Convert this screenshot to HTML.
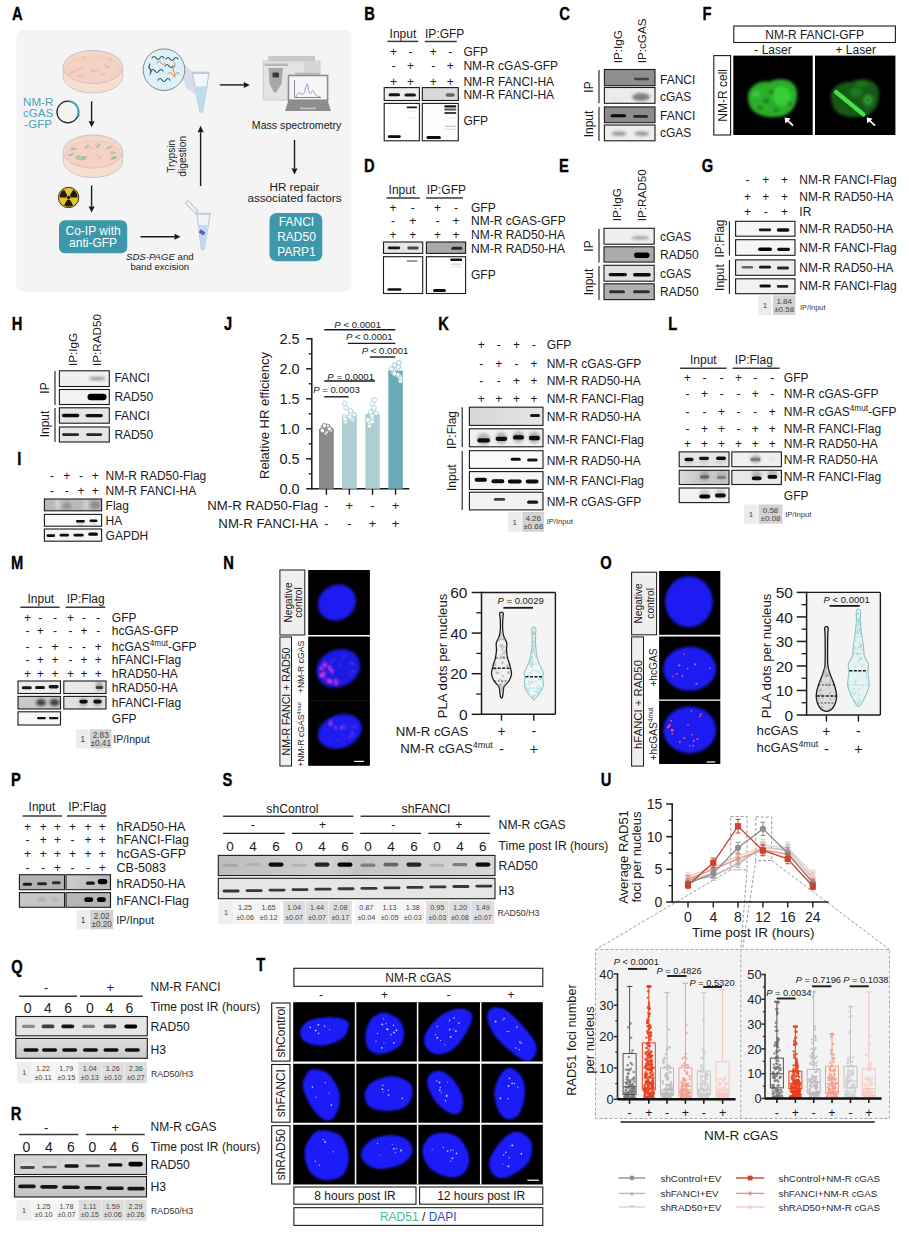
<!DOCTYPE html>
<html><head><meta charset="utf-8"><title>Figure</title>
<style>html,body{margin:0;padding:0;background:#fff;} svg{display:block;font-family:'Liberation Sans', Arial, sans-serif;}</style>
</head><body>
<svg width="909" height="1235" viewBox="0 0 909 1235">
<defs>
<filter id="b1" x="-50%" y="-100%" width="200%" height="300%"><feGaussianBlur stdDeviation="0.6"/></filter>
<filter id="b2" x="-50%" y="-100%" width="200%" height="300%"><feGaussianBlur stdDeviation="1.6"/></filter>
<filter id="b3" x="-50%" y="-50%" width="200%" height="200%"><feGaussianBlur stdDeviation="2.5"/></filter>
<filter id="b15" x="-50%" y="-50%" width="200%" height="200%"><feGaussianBlur stdDeviation="1.1"/></filter>
<filter id="bs" x="-50%" y="-50%" width="200%" height="200%"><feGaussianBlur stdDeviation="0.4"/></filter>
<linearGradient id="gD" x1="0" x2="1" y1="0" y2="0"><stop offset="0" stop-color="#8e8e8e"/><stop offset="1" stop-color="#c4c4c4"/></linearGradient>
<linearGradient id="gS" x1="0" x2="1" y1="0" y2="0"><stop offset="0" stop-color="#bdbdbd"/><stop offset="0.25" stop-color="#c8c8c8"/><stop offset="0.4" stop-color="#d2d2d2"/><stop offset="0.5" stop-color="#c4c4c4"/><stop offset="0.75" stop-color="#cfcfcf"/><stop offset="1" stop-color="#d8d8d8"/></linearGradient>
<linearGradient id="gK" x1="0" x2="1" y1="0" y2="0"><stop offset="0" stop-color="#d6d6d6"/><stop offset="1" stop-color="#e6e6e6"/></linearGradient>
<linearGradient id="gL" x1="0" x2="1" y1="0" y2="0"><stop offset="0" stop-color="#dcdcdc"/><stop offset="0.35" stop-color="#cacaca"/><stop offset="1" stop-color="#c6c6c6"/></linearGradient>
<linearGradient id="gP" x1="0" x2="1" y1="0" y2="0"><stop offset="0" stop-color="#cdcdcd"/><stop offset="1" stop-color="#b6b6b6"/></linearGradient>
<linearGradient id="gH3" x1="0" x2="0" y1="0" y2="1"><stop offset="0" stop-color="#dedede"/><stop offset="1" stop-color="#cacaca"/></linearGradient>
<linearGradient id="gH3b" x1="0" x2="0" y1="0" y2="1"><stop offset="0" stop-color="#d4d4d4"/><stop offset="1" stop-color="#c4c4c4"/></linearGradient>
</defs>
<rect width="909" height="1235" fill="#fff"/>
<text x="0" y="0" transform="translate(12.10,19.60) scale(0.8,1)" fill="#000" stroke="#000" stroke-width="0.35" style="font-size:18.4px;font-weight:bold">A</text>
<rect x="16.20" y="30.00" width="335.30" height="261.50" fill="#f4f4f4" rx="7" />
<path d="M63.2,67.0 L63.2,76.5 A29.7,16.5 0 0 0 122.6,76.5 L122.6,67.0 Z" fill="#f7dfcf" stroke="#c9c3cc" stroke-width="0.9"/>
<ellipse cx="92.9" cy="67.0" rx="29.7" ry="16.5" fill="#f4d7c6" stroke="#c6c3d2" stroke-width="1"/>
<ellipse cx="92.9" cy="69.5" rx="27.2" ry="13.5" fill="#f5d3c2" stroke="#e4c4b8" stroke-width="0.6"/>
<ellipse cx="81.4" cy="67.8" rx="3.2" ry="1.1" transform="rotate(-10.403586676153658 81.4 67.8)" fill="#eab3ad" opacity="0.5"/>
<ellipse cx="97.5" cy="69.3" rx="3.2" ry="1.1" transform="rotate(-34.75769126081495 97.5 69.3)" fill="#eab3ad" opacity="0.5"/>
<ellipse cx="71.5" cy="73.1" rx="3.2" ry="1.1" transform="rotate(-19.251678853759387 71.5 73.1)" fill="#eab3ad" opacity="0.5"/>
<ellipse cx="81.2" cy="75.9" rx="3.2" ry="1.1" transform="rotate(-2.378919398204161 81.2 75.9)" fill="#eab3ad" opacity="0.5"/>
<ellipse cx="107.7" cy="66.6" rx="3.2" ry="1.1" transform="rotate(11.125451243532957 107.7 66.6)" fill="#eab3ad" opacity="0.5"/>
<ellipse cx="77.5" cy="69.4" rx="3.2" ry="1.1" transform="rotate(29.443624571463744 77.5 69.4)" fill="#eab3ad" opacity="0.5"/>
<ellipse cx="93.9" cy="71.3" rx="3.2" ry="1.1" transform="rotate(13.712918029567405 93.9 71.3)" fill="#eab3ad" opacity="0.5"/>
<ellipse cx="73.7" cy="71.6" rx="3.2" ry="1.1" transform="rotate(7.287966634505409 73.7 71.6)" fill="#eab3ad" opacity="0.5"/>
<ellipse cx="84.2" cy="58.6" rx="3.2" ry="1.1" transform="rotate(29.242178958315648 84.2 58.6)" fill="#eab3ad" opacity="0.5"/>
<ellipse cx="91.7" cy="70.9" rx="3.2" ry="1.1" transform="rotate(30.305024020438537 91.7 70.9)" fill="#eab3ad" opacity="0.5"/>
<ellipse cx="102.3" cy="74.6" rx="3.2" ry="1.1" transform="rotate(-8.402927679940486 102.3 74.6)" fill="#eab3ad" opacity="0.5"/>
<ellipse cx="106.1" cy="66.0" rx="3.2" ry="1.1" transform="rotate(34.84693773636168 106.1 66.0)" fill="#eab3ad" opacity="0.5"/>
<ellipse cx="109.6" cy="59.8" rx="3.2" ry="1.1" transform="rotate(-29.122491183946487 109.6 59.8)" fill="#eab3ad" opacity="0.5"/>
<ellipse cx="80.4" cy="75.4" rx="3.2" ry="1.1" transform="rotate(-5.107050669805659 80.4 75.4)" fill="#eab3ad" opacity="0.5"/>
<text x="38.20" y="106.18" text-anchor="middle" fill="#4aa3b6" style="font-size:11.6px">NM-R</text>
<text x="38.20" y="117.08" text-anchor="middle" fill="#4aa3b6" style="font-size:11.6px">cGAS</text>
<text x="38.20" y="127.98" text-anchor="middle" fill="#4aa3b6" style="font-size:11.6px">-GFP</text>
<circle cx="67.8" cy="112" r="10.8" fill="none" stroke="#2a2a2a" stroke-width="1.3"/>
<path d="M70,101.3 A10.8,10.8 0 0 1 78.3,114.5" fill="none" stroke="#4aa3b6" stroke-width="1.8"/>
<polygon points="76.5,114.6 80.5,114.4 78.4,117.4" fill="#4aa3b6"/>
<line x1="91.60" y1="101.40" x2="91.60" y2="121.30" stroke="#1a1a1a" stroke-width="1.4" stroke-linecap="butt"/>
<polygon points="91.60,127.30 88.60,121.30 94.60,121.30" fill="#1a1a1a"/>
<path d="M63.2,151.5 L63.2,161.0 A29.7,16.5 0 0 0 122.6,161.0 L122.6,151.5 Z" fill="#f7dfcf" stroke="#c9c3cc" stroke-width="0.9"/>
<ellipse cx="92.9" cy="151.5" rx="29.7" ry="16.5" fill="#f4d7c6" stroke="#c6c3d2" stroke-width="1"/>
<ellipse cx="92.9" cy="154.0" rx="27.2" ry="13.5" fill="#f5d3c2" stroke="#e4c4b8" stroke-width="0.6"/>
<ellipse cx="98.3" cy="155.9" rx="3.2" ry="1.1" transform="rotate(23.615485245255734 98.3 155.9)" fill="#eab3ad" opacity="0.5"/>
<ellipse cx="112.4" cy="155.8" rx="3.2" ry="1.1" transform="rotate(33.78599973323335 112.4 155.8)" fill="#eab3ad" opacity="0.5"/>
<ellipse cx="72.2" cy="151.4" rx="3.2" ry="1.1" transform="rotate(35.468537359865095 72.2 151.4)" fill="#eab3ad" opacity="0.5"/>
<ellipse cx="99.5" cy="158.4" rx="3.2" ry="1.1" transform="rotate(-30.943522827748453 99.5 158.4)" fill="#eab3ad" opacity="0.5"/>
<ellipse cx="91.5" cy="147.9" rx="3.2" ry="1.1" transform="rotate(3.5008687388744306 91.5 147.9)" fill="#eab3ad" opacity="0.5"/>
<ellipse cx="96.2" cy="144.2" rx="3.2" ry="1.1" transform="rotate(-22.66161596289215 96.2 144.2)" fill="#eab3ad" opacity="0.5"/>
<ellipse cx="83.2" cy="158.7" rx="3.2" ry="1.1" transform="rotate(21.25803613033134 83.2 158.7)" fill="#5fb593" opacity="0.5"/>
<ellipse cx="77.9" cy="156.8" rx="3.2" ry="1.1" transform="rotate(-28.898606528087747 77.9 156.8)" fill="#5fb593" opacity="0.5"/>
<ellipse cx="98.1" cy="146.0" rx="3.2" ry="1.1" transform="rotate(-39.85801102379723 98.1 146.0)" fill="#5fb593" opacity="0.5"/>
<ellipse cx="109.2" cy="147.4" rx="3.2" ry="1.1" transform="rotate(-22.76150646202142 109.2 147.4)" fill="#5fb593" opacity="0.5"/>
<ellipse cx="114.1" cy="158.0" rx="3.2" ry="1.1" transform="rotate(-16.85558658024588 114.1 158.0)" fill="#5fb593" opacity="0.5"/>
<ellipse cx="113.2" cy="152.6" rx="3.2" ry="1.1" transform="rotate(14.226438180047381 113.2 152.6)" fill="#5fb593" opacity="0.5"/>
<ellipse cx="79.9" cy="159.1" rx="3.2" ry="1.1" transform="rotate(15.25135528855266 79.9 159.1)" fill="#5fb593" opacity="0.5"/>
<ellipse cx="113.4" cy="158.3" rx="3.2" ry="1.1" transform="rotate(-16.09688817169058 113.4 158.3)" fill="#5fb593" opacity="0.5"/>
<ellipse cx="86.8" cy="146.7" rx="3.2" ry="1.1" transform="rotate(-28.343847236745397 86.8 146.7)" fill="#5fb593" opacity="0.5"/>
<ellipse cx="73.8" cy="148.8" rx="3.2" ry="1.1" transform="rotate(8.248799792612346 73.8 148.8)" fill="#5fb593" opacity="0.5"/>
<ellipse cx="71.0" cy="154.8" rx="3.2" ry="1.1" transform="rotate(-12.968251069770787 71.0 154.8)" fill="#5fb593" opacity="0.5"/>
<ellipse cx="84.5" cy="157.1" rx="3.2" ry="1.1" transform="rotate(-1.54038506959688 84.5 157.1)" fill="#5fb593" opacity="0.5"/>
<circle cx="68.6" cy="197.5" r="10.2" fill="#e6c22c" stroke="#3a3020" stroke-width="1"/>
<path d="M69.90,195.25 L73.10,189.71 A9.0,9.0 0 0 0 64.10,189.71 L67.30,195.25 Z" fill="#1e1a14" transform="rotate(180 68.6 197.5)"/>
<path d="M66.00,197.50 L59.60,197.50 A9.0,9.0 0 0 0 64.10,205.29 L67.30,199.75 Z" fill="#1e1a14" transform="rotate(180 68.6 197.5)"/>
<path d="M69.90,199.75 L73.10,205.29 A9.0,9.0 0 0 0 77.60,197.50 L71.20,197.50 Z" fill="#1e1a14" transform="rotate(180 68.6 197.5)"/>
<circle cx="68.6" cy="197.5" r="1.8" fill="#1e1a14"/>
<line x1="91.60" y1="185.50" x2="91.60" y2="206.50" stroke="#1a1a1a" stroke-width="1.4" stroke-linecap="butt"/>
<polygon points="91.60,212.50 88.60,206.50 94.60,206.50" fill="#1a1a1a"/>
<rect x="59.00" y="220.20" width="68.20" height="33.00" fill="#3c98aa" rx="6" />
<text x="93.10" y="234.82" text-anchor="middle" fill="#ffffff" style="font-size:12px">Co-IP with</text>
<text x="93.10" y="246.62" text-anchor="middle" fill="#ffffff" style="font-size:12px">anti-GFP</text>
<line x1="140.50" y1="236.70" x2="174.50" y2="236.70" stroke="#1a1a1a" stroke-width="1.4" stroke-linecap="butt"/>
<polygon points="180.50,236.70 174.50,239.70 174.50,233.70" fill="#1a1a1a"/>
<text x="159.8" y="260.4" text-anchor="middle" fill="#1a1a1a" style="font-size:9.6px"><tspan font-style="italic">SDS-PAGE</tspan> and</text>
<text x="159.80" y="270.46" text-anchor="middle" fill="#1a1a1a" style="font-size:9.6px">band excision</text>
<path d="M196.8,213.8 L210.2,213.8 L209.4,219 L204,249.8 L201.4,249.8 L197.6,219 Z" fill="#eef4fb" stroke="#a8b6c6" stroke-width="0.8"/>
<path d="M198.6,225 L208.6,225 L204,249.4 L201.6,249.4 Z" fill="#c6d8f0"/>
<rect x="199.2" y="230.6" width="5.6" height="3.6" fill="#5565b0" transform="rotate(35 202 232.4)"/>
<rect x="195.6" y="212.6" width="15.2" height="2.2" fill="#c8cdd4"/>
<path d="M185.4,203.2 L188.2,200.6 L197.8,211.2 L195.2,213.4 Z" fill="#f2f2f6" stroke="#9aa2ae" stroke-width="0.8"/>
<line x1="200.60" y1="186.00" x2="200.60" y2="132.30" stroke="#1a1a1a" stroke-width="1.4" stroke-linecap="butt"/>
<polygon points="200.60,125.80 203.60,132.30 197.60,132.30" fill="#1a1a1a"/>
<text x="0" y="0" transform="translate(175.47,156.30) rotate(-90)" text-anchor="middle" fill="#1a1a1a" style="font-size:10.2px">Trypsin</text>
<text x="0" y="0" transform="translate(185.67,156.30) rotate(-90)" text-anchor="middle" fill="#1a1a1a" style="font-size:10.2px">digestion</text>
<path d="M176,57 L194,73 L201,98 L186,88 Z" fill="#d9d8ec" opacity="0.9"/>
<circle cx="164" cy="69.7" r="20.8" fill="#dcf0f5" stroke="#7f8a94" stroke-width="1"/>
<path d="M152,58 q2,-3 4,0 t4,0 t4,0" fill="none" stroke="#2b5566" stroke-width="1.2" stroke-linecap="round"/>
<path d="M166,59 q2,-3 4,0 t4,0 t4,0" fill="none" stroke="#2b5566" stroke-width="1.2" stroke-linecap="round"/>
<path d="M151,71 q2,-3 4,0 t4,0 t4,0" fill="none" stroke="#2b5566" stroke-width="1.2" stroke-linecap="round"/>
<path d="M158,80 q2,-3 4,0 t4,0 t4,0" fill="none" stroke="#2b5566" stroke-width="1.2" stroke-linecap="round"/>
<path d="M165,66 q2,-3 4,0 t4,0" fill="none" stroke="#2b5566" stroke-width="1.2" stroke-linecap="round"/>
<path d="M157,63 q2,-3 4,0 t4,0" fill="none" stroke="#d99a6a" stroke-width="1.2" stroke-linecap="round"/>
<path d="M168,74 q2,-3 4,0 t4,0 t3,0" fill="none" stroke="#d99a6a" stroke-width="1.2" stroke-linecap="round"/>
<path d="M174,62 q2,3 0,5 t0,5 t0,5" fill="none" stroke="#d99a6a" stroke-width="1.2" stroke-linecap="round"/>
<path d="M150,64 q-2,3 0,5 t0,5" fill="none" stroke="#2b5566" stroke-width="1.2" stroke-linecap="round"/>
<path d="M192.4,73 L209,73 L208.2,78 L202.6,112 L200,112 L193.2,78 Z" fill="#f0f6fa" stroke="#a9b4bf" stroke-width="0.8"/>
<path d="M193.8,86.4 L207.8,86.4 L202.6,111.6 L200.2,111.6 Z" fill="#bcdcea"/>
<rect x="191.8" y="71.6" width="17.8" height="2.4" fill="#c7cbd0"/>
<line x1="219.80" y1="84.90" x2="243.80" y2="84.90" stroke="#1a1a1a" stroke-width="1.4" stroke-linecap="butt"/>
<polygon points="249.80,84.90 243.80,87.90 243.80,81.90" fill="#1a1a1a"/>
<rect x="268.20" y="56.00" width="46.80" height="5.50" fill="#c9c9c9" />
<rect x="263.20" y="61.00" width="56.80" height="39.00" fill="#e3e3e3" stroke="#c6c6c6" stroke-width="0.8" />
<rect x="304.00" y="61.50" width="15.50" height="38.00" fill="#d6d6d6" />
<path d="M268.5,68 L283,68 L281.5,84 L276,92.5 L274,92.5 L269.5,84 Z" fill="#a8a8a8"/>
<rect x="272.50" y="72.50" width="6.50" height="5.00" fill="#3b3b3b" rx="1" />
<rect x="264.50" y="63.50" width="23.50" height="2.50" fill="#b7b7b7" />
<rect x="295.00" y="72.50" width="24.50" height="3.50" fill="#bdbdbd" />
<rect x="288.50" y="75.50" width="39.10" height="24.70" fill="#f6f6f9" stroke="#8e8e8e" stroke-width="1.6" />
<path d="M285,111 L331,111 L327.6,100.2 L288.5,100.2 Z" fill="#8d8d8d"/>
<rect x="300.00" y="107.60" width="16.00" height="1.60" fill="#c4c4c4" />
<path d="M294.5,80 L294.5,97.5 L321,97.5" fill="none" stroke="#555" stroke-width="0.7"/>
<path d="M296,97 Q299,90 301,94 Q303,96 305,91 Q307,80 308,86 Q309,96 311,93 Q313,88 315,94 Q317,97 320,97" fill="none" stroke="#8c8ccc" stroke-width="0.8"/>
<text x="296.60" y="128.62" text-anchor="middle" fill="#1a1a1a" style="font-size:10.6px">Mass spectrometry</text>
<line x1="294.50" y1="140.00" x2="294.50" y2="168.50" stroke="#1a1a1a" stroke-width="1.4" stroke-linecap="butt"/>
<polygon points="294.50,174.50 291.50,168.50 297.50,168.50" fill="#1a1a1a"/>
<text x="294.50" y="190.81" text-anchor="middle" fill="#1a1a1a" style="font-size:11.7px">HR repair</text>
<text x="294.50" y="202.31" text-anchor="middle" fill="#1a1a1a" style="font-size:11.7px">associated factors</text>
<rect x="269.50" y="213.00" width="52.80" height="48.30" fill="#3c98aa" rx="7" />
<text x="296.50" y="226.12" text-anchor="middle" fill="#ffffff" style="font-size:12px">FANCI</text>
<text x="296.50" y="240.92" text-anchor="middle" fill="#ffffff" style="font-size:12px">RAD50</text>
<text x="296.50" y="255.72" text-anchor="middle" fill="#ffffff" style="font-size:12px">PARP1</text>
<text x="0" y="0" transform="translate(364.23,19.80) scale(0.8,1)" fill="#000" stroke="#000" stroke-width="0.35" style="font-size:18.4px;font-weight:bold">B</text>
<text x="389.60" y="37.92" text-anchor="start" fill="#1a1a1a" style="font-size:12px">Input</text>
<line x1="387.50" y1="41.40" x2="418.30" y2="41.40" stroke="#3a3a3a" stroke-width="1.5" stroke-linecap="butt"/>
<text x="425.00" y="37.92" text-anchor="start" fill="#1a1a1a" style="font-size:12px">IP:GFP</text>
<line x1="424.80" y1="41.40" x2="456.80" y2="41.40" stroke="#3a3a3a" stroke-width="1.5" stroke-linecap="butt"/>
<text x="393.40" y="56.32" text-anchor="middle" fill="#1a1a1a" style="font-size:12px">+</text>
<text x="410.60" y="56.32" text-anchor="middle" fill="#1a1a1a" style="font-size:12px">-</text>
<text x="433.30" y="56.32" text-anchor="middle" fill="#1a1a1a" style="font-size:12px">+</text>
<text x="450.20" y="56.32" text-anchor="middle" fill="#1a1a1a" style="font-size:12px">-</text>
<text x="463.40" y="56.32" text-anchor="start" fill="#1a1a1a" style="font-size:12px">GFP</text>
<text x="393.40" y="70.32" text-anchor="middle" fill="#1a1a1a" style="font-size:12px">-</text>
<text x="410.60" y="70.32" text-anchor="middle" fill="#1a1a1a" style="font-size:12px">+</text>
<text x="433.30" y="70.32" text-anchor="middle" fill="#1a1a1a" style="font-size:12px">-</text>
<text x="450.20" y="70.32" text-anchor="middle" fill="#1a1a1a" style="font-size:12px">+</text>
<text x="463.40" y="70.32" text-anchor="start" fill="#1a1a1a" style="font-size:12px">NM-R cGAS-GFP</text>
<text x="393.40" y="85.72" text-anchor="middle" fill="#1a1a1a" style="font-size:12px">+</text>
<text x="410.60" y="85.72" text-anchor="middle" fill="#1a1a1a" style="font-size:12px">+</text>
<text x="433.30" y="85.72" text-anchor="middle" fill="#1a1a1a" style="font-size:12px">+</text>
<text x="450.20" y="85.72" text-anchor="middle" fill="#1a1a1a" style="font-size:12px">+</text>
<text x="463.40" y="85.72" text-anchor="start" fill="#1a1a1a" style="font-size:12px">NM-R FANCI-HA</text>
<clipPath id="c128"><rect x="384.20" y="87.60" width="35.20" height="12.90"/></clipPath>
<g clip-path="url(#c128)">
<rect x="384.20" y="87.60" width="35.20" height="12.90" fill="#eeeeee" />
<rect x="388.55" y="93.30" width="11.50" height="3.00" rx="1.50" fill="rgb(20,20,20)" filter="url(#b1)"/>
<rect x="404.45" y="93.50" width="11.50" height="3.00" rx="1.50" fill="rgb(25,25,25)" filter="url(#b1)"/>
</g>
<rect x="384.20" y="87.60" width="35.20" height="12.90" fill="none" stroke="#1a1a1a" stroke-width="1.1" />
<clipPath id="c135"><rect x="422.30" y="87.60" width="36.00" height="12.90"/></clipPath>
<g clip-path="url(#c135)">
<rect x="422.30" y="87.60" width="36.00" height="12.90" fill="#d9d9d9" />
<rect x="445.70" y="93.20" width="9.00" height="3.60" rx="1.80" fill="rgb(102,102,102)" filter="url(#b1)"/>
</g>
<rect x="422.30" y="87.60" width="36.00" height="12.90" fill="none" stroke="#1a1a1a" stroke-width="1.1" />
<text x="463.40" y="99.32" text-anchor="start" fill="#1a1a1a" style="font-size:12px">NM-R FANCI-HA</text>
<clipPath id="c142"><rect x="384.20" y="103.40" width="35.20" height="37.40"/></clipPath>
<g clip-path="url(#c142)">
<rect x="384.20" y="103.40" width="35.20" height="37.40" fill="#ffffff" />
<rect x="387.80" y="135.20" width="13.00" height="2.80" rx="1.40" fill="rgb(7,7,7)" filter="url(#b1)"/>
<rect x="406.65" y="106.60" width="10.50" height="1.60" rx="0.80" fill="rgb(25,25,25)" filter="url(#b1)"/>
<rect x="407.90" y="110.40" width="8.00" height="1.20" rx="0.60" fill="rgb(224,224,224)" filter="url(#b1)"/>
<rect x="407.90" y="117.40" width="8.00" height="1.20" rx="0.60" fill="rgb(229,229,229)" filter="url(#b1)"/>
</g>
<rect x="384.20" y="103.40" width="35.20" height="37.40" fill="none" stroke="#1a1a1a" stroke-width="1.1" />
<clipPath id="c151"><rect x="422.30" y="103.40" width="36.00" height="37.40"/></clipPath>
<g clip-path="url(#c151)">
<rect x="422.30" y="103.40" width="36.00" height="37.40" fill="#fdfdfd" />
<rect x="426.50" y="136.10" width="14.40" height="3.00" rx="1.50" fill="rgb(7,7,7)" filter="url(#b1)"/>
<rect x="444.30" y="105.20" width="12.00" height="2.40" rx="1.20" fill="rgb(25,25,25)" filter="url(#b1)"/>
<rect x="444.30" y="108.60" width="12.00" height="2.00" rx="1.00" fill="rgb(76,76,76)" filter="url(#b1)"/>
<rect x="444.30" y="112.10" width="12.00" height="1.80" rx="0.90" fill="rgb(63,63,63)" filter="url(#b1)"/>
<rect x="444.80" y="125.70" width="11.00" height="1.40" rx="0.70" fill="rgb(198,198,198)" filter="url(#b1)"/>
<rect x="444.80" y="128.80" width="11.00" height="1.20" rx="0.60" fill="rgb(224,224,224)" filter="url(#b1)"/>
<rect x="444.80" y="117.40" width="11.00" height="1.20" rx="0.60" fill="rgb(234,234,234)" filter="url(#b1)"/>
</g>
<rect x="422.30" y="103.40" width="36.00" height="37.40" fill="none" stroke="#1a1a1a" stroke-width="1.1" />
<text x="463.40" y="124.92" text-anchor="start" fill="#1a1a1a" style="font-size:12px">GFP</text>
<text x="0" y="0" transform="translate(559.15,20.00) scale(0.8,1)" fill="#000" stroke="#000" stroke-width="0.35" style="font-size:18.4px;font-weight:bold">C</text>
<text x="0" y="0" transform="translate(622.21,63.30) rotate(-90)" text-anchor="start" fill="#1a1a1a" style="font-size:11.7px">IP:IgG</text>
<text x="0" y="0" transform="translate(646.11,63.30) rotate(-90)" text-anchor="start" fill="#1a1a1a" style="font-size:11.7px">IP:cGAS</text>
<clipPath id="c167"><rect x="604.40" y="69.50" width="50.60" height="16.20"/></clipPath>
<g clip-path="url(#c167)">
<rect x="604.40" y="69.50" width="50.60" height="16.20" fill="#8e8e8e" />
<rect x="634.10" y="77.70" width="15.00" height="2.60" rx="1.30" fill="rgb(63,63,63)" filter="url(#b1)"/>
</g>
<rect x="604.40" y="69.50" width="50.60" height="16.20" fill="none" stroke="#1a1a1a" stroke-width="1.1" />
<clipPath id="c173"><rect x="604.40" y="87.50" width="50.60" height="15.80"/></clipPath>
<g clip-path="url(#c173)">
<rect x="604.40" y="87.50" width="50.60" height="15.80" fill="#ececec" />
<ellipse cx="641.00" cy="97.00" rx="9.00" ry="4.00" fill="rgb(127,127,127)" filter="url(#b2)"/>
<ellipse cx="617.00" cy="100.50" rx="6.00" ry="2.00" fill="rgb(229,229,229)" filter="url(#b2)"/>
</g>
<rect x="604.40" y="87.50" width="50.60" height="15.80" fill="none" stroke="#1a1a1a" stroke-width="1.1" />
<clipPath id="c180"><rect x="604.40" y="106.90" width="50.60" height="15.80"/></clipPath>
<g clip-path="url(#c180)">
<rect x="604.40" y="106.90" width="50.60" height="15.80" fill="#8c8c8c" />
<rect x="610.55" y="114.30" width="15.50" height="3.00" rx="1.50" fill="rgb(7,7,7)" filter="url(#b1)"/>
<rect x="633.30" y="115.10" width="14.60" height="2.60" rx="1.30" fill="rgb(38,38,38)" filter="url(#b1)"/>
</g>
<rect x="604.40" y="106.90" width="50.60" height="15.80" fill="none" stroke="#1a1a1a" stroke-width="1.1" />
<clipPath id="c187"><rect x="604.40" y="125.00" width="50.60" height="15.80"/></clipPath>
<g clip-path="url(#c187)">
<rect x="604.40" y="125.00" width="50.60" height="15.80" fill="#eeeeee" />
<ellipse cx="619.00" cy="133.60" rx="7.50" ry="2.20" fill="rgb(147,147,147)" filter="url(#b2)"/>
<ellipse cx="641.70" cy="133.60" rx="7.50" ry="2.20" fill="rgb(147,147,147)" filter="url(#b2)"/>
</g>
<rect x="604.40" y="125.00" width="50.60" height="15.80" fill="none" stroke="#1a1a1a" stroke-width="1.1" />
<text x="660.00" y="84.32" text-anchor="start" fill="#1a1a1a" style="font-size:12px">FANCI</text>
<text x="660.00" y="101.12" text-anchor="start" fill="#1a1a1a" style="font-size:12px">cGAS</text>
<text x="660.00" y="120.32" text-anchor="start" fill="#1a1a1a" style="font-size:12px">FANCI</text>
<text x="660.00" y="136.72" text-anchor="start" fill="#1a1a1a" style="font-size:12px">cGAS</text>
<text x="0" y="0" transform="translate(593.32,87.00) rotate(-90)" text-anchor="middle" fill="#1a1a1a" style="font-size:12px">IP</text>
<line x1="599.00" y1="70.00" x2="599.00" y2="103.30" stroke="#1a1a1a" stroke-width="1.1" stroke-linecap="butt"/>
<text x="0" y="0" transform="translate(593.32,124.00) rotate(-90)" text-anchor="middle" fill="#1a1a1a" style="font-size:12px">Input</text>
<line x1="599.00" y1="107.00" x2="599.00" y2="141.00" stroke="#1a1a1a" stroke-width="1.1" stroke-linecap="butt"/>
<text x="0" y="0" transform="translate(363.93,172.00) scale(0.8,1)" fill="#000" stroke="#000" stroke-width="0.35" style="font-size:18.4px;font-weight:bold">D</text>
<text x="388.60" y="193.92" text-anchor="start" fill="#1a1a1a" style="font-size:12px">Input</text>
<line x1="386.40" y1="198.00" x2="419.80" y2="198.00" stroke="#3a3a3a" stroke-width="1.5" stroke-linecap="butt"/>
<text x="426.70" y="193.92" text-anchor="start" fill="#1a1a1a" style="font-size:12px">IP:GFP</text>
<line x1="426.00" y1="198.00" x2="463.00" y2="198.00" stroke="#3a3a3a" stroke-width="1.5" stroke-linecap="butt"/>
<text x="393.00" y="211.92" text-anchor="middle" fill="#1a1a1a" style="font-size:12px">+</text>
<text x="412.80" y="211.92" text-anchor="middle" fill="#1a1a1a" style="font-size:12px">-</text>
<text x="437.40" y="211.92" text-anchor="middle" fill="#1a1a1a" style="font-size:12px">+</text>
<text x="456.00" y="211.92" text-anchor="middle" fill="#1a1a1a" style="font-size:12px">-</text>
<text x="471.00" y="211.92" text-anchor="start" fill="#1a1a1a" style="font-size:12px">GFP</text>
<text x="393.00" y="225.12" text-anchor="middle" fill="#1a1a1a" style="font-size:12px">-</text>
<text x="412.80" y="225.12" text-anchor="middle" fill="#1a1a1a" style="font-size:12px">+</text>
<text x="437.40" y="225.12" text-anchor="middle" fill="#1a1a1a" style="font-size:12px">-</text>
<text x="456.00" y="225.12" text-anchor="middle" fill="#1a1a1a" style="font-size:12px">+</text>
<text x="471.00" y="225.12" text-anchor="start" fill="#1a1a1a" style="font-size:12px">NM-R cGAS-GFP</text>
<text x="393.00" y="239.02" text-anchor="middle" fill="#1a1a1a" style="font-size:12px">+</text>
<text x="412.80" y="239.02" text-anchor="middle" fill="#1a1a1a" style="font-size:12px">+</text>
<text x="437.40" y="239.02" text-anchor="middle" fill="#1a1a1a" style="font-size:12px">+</text>
<text x="456.00" y="239.02" text-anchor="middle" fill="#1a1a1a" style="font-size:12px">+</text>
<text x="471.00" y="239.02" text-anchor="start" fill="#1a1a1a" style="font-size:12px">NM-R RAD50-HA</text>
<clipPath id="c222"><rect x="383.50" y="242.00" width="39.20" height="11.40"/></clipPath>
<g clip-path="url(#c222)">
<rect x="383.50" y="242.00" width="39.20" height="11.40" fill="#e6e6e6" />
<rect x="387.80" y="246.50" width="12.40" height="2.80" rx="1.40" fill="rgb(20,20,20)" filter="url(#b1)"/>
<rect x="407.30" y="246.60" width="11.40" height="2.80" rx="1.40" fill="rgb(71,71,71)" filter="url(#b1)"/>
</g>
<rect x="383.50" y="242.00" width="39.20" height="11.40" fill="none" stroke="#1a1a1a" stroke-width="1.1" />
<clipPath id="c229"><rect x="426.40" y="242.00" width="39.20" height="11.40"/></clipPath>
<g clip-path="url(#c229)">
<rect x="426.40" y="242.00" width="39.20" height="11.40" fill="#a9a9a9" />
<rect x="451.30" y="246.70" width="11.00" height="3.00" rx="1.50" fill="rgb(38,38,38)" filter="url(#b1)"/>
</g>
<rect x="426.40" y="242.00" width="39.20" height="11.40" fill="none" stroke="#1a1a1a" stroke-width="1.1" />
<text x="471.00" y="252.62" text-anchor="start" fill="#1a1a1a" style="font-size:12px">NM-R RAD50-HA</text>
<clipPath id="c236"><rect x="383.50" y="256.70" width="39.20" height="36.80"/></clipPath>
<g clip-path="url(#c236)">
<rect x="383.50" y="256.70" width="39.20" height="36.80" fill="#ffffff" />
<rect x="387.40" y="288.30" width="14.00" height="2.40" rx="1.20" fill="rgb(12,12,12)" filter="url(#b1)"/>
<rect x="406.50" y="260.10" width="11.00" height="1.80" rx="0.90" fill="rgb(158,158,158)" filter="url(#b1)"/>
</g>
<rect x="383.50" y="256.70" width="39.20" height="36.80" fill="none" stroke="#1a1a1a" stroke-width="1.1" />
<clipPath id="c243"><rect x="426.40" y="256.70" width="39.20" height="36.80"/></clipPath>
<g clip-path="url(#c243)">
<rect x="426.40" y="256.70" width="39.20" height="36.80" fill="#ffffff" />
<rect x="433.00" y="289.00" width="12.80" height="3.00" rx="1.50" fill="rgb(7,7,7)" filter="url(#b1)"/>
<rect x="450.20" y="258.60" width="12.00" height="2.40" rx="1.20" fill="rgb(20,20,20)" filter="url(#b1)"/>
<rect x="450.70" y="263.40" width="11.00" height="1.60" rx="0.80" fill="rgb(216,216,216)" filter="url(#b1)"/>
<rect x="450.70" y="266.10" width="11.00" height="1.40" rx="0.70" fill="rgb(234,234,234)" filter="url(#b1)"/>
</g>
<rect x="426.40" y="256.70" width="39.20" height="36.80" fill="none" stroke="#1a1a1a" stroke-width="1.1" />
<text x="471.00" y="279.32" text-anchor="start" fill="#1a1a1a" style="font-size:12px">GFP</text>
<text x="0" y="0" transform="translate(558.93,171.80) scale(0.8,1)" fill="#000" stroke="#000" stroke-width="0.35" style="font-size:18.4px;font-weight:bold">E</text>
<text x="0" y="0" transform="translate(621.41,221.20) rotate(-90)" text-anchor="start" fill="#1a1a1a" style="font-size:11.7px">IP:IgG</text>
<text x="0" y="0" transform="translate(646.11,221.20) rotate(-90)" text-anchor="start" fill="#1a1a1a" style="font-size:11.7px">IP:RAD50</text>
<clipPath id="c256"><rect x="604.00" y="228.30" width="50.20" height="15.90"/></clipPath>
<g clip-path="url(#c256)">
<rect x="604.00" y="228.30" width="50.20" height="15.90" fill="#efefef" />
<ellipse cx="640.30" cy="237.90" rx="8.90" ry="1.70" fill="rgb(147,147,147)" filter="url(#b2)"/>
</g>
<rect x="604.00" y="228.30" width="50.20" height="15.90" fill="none" stroke="#1a1a1a" stroke-width="1.1" />
<clipPath id="c262"><rect x="604.00" y="246.80" width="50.20" height="15.30"/></clipPath>
<g clip-path="url(#c262)">
<rect x="604.00" y="246.80" width="50.20" height="15.30" fill="#ababab" />
<rect x="634.05" y="252.50" width="15.50" height="5.40" rx="2.70" fill="rgb(0,0,0)" filter="url(#b1)"/>
</g>
<rect x="604.00" y="246.80" width="50.20" height="15.30" fill="none" stroke="#1a1a1a" stroke-width="1.1" />
<clipPath id="c268"><rect x="604.00" y="265.30" width="50.20" height="15.90"/></clipPath>
<g clip-path="url(#c268)">
<rect x="604.00" y="265.30" width="50.20" height="15.90" fill="#e2e2e2" />
<rect x="608.60" y="272.90" width="18.40" height="3.40" rx="1.70" fill="rgb(7,7,7)" filter="url(#b1)"/>
<rect x="633.00" y="273.10" width="17.80" height="3.40" rx="1.70" fill="rgb(12,12,12)" filter="url(#b1)"/>
</g>
<rect x="604.00" y="265.30" width="50.20" height="15.90" fill="none" stroke="#1a1a1a" stroke-width="1.1" />
<clipPath id="c275"><rect x="604.00" y="283.80" width="50.20" height="15.80"/></clipPath>
<g clip-path="url(#c275)">
<rect x="604.00" y="283.80" width="50.20" height="15.80" fill="#b0b0b0" />
<rect x="609.00" y="290.20" width="16.00" height="3.00" rx="1.50" fill="rgb(45,45,45)" filter="url(#b1)"/>
<rect x="633.00" y="290.20" width="16.80" height="3.00" rx="1.50" fill="rgb(45,45,45)" filter="url(#b1)"/>
</g>
<rect x="604.00" y="283.80" width="50.20" height="15.80" fill="none" stroke="#1a1a1a" stroke-width="1.1" />
<text x="660.00" y="240.62" text-anchor="start" fill="#1a1a1a" style="font-size:12px">cGAS</text>
<text x="660.00" y="259.12" text-anchor="start" fill="#1a1a1a" style="font-size:12px">RAD50</text>
<text x="660.00" y="278.32" text-anchor="start" fill="#1a1a1a" style="font-size:12px">cGAS</text>
<text x="660.00" y="296.32" text-anchor="start" fill="#1a1a1a" style="font-size:12px">RAD50</text>
<text x="0" y="0" transform="translate(593.32,246.00) rotate(-90)" text-anchor="middle" fill="#1a1a1a" style="font-size:12px">IP</text>
<line x1="599.00" y1="229.00" x2="599.00" y2="262.50" stroke="#1a1a1a" stroke-width="1.1" stroke-linecap="butt"/>
<text x="0" y="0" transform="translate(593.32,282.00) rotate(-90)" text-anchor="middle" fill="#1a1a1a" style="font-size:12px">Input</text>
<line x1="599.00" y1="266.00" x2="599.00" y2="300.00" stroke="#1a1a1a" stroke-width="1.1" stroke-linecap="butt"/>
<text x="0" y="0" transform="translate(702.43,19.70) scale(0.8,1)" fill="#000" stroke="#000" stroke-width="0.35" style="font-size:18.4px;font-weight:bold">F</text>
<rect x="733.80" y="26.00" width="161.60" height="16.50" fill="#fff" stroke="#1a1a1a" stroke-width="1.1" />
<text x="814.60" y="38.62" text-anchor="middle" fill="#1a1a1a" style="font-size:12px">NM-R FANCI-GFP</text>
<text x="773.00" y="53.72" text-anchor="middle" fill="#1a1a1a" style="font-size:12px">- Laser</text>
<text x="855.70" y="53.72" text-anchor="middle" fill="#1a1a1a" style="font-size:12px">+ Laser</text>
<rect x="713.80" y="55.60" width="16.80" height="79.40" fill="#fff" stroke="#1a1a1a" stroke-width="1.1" />
<text x="0" y="0" transform="translate(726.52,95.30) rotate(-90)" text-anchor="middle" fill="#1a1a1a" style="font-size:12px">NM-R cell</text>
<rect x="733.30" y="55.60" width="79.40" height="79.40" fill="#000" />
<rect x="815.00" y="55.60" width="80.40" height="79.40" fill="#000" />
<g filter="url(#b2)"><path d="M748,97 C748,86 760,80 770,82 C776,78 790,78 795,86 C799,93 797,106 790,112 C783,118 768,119 758,114 C750,110 748,104 748,97 Z" fill="#2aae2a"/><ellipse cx="782" cy="96" rx="9" ry="10" fill="#38cc38"/><ellipse cx="756" cy="94" rx="4" ry="3" fill="#40c840"/></g>
<g filter="url(#b15)" opacity="0.55"><ellipse cx="766" cy="101" rx="3" ry="2.2" fill="#0d5a0d"/><ellipse cx="771" cy="92" rx="2.5" ry="2" fill="#0d5a0d"/><ellipse cx="760" cy="108" rx="3" ry="2" fill="#126a12"/><ellipse cx="790" cy="104" rx="2" ry="2.5" fill="#126a12"/><ellipse cx="776" cy="110" rx="2.5" ry="1.8" fill="#0d5a0d"/></g>
<g filter="url(#b2)"><path d="M831,99 C829,88 840,81 852,82 C858,78 872,78 877,86 C881,93 879,106 872,112 C865,118 850,119 840,114 C833,110 832,104 831,99 Z" fill="#135a13"/><ellipse cx="868" cy="100" rx="5" ry="6" fill="#2c8a2c"/><ellipse cx="856" cy="92" rx="6" ry="5" fill="#1f7a1f"/><ellipse cx="862" cy="84" rx="6" ry="3" fill="#1d761d"/></g>
<g filter="url(#bs)" opacity="0.6"><circle cx="868" cy="100" r="3.2" fill="none" stroke="#3aa83a" stroke-width="1"/></g>
<line x1="836" y1="92" x2="863.5" y2="114.5" stroke="#48e048" stroke-width="4.2" stroke-linecap="round" filter="url(#b1)"/>
<line x1="793.0" y1="125.6" x2="786.1" y2="119.1" stroke="#fff" stroke-width="1.7"/>
<polygon points="784.6,117.6 790.6,118.4 785.4,123.6" fill="#fff"/>
<line x1="875.0" y1="125.6" x2="868.1" y2="119.1" stroke="#fff" stroke-width="1.7"/>
<polygon points="866.6,117.6 872.6,118.4 867.4,123.6" fill="#fff"/>
<text x="0" y="0" transform="translate(701.75,172.00) scale(0.8,1)" fill="#000" stroke="#000" stroke-width="0.35" style="font-size:18.4px;font-weight:bold">G</text>
<text x="747.50" y="184.22" text-anchor="middle" fill="#1a1a1a" style="font-size:12px">-</text>
<text x="765.80" y="184.22" text-anchor="middle" fill="#1a1a1a" style="font-size:12px">+</text>
<text x="784.50" y="184.22" text-anchor="middle" fill="#1a1a1a" style="font-size:12px">+</text>
<text x="799.30" y="184.22" text-anchor="start" fill="#1a1a1a" style="font-size:12px">NM-R FANCI-Flag</text>
<text x="747.50" y="201.02" text-anchor="middle" fill="#1a1a1a" style="font-size:12px">+</text>
<text x="765.80" y="201.02" text-anchor="middle" fill="#1a1a1a" style="font-size:12px">+</text>
<text x="784.50" y="201.02" text-anchor="middle" fill="#1a1a1a" style="font-size:12px">+</text>
<text x="799.30" y="201.02" text-anchor="start" fill="#1a1a1a" style="font-size:12px">NM-R RAD50-HA</text>
<text x="747.50" y="215.92" text-anchor="middle" fill="#1a1a1a" style="font-size:12px">+</text>
<text x="765.80" y="215.92" text-anchor="middle" fill="#1a1a1a" style="font-size:12px">-</text>
<text x="784.50" y="215.92" text-anchor="middle" fill="#1a1a1a" style="font-size:12px">+</text>
<text x="799.30" y="215.92" text-anchor="start" fill="#1a1a1a" style="font-size:12px">IR</text>
<clipPath id="c321"><rect x="735.60" y="221.30" width="59.40" height="14.90"/></clipPath>
<g clip-path="url(#c321)">
<rect x="735.60" y="221.30" width="59.40" height="14.90" fill="#f6f6f6" />
<rect x="758.85" y="228.40" width="12.30" height="2.80" rx="1.40" fill="rgb(20,20,20)" filter="url(#b1)"/>
<rect x="776.85" y="228.30" width="12.50" height="3.40" rx="1.70" fill="rgb(12,12,12)" filter="url(#b1)"/>
</g>
<rect x="735.60" y="221.30" width="59.40" height="14.90" fill="none" stroke="#1a1a1a" stroke-width="1.1" />
<clipPath id="c328"><rect x="735.60" y="239.70" width="59.40" height="15.60"/></clipPath>
<g clip-path="url(#c328)">
<rect x="735.60" y="239.70" width="59.40" height="15.60" fill="#f6f6f6" />
<rect x="758.05" y="247.50" width="13.90" height="3.60" rx="1.80" fill="rgb(5,5,5)" filter="url(#b1)"/>
<rect x="777.20" y="247.70" width="12.80" height="3.20" rx="1.60" fill="rgb(10,10,10)" filter="url(#b1)"/>
</g>
<rect x="735.60" y="239.70" width="59.40" height="15.60" fill="none" stroke="#1a1a1a" stroke-width="1.1" />
<clipPath id="c335"><rect x="735.60" y="259.90" width="59.40" height="15.40"/></clipPath>
<g clip-path="url(#c335)">
<rect x="735.60" y="259.90" width="59.40" height="15.40" fill="#ebebeb" />
<rect x="741.55" y="265.90" width="11.50" height="2.60" rx="1.30" fill="rgb(102,102,102)" filter="url(#b1)"/>
<rect x="759.00" y="265.80" width="12.00" height="2.80" rx="1.40" fill="rgb(20,20,20)" filter="url(#b1)"/>
<rect x="777.00" y="266.60" width="12.00" height="2.80" rx="1.40" fill="rgb(38,38,38)" filter="url(#b1)"/>
</g>
<rect x="735.60" y="259.90" width="59.40" height="15.40" fill="none" stroke="#1a1a1a" stroke-width="1.1" />
<clipPath id="c343"><rect x="735.60" y="278.80" width="59.40" height="14.90"/></clipPath>
<g clip-path="url(#c343)">
<rect x="735.60" y="278.80" width="59.40" height="14.90" fill="#f2f2f2" />
<rect x="759.45" y="284.50" width="11.50" height="3.00" rx="1.50" fill="rgb(17,17,17)" filter="url(#b1)"/>
<rect x="776.85" y="285.00" width="11.50" height="2.80" rx="1.40" fill="rgb(38,38,38)" filter="url(#b1)"/>
</g>
<rect x="735.60" y="278.80" width="59.40" height="14.90" fill="none" stroke="#1a1a1a" stroke-width="1.1" />
<text x="799.30" y="232.52" text-anchor="start" fill="#1a1a1a" style="font-size:12px">NM-R RAD50-HA</text>
<text x="799.30" y="252.02" text-anchor="start" fill="#1a1a1a" style="font-size:12px">NM-R FANCI-Flag</text>
<text x="799.30" y="271.62" text-anchor="start" fill="#1a1a1a" style="font-size:12px">NM-R RAD50-HA</text>
<text x="799.30" y="290.02" text-anchor="start" fill="#1a1a1a" style="font-size:12px">NM-R FANCI-Flag</text>
<text x="0" y="0" transform="translate(723.82,238.50) rotate(-90)" text-anchor="middle" fill="#1a1a1a" style="font-size:12px">IP:Flag</text>
<line x1="729.40" y1="221.30" x2="729.40" y2="255.50" stroke="#1a1a1a" stroke-width="1.1" stroke-linecap="butt"/>
<text x="0" y="0" transform="translate(723.82,277.60) rotate(-90)" text-anchor="middle" fill="#1a1a1a" style="font-size:12px">Input</text>
<line x1="729.40" y1="260.00" x2="729.40" y2="294.00" stroke="#1a1a1a" stroke-width="1.1" stroke-linecap="butt"/>
<rect x="758.60" y="295.30" width="12.70" height="19.70" fill="#ececec" />
<text x="764.95" y="308.03" text-anchor="middle" fill="#444" style="font-size:8px">1</text>
<rect x="773.00" y="295.30" width="22.40" height="19.70" fill="#d2d2d2" />
<text x="784.20" y="304.09" text-anchor="middle" fill="#444" style="font-size:8px">1.84</text>
<text x="784.20" y="312.36" text-anchor="middle" fill="#444" style="font-size:8px">±0.58</text>
<text x="800.00" y="309.66" text-anchor="start" fill="#333" style="font-size:7.4px">IP/Input</text>
<text x="0" y="0" transform="translate(11.73,329.80) scale(0.8,1)" fill="#000" stroke="#000" stroke-width="0.35" style="font-size:18.4px;font-weight:bold">H</text>
<text x="0" y="0" transform="translate(76.81,366.00) rotate(-90)" text-anchor="start" fill="#1a1a1a" style="font-size:11.7px">IP:IgG</text>
<text x="0" y="0" transform="translate(101.01,366.00) rotate(-90)" text-anchor="start" fill="#1a1a1a" style="font-size:11.7px">IP:RAD50</text>
<clipPath id="c367"><rect x="59.40" y="370.80" width="49.90" height="15.70"/></clipPath>
<g clip-path="url(#c367)">
<rect x="59.40" y="370.80" width="49.90" height="15.70" fill="#f0f0f0" />
<ellipse cx="97.20" cy="378.50" rx="8.50" ry="1.80" fill="rgb(147,147,147)" filter="url(#b2)"/>
<ellipse cx="72.00" cy="378.60" rx="7.00" ry="1.50" fill="rgb(234,234,234)" filter="url(#b2)"/>
</g>
<rect x="59.40" y="370.80" width="49.90" height="15.70" fill="none" stroke="#1a1a1a" stroke-width="1.1" />
<clipPath id="c374"><rect x="59.40" y="389.50" width="49.90" height="15.00"/></clipPath>
<g clip-path="url(#c374)">
<rect x="59.40" y="389.50" width="49.90" height="15.00" fill="#f3f3f3" />
<rect x="87.50" y="393.80" width="19.00" height="6.40" rx="3.20" fill="rgb(0,0,0)" filter="url(#b1)"/>
</g>
<rect x="59.40" y="389.50" width="49.90" height="15.00" fill="none" stroke="#1a1a1a" stroke-width="1.1" />
<clipPath id="c380"><rect x="59.40" y="407.80" width="49.90" height="15.40"/></clipPath>
<g clip-path="url(#c380)">
<rect x="59.40" y="407.80" width="49.90" height="15.40" fill="#e6e6e6" />
<rect x="61.90" y="413.80" width="17.40" height="3.40" rx="1.70" fill="rgb(10,10,10)" filter="url(#b1)"/>
<rect x="85.50" y="413.90" width="17.40" height="3.40" rx="1.70" fill="rgb(17,17,17)" filter="url(#b1)"/>
</g>
<rect x="59.40" y="407.80" width="49.90" height="15.40" fill="none" stroke="#1a1a1a" stroke-width="1.1" />
<clipPath id="c387"><rect x="59.40" y="427.00" width="49.90" height="15.00"/></clipPath>
<g clip-path="url(#c387)">
<rect x="59.40" y="427.00" width="49.90" height="15.00" fill="#e6e6e6" />
<rect x="62.10" y="433.20" width="17.00" height="2.80" rx="1.40" fill="rgb(38,38,38)" filter="url(#b1)"/>
<rect x="86.20" y="433.20" width="16.00" height="2.80" rx="1.40" fill="rgb(38,38,38)" filter="url(#b1)"/>
</g>
<rect x="59.40" y="427.00" width="49.90" height="15.00" fill="none" stroke="#1a1a1a" stroke-width="1.1" />
<text x="114.40" y="382.32" text-anchor="start" fill="#1a1a1a" style="font-size:12px">FANCI</text>
<text x="114.40" y="401.12" text-anchor="start" fill="#1a1a1a" style="font-size:12px">RAD50</text>
<text x="114.40" y="419.82" text-anchor="start" fill="#1a1a1a" style="font-size:12px">FANCI</text>
<text x="114.40" y="439.02" text-anchor="start" fill="#1a1a1a" style="font-size:12px">RAD50</text>
<text x="0" y="0" transform="translate(49.32,388.00) rotate(-90)" text-anchor="middle" fill="#1a1a1a" style="font-size:12px">IP</text>
<line x1="55.00" y1="371.00" x2="55.00" y2="405.00" stroke="#1a1a1a" stroke-width="1.1" stroke-linecap="butt"/>
<text x="0" y="0" transform="translate(49.32,424.00) rotate(-90)" text-anchor="middle" fill="#1a1a1a" style="font-size:12px">Input</text>
<line x1="55.00" y1="408.00" x2="55.00" y2="442.00" stroke="#1a1a1a" stroke-width="1.1" stroke-linecap="butt"/>
<text x="0" y="0" transform="translate(17.13,464.70) scale(0.8,1)" fill="#000" stroke="#000" stroke-width="0.35" style="font-size:18.4px;font-weight:bold">I</text>
<text x="52.00" y="479.52" text-anchor="middle" fill="#1a1a1a" style="font-size:12px">-</text>
<text x="66.70" y="479.52" text-anchor="middle" fill="#1a1a1a" style="font-size:12px">+</text>
<text x="81.00" y="479.52" text-anchor="middle" fill="#1a1a1a" style="font-size:12px">-</text>
<text x="95.30" y="479.52" text-anchor="middle" fill="#1a1a1a" style="font-size:12px">+</text>
<text x="105.60" y="479.52" text-anchor="start" fill="#1a1a1a" style="font-size:12px">NM-R RAD50-Flag</text>
<text x="52.00" y="494.52" text-anchor="middle" fill="#1a1a1a" style="font-size:12px">-</text>
<text x="66.70" y="494.52" text-anchor="middle" fill="#1a1a1a" style="font-size:12px">-</text>
<text x="81.00" y="494.52" text-anchor="middle" fill="#1a1a1a" style="font-size:12px">+</text>
<text x="95.30" y="494.52" text-anchor="middle" fill="#1a1a1a" style="font-size:12px">+</text>
<text x="105.60" y="494.52" text-anchor="start" fill="#1a1a1a" style="font-size:12px">NM-R FANCI-HA</text>
<clipPath id="c413"><rect x="44.40" y="499.00" width="57.20" height="11.80"/></clipPath>
<g clip-path="url(#c413)">
<rect x="44.40" y="499.00" width="57.20" height="11.80" fill="#b9b9b9" />
<ellipse cx="57.50" cy="504.00" rx="2.50" ry="6.00" fill="#d4d4d4" filter="url(#b2)"/>
<ellipse cx="86.00" cy="504.00" rx="2.50" ry="6.00" fill="#d2d2d2" filter="url(#b2)"/>
<ellipse cx="66.80" cy="506.00" rx="4.50" ry="3.50" fill="rgb(147,147,147)" filter="url(#b2)"/>
<ellipse cx="95.10" cy="505.00" rx="5.00" ry="4.00" fill="rgb(140,140,140)" filter="url(#b2)"/>
</g>
<rect x="44.40" y="499.00" width="57.20" height="11.80" fill="none" stroke="#1a1a1a" stroke-width="1.1" />
<clipPath id="c422"><rect x="44.40" y="514.40" width="57.20" height="11.80"/></clipPath>
<g clip-path="url(#c422)">
<rect x="44.40" y="514.40" width="57.20" height="11.80" fill="#fafafa" />
<ellipse cx="80.40" cy="523.50" rx="4.30" ry="1.50" fill="rgb(204,204,204)" filter="url(#b2)"/>
<ellipse cx="93.50" cy="523.00" rx="3.75" ry="1.50" fill="rgb(204,204,204)" filter="url(#b2)"/>
<rect x="76.00" y="520.00" width="8.80" height="2.60" rx="1.30" fill="rgb(12,12,12)" filter="url(#b1)"/>
<rect x="89.50" y="519.50" width="8.00" height="2.60" rx="1.30" fill="rgb(12,12,12)" filter="url(#b1)"/>
</g>
<rect x="44.40" y="514.40" width="57.20" height="11.80" fill="none" stroke="#1a1a1a" stroke-width="1.1" />
<clipPath id="c431"><rect x="44.40" y="529.00" width="57.20" height="12.20"/></clipPath>
<g clip-path="url(#c431)">
<rect x="44.40" y="529.00" width="57.20" height="12.20" fill="#f4f4f4" />
<rect x="46.50" y="534.20" width="8.60" height="2.80" rx="1.40" fill="rgb(12,12,12)" filter="url(#b1)"/>
<rect x="59.65" y="533.80" width="9.30" height="2.80" rx="1.40" fill="rgb(12,12,12)" filter="url(#b1)"/>
<rect x="73.60" y="533.80" width="10.00" height="2.80" rx="1.40" fill="rgb(12,12,12)" filter="url(#b1)"/>
<rect x="88.30" y="532.60" width="9.60" height="3.20" rx="1.60" fill="rgb(7,7,7)" filter="url(#b1)"/>
</g>
<rect x="44.40" y="529.00" width="57.20" height="12.20" fill="none" stroke="#1a1a1a" stroke-width="1.1" />
<text x="105.60" y="509.62" text-anchor="start" fill="#1a1a1a" style="font-size:12px">Flag</text>
<text x="105.60" y="525.32" text-anchor="start" fill="#1a1a1a" style="font-size:12px">HA</text>
<text x="105.60" y="540.02" text-anchor="start" fill="#1a1a1a" style="font-size:12px">GAPDH</text>
<text x="0" y="0" transform="translate(224.01,329.80) scale(0.8,1)" fill="#000" stroke="#000" stroke-width="0.35" style="font-size:18.4px;font-weight:bold">J</text>
<line x1="311.80" y1="338.10" x2="311.80" y2="489.50" stroke="#1a1a1a" stroke-width="1.5" stroke-linecap="butt"/>
<line x1="306.20" y1="488.80" x2="311.80" y2="488.80" stroke="#1a1a1a" stroke-width="1.5" stroke-linecap="butt"/>
<text x="299.60" y="494.02" text-anchor="end" fill="#1a1a1a" style="font-size:14.5px">0.0</text>
<line x1="308.60" y1="473.80" x2="311.80" y2="473.80" stroke="#1a1a1a" stroke-width="1.3" stroke-linecap="butt"/>
<line x1="306.20" y1="458.80" x2="311.80" y2="458.80" stroke="#1a1a1a" stroke-width="1.5" stroke-linecap="butt"/>
<text x="299.60" y="464.02" text-anchor="end" fill="#1a1a1a" style="font-size:14.5px">0.5</text>
<line x1="308.60" y1="443.80" x2="311.80" y2="443.80" stroke="#1a1a1a" stroke-width="1.3" stroke-linecap="butt"/>
<line x1="306.20" y1="428.80" x2="311.80" y2="428.80" stroke="#1a1a1a" stroke-width="1.5" stroke-linecap="butt"/>
<text x="299.60" y="434.02" text-anchor="end" fill="#1a1a1a" style="font-size:14.5px">1.0</text>
<line x1="308.60" y1="413.80" x2="311.80" y2="413.80" stroke="#1a1a1a" stroke-width="1.3" stroke-linecap="butt"/>
<line x1="306.20" y1="398.80" x2="311.80" y2="398.80" stroke="#1a1a1a" stroke-width="1.5" stroke-linecap="butt"/>
<text x="299.60" y="404.02" text-anchor="end" fill="#1a1a1a" style="font-size:14.5px">1.5</text>
<line x1="308.60" y1="383.80" x2="311.80" y2="383.80" stroke="#1a1a1a" stroke-width="1.3" stroke-linecap="butt"/>
<line x1="306.20" y1="368.80" x2="311.80" y2="368.80" stroke="#1a1a1a" stroke-width="1.5" stroke-linecap="butt"/>
<text x="299.60" y="374.02" text-anchor="end" fill="#1a1a1a" style="font-size:14.5px">2.0</text>
<line x1="308.60" y1="353.80" x2="311.80" y2="353.80" stroke="#1a1a1a" stroke-width="1.3" stroke-linecap="butt"/>
<line x1="306.20" y1="338.80" x2="311.80" y2="338.80" stroke="#1a1a1a" stroke-width="1.5" stroke-linecap="butt"/>
<text x="299.60" y="344.02" text-anchor="end" fill="#1a1a1a" style="font-size:14.5px">2.5</text>
<line x1="311.80" y1="488.80" x2="409.30" y2="488.80" stroke="#1a1a1a" stroke-width="1.5" stroke-linecap="butt"/>
<text x="0" y="0" transform="translate(268.98,415.50) rotate(-90)" text-anchor="middle" fill="#1a1a1a" style="font-size:13px">Relative HR efficiency</text>
<rect x="319.00" y="428.80" width="14.80" height="60.00" fill="#8a8a8a" />
<rect x="342.00" y="415.60" width="14.80" height="73.20" fill="#aecfd2" />
<rect x="365.30" y="413.80" width="14.50" height="75.00" fill="#aecfd2" />
<rect x="388.30" y="370.60" width="14.50" height="118.20" fill="#6aaab6" />
<circle cx="325.92" cy="433.00" r="2.3" fill="#ffffff" stroke="#7d7d7d" stroke-width="0.9"/>
<circle cx="327.00" cy="431.20" r="2.3" fill="#ffffff" stroke="#7d7d7d" stroke-width="0.9"/>
<circle cx="330.64" cy="430.00" r="2.3" fill="#ffffff" stroke="#7d7d7d" stroke-width="0.9"/>
<circle cx="326.06" cy="428.80" r="2.3" fill="#ffffff" stroke="#7d7d7d" stroke-width="0.9"/>
<circle cx="326.48" cy="428.80" r="2.3" fill="#ffffff" stroke="#7d7d7d" stroke-width="0.9"/>
<circle cx="327.27" cy="428.20" r="2.3" fill="#ffffff" stroke="#7d7d7d" stroke-width="0.9"/>
<circle cx="323.25" cy="427.60" r="2.3" fill="#ffffff" stroke="#7d7d7d" stroke-width="0.9"/>
<circle cx="326.52" cy="427.00" r="2.3" fill="#ffffff" stroke="#7d7d7d" stroke-width="0.9"/>
<circle cx="327.70" cy="426.40" r="2.3" fill="#ffffff" stroke="#7d7d7d" stroke-width="0.9"/>
<circle cx="329.33" cy="428.80" r="2.3" fill="#ffffff" stroke="#7d7d7d" stroke-width="0.9"/>
<circle cx="322.34" cy="430.60" r="2.3" fill="#ffffff" stroke="#7d7d7d" stroke-width="0.9"/>
<circle cx="324.43" cy="425.80" r="2.3" fill="#ffffff" stroke="#7d7d7d" stroke-width="0.9"/>
<circle cx="345.31" cy="421.60" r="2.3" fill="#ffffff" stroke="#a9d0d4" stroke-width="0.9"/>
<circle cx="352.50" cy="419.80" r="2.3" fill="#ffffff" stroke="#a9d0d4" stroke-width="0.9"/>
<circle cx="351.33" cy="418.00" r="2.3" fill="#ffffff" stroke="#a9d0d4" stroke-width="0.9"/>
<circle cx="344.82" cy="416.80" r="2.3" fill="#ffffff" stroke="#a9d0d4" stroke-width="0.9"/>
<circle cx="354.22" cy="415.60" r="2.3" fill="#ffffff" stroke="#a9d0d4" stroke-width="0.9"/>
<circle cx="354.05" cy="414.40" r="2.3" fill="#ffffff" stroke="#a9d0d4" stroke-width="0.9"/>
<circle cx="350.94" cy="413.80" r="2.3" fill="#ffffff" stroke="#a9d0d4" stroke-width="0.9"/>
<circle cx="350.56" cy="410.80" r="2.3" fill="#ffffff" stroke="#a9d0d4" stroke-width="0.9"/>
<circle cx="345.97" cy="407.80" r="2.3" fill="#ffffff" stroke="#a9d0d4" stroke-width="0.9"/>
<circle cx="344.55" cy="403.60" r="2.3" fill="#ffffff" stroke="#a9d0d4" stroke-width="0.9"/>
<circle cx="349.68" cy="416.80" r="2.3" fill="#ffffff" stroke="#a9d0d4" stroke-width="0.9"/>
<circle cx="345.00" cy="419.20" r="2.3" fill="#ffffff" stroke="#a9d0d4" stroke-width="0.9"/>
<circle cx="369.45" cy="425.80" r="2.3" fill="#ffffff" stroke="#a9d0d4" stroke-width="0.9"/>
<circle cx="369.97" cy="422.80" r="2.3" fill="#ffffff" stroke="#a9d0d4" stroke-width="0.9"/>
<circle cx="367.85" cy="419.80" r="2.3" fill="#ffffff" stroke="#a9d0d4" stroke-width="0.9"/>
<circle cx="372.19" cy="418.00" r="2.3" fill="#ffffff" stroke="#a9d0d4" stroke-width="0.9"/>
<circle cx="371.96" cy="415.60" r="2.3" fill="#ffffff" stroke="#a9d0d4" stroke-width="0.9"/>
<circle cx="375.97" cy="413.20" r="2.3" fill="#ffffff" stroke="#a9d0d4" stroke-width="0.9"/>
<circle cx="372.74" cy="410.80" r="2.3" fill="#ffffff" stroke="#a9d0d4" stroke-width="0.9"/>
<circle cx="373.95" cy="407.80" r="2.3" fill="#ffffff" stroke="#a9d0d4" stroke-width="0.9"/>
<circle cx="372.55" cy="403.60" r="2.3" fill="#ffffff" stroke="#a9d0d4" stroke-width="0.9"/>
<circle cx="374.17" cy="400.00" r="2.3" fill="#ffffff" stroke="#a9d0d4" stroke-width="0.9"/>
<circle cx="372.12" cy="421.60" r="2.3" fill="#ffffff" stroke="#a9d0d4" stroke-width="0.9"/>
<circle cx="370.33" cy="412.00" r="2.3" fill="#ffffff" stroke="#a9d0d4" stroke-width="0.9"/>
<circle cx="400.53" cy="380.80" r="2.3" fill="#ffffff" stroke="#8ec3cb" stroke-width="0.9"/>
<circle cx="400.51" cy="377.80" r="2.3" fill="#ffffff" stroke="#8ec3cb" stroke-width="0.9"/>
<circle cx="398.95" cy="376.00" r="2.3" fill="#ffffff" stroke="#8ec3cb" stroke-width="0.9"/>
<circle cx="397.63" cy="374.80" r="2.3" fill="#ffffff" stroke="#8ec3cb" stroke-width="0.9"/>
<circle cx="393.70" cy="373.00" r="2.3" fill="#ffffff" stroke="#8ec3cb" stroke-width="0.9"/>
<circle cx="392.85" cy="371.80" r="2.3" fill="#ffffff" stroke="#8ec3cb" stroke-width="0.9"/>
<circle cx="393.44" cy="370.60" r="2.3" fill="#ffffff" stroke="#8ec3cb" stroke-width="0.9"/>
<circle cx="391.25" cy="368.80" r="2.3" fill="#ffffff" stroke="#8ec3cb" stroke-width="0.9"/>
<circle cx="398.21" cy="367.00" r="2.3" fill="#ffffff" stroke="#8ec3cb" stroke-width="0.9"/>
<circle cx="394.55" cy="365.20" r="2.3" fill="#ffffff" stroke="#8ec3cb" stroke-width="0.9"/>
<circle cx="399.02" cy="362.80" r="2.3" fill="#ffffff" stroke="#8ec3cb" stroke-width="0.9"/>
<circle cx="394.42" cy="373.60" r="2.3" fill="#ffffff" stroke="#8ec3cb" stroke-width="0.9"/>
<line x1="326.40" y1="488.80" x2="326.40" y2="494.80" stroke="#1a1a1a" stroke-width="1.4" stroke-linecap="butt"/>
<line x1="349.40" y1="488.80" x2="349.40" y2="494.80" stroke="#1a1a1a" stroke-width="1.4" stroke-linecap="butt"/>
<line x1="372.55" y1="488.80" x2="372.55" y2="494.80" stroke="#1a1a1a" stroke-width="1.4" stroke-linecap="butt"/>
<line x1="395.55" y1="488.80" x2="395.55" y2="494.80" stroke="#1a1a1a" stroke-width="1.4" stroke-linecap="butt"/>
<line x1="324.20" y1="329.80" x2="395.30" y2="329.80" stroke="#1a1a1a" stroke-width="1.4" stroke-linecap="butt"/>
<text x="357.70" y="327.66" text-anchor="middle" fill="#1a1a1a" style="font-size:9.6px"><tspan font-style="italic">P</tspan> &lt; 0.0001</text>
<line x1="347.80" y1="343.40" x2="395.30" y2="343.40" stroke="#1a1a1a" stroke-width="1.4" stroke-linecap="butt"/>
<text x="369.30" y="340.26" text-anchor="middle" fill="#1a1a1a" style="font-size:9.6px"><tspan font-style="italic">P</tspan> &lt; 0.0001</text>
<line x1="370.00" y1="357.00" x2="395.30" y2="357.00" stroke="#1a1a1a" stroke-width="1.4" stroke-linecap="butt"/>
<text x="385.10" y="353.86" text-anchor="middle" fill="#1a1a1a" style="font-size:9.6px"><tspan font-style="italic">P</tspan> &lt; 0.0001</text>
<line x1="324.20" y1="381.00" x2="375.00" y2="381.00" stroke="#1a1a1a" stroke-width="1.4" stroke-linecap="butt"/>
<text x="350.70" y="379.86" text-anchor="middle" fill="#1a1a1a" style="font-size:9.6px"><tspan font-style="italic">P</tspan> = 0.0001</text>
<line x1="324.20" y1="396.80" x2="348.60" y2="396.80" stroke="#1a1a1a" stroke-width="1.4" stroke-linecap="butt"/>
<text x="336.50" y="393.46" text-anchor="middle" fill="#1a1a1a" style="font-size:9.6px"><tspan font-style="italic">P</tspan> = 0.0003</text>
<text x="318.00" y="509.95" text-anchor="end" fill="#1a1a1a" style="font-size:13.2px">NM-R RAD50-Flag</text>
<text x="318.00" y="528.45" text-anchor="end" fill="#1a1a1a" style="font-size:13.2px">NM-R FANCI-HA</text>
<text x="326.40" y="509.88" text-anchor="middle" fill="#1a1a1a" style="font-size:13px">-</text>
<text x="349.40" y="509.88" text-anchor="middle" fill="#1a1a1a" style="font-size:13px">+</text>
<text x="372.50" y="509.88" text-anchor="middle" fill="#1a1a1a" style="font-size:13px">-</text>
<text x="395.50" y="509.88" text-anchor="middle" fill="#1a1a1a" style="font-size:13px">+</text>
<text x="326.40" y="528.38" text-anchor="middle" fill="#1a1a1a" style="font-size:13px">-</text>
<text x="349.40" y="528.38" text-anchor="middle" fill="#1a1a1a" style="font-size:13px">-</text>
<text x="372.50" y="528.38" text-anchor="middle" fill="#1a1a1a" style="font-size:13px">+</text>
<text x="395.50" y="528.38" text-anchor="middle" fill="#1a1a1a" style="font-size:13px">+</text>
<text x="0" y="0" transform="translate(438.23,329.60) scale(0.8,1)" fill="#000" stroke="#000" stroke-width="0.35" style="font-size:18.4px;font-weight:bold">K</text>
<text x="481.30" y="349.42" text-anchor="middle" fill="#1a1a1a" style="font-size:12px">+</text>
<text x="498.70" y="349.42" text-anchor="middle" fill="#1a1a1a" style="font-size:12px">-</text>
<text x="516.60" y="349.42" text-anchor="middle" fill="#1a1a1a" style="font-size:12px">+</text>
<text x="534.00" y="349.42" text-anchor="middle" fill="#1a1a1a" style="font-size:12px">-</text>
<text x="546.70" y="349.42" text-anchor="start" fill="#1a1a1a" style="font-size:12px">GFP</text>
<text x="481.30" y="368.42" text-anchor="middle" fill="#1a1a1a" style="font-size:12px">-</text>
<text x="498.70" y="368.42" text-anchor="middle" fill="#1a1a1a" style="font-size:12px">+</text>
<text x="516.60" y="368.42" text-anchor="middle" fill="#1a1a1a" style="font-size:12px">-</text>
<text x="534.00" y="368.42" text-anchor="middle" fill="#1a1a1a" style="font-size:12px">+</text>
<text x="546.70" y="368.42" text-anchor="start" fill="#1a1a1a" style="font-size:12px">NM-R cGAS-GFP</text>
<text x="481.30" y="385.12" text-anchor="middle" fill="#1a1a1a" style="font-size:12px">-</text>
<text x="498.70" y="385.12" text-anchor="middle" fill="#1a1a1a" style="font-size:12px">-</text>
<text x="516.60" y="385.12" text-anchor="middle" fill="#1a1a1a" style="font-size:12px">+</text>
<text x="534.00" y="385.12" text-anchor="middle" fill="#1a1a1a" style="font-size:12px">+</text>
<text x="546.70" y="385.12" text-anchor="start" fill="#1a1a1a" style="font-size:12px">NM-R RAD50-HA</text>
<text x="481.30" y="402.72" text-anchor="middle" fill="#1a1a1a" style="font-size:12px">+</text>
<text x="498.70" y="402.72" text-anchor="middle" fill="#1a1a1a" style="font-size:12px">+</text>
<text x="516.60" y="402.72" text-anchor="middle" fill="#1a1a1a" style="font-size:12px">+</text>
<text x="534.00" y="402.72" text-anchor="middle" fill="#1a1a1a" style="font-size:12px">+</text>
<text x="546.70" y="402.72" text-anchor="start" fill="#1a1a1a" style="font-size:12px">NM-R FANCI-Flag</text>
<clipPath id="c561"><rect x="469.40" y="407.20" width="73.60" height="18.20"/></clipPath>
<g clip-path="url(#c561)">
<rect x="469.40" y="407.20" width="73.60" height="18.20" fill="url(#gK)"/>
<rect x="530.00" y="413.90" width="10.00" height="3.00" rx="1.50" fill="rgb(20,20,20)" filter="url(#b1)"/>
</g>
<rect x="469.40" y="407.20" width="73.60" height="18.20" fill="none" stroke="#1a1a1a" stroke-width="1.1" />
<clipPath id="c567"><rect x="469.40" y="428.80" width="73.60" height="18.00"/></clipPath>
<g clip-path="url(#c567)">
<rect x="469.40" y="428.80" width="73.60" height="18.00" fill="#f2f2f2" />
<ellipse cx="483.70" cy="439.00" rx="6.50" ry="6.00" fill="rgb(178,178,178)" filter="url(#b2)"/>
<ellipse cx="501.40" cy="438.00" rx="6.00" ry="6.00" fill="rgb(178,178,178)" filter="url(#b2)"/>
<ellipse cx="518.50" cy="437.00" rx="6.00" ry="6.00" fill="rgb(178,178,178)" filter="url(#b2)"/>
<ellipse cx="534.40" cy="437.40" rx="6.00" ry="6.00" fill="rgb(178,178,178)" filter="url(#b2)"/>
<rect x="477.30" y="438.30" width="12.80" height="4.20" rx="2.10" fill="rgb(12,12,12)" filter="url(#b1)"/>
<rect x="495.60" y="436.70" width="11.60" height="4.20" rx="2.10" fill="rgb(12,12,12)" filter="url(#b1)"/>
<rect x="513.00" y="435.20" width="11.00" height="4.40" rx="2.20" fill="rgb(7,7,7)" filter="url(#b1)"/>
<rect x="528.90" y="435.80" width="11.00" height="4.40" rx="2.20" fill="rgb(7,7,7)" filter="url(#b1)"/>
</g>
<rect x="469.40" y="428.80" width="73.60" height="18.00" fill="none" stroke="#1a1a1a" stroke-width="1.1" />
<clipPath id="c580"><rect x="469.40" y="450.70" width="73.60" height="17.70"/></clipPath>
<g clip-path="url(#c580)">
<rect x="469.40" y="450.70" width="73.60" height="17.70" fill="#fafafa" />
<rect x="510.70" y="457.80" width="10.00" height="3.00" rx="1.50" fill="rgb(17,17,17)" filter="url(#b1)"/>
<rect x="527.15" y="458.40" width="10.50" height="3.00" rx="1.50" fill="rgb(20,20,20)" filter="url(#b1)"/>
</g>
<rect x="469.40" y="450.70" width="73.60" height="17.70" fill="none" stroke="#1a1a1a" stroke-width="1.1" />
<clipPath id="c587"><rect x="469.40" y="471.60" width="73.60" height="17.90"/></clipPath>
<g clip-path="url(#c587)">
<rect x="469.40" y="471.60" width="73.60" height="17.90" fill="#f6f6f6" />
<rect x="474.65" y="477.80" width="12.30" height="4.00" rx="2.00" fill="rgb(7,7,7)" filter="url(#b1)"/>
<rect x="491.50" y="479.20" width="12.80" height="4.00" rx="2.00" fill="rgb(7,7,7)" filter="url(#b1)"/>
<rect x="507.95" y="479.60" width="13.70" height="4.00" rx="2.00" fill="rgb(7,7,7)" filter="url(#b1)"/>
<rect x="525.70" y="479.60" width="12.80" height="4.00" rx="2.00" fill="rgb(7,7,7)" filter="url(#b1)"/>
</g>
<rect x="469.40" y="471.60" width="73.60" height="17.90" fill="none" stroke="#1a1a1a" stroke-width="1.1" />
<clipPath id="c596"><rect x="469.40" y="492.20" width="73.60" height="17.70"/></clipPath>
<g clip-path="url(#c596)">
<rect x="469.40" y="492.20" width="73.60" height="17.70" fill="#f2f2f2" />
<rect x="493.80" y="498.00" width="11.40" height="2.80" rx="1.40" fill="rgb(63,63,63)" filter="url(#b1)"/>
<rect x="527.10" y="500.60" width="11.00" height="3.20" rx="1.60" fill="rgb(20,20,20)" filter="url(#b1)"/>
</g>
<rect x="469.40" y="492.20" width="73.60" height="17.70" fill="none" stroke="#1a1a1a" stroke-width="1.1" />
<text x="546.70" y="421.32" text-anchor="start" fill="#1a1a1a" style="font-size:12px">NM-R RAD50-HA</text>
<text x="546.70" y="443.72" text-anchor="start" fill="#1a1a1a" style="font-size:12px">NM-R FANCI-Flag</text>
<text x="546.70" y="464.82" text-anchor="start" fill="#1a1a1a" style="font-size:12px">NM-R RAD50-HA</text>
<text x="546.70" y="485.32" text-anchor="start" fill="#1a1a1a" style="font-size:12px">NM-R FANCI-Flag</text>
<text x="546.70" y="505.72" text-anchor="start" fill="#1a1a1a" style="font-size:12px">NM-R cGAS-GFP</text>
<text x="0" y="0" transform="translate(456.02,430.00) rotate(-90)" text-anchor="middle" fill="#1a1a1a" style="font-size:12px">IP:Flag</text>
<line x1="462.20" y1="407.20" x2="462.20" y2="447.00" stroke="#1a1a1a" stroke-width="1.1" stroke-linecap="butt"/>
<text x="0" y="0" transform="translate(456.02,477.70) rotate(-90)" text-anchor="middle" fill="#1a1a1a" style="font-size:12px">Input</text>
<line x1="462.20" y1="451.00" x2="462.20" y2="510.00" stroke="#1a1a1a" stroke-width="1.1" stroke-linecap="butt"/>
<rect x="508.00" y="512.00" width="13.70" height="19.80" fill="#ececec" />
<text x="514.85" y="524.78" text-anchor="middle" fill="#444" style="font-size:8px">1</text>
<rect x="522.40" y="512.00" width="21.60" height="19.80" fill="#d2d2d2" />
<text x="533.20" y="520.82" text-anchor="middle" fill="#444" style="font-size:8px">4.26</text>
<text x="533.20" y="529.14" text-anchor="middle" fill="#444" style="font-size:8px">±0.68</text>
<text x="546.70" y="523.94" text-anchor="start" fill="#333" style="font-size:7.6px">IP/Input</text>
<text x="0" y="0" transform="translate(668.23,329.80) scale(0.8,1)" fill="#000" stroke="#000" stroke-width="0.35" style="font-size:18.4px;font-weight:bold">L</text>
<text x="690.00" y="364.32" text-anchor="start" fill="#1a1a1a" style="font-size:12px">Input</text>
<line x1="680.00" y1="368.30" x2="726.60" y2="368.30" stroke="#3a3a3a" stroke-width="1.5" stroke-linecap="butt"/>
<text x="734.80" y="364.32" text-anchor="start" fill="#1a1a1a" style="font-size:12px">IP:Flag</text>
<line x1="732.60" y1="368.30" x2="779.70" y2="368.30" stroke="#3a3a3a" stroke-width="1.5" stroke-linecap="butt"/>
<text x="687.40" y="382.32" text-anchor="middle" fill="#1a1a1a" style="font-size:12px">+</text>
<text x="704.40" y="382.32" text-anchor="middle" fill="#1a1a1a" style="font-size:12px">-</text>
<text x="721.60" y="382.32" text-anchor="middle" fill="#1a1a1a" style="font-size:12px">-</text>
<text x="738.60" y="382.32" text-anchor="middle" fill="#1a1a1a" style="font-size:12px">+</text>
<text x="755.30" y="382.32" text-anchor="middle" fill="#1a1a1a" style="font-size:12px">-</text>
<text x="772.30" y="382.32" text-anchor="middle" fill="#1a1a1a" style="font-size:12px">-</text>
<text x="783.80" y="382.32" text-anchor="start" fill="#1a1a1a" style="font-size:12px">GFP</text>
<text x="687.40" y="397.92" text-anchor="middle" fill="#1a1a1a" style="font-size:12px">-</text>
<text x="704.40" y="397.92" text-anchor="middle" fill="#1a1a1a" style="font-size:12px">+</text>
<text x="721.60" y="397.92" text-anchor="middle" fill="#1a1a1a" style="font-size:12px">-</text>
<text x="738.60" y="397.92" text-anchor="middle" fill="#1a1a1a" style="font-size:12px">-</text>
<text x="755.30" y="397.92" text-anchor="middle" fill="#1a1a1a" style="font-size:12px">+</text>
<text x="772.30" y="397.92" text-anchor="middle" fill="#1a1a1a" style="font-size:12px">-</text>
<text x="783.80" y="397.92" text-anchor="start" fill="#1a1a1a" style="font-size:12px">NM-R cGAS-GFP</text>
<text x="687.40" y="415.72" text-anchor="middle" fill="#1a1a1a" style="font-size:12px">-</text>
<text x="704.40" y="415.72" text-anchor="middle" fill="#1a1a1a" style="font-size:12px">-</text>
<text x="721.60" y="415.72" text-anchor="middle" fill="#1a1a1a" style="font-size:12px">+</text>
<text x="738.60" y="415.72" text-anchor="middle" fill="#1a1a1a" style="font-size:12px">-</text>
<text x="755.30" y="415.72" text-anchor="middle" fill="#1a1a1a" style="font-size:12px">-</text>
<text x="772.30" y="415.72" text-anchor="middle" fill="#1a1a1a" style="font-size:12px">+</text>
<text x="783.80" y="415.72" text-anchor="start" fill="#1a1a1a" style="font-size:12px">NM-R cGAS<tspan dy="-4.56" style="font-size:8.16px">4mut</tspan><tspan dy="4.56">-GFP</tspan></text>
<text x="687.40" y="432.72" text-anchor="middle" fill="#1a1a1a" style="font-size:12px">-</text>
<text x="704.40" y="432.72" text-anchor="middle" fill="#1a1a1a" style="font-size:12px">+</text>
<text x="721.60" y="432.72" text-anchor="middle" fill="#1a1a1a" style="font-size:12px">+</text>
<text x="738.60" y="432.72" text-anchor="middle" fill="#1a1a1a" style="font-size:12px">-</text>
<text x="755.30" y="432.72" text-anchor="middle" fill="#1a1a1a" style="font-size:12px">+</text>
<text x="772.30" y="432.72" text-anchor="middle" fill="#1a1a1a" style="font-size:12px">+</text>
<text x="783.80" y="432.72" text-anchor="start" fill="#1a1a1a" style="font-size:12px">NM-R FANCI-Flag</text>
<text x="687.40" y="448.02" text-anchor="middle" fill="#1a1a1a" style="font-size:12px">+</text>
<text x="704.40" y="448.02" text-anchor="middle" fill="#1a1a1a" style="font-size:12px">+</text>
<text x="721.60" y="448.02" text-anchor="middle" fill="#1a1a1a" style="font-size:12px">+</text>
<text x="738.60" y="448.02" text-anchor="middle" fill="#1a1a1a" style="font-size:12px">+</text>
<text x="755.30" y="448.02" text-anchor="middle" fill="#1a1a1a" style="font-size:12px">+</text>
<text x="772.30" y="448.02" text-anchor="middle" fill="#1a1a1a" style="font-size:12px">+</text>
<text x="783.80" y="448.02" text-anchor="start" fill="#1a1a1a" style="font-size:12px">NM-R RAD50-HA</text>
<clipPath id="c658"><rect x="679.20" y="451.90" width="49.80" height="14.80"/></clipPath>
<g clip-path="url(#c658)">
<rect x="679.20" y="451.90" width="49.80" height="14.80" fill="#e6e6e6" />
<ellipse cx="689.00" cy="462.00" rx="4.00" ry="2.50" fill="rgb(204,204,204)" filter="url(#b2)"/>
<ellipse cx="704.00" cy="461.00" rx="4.50" ry="2.50" fill="rgb(204,204,204)" filter="url(#b2)"/>
<ellipse cx="721.00" cy="461.00" rx="4.50" ry="2.50" fill="rgb(204,204,204)" filter="url(#b2)"/>
<rect x="684.50" y="457.80" width="9.00" height="3.40" rx="1.70" fill="rgb(12,12,12)" filter="url(#b1)"/>
<rect x="699.00" y="456.70" width="10.00" height="3.20" rx="1.60" fill="rgb(20,20,20)" filter="url(#b1)"/>
<rect x="716.00" y="456.60" width="10.00" height="3.40" rx="1.70" fill="rgb(17,17,17)" filter="url(#b1)"/>
</g>
<rect x="679.20" y="451.90" width="49.80" height="14.80" fill="none" stroke="#1a1a1a" stroke-width="1.1" />
<clipPath id="c669"><rect x="731.80" y="451.90" width="49.60" height="14.80"/></clipPath>
<g clip-path="url(#c669)">
<rect x="731.80" y="451.90" width="49.60" height="14.80" fill="#f0f0f0" />
<ellipse cx="755.50" cy="459.00" rx="5.50" ry="4.00" fill="rgb(178,178,178)" filter="url(#b2)"/>
<rect x="750.50" y="457.80" width="10.00" height="3.40" rx="1.70" fill="rgb(127,127,127)" filter="url(#b1)"/>
<ellipse cx="772.30" cy="459.00" rx="4.50" ry="2.50" fill="rgb(229,229,229)" filter="url(#b2)"/>
</g>
<rect x="731.80" y="451.90" width="49.60" height="14.80" fill="none" stroke="#1a1a1a" stroke-width="1.1" />
<clipPath id="c677"><rect x="679.20" y="470.30" width="49.80" height="14.20"/></clipPath>
<g clip-path="url(#c677)">
<rect x="679.20" y="470.30" width="49.80" height="14.20" fill="url(#gL)"/>
<ellipse cx="704.50" cy="476.00" rx="5.00" ry="5.00" fill="rgb(165,165,165)" filter="url(#b2)"/>
<ellipse cx="721.50" cy="476.00" rx="5.00" ry="5.00" fill="rgb(178,178,178)" filter="url(#b2)"/>
<rect x="700.00" y="475.30" width="9.00" height="3.40" rx="1.70" fill="rgb(102,102,102)" filter="url(#b1)"/>
<rect x="717.00" y="475.70" width="9.00" height="3.40" rx="1.70" fill="rgb(127,127,127)" filter="url(#b1)"/>
</g>
<rect x="679.20" y="470.30" width="49.80" height="14.20" fill="none" stroke="#1a1a1a" stroke-width="1.1" />
<clipPath id="c686"><rect x="731.80" y="470.30" width="49.60" height="14.20"/></clipPath>
<g clip-path="url(#c686)">
<rect x="731.80" y="470.30" width="49.60" height="14.20" fill="#e8e8e8" />
<ellipse cx="756.70" cy="475.00" rx="5.00" ry="4.00" fill="rgb(178,178,178)" filter="url(#b2)"/>
<ellipse cx="772.40" cy="474.00" rx="5.00" ry="4.00" fill="rgb(178,178,178)" filter="url(#b2)"/>
<rect x="751.85" y="476.40" width="9.70" height="3.80" rx="1.90" fill="rgb(7,7,7)" filter="url(#b1)"/>
<rect x="767.55" y="474.90" width="9.70" height="3.80" rx="1.90" fill="rgb(7,7,7)" filter="url(#b1)"/>
</g>
<rect x="731.80" y="470.30" width="49.60" height="14.20" fill="none" stroke="#1a1a1a" stroke-width="1.1" />
<clipPath id="c695"><rect x="679.20" y="488.00" width="49.80" height="14.60"/></clipPath>
<g clip-path="url(#c695)">
<rect x="679.20" y="488.00" width="49.80" height="14.60" fill="#f2f2f2" />
<ellipse cx="704.70" cy="494.00" rx="5.50" ry="4.50" fill="rgb(204,204,204)" filter="url(#b2)"/>
<ellipse cx="720.40" cy="493.50" rx="5.40" ry="4.50" fill="rgb(204,204,204)" filter="url(#b2)"/>
<rect x="699.20" y="494.40" width="11.00" height="4.00" rx="2.00" fill="rgb(5,5,5)" filter="url(#b1)"/>
<rect x="715.00" y="493.50" width="10.80" height="4.00" rx="2.00" fill="rgb(7,7,7)" filter="url(#b1)"/>
</g>
<rect x="679.20" y="488.00" width="49.80" height="14.60" fill="none" stroke="#1a1a1a" stroke-width="1.1" />
<text x="783.80" y="463.62" text-anchor="start" fill="#1a1a1a" style="font-size:12px">NM-R RAD50-HA</text>
<text x="783.80" y="481.32" text-anchor="start" fill="#1a1a1a" style="font-size:12px">NM-R FANCI-Flag</text>
<text x="783.80" y="499.82" text-anchor="start" fill="#1a1a1a" style="font-size:12px">GFP</text>
<rect x="744.00" y="504.50" width="13.80" height="19.20" fill="#ececec" />
<text x="750.90" y="516.98" text-anchor="middle" fill="#444" style="font-size:8px">1</text>
<rect x="758.60" y="504.50" width="23.90" height="19.20" fill="#d2d2d2" />
<text x="770.55" y="513.14" text-anchor="middle" fill="#444" style="font-size:8px">0.58</text>
<text x="770.55" y="521.20" text-anchor="middle" fill="#444" style="font-size:8px">±0.08</text>
<text x="785.20" y="517.34" text-anchor="start" fill="#333" style="font-size:7.6px">IP/Input</text>
<text x="0" y="0" transform="translate(10.93,568.80) scale(0.8,1)" fill="#000" stroke="#000" stroke-width="0.35" style="font-size:18.4px;font-weight:bold">M</text>
<text x="27.50" y="603.32" text-anchor="start" fill="#1a1a1a" style="font-size:12px">Input</text>
<line x1="20.20" y1="607.30" x2="59.80" y2="607.30" stroke="#3a3a3a" stroke-width="1.5" stroke-linecap="butt"/>
<text x="66.70" y="603.32" text-anchor="start" fill="#1a1a1a" style="font-size:12px">IP:Flag</text>
<line x1="65.60" y1="607.30" x2="105.20" y2="607.30" stroke="#3a3a3a" stroke-width="1.5" stroke-linecap="butt"/>
<text x="27.50" y="621.92" text-anchor="middle" fill="#1a1a1a" style="font-size:12px">+</text>
<text x="40.30" y="621.92" text-anchor="middle" fill="#1a1a1a" style="font-size:12px">-</text>
<text x="55.00" y="621.92" text-anchor="middle" fill="#1a1a1a" style="font-size:12px">-</text>
<text x="70.40" y="621.92" text-anchor="middle" fill="#1a1a1a" style="font-size:12px">+</text>
<text x="84.00" y="621.92" text-anchor="middle" fill="#1a1a1a" style="font-size:12px">-</text>
<text x="98.30" y="621.92" text-anchor="middle" fill="#1a1a1a" style="font-size:12px">-</text>
<text x="111.80" y="621.92" text-anchor="start" fill="#1a1a1a" style="font-size:12px">GFP</text>
<text x="27.50" y="635.12" text-anchor="middle" fill="#1a1a1a" style="font-size:12px">-</text>
<text x="40.30" y="635.12" text-anchor="middle" fill="#1a1a1a" style="font-size:12px">+</text>
<text x="55.00" y="635.12" text-anchor="middle" fill="#1a1a1a" style="font-size:12px">-</text>
<text x="70.40" y="635.12" text-anchor="middle" fill="#1a1a1a" style="font-size:12px">-</text>
<text x="84.00" y="635.12" text-anchor="middle" fill="#1a1a1a" style="font-size:12px">+</text>
<text x="98.30" y="635.12" text-anchor="middle" fill="#1a1a1a" style="font-size:12px">-</text>
<text x="111.80" y="635.12" text-anchor="start" fill="#1a1a1a" style="font-size:12px">hcGAS-GFP</text>
<text x="27.50" y="650.52" text-anchor="middle" fill="#1a1a1a" style="font-size:12px">-</text>
<text x="40.30" y="650.52" text-anchor="middle" fill="#1a1a1a" style="font-size:12px">-</text>
<text x="55.00" y="650.52" text-anchor="middle" fill="#1a1a1a" style="font-size:12px">+</text>
<text x="70.40" y="650.52" text-anchor="middle" fill="#1a1a1a" style="font-size:12px">-</text>
<text x="84.00" y="650.52" text-anchor="middle" fill="#1a1a1a" style="font-size:12px">-</text>
<text x="98.30" y="650.52" text-anchor="middle" fill="#1a1a1a" style="font-size:12px">+</text>
<text x="111.80" y="650.52" text-anchor="start" fill="#1a1a1a" style="font-size:12px">hcGAS<tspan dy="-4.56" style="font-size:8.16px">4mut</tspan><tspan dy="4.56">-GFP</tspan></text>
<text x="27.50" y="664.22" text-anchor="middle" fill="#1a1a1a" style="font-size:12px">-</text>
<text x="40.30" y="664.22" text-anchor="middle" fill="#1a1a1a" style="font-size:12px">+</text>
<text x="55.00" y="664.22" text-anchor="middle" fill="#1a1a1a" style="font-size:12px">+</text>
<text x="70.40" y="664.22" text-anchor="middle" fill="#1a1a1a" style="font-size:12px">-</text>
<text x="84.00" y="664.22" text-anchor="middle" fill="#1a1a1a" style="font-size:12px">+</text>
<text x="98.30" y="664.22" text-anchor="middle" fill="#1a1a1a" style="font-size:12px">+</text>
<text x="111.80" y="664.22" text-anchor="start" fill="#1a1a1a" style="font-size:12px">hFANCI-Flag</text>
<text x="27.50" y="678.02" text-anchor="middle" fill="#1a1a1a" style="font-size:12px">+</text>
<text x="40.30" y="678.02" text-anchor="middle" fill="#1a1a1a" style="font-size:12px">+</text>
<text x="55.00" y="678.02" text-anchor="middle" fill="#1a1a1a" style="font-size:12px">+</text>
<text x="70.40" y="678.02" text-anchor="middle" fill="#1a1a1a" style="font-size:12px">+</text>
<text x="84.00" y="678.02" text-anchor="middle" fill="#1a1a1a" style="font-size:12px">+</text>
<text x="98.30" y="678.02" text-anchor="middle" fill="#1a1a1a" style="font-size:12px">+</text>
<text x="111.80" y="678.02" text-anchor="start" fill="#1a1a1a" style="font-size:12px">hRAD50-HA</text>
<clipPath id="c753"><rect x="18.00" y="681.00" width="42.50" height="12.50"/></clipPath>
<g clip-path="url(#c753)">
<rect x="18.00" y="681.00" width="42.50" height="12.50" fill="#ececec" />
<rect x="21.80" y="686.30" width="10.00" height="3.00" rx="1.50" fill="rgb(25,25,25)" filter="url(#b1)"/>
<rect x="35.00" y="685.90" width="10.00" height="3.00" rx="1.50" fill="rgb(25,25,25)" filter="url(#b1)"/>
<rect x="48.60" y="685.10" width="10.00" height="3.40" rx="1.70" fill="rgb(20,20,20)" filter="url(#b1)"/>
</g>
<rect x="18.00" y="681.00" width="42.50" height="12.50" fill="none" stroke="#1a1a1a" stroke-width="1.1" />
<clipPath id="c761"><rect x="63.80" y="681.00" width="42.20" height="12.50"/></clipPath>
<g clip-path="url(#c761)">
<rect x="63.80" y="681.00" width="42.20" height="12.50" fill="#e8e8e8" />
<ellipse cx="99.40" cy="686.00" rx="3.50" ry="5.00" fill="rgb(165,165,165)" filter="url(#b2)"/>
<rect x="95.65" y="685.90" width="7.50" height="3.00" rx="1.50" fill="rgb(63,63,63)" filter="url(#b1)"/>
</g>
<rect x="63.80" y="681.00" width="42.20" height="12.50" fill="none" stroke="#1a1a1a" stroke-width="1.1" />
<clipPath id="c768"><rect x="18.00" y="696.40" width="42.50" height="12.60"/></clipPath>
<g clip-path="url(#c768)">
<rect x="18.00" y="696.40" width="42.50" height="12.60" fill="#c8c8c8" />
<ellipse cx="41.00" cy="702.60" rx="5.00" ry="3.50" fill="rgb(63,63,63)" filter="url(#b2)"/>
<ellipse cx="54.60" cy="702.60" rx="5.00" ry="3.50" fill="rgb(63,63,63)" filter="url(#b2)"/>
</g>
<rect x="18.00" y="696.40" width="42.50" height="12.60" fill="none" stroke="#1a1a1a" stroke-width="1.1" />
<clipPath id="c775"><rect x="63.80" y="696.40" width="42.20" height="12.60"/></clipPath>
<g clip-path="url(#c775)">
<rect x="63.80" y="696.40" width="42.20" height="12.60" fill="#e0e0e0" />
<ellipse cx="83.50" cy="702.00" rx="4.20" ry="5.00" fill="rgb(178,178,178)" filter="url(#b2)"/>
<ellipse cx="97.50" cy="702.00" rx="4.20" ry="5.00" fill="rgb(178,178,178)" filter="url(#b2)"/>
<rect x="79.30" y="699.80" width="8.40" height="3.60" rx="1.80" fill="rgb(12,12,12)" filter="url(#b1)"/>
<rect x="93.30" y="699.80" width="8.40" height="3.60" rx="1.80" fill="rgb(12,12,12)" filter="url(#b1)"/>
</g>
<rect x="63.80" y="696.40" width="42.20" height="12.60" fill="none" stroke="#1a1a1a" stroke-width="1.1" />
<clipPath id="c784"><rect x="18.00" y="711.80" width="42.50" height="13.20"/></clipPath>
<g clip-path="url(#c784)">
<rect x="18.00" y="711.80" width="42.50" height="13.20" fill="#f8f8f8" />
<rect x="37.00" y="717.10" width="8.80" height="2.20" rx="1.10" fill="rgb(12,12,12)" filter="url(#b1)"/>
<rect x="49.00" y="717.10" width="9.40" height="2.20" rx="1.10" fill="rgb(20,20,20)" filter="url(#b1)"/>
</g>
<rect x="18.00" y="711.80" width="42.50" height="13.20" fill="none" stroke="#1a1a1a" stroke-width="1.1" />
<text x="111.80" y="691.92" text-anchor="start" fill="#1a1a1a" style="font-size:12px">hRAD50-HA</text>
<text x="111.80" y="707.32" text-anchor="start" fill="#1a1a1a" style="font-size:12px">hFANCI-Flag</text>
<text x="111.80" y="723.12" text-anchor="start" fill="#1a1a1a" style="font-size:12px">GFP</text>
<rect x="75.90" y="729.30" width="13.60" height="19.10" fill="#ececec" />
<text x="82.70" y="741.80" text-anchor="middle" fill="#444" style="font-size:8.2px">1</text>
<rect x="90.00" y="729.30" width="21.50" height="19.10" fill="#d2d2d2" />
<text x="100.75" y="737.98" text-anchor="middle" fill="#444" style="font-size:8.2px">2.83</text>
<text x="100.75" y="746.00" text-anchor="middle" fill="#444" style="font-size:8.2px">±0.41</text>
<text x="113.30" y="743.42" text-anchor="start" fill="#222" style="font-size:10.6px">IP/Input</text>
<text x="0" y="0" transform="translate(223.13,568.60) scale(0.8,1)" fill="#000" stroke="#000" stroke-width="0.35" style="font-size:18.4px;font-weight:bold">N</text>
<rect x="308.20" y="570.00" width="61.70" height="65.00" fill="#000" />
<rect x="308.20" y="636.50" width="61.70" height="129.30" fill="#000" />
<line x1="308.20" y1="700.60" x2="369.90" y2="700.60" stroke="#222" stroke-width="0.6" stroke-linecap="butt"/>
<ellipse cx="336.90" cy="602.60" rx="19.60" ry="17.40" transform="rotate(-30 336.90 602.60)" fill="#1e1ef2" filter="url(#b2)"/>
<g opacity="0.95">
<ellipse cx="338.20" cy="668.30" rx="22.50" ry="18.50" transform="rotate(-25 338.20 668.30)" fill="#1e1ef2" filter="url(#b2)"/>
<circle cx="324.12" cy="661.47" r="0.80" fill="#b838e8" filter="url(#b15)"/>
<circle cx="340.27" cy="681.45" r="1.00" fill="#b838e8" filter="url(#b15)"/>
<circle cx="343.59" cy="656.40" r="0.87" fill="#b838e8" filter="url(#b15)"/>
<circle cx="326.40" cy="662.75" r="0.65" fill="#b838e8" filter="url(#b15)"/>
<circle cx="353.31" cy="671.61" r="1.00" fill="#b838e8" filter="url(#b15)"/>
<circle cx="325.35" cy="667.87" r="0.91" fill="#b838e8" filter="url(#b15)"/>
<circle cx="350.65" cy="674.47" r="1.04" fill="#b838e8" filter="url(#b15)"/>
<circle cx="325.56" cy="677.77" r="0.94" fill="#b838e8" filter="url(#b15)"/>
<circle cx="334.23" cy="659.27" r="0.84" fill="#b838e8" filter="url(#b15)"/>
<circle cx="351.20" cy="663.84" r="0.75" fill="#b838e8" filter="url(#b15)"/>
<circle cx="352.99" cy="663.84" r="1.04" fill="#b838e8" filter="url(#b15)"/>
<circle cx="350.11" cy="663.03" r="0.81" fill="#b838e8" filter="url(#b15)"/>
<circle cx="340.66" cy="664.82" r="0.68" fill="#b838e8" filter="url(#b15)"/>
<circle cx="335.64" cy="680.05" r="0.62" fill="#b838e8" filter="url(#b15)"/>
<circle cx="324.46" cy="678.97" r="0.74" fill="#b838e8" filter="url(#b15)"/>
<circle cx="339.00" cy="666.96" r="0.77" fill="#b838e8" filter="url(#b15)"/>
<circle cx="331.40" cy="661.43" r="0.92" fill="#b838e8" filter="url(#b15)"/>
<circle cx="328.75" cy="667.84" r="0.97" fill="#b838e8" filter="url(#b15)"/>
<circle cx="321.79" cy="674.79" r="2.13" fill="#e838e0" filter="url(#b15)"/>
<circle cx="324.69" cy="673.56" r="1.30" fill="#e838e0" filter="url(#b15)"/>
<circle cx="336.11" cy="683.33" r="1.92" fill="#e838e0" filter="url(#b15)"/>
<circle cx="330.50" cy="681.92" r="1.17" fill="#e838e0" filter="url(#b15)"/>
<circle cx="324.67" cy="665.00" r="2.18" fill="#e838e0" filter="url(#b15)"/>
<circle cx="329.58" cy="667.63" r="1.20" fill="#e838e0" filter="url(#b15)"/>
<circle cx="332.80" cy="674.30" r="1.00" fill="#e838e0" filter="url(#b15)"/>
<circle cx="335.88" cy="680.14" r="1.58" fill="#e838e0" filter="url(#b15)"/>
<circle cx="331.71" cy="670.69" r="1.85" fill="#e838e0" filter="url(#b15)"/>
<circle cx="329.47" cy="666.18" r="1.21" fill="#e838e0" filter="url(#b15)"/>
<circle cx="322.28" cy="675.51" r="2.01" fill="#e838e0" filter="url(#b15)"/>
<circle cx="328.67" cy="680.56" r="2.14" fill="#e838e0" filter="url(#b15)"/>
<circle cx="324.02" cy="672.70" r="1.18" fill="#e838e0" filter="url(#b15)"/>
<circle cx="329.87" cy="668.93" r="1.18" fill="#e838e0" filter="url(#b15)"/>
<circle cx="321.33" cy="668.48" r="1.94" fill="#e838e0" filter="url(#b15)"/>
<circle cx="330.70" cy="681.26" r="1.70" fill="#e838e0" filter="url(#b15)"/>
</g>
<ellipse cx="339.80" cy="731.40" rx="22.50" ry="16.50" transform="rotate(-20 339.80 731.40)" fill="#1e1ef2" filter="url(#b2)"/>
<circle cx="353.10" cy="735.88" r="0.84" fill="#b040e0" filter="url(#b15)"/>
<circle cx="345.25" cy="728.56" r="0.98" fill="#b040e0" filter="url(#b15)"/>
<circle cx="337.86" cy="739.93" r="0.74" fill="#b040e0" filter="url(#b15)"/>
<circle cx="352.55" cy="733.41" r="0.81" fill="#b040e0" filter="url(#b15)"/>
<circle cx="342.84" cy="735.56" r="0.70" fill="#b040e0" filter="url(#b15)"/>
<circle cx="344.52" cy="738.51" r="0.73" fill="#b040e0" filter="url(#b15)"/>
<circle cx="352.19" cy="732.27" r="1.02" fill="#b040e0" filter="url(#b15)"/>
<circle cx="330.24" cy="723.10" r="1.00" fill="#b040e0" filter="url(#b15)"/>
<circle cx="350.00" cy="726.10" r="0.65" fill="#b040e0" filter="url(#b15)"/>
<circle cx="330.41" cy="738.72" r="0.75" fill="#b040e0" filter="url(#b15)"/>
<circle cx="356.49" cy="727.89" r="0.70" fill="#b040e0" filter="url(#b15)"/>
<circle cx="343.96" cy="725.84" r="1.07" fill="#b040e0" filter="url(#b15)"/>
<circle cx="354.33" cy="726.54" r="0.92" fill="#b040e0" filter="url(#b15)"/>
<circle cx="349.60" cy="736.68" r="1.09" fill="#b040e0" filter="url(#b15)"/>
<circle cx="330.36" cy="724.73" r="1.39" fill="#d040d8" filter="url(#b15)"/>
<circle cx="330.97" cy="721.82" r="1.30" fill="#d040d8" filter="url(#b15)"/>
<circle cx="341.55" cy="727.77" r="1.59" fill="#d040d8" filter="url(#b15)"/>
<circle cx="335.53" cy="727.58" r="1.35" fill="#d040d8" filter="url(#b15)"/>
<line x1="354.20" y1="761.40" x2="363.90" y2="761.40" stroke="#fff" stroke-width="1.2" stroke-linecap="butt"/>
<rect x="279.90" y="570.00" width="24.90" height="65.00" fill="#efefef" stroke="#1a1a1a" stroke-width="1" />
<text x="0" y="0" transform="translate(291.97,602.50) rotate(-90)" text-anchor="middle" fill="#1a1a1a" style="font-size:10.2px">Negative</text>
<text x="0" y="0" transform="translate(301.67,602.50) rotate(-90)" text-anchor="middle" fill="#1a1a1a" style="font-size:10.2px">control</text>
<rect x="279.90" y="637.00" width="11.60" height="129.00" fill="#efefef" stroke="#1a1a1a" stroke-width="1" />
<text x="0" y="0" transform="translate(289.52,701.50) rotate(-90)" text-anchor="middle" fill="#1a1a1a" style="font-size:10.6px">NM-R FANCI + RAD50</text>
<text x="0" y="0" transform="translate(303.60,667.00) rotate(-90)" text-anchor="middle" fill="#1a1a1a" style="font-size:8.6px">+NM-R cGAS</text>
<text x="0" y="0" transform="translate(303.60,734.5) rotate(-90)" text-anchor="middle" fill="#1a1a1a" style="font-size:8.6px">+NM-R cGAS<tspan dy="-3" style="font-size:5.6px">4mut</tspan></text>
<rect x="481.50" y="592.50" width="73.90" height="121.80" fill="#f4f4f4" />
<line x1="481.50" y1="592.50" x2="555.40" y2="592.50" stroke="#1a1a1a" stroke-width="1.4" stroke-linecap="butt"/>
<line x1="555.40" y1="592.50" x2="555.40" y2="714.30" stroke="#1a1a1a" stroke-width="1.4" stroke-linecap="butt"/>
<line x1="481.50" y1="591.80" x2="481.50" y2="715.00" stroke="#1a1a1a" stroke-width="1.5" stroke-linecap="butt"/>
<line x1="481.50" y1="714.30" x2="555.40" y2="714.30" stroke="#1a1a1a" stroke-width="1.5" stroke-linecap="butt"/>
<line x1="471.70" y1="714.30" x2="481.50" y2="714.30" stroke="#1a1a1a" stroke-width="1.5" stroke-linecap="butt"/>
<text x="467.50" y="719.88" text-anchor="end" fill="#1a1a1a" style="font-size:15.5px">0</text>
<line x1="476.30" y1="694.00" x2="481.50" y2="694.00" stroke="#1a1a1a" stroke-width="1.3" stroke-linecap="butt"/>
<line x1="471.70" y1="673.70" x2="481.50" y2="673.70" stroke="#1a1a1a" stroke-width="1.5" stroke-linecap="butt"/>
<text x="467.50" y="679.28" text-anchor="end" fill="#1a1a1a" style="font-size:15.5px">20</text>
<line x1="476.30" y1="653.40" x2="481.50" y2="653.40" stroke="#1a1a1a" stroke-width="1.3" stroke-linecap="butt"/>
<line x1="471.70" y1="633.10" x2="481.50" y2="633.10" stroke="#1a1a1a" stroke-width="1.5" stroke-linecap="butt"/>
<text x="467.50" y="638.68" text-anchor="end" fill="#1a1a1a" style="font-size:15.5px">40</text>
<line x1="476.30" y1="612.80" x2="481.50" y2="612.80" stroke="#1a1a1a" stroke-width="1.3" stroke-linecap="butt"/>
<line x1="471.70" y1="592.50" x2="481.50" y2="592.50" stroke="#1a1a1a" stroke-width="1.5" stroke-linecap="butt"/>
<text x="467.50" y="598.08" text-anchor="end" fill="#1a1a1a" style="font-size:15.5px">60</text>
<text x="0" y="0" transform="translate(446.55,656.00) rotate(-90)" text-anchor="middle" fill="#1a1a1a" style="font-size:13.2px">PLA dots per nucleus</text>
<path d="M502.70,612.40 C502.80,612.67 503.30,612.73 503.30,614.00 C503.30,615.27 502.80,617.33 502.70,620.00 C502.60,622.67 502.53,627.33 502.70,630.00 C502.87,632.67 503.03,633.83 503.70,636.00 C504.37,638.17 506.23,640.67 506.70,643.00 C507.17,645.33 506.33,647.38 506.50,650.00 C506.67,652.62 507.20,656.37 507.70,658.70 C508.20,661.03 508.87,661.48 509.50,664.00 C510.13,666.52 511.58,670.97 511.50,673.80 C511.42,676.63 510.23,678.88 509.00,681.00 C507.77,683.12 505.08,684.50 504.10,686.50 C503.12,688.50 503.40,691.18 503.10,693.00 C502.80,694.82 502.70,696.67 502.30,697.40 C501.90,698.13 501.10,698.13 500.70,697.40 C500.30,696.67 500.20,694.82 499.90,693.00 C499.60,691.18 499.88,688.50 498.90,686.50 C497.92,684.50 495.23,683.12 494.00,681.00 C492.77,678.88 491.58,676.63 491.50,673.80 C491.42,670.97 492.87,666.52 493.50,664.00 C494.13,661.48 494.80,661.03 495.30,658.70 C495.80,656.37 496.33,652.62 496.50,650.00 C496.67,647.38 495.83,645.33 496.30,643.00 C496.77,640.67 498.63,638.17 499.30,636.00 C499.97,633.83 500.13,632.67 500.30,630.00 C500.47,627.33 500.40,622.67 500.30,620.00 C500.20,617.33 499.70,615.27 499.70,614.00 C499.70,612.73 499.80,612.67 500.30,612.40 C500.80,612.13 502.30,612.40 502.70,612.40 Z" fill="#f0f0f0" stroke="#1a1a1a" stroke-width="1.3"/>
<circle cx="501.58" cy="634.44" r="0.8" fill="none" stroke="#9a9a9a" stroke-width="0.5"/>
<circle cx="502.36" cy="645.00" r="0.8" fill="none" stroke="#9a9a9a" stroke-width="0.5"/>
<circle cx="495.16" cy="665.46" r="0.8" fill="none" stroke="#9a9a9a" stroke-width="0.5"/>
<circle cx="501.87" cy="616.45" r="0.8" fill="none" stroke="#9a9a9a" stroke-width="0.5"/>
<circle cx="500.83" cy="636.15" r="0.8" fill="none" stroke="#9a9a9a" stroke-width="0.5"/>
<circle cx="504.47" cy="653.02" r="0.8" fill="none" stroke="#9a9a9a" stroke-width="0.5"/>
<circle cx="502.75" cy="653.51" r="0.8" fill="none" stroke="#9a9a9a" stroke-width="0.5"/>
<circle cx="506.98" cy="666.19" r="0.8" fill="none" stroke="#9a9a9a" stroke-width="0.5"/>
<circle cx="503.91" cy="657.25" r="0.8" fill="none" stroke="#9a9a9a" stroke-width="0.5"/>
<circle cx="494.49" cy="669.11" r="0.8" fill="none" stroke="#9a9a9a" stroke-width="0.5"/>
<circle cx="503.00" cy="676.06" r="0.8" fill="none" stroke="#9a9a9a" stroke-width="0.5"/>
<circle cx="498.97" cy="639.50" r="0.8" fill="none" stroke="#9a9a9a" stroke-width="0.5"/>
<circle cx="501.32" cy="684.64" r="0.8" fill="none" stroke="#9a9a9a" stroke-width="0.5"/>
<circle cx="508.18" cy="672.91" r="0.8" fill="none" stroke="#9a9a9a" stroke-width="0.5"/>
<circle cx="508.86" cy="672.53" r="0.8" fill="none" stroke="#9a9a9a" stroke-width="0.5"/>
<circle cx="503.96" cy="647.00" r="0.8" fill="none" stroke="#9a9a9a" stroke-width="0.5"/>
<circle cx="505.10" cy="650.97" r="0.8" fill="none" stroke="#9a9a9a" stroke-width="0.5"/>
<circle cx="499.64" cy="685.71" r="0.8" fill="none" stroke="#9a9a9a" stroke-width="0.5"/>
<circle cx="502.11" cy="632.76" r="0.8" fill="none" stroke="#9a9a9a" stroke-width="0.5"/>
<circle cx="502.52" cy="650.29" r="0.8" fill="none" stroke="#9a9a9a" stroke-width="0.5"/>
<circle cx="501.54" cy="639.48" r="0.8" fill="none" stroke="#9a9a9a" stroke-width="0.5"/>
<circle cx="500.28" cy="646.27" r="0.8" fill="none" stroke="#9a9a9a" stroke-width="0.5"/>
<circle cx="502.58" cy="662.21" r="0.8" fill="none" stroke="#9a9a9a" stroke-width="0.5"/>
<circle cx="502.01" cy="687.74" r="0.8" fill="none" stroke="#9a9a9a" stroke-width="0.5"/>
<circle cx="502.29" cy="689.72" r="0.8" fill="none" stroke="#9a9a9a" stroke-width="0.5"/>
<circle cx="496.08" cy="669.10" r="0.8" fill="none" stroke="#9a9a9a" stroke-width="0.5"/>
<circle cx="504.85" cy="684.25" r="0.8" fill="none" stroke="#9a9a9a" stroke-width="0.5"/>
<circle cx="501.69" cy="687.78" r="0.8" fill="none" stroke="#9a9a9a" stroke-width="0.5"/>
<circle cx="496.45" cy="672.51" r="0.8" fill="none" stroke="#9a9a9a" stroke-width="0.5"/>
<circle cx="502.33" cy="681.93" r="0.8" fill="none" stroke="#9a9a9a" stroke-width="0.5"/>
<circle cx="499.63" cy="638.20" r="0.8" fill="none" stroke="#9a9a9a" stroke-width="0.5"/>
<circle cx="505.50" cy="683.72" r="0.8" fill="none" stroke="#9a9a9a" stroke-width="0.5"/>
<circle cx="500.24" cy="679.45" r="0.8" fill="none" stroke="#9a9a9a" stroke-width="0.5"/>
<circle cx="502.82" cy="638.91" r="0.8" fill="none" stroke="#9a9a9a" stroke-width="0.5"/>
<circle cx="499.00" cy="685.22" r="0.8" fill="none" stroke="#9a9a9a" stroke-width="0.5"/>
<circle cx="495.02" cy="664.56" r="0.8" fill="none" stroke="#9a9a9a" stroke-width="0.5"/>
<circle cx="498.52" cy="672.88" r="0.8" fill="none" stroke="#9a9a9a" stroke-width="0.5"/>
<circle cx="503.58" cy="685.87" r="0.8" fill="none" stroke="#9a9a9a" stroke-width="0.5"/>
<circle cx="506.29" cy="655.83" r="0.8" fill="none" stroke="#9a9a9a" stroke-width="0.5"/>
<circle cx="498.97" cy="640.17" r="0.8" fill="none" stroke="#9a9a9a" stroke-width="0.5"/>
<circle cx="495.14" cy="663.38" r="0.8" fill="none" stroke="#9a9a9a" stroke-width="0.5"/>
<circle cx="502.40" cy="648.03" r="0.8" fill="none" stroke="#9a9a9a" stroke-width="0.5"/>
<circle cx="500.35" cy="684.82" r="0.8" fill="none" stroke="#9a9a9a" stroke-width="0.5"/>
<circle cx="502.09" cy="692.09" r="0.8" fill="none" stroke="#9a9a9a" stroke-width="0.5"/>
<circle cx="501.17" cy="645.62" r="0.8" fill="none" stroke="#9a9a9a" stroke-width="0.5"/>
<circle cx="502.93" cy="657.01" r="0.8" fill="none" stroke="#9a9a9a" stroke-width="0.5"/>
<circle cx="502.29" cy="663.05" r="0.8" fill="none" stroke="#9a9a9a" stroke-width="0.5"/>
<circle cx="507.85" cy="665.01" r="0.8" fill="none" stroke="#9a9a9a" stroke-width="0.5"/>
<circle cx="500.84" cy="655.96" r="0.8" fill="none" stroke="#9a9a9a" stroke-width="0.5"/>
<circle cx="496.86" cy="673.02" r="0.8" fill="none" stroke="#9a9a9a" stroke-width="0.5"/>
<circle cx="504.07" cy="639.49" r="0.8" fill="none" stroke="#9a9a9a" stroke-width="0.5"/>
<line x1="496.00" y1="658.00" x2="507.00" y2="658.00" stroke="#1a1a1a" stroke-width="0.8" stroke-linecap="butt" stroke-dasharray="2,1.5"/>
<line x1="494.10" y1="681.00" x2="508.90" y2="681.00" stroke="#1a1a1a" stroke-width="0.8" stroke-linecap="butt" stroke-dasharray="2,1.5"/>
<line x1="493.12" y1="668.30" x2="509.88" y2="668.30" stroke="#1a1a1a" stroke-width="1.6" stroke-linecap="butt" stroke-dasharray="3,1.5"/>
<path d="M534.60,627.20 C534.83,627.67 535.83,628.87 536.00,630.00 C536.17,631.13 535.67,631.50 535.60,634.00 C535.53,636.50 535.30,640.88 535.60,645.00 C535.90,649.12 536.62,655.20 537.40,658.70 C538.18,662.20 539.28,663.58 540.30,666.00 C541.32,668.42 543.12,671.37 543.50,673.20 C543.88,675.03 542.63,674.98 542.60,677.00 C542.57,679.02 543.68,682.80 543.30,685.30 C542.92,687.80 541.75,689.68 540.30,692.00 C538.85,694.32 535.82,698.00 534.60,699.20 C533.38,700.40 534.22,700.40 533.00,699.20 C531.78,698.00 528.75,694.32 527.30,692.00 C525.85,689.68 524.68,687.80 524.30,685.30 C523.92,682.80 525.03,679.02 525.00,677.00 C524.97,674.98 523.72,675.03 524.10,673.20 C524.48,671.37 526.28,668.42 527.30,666.00 C528.32,663.58 529.42,662.20 530.20,658.70 C530.98,655.20 531.70,649.12 532.00,645.00 C532.30,640.88 532.07,636.50 532.00,634.00 C531.93,631.50 531.43,631.13 531.60,630.00 C531.77,628.87 532.50,627.67 533.00,627.20 C533.50,626.73 534.33,627.20 534.60,627.20 Z" fill="#eef7f7" stroke="#8cc6c6" stroke-width="1.1"/>
<circle cx="533.06" cy="646.02" r="0.8" fill="none" stroke="#9ccfcf" stroke-width="0.5"/>
<circle cx="532.18" cy="656.74" r="0.8" fill="none" stroke="#9ccfcf" stroke-width="0.5"/>
<circle cx="533.64" cy="634.66" r="0.8" fill="none" stroke="#9ccfcf" stroke-width="0.5"/>
<circle cx="537.18" cy="691.70" r="0.8" fill="none" stroke="#9ccfcf" stroke-width="0.5"/>
<circle cx="529.25" cy="681.47" r="0.8" fill="none" stroke="#9ccfcf" stroke-width="0.5"/>
<circle cx="531.31" cy="666.16" r="0.8" fill="none" stroke="#9ccfcf" stroke-width="0.5"/>
<circle cx="533.17" cy="641.77" r="0.8" fill="none" stroke="#9ccfcf" stroke-width="0.5"/>
<circle cx="534.48" cy="644.56" r="0.8" fill="none" stroke="#9ccfcf" stroke-width="0.5"/>
<circle cx="538.89" cy="685.74" r="0.8" fill="none" stroke="#9ccfcf" stroke-width="0.5"/>
<circle cx="528.66" cy="683.83" r="0.8" fill="none" stroke="#9ccfcf" stroke-width="0.5"/>
<circle cx="534.20" cy="650.96" r="0.8" fill="none" stroke="#9ccfcf" stroke-width="0.5"/>
<circle cx="539.47" cy="679.24" r="0.8" fill="none" stroke="#9ccfcf" stroke-width="0.5"/>
<circle cx="528.20" cy="689.16" r="0.8" fill="none" stroke="#9ccfcf" stroke-width="0.5"/>
<circle cx="536.42" cy="670.79" r="0.8" fill="none" stroke="#9ccfcf" stroke-width="0.5"/>
<circle cx="530.74" cy="664.10" r="0.8" fill="none" stroke="#9ccfcf" stroke-width="0.5"/>
<circle cx="530.61" cy="661.93" r="0.8" fill="none" stroke="#9ccfcf" stroke-width="0.5"/>
<circle cx="537.35" cy="692.82" r="0.8" fill="none" stroke="#9ccfcf" stroke-width="0.5"/>
<circle cx="531.44" cy="666.89" r="0.8" fill="none" stroke="#9ccfcf" stroke-width="0.5"/>
<circle cx="534.65" cy="691.09" r="0.8" fill="none" stroke="#9ccfcf" stroke-width="0.5"/>
<circle cx="538.47" cy="689.32" r="0.8" fill="none" stroke="#9ccfcf" stroke-width="0.5"/>
<circle cx="532.97" cy="664.26" r="0.8" fill="none" stroke="#9ccfcf" stroke-width="0.5"/>
<circle cx="532.78" cy="670.33" r="0.8" fill="none" stroke="#9ccfcf" stroke-width="0.5"/>
<circle cx="533.49" cy="641.01" r="0.8" fill="none" stroke="#9ccfcf" stroke-width="0.5"/>
<circle cx="526.09" cy="684.64" r="0.8" fill="none" stroke="#9ccfcf" stroke-width="0.5"/>
<circle cx="534.02" cy="633.30" r="0.8" fill="none" stroke="#9ccfcf" stroke-width="0.5"/>
<circle cx="533.89" cy="648.99" r="0.8" fill="none" stroke="#9ccfcf" stroke-width="0.5"/>
<circle cx="532.60" cy="661.77" r="0.8" fill="none" stroke="#9ccfcf" stroke-width="0.5"/>
<circle cx="532.87" cy="697.02" r="0.8" fill="none" stroke="#9ccfcf" stroke-width="0.5"/>
<circle cx="532.32" cy="657.86" r="0.8" fill="none" stroke="#9ccfcf" stroke-width="0.5"/>
<circle cx="530.03" cy="672.59" r="0.8" fill="none" stroke="#9ccfcf" stroke-width="0.5"/>
<circle cx="534.78" cy="654.04" r="0.8" fill="none" stroke="#9ccfcf" stroke-width="0.5"/>
<circle cx="534.00" cy="651.68" r="0.8" fill="none" stroke="#9ccfcf" stroke-width="0.5"/>
<circle cx="528.98" cy="690.79" r="0.8" fill="none" stroke="#9ccfcf" stroke-width="0.5"/>
<circle cx="533.37" cy="634.33" r="0.8" fill="none" stroke="#9ccfcf" stroke-width="0.5"/>
<circle cx="535.69" cy="681.47" r="0.8" fill="none" stroke="#9ccfcf" stroke-width="0.5"/>
<circle cx="533.48" cy="646.11" r="0.8" fill="none" stroke="#9ccfcf" stroke-width="0.5"/>
<circle cx="533.73" cy="642.10" r="0.8" fill="none" stroke="#9ccfcf" stroke-width="0.5"/>
<circle cx="534.15" cy="633.07" r="0.8" fill="none" stroke="#9ccfcf" stroke-width="0.5"/>
<circle cx="539.52" cy="690.23" r="0.8" fill="none" stroke="#9ccfcf" stroke-width="0.5"/>
<circle cx="541.16" cy="679.44" r="0.8" fill="none" stroke="#9ccfcf" stroke-width="0.5"/>
<circle cx="533.35" cy="631.42" r="0.8" fill="none" stroke="#9ccfcf" stroke-width="0.5"/>
<circle cx="535.55" cy="694.92" r="0.8" fill="none" stroke="#9ccfcf" stroke-width="0.5"/>
<circle cx="535.99" cy="657.70" r="0.8" fill="none" stroke="#9ccfcf" stroke-width="0.5"/>
<circle cx="538.93" cy="671.77" r="0.8" fill="none" stroke="#9ccfcf" stroke-width="0.5"/>
<circle cx="532.91" cy="649.86" r="0.8" fill="none" stroke="#9ccfcf" stroke-width="0.5"/>
<circle cx="531.55" cy="659.96" r="0.8" fill="none" stroke="#9ccfcf" stroke-width="0.5"/>
<circle cx="535.85" cy="655.77" r="0.8" fill="none" stroke="#9ccfcf" stroke-width="0.5"/>
<circle cx="532.06" cy="652.40" r="0.8" fill="none" stroke="#9ccfcf" stroke-width="0.5"/>
<circle cx="533.22" cy="633.20" r="0.8" fill="none" stroke="#9ccfcf" stroke-width="0.5"/>
<circle cx="531.53" cy="682.71" r="0.8" fill="none" stroke="#9ccfcf" stroke-width="0.5"/>
<circle cx="532.66" cy="649.65" r="0.8" fill="none" stroke="#9ccfcf" stroke-width="0.5"/>
<circle cx="533.44" cy="695.98" r="0.8" fill="none" stroke="#9ccfcf" stroke-width="0.5"/>
<circle cx="533.09" cy="644.13" r="0.8" fill="none" stroke="#9ccfcf" stroke-width="0.5"/>
<circle cx="533.26" cy="633.90" r="0.8" fill="none" stroke="#9ccfcf" stroke-width="0.5"/>
<circle cx="528.09" cy="675.55" r="0.8" fill="none" stroke="#9ccfcf" stroke-width="0.5"/>
<circle cx="533.78" cy="632.94" r="0.8" fill="none" stroke="#9ccfcf" stroke-width="0.5"/>
<circle cx="534.84" cy="646.89" r="0.8" fill="none" stroke="#9ccfcf" stroke-width="0.5"/>
<circle cx="533.85" cy="638.39" r="0.8" fill="none" stroke="#9ccfcf" stroke-width="0.5"/>
<circle cx="532.31" cy="682.04" r="0.8" fill="none" stroke="#9ccfcf" stroke-width="0.5"/>
<circle cx="533.71" cy="696.37" r="0.8" fill="none" stroke="#9ccfcf" stroke-width="0.5"/>
<line x1="527.80" y1="664.00" x2="539.80" y2="664.00" stroke="#8cc6c6" stroke-width="0.8" stroke-linecap="butt" stroke-dasharray="2,1.5"/>
<line x1="525.30" y1="688.00" x2="542.30" y2="688.00" stroke="#8cc6c6" stroke-width="0.8" stroke-linecap="butt" stroke-dasharray="2,1.5"/>
<line x1="525.45" y1="676.80" x2="542.15" y2="676.80" stroke="#1a1a1a" stroke-width="1.6" stroke-linecap="butt" stroke-dasharray="3,1.5"/>
<line x1="501.50" y1="714.30" x2="501.50" y2="720.70" stroke="#1a1a1a" stroke-width="1.4" stroke-linecap="butt"/>
<line x1="533.80" y1="714.30" x2="533.80" y2="720.70" stroke="#1a1a1a" stroke-width="1.4" stroke-linecap="butt"/>
<line x1="503.40" y1="607.80" x2="533.00" y2="607.80" stroke="#1a1a1a" stroke-width="1.8" stroke-linecap="butt"/>
<text x="520.60" y="604.22" text-anchor="middle" fill="#1a1a1a" style="font-size:9.5px"><tspan font-style="italic">P</tspan> = 0.0029</text>
<text x="395.80" y="735.75" text-anchor="start" fill="#1a1a1a" style="font-size:13.2px">NM-R cGAS</text>
<text x="400.20" y="752.55" text-anchor="start" fill="#1a1a1a" style="font-size:13.2px">NM-R cGAS<tspan dy="-5.02" style="font-size:8.98px">4mut</tspan><tspan dy="5.02"></tspan></text>
<text x="501.50" y="736.04" text-anchor="middle" fill="#1a1a1a" style="font-size:14px">+</text>
<text x="533.80" y="736.04" text-anchor="middle" fill="#1a1a1a" style="font-size:14px">-</text>
<text x="501.50" y="753.54" text-anchor="middle" fill="#1a1a1a" style="font-size:14px">-</text>
<text x="533.80" y="753.54" text-anchor="middle" fill="#1a1a1a" style="font-size:14px">+</text>
<text x="0" y="0" transform="translate(600.35,568.90) scale(0.8,1)" fill="#000" stroke="#000" stroke-width="0.35" style="font-size:18.4px;font-weight:bold">O</text>
<rect x="659.10" y="571.00" width="61.20" height="63.80" fill="#000" />
<rect x="659.10" y="636.50" width="61.20" height="63.00" fill="#000" />
<rect x="659.10" y="700.80" width="61.20" height="63.20" fill="#000" />
<ellipse cx="688.90" cy="601.70" rx="23.80" ry="25.50" transform="rotate(0 688.90 601.70)" fill="#1e1ef2" filter="url(#b2)"/>
<ellipse cx="689.70" cy="668.80" rx="26.40" ry="22.00" transform="rotate(0 689.70 668.80)" fill="#1e1ef2" filter="url(#b2)"/>
<circle cx="672.93" cy="676.46" r="0.74" fill="#e050d8" filter="url(#bs)"/>
<circle cx="676.66" cy="674.11" r="0.93" fill="#e050d8" filter="url(#bs)"/>
<circle cx="687.60" cy="668.61" r="0.80" fill="#e050d8" filter="url(#bs)"/>
<circle cx="679.23" cy="665.35" r="1.15" fill="#e050d8" filter="url(#bs)"/>
<circle cx="684.27" cy="654.35" r="0.83" fill="#e050d8" filter="url(#bs)"/>
<circle cx="695.09" cy="664.21" r="1.03" fill="#e050d8" filter="url(#bs)"/>
<circle cx="682.45" cy="675.95" r="0.95" fill="#e050d8" filter="url(#bs)"/>
<circle cx="696.42" cy="683.81" r="0.99" fill="#e050d8" filter="url(#bs)"/>
<circle cx="709.72" cy="668.38" r="0.80" fill="#e050d8" filter="url(#bs)"/>
<ellipse cx="689.70" cy="730.00" rx="26.40" ry="23.40" transform="rotate(0 689.70 730.00)" fill="#1e1ef2" filter="url(#b2)"/>
<circle cx="688.04" cy="724.96" r="0.90" fill="#f05070" filter="url(#bs)"/>
<circle cx="689.82" cy="745.84" r="0.86" fill="#f05070" filter="url(#bs)"/>
<circle cx="692.14" cy="734.64" r="0.83" fill="#f05070" filter="url(#bs)"/>
<circle cx="684.27" cy="738.09" r="1.12" fill="#f05070" filter="url(#bs)"/>
<circle cx="699.80" cy="716.36" r="0.97" fill="#f05070" filter="url(#bs)"/>
<circle cx="672.24" cy="730.25" r="1.45" fill="#f05070" filter="url(#bs)"/>
<circle cx="693.76" cy="740.91" r="1.07" fill="#f05070" filter="url(#bs)"/>
<circle cx="700.74" cy="714.15" r="1.00" fill="#f05070" filter="url(#bs)"/>
<circle cx="697.52" cy="738.98" r="1.10" fill="#f05070" filter="url(#bs)"/>
<circle cx="671.20" cy="720.72" r="0.95" fill="#f05070" filter="url(#bs)"/>
<circle cx="679.88" cy="742.31" r="0.94" fill="#f05070" filter="url(#bs)"/>
<circle cx="669.72" cy="725.18" r="1.14" fill="#f05070" filter="url(#bs)"/>
<circle cx="668.31" cy="727.01" r="1.43" fill="#f05070" filter="url(#bs)"/>
<circle cx="672.29" cy="733.85" r="0.88" fill="#f05070" filter="url(#bs)"/>
<circle cx="693.23" cy="745.73" r="0.94" fill="#f05070" filter="url(#bs)"/>
<circle cx="691.48" cy="710.80" r="0.86" fill="#f05070" filter="url(#bs)"/>
<line x1="706.70" y1="762.00" x2="715.20" y2="762.00" stroke="#fff" stroke-width="1.2" stroke-linecap="butt"/>
<rect x="631.60" y="572.20" width="25.00" height="62.60" fill="#efefef" stroke="#1a1a1a" stroke-width="1" />
<text x="0" y="0" transform="translate(642.37,603.40) rotate(-90)" text-anchor="middle" fill="#1a1a1a" style="font-size:10.2px">Negative</text>
<text x="0" y="0" transform="translate(654.27,603.40) rotate(-90)" text-anchor="middle" fill="#1a1a1a" style="font-size:10.2px">control</text>
<rect x="631.60" y="636.90" width="11.90" height="129.20" fill="#efefef" stroke="#1a1a1a" stroke-width="1" />
<text x="0" y="0" transform="translate(641.57,704.50) rotate(-90)" text-anchor="middle" fill="#1a1a1a" style="font-size:11.3px">hFANCI + RAD50</text>
<text x="0" y="0" transform="translate(656.87,667.50) rotate(-90)" text-anchor="middle" fill="#1a1a1a" style="font-size:10.2px">+hcGAS</text>
<text x="0" y="0" transform="translate(656.87,734) rotate(-90)" text-anchor="middle" fill="#1a1a1a" style="font-size:10.2px">+hcGAS<tspan dy="-3.6" style="font-size:6.6px">4mut</tspan></text>
<rect x="806.60" y="592.40" width="73.80" height="122.60" fill="#f4f4f4" />
<line x1="806.60" y1="592.40" x2="880.40" y2="592.40" stroke="#1a1a1a" stroke-width="1.4" stroke-linecap="butt"/>
<line x1="880.40" y1="592.40" x2="880.40" y2="715.00" stroke="#1a1a1a" stroke-width="1.4" stroke-linecap="butt"/>
<line x1="806.60" y1="591.70" x2="806.60" y2="715.70" stroke="#1a1a1a" stroke-width="1.5" stroke-linecap="butt"/>
<line x1="806.60" y1="715.00" x2="880.40" y2="715.00" stroke="#1a1a1a" stroke-width="1.5" stroke-linecap="butt"/>
<line x1="796.70" y1="715.00" x2="806.60" y2="715.00" stroke="#1a1a1a" stroke-width="1.5" stroke-linecap="butt"/>
<text x="793.00" y="720.58" text-anchor="end" fill="#1a1a1a" style="font-size:15.5px">0</text>
<line x1="801.50" y1="702.74" x2="806.60" y2="702.74" stroke="#1a1a1a" stroke-width="1.3" stroke-linecap="butt"/>
<line x1="796.70" y1="690.48" x2="806.60" y2="690.48" stroke="#1a1a1a" stroke-width="1.5" stroke-linecap="butt"/>
<text x="793.00" y="696.06" text-anchor="end" fill="#1a1a1a" style="font-size:15.5px">10</text>
<line x1="801.50" y1="678.22" x2="806.60" y2="678.22" stroke="#1a1a1a" stroke-width="1.3" stroke-linecap="butt"/>
<line x1="796.70" y1="665.96" x2="806.60" y2="665.96" stroke="#1a1a1a" stroke-width="1.5" stroke-linecap="butt"/>
<text x="793.00" y="671.54" text-anchor="end" fill="#1a1a1a" style="font-size:15.5px">20</text>
<line x1="801.50" y1="653.70" x2="806.60" y2="653.70" stroke="#1a1a1a" stroke-width="1.3" stroke-linecap="butt"/>
<line x1="796.70" y1="641.44" x2="806.60" y2="641.44" stroke="#1a1a1a" stroke-width="1.5" stroke-linecap="butt"/>
<text x="793.00" y="647.02" text-anchor="end" fill="#1a1a1a" style="font-size:15.5px">30</text>
<line x1="801.50" y1="629.18" x2="806.60" y2="629.18" stroke="#1a1a1a" stroke-width="1.3" stroke-linecap="butt"/>
<line x1="796.70" y1="616.92" x2="806.60" y2="616.92" stroke="#1a1a1a" stroke-width="1.5" stroke-linecap="butt"/>
<text x="793.00" y="622.50" text-anchor="end" fill="#1a1a1a" style="font-size:15.5px">40</text>
<line x1="801.50" y1="604.66" x2="806.60" y2="604.66" stroke="#1a1a1a" stroke-width="1.3" stroke-linecap="butt"/>
<line x1="796.70" y1="592.40" x2="806.60" y2="592.40" stroke="#1a1a1a" stroke-width="1.5" stroke-linecap="butt"/>
<text x="793.00" y="597.98" text-anchor="end" fill="#1a1a1a" style="font-size:15.5px">50</text>
<text x="0" y="0" transform="translate(771.45,656.00) rotate(-90)" text-anchor="middle" fill="#1a1a1a" style="font-size:13.2px">PLA dots per nucleus</text>
<path d="M827.40,626.70 C827.53,627.00 828.13,627.28 828.20,628.50 C828.27,629.72 827.90,630.42 827.80,634.00 C827.70,637.58 827.58,644.70 827.60,650.00 C827.62,655.30 827.43,661.63 827.90,665.80 C828.37,669.97 829.32,671.80 830.40,675.00 C831.48,678.20 833.37,681.58 834.40,685.00 C835.43,688.42 836.43,692.50 836.60,695.50 C836.77,698.50 836.18,700.75 835.40,703.00 C834.62,705.25 833.23,707.63 831.90,709.00 C830.57,710.37 828.48,710.83 827.40,711.20 C826.32,711.57 826.48,711.57 825.40,711.20 C824.32,710.83 822.23,710.37 820.90,709.00 C819.57,707.63 818.18,705.25 817.40,703.00 C816.62,700.75 816.03,698.50 816.20,695.50 C816.37,692.50 817.37,688.42 818.40,685.00 C819.43,681.58 821.32,678.20 822.40,675.00 C823.48,671.80 824.43,669.97 824.90,665.80 C825.37,661.63 825.18,655.30 825.20,650.00 C825.22,644.70 825.10,637.58 825.00,634.00 C824.90,630.42 824.53,629.72 824.60,628.50 C824.67,627.28 824.93,627.00 825.40,626.70 C825.87,626.40 827.07,626.70 827.40,626.70 Z" fill="#dcdcdc" stroke="#1a1a1a" stroke-width="1.3"/>
<circle cx="821.63" cy="681.45" r="0.8" fill="none" stroke="#9a9a9a" stroke-width="0.5"/>
<circle cx="825.79" cy="672.30" r="0.8" fill="none" stroke="#9a9a9a" stroke-width="0.5"/>
<circle cx="824.87" cy="670.04" r="0.8" fill="none" stroke="#9a9a9a" stroke-width="0.5"/>
<circle cx="819.49" cy="695.43" r="0.8" fill="none" stroke="#9a9a9a" stroke-width="0.5"/>
<circle cx="830.73" cy="679.58" r="0.8" fill="none" stroke="#9a9a9a" stroke-width="0.5"/>
<circle cx="825.73" cy="675.58" r="0.8" fill="none" stroke="#9a9a9a" stroke-width="0.5"/>
<circle cx="821.43" cy="707.31" r="0.8" fill="none" stroke="#9a9a9a" stroke-width="0.5"/>
<circle cx="822.69" cy="697.95" r="0.8" fill="none" stroke="#9a9a9a" stroke-width="0.5"/>
<circle cx="820.65" cy="694.58" r="0.8" fill="none" stroke="#9a9a9a" stroke-width="0.5"/>
<circle cx="827.34" cy="675.94" r="0.8" fill="none" stroke="#9a9a9a" stroke-width="0.5"/>
<circle cx="824.19" cy="673.25" r="0.8" fill="none" stroke="#9a9a9a" stroke-width="0.5"/>
<circle cx="825.46" cy="683.79" r="0.8" fill="none" stroke="#9a9a9a" stroke-width="0.5"/>
<circle cx="826.07" cy="676.25" r="0.8" fill="none" stroke="#9a9a9a" stroke-width="0.5"/>
<circle cx="829.84" cy="692.85" r="0.8" fill="none" stroke="#9a9a9a" stroke-width="0.5"/>
<circle cx="826.56" cy="675.37" r="0.8" fill="none" stroke="#9a9a9a" stroke-width="0.5"/>
<circle cx="830.34" cy="699.27" r="0.8" fill="none" stroke="#9a9a9a" stroke-width="0.5"/>
<circle cx="822.35" cy="707.62" r="0.8" fill="none" stroke="#9a9a9a" stroke-width="0.5"/>
<circle cx="820.81" cy="689.89" r="0.8" fill="none" stroke="#9a9a9a" stroke-width="0.5"/>
<circle cx="825.24" cy="668.57" r="0.8" fill="none" stroke="#9a9a9a" stroke-width="0.5"/>
<circle cx="829.64" cy="682.82" r="0.8" fill="none" stroke="#9a9a9a" stroke-width="0.5"/>
<circle cx="828.73" cy="675.26" r="0.8" fill="none" stroke="#9a9a9a" stroke-width="0.5"/>
<circle cx="827.72" cy="684.98" r="0.8" fill="none" stroke="#9a9a9a" stroke-width="0.5"/>
<circle cx="826.11" cy="675.80" r="0.8" fill="none" stroke="#9a9a9a" stroke-width="0.5"/>
<circle cx="834.44" cy="696.48" r="0.8" fill="none" stroke="#9a9a9a" stroke-width="0.5"/>
<circle cx="826.71" cy="667.39" r="0.8" fill="none" stroke="#9a9a9a" stroke-width="0.5"/>
<circle cx="828.49" cy="685.47" r="0.8" fill="none" stroke="#9a9a9a" stroke-width="0.5"/>
<circle cx="829.43" cy="708.65" r="0.8" fill="none" stroke="#9a9a9a" stroke-width="0.5"/>
<circle cx="820.53" cy="682.86" r="0.8" fill="none" stroke="#9a9a9a" stroke-width="0.5"/>
<circle cx="825.96" cy="666.40" r="0.8" fill="none" stroke="#9a9a9a" stroke-width="0.5"/>
<circle cx="820.31" cy="690.77" r="0.8" fill="none" stroke="#9a9a9a" stroke-width="0.5"/>
<circle cx="819.15" cy="698.98" r="0.8" fill="none" stroke="#9a9a9a" stroke-width="0.5"/>
<circle cx="828.36" cy="673.38" r="0.8" fill="none" stroke="#9a9a9a" stroke-width="0.5"/>
<line x1="818.40" y1="685.00" x2="834.40" y2="685.00" stroke="#1a1a1a" stroke-width="0.8" stroke-linecap="butt" stroke-dasharray="2,1.5"/>
<line x1="817.40" y1="703.00" x2="835.40" y2="703.00" stroke="#1a1a1a" stroke-width="0.8" stroke-linecap="butt" stroke-dasharray="2,1.5"/>
<line x1="816.78" y1="696.00" x2="836.02" y2="696.00" stroke="#1a1a1a" stroke-width="1.6" stroke-linecap="butt" stroke-dasharray="3,1.5"/>
<path d="M859.40,609.40 C859.60,609.83 860.43,610.23 860.60,612.00 C860.77,613.77 860.27,616.67 860.40,620.00 C860.53,623.33 860.90,627.67 861.40,632.00 C861.90,636.33 862.90,642.00 863.40,646.00 C863.90,650.00 863.57,653.00 864.40,656.00 C865.23,659.00 867.82,661.33 868.40,664.00 C868.98,666.67 867.78,668.40 867.90,672.00 C868.02,675.60 869.52,681.60 869.10,685.60 C868.68,689.60 866.52,693.27 865.40,696.00 C864.28,698.73 863.40,700.30 862.40,702.00 C861.40,703.70 860.23,705.50 859.40,706.20 C858.57,706.90 858.23,706.90 857.40,706.20 C856.57,705.50 855.40,703.70 854.40,702.00 C853.40,700.30 852.52,698.73 851.40,696.00 C850.28,693.27 848.12,689.60 847.70,685.60 C847.28,681.60 848.78,675.60 848.90,672.00 C849.02,668.40 847.82,666.67 848.40,664.00 C848.98,661.33 851.57,659.00 852.40,656.00 C853.23,653.00 852.90,650.00 853.40,646.00 C853.90,642.00 854.90,636.33 855.40,632.00 C855.90,627.67 856.27,623.33 856.40,620.00 C856.53,616.67 856.03,613.77 856.20,612.00 C856.37,610.23 856.87,609.83 857.40,609.40 C857.93,608.97 859.07,609.40 859.40,609.40 Z" fill="#e6f3f3" stroke="#8cc6c6" stroke-width="1.1"/>
<circle cx="860.41" cy="633.21" r="0.8" fill="none" stroke="#9ccfcf" stroke-width="0.5"/>
<circle cx="858.95" cy="624.00" r="0.8" fill="none" stroke="#9ccfcf" stroke-width="0.5"/>
<circle cx="857.89" cy="620.22" r="0.8" fill="none" stroke="#9ccfcf" stroke-width="0.5"/>
<circle cx="857.54" cy="704.12" r="0.8" fill="none" stroke="#9ccfcf" stroke-width="0.5"/>
<circle cx="857.70" cy="671.32" r="0.8" fill="none" stroke="#9ccfcf" stroke-width="0.5"/>
<circle cx="858.35" cy="654.00" r="0.8" fill="none" stroke="#9ccfcf" stroke-width="0.5"/>
<circle cx="859.61" cy="630.05" r="0.8" fill="none" stroke="#9ccfcf" stroke-width="0.5"/>
<circle cx="857.84" cy="620.62" r="0.8" fill="none" stroke="#9ccfcf" stroke-width="0.5"/>
<circle cx="857.87" cy="614.24" r="0.8" fill="none" stroke="#9ccfcf" stroke-width="0.5"/>
<circle cx="861.92" cy="649.82" r="0.8" fill="none" stroke="#9ccfcf" stroke-width="0.5"/>
<circle cx="855.22" cy="647.20" r="0.8" fill="none" stroke="#9ccfcf" stroke-width="0.5"/>
<circle cx="860.94" cy="636.12" r="0.8" fill="none" stroke="#9ccfcf" stroke-width="0.5"/>
<circle cx="858.65" cy="618.19" r="0.8" fill="none" stroke="#9ccfcf" stroke-width="0.5"/>
<circle cx="859.72" cy="647.03" r="0.8" fill="none" stroke="#9ccfcf" stroke-width="0.5"/>
<circle cx="859.79" cy="643.47" r="0.8" fill="none" stroke="#9ccfcf" stroke-width="0.5"/>
<circle cx="860.21" cy="658.08" r="0.8" fill="none" stroke="#9ccfcf" stroke-width="0.5"/>
<circle cx="859.43" cy="695.15" r="0.8" fill="none" stroke="#9ccfcf" stroke-width="0.5"/>
<circle cx="857.13" cy="625.45" r="0.8" fill="none" stroke="#9ccfcf" stroke-width="0.5"/>
<circle cx="858.30" cy="699.25" r="0.8" fill="none" stroke="#9ccfcf" stroke-width="0.5"/>
<circle cx="860.05" cy="630.20" r="0.8" fill="none" stroke="#9ccfcf" stroke-width="0.5"/>
<circle cx="862.48" cy="665.55" r="0.8" fill="none" stroke="#9ccfcf" stroke-width="0.5"/>
<circle cx="855.41" cy="693.27" r="0.8" fill="none" stroke="#9ccfcf" stroke-width="0.5"/>
<circle cx="861.33" cy="645.14" r="0.8" fill="none" stroke="#9ccfcf" stroke-width="0.5"/>
<circle cx="859.14" cy="624.79" r="0.8" fill="none" stroke="#9ccfcf" stroke-width="0.5"/>
<circle cx="858.82" cy="621.36" r="0.8" fill="none" stroke="#9ccfcf" stroke-width="0.5"/>
<circle cx="866.44" cy="676.86" r="0.8" fill="none" stroke="#9ccfcf" stroke-width="0.5"/>
<circle cx="858.46" cy="689.83" r="0.8" fill="none" stroke="#9ccfcf" stroke-width="0.5"/>
<circle cx="857.09" cy="630.54" r="0.8" fill="none" stroke="#9ccfcf" stroke-width="0.5"/>
<circle cx="858.55" cy="660.94" r="0.8" fill="none" stroke="#9ccfcf" stroke-width="0.5"/>
<circle cx="859.23" cy="618.96" r="0.8" fill="none" stroke="#9ccfcf" stroke-width="0.5"/>
<circle cx="861.01" cy="658.98" r="0.8" fill="none" stroke="#9ccfcf" stroke-width="0.5"/>
<circle cx="857.33" cy="632.59" r="0.8" fill="none" stroke="#9ccfcf" stroke-width="0.5"/>
<circle cx="858.04" cy="613.49" r="0.8" fill="none" stroke="#9ccfcf" stroke-width="0.5"/>
<circle cx="857.99" cy="636.90" r="0.8" fill="none" stroke="#9ccfcf" stroke-width="0.5"/>
<circle cx="861.14" cy="647.00" r="0.8" fill="none" stroke="#9ccfcf" stroke-width="0.5"/>
<circle cx="854.10" cy="694.24" r="0.8" fill="none" stroke="#9ccfcf" stroke-width="0.5"/>
<circle cx="855.54" cy="648.78" r="0.8" fill="none" stroke="#9ccfcf" stroke-width="0.5"/>
<circle cx="866.58" cy="673.28" r="0.8" fill="none" stroke="#9ccfcf" stroke-width="0.5"/>
<circle cx="859.42" cy="630.93" r="0.8" fill="none" stroke="#9ccfcf" stroke-width="0.5"/>
<circle cx="855.35" cy="639.94" r="0.8" fill="none" stroke="#9ccfcf" stroke-width="0.5"/>
<circle cx="855.42" cy="682.56" r="0.8" fill="none" stroke="#9ccfcf" stroke-width="0.5"/>
<circle cx="858.19" cy="628.02" r="0.8" fill="none" stroke="#9ccfcf" stroke-width="0.5"/>
<circle cx="858.00" cy="633.67" r="0.8" fill="none" stroke="#9ccfcf" stroke-width="0.5"/>
<circle cx="857.62" cy="653.35" r="0.8" fill="none" stroke="#9ccfcf" stroke-width="0.5"/>
<circle cx="854.66" cy="666.43" r="0.8" fill="none" stroke="#9ccfcf" stroke-width="0.5"/>
<circle cx="857.49" cy="621.13" r="0.8" fill="none" stroke="#9ccfcf" stroke-width="0.5"/>
<circle cx="858.45" cy="622.18" r="0.8" fill="none" stroke="#9ccfcf" stroke-width="0.5"/>
<circle cx="860.81" cy="645.46" r="0.8" fill="none" stroke="#9ccfcf" stroke-width="0.5"/>
<circle cx="861.05" cy="658.75" r="0.8" fill="none" stroke="#9ccfcf" stroke-width="0.5"/>
<circle cx="856.01" cy="702.37" r="0.8" fill="none" stroke="#9ccfcf" stroke-width="0.5"/>
<circle cx="857.57" cy="613.96" r="0.8" fill="none" stroke="#9ccfcf" stroke-width="0.5"/>
<circle cx="859.02" cy="647.87" r="0.8" fill="none" stroke="#9ccfcf" stroke-width="0.5"/>
<circle cx="855.65" cy="680.68" r="0.8" fill="none" stroke="#9ccfcf" stroke-width="0.5"/>
<circle cx="854.91" cy="700.98" r="0.8" fill="none" stroke="#9ccfcf" stroke-width="0.5"/>
<circle cx="853.50" cy="689.12" r="0.8" fill="none" stroke="#9ccfcf" stroke-width="0.5"/>
<circle cx="851.71" cy="692.74" r="0.8" fill="none" stroke="#9ccfcf" stroke-width="0.5"/>
<circle cx="860.22" cy="701.00" r="0.8" fill="none" stroke="#9ccfcf" stroke-width="0.5"/>
<circle cx="858.73" cy="703.32" r="0.8" fill="none" stroke="#9ccfcf" stroke-width="0.5"/>
<circle cx="860.02" cy="628.72" r="0.8" fill="none" stroke="#9ccfcf" stroke-width="0.5"/>
<circle cx="854.49" cy="652.93" r="0.8" fill="none" stroke="#9ccfcf" stroke-width="0.5"/>
<line x1="852.40" y1="654.00" x2="864.40" y2="654.00" stroke="#8cc6c6" stroke-width="0.8" stroke-linecap="butt" stroke-dasharray="2,1.5"/>
<line x1="847.90" y1="685.00" x2="868.90" y2="685.00" stroke="#8cc6c6" stroke-width="0.8" stroke-linecap="butt" stroke-dasharray="2,1.5"/>
<line x1="849.32" y1="670.80" x2="867.48" y2="670.80" stroke="#1a1a1a" stroke-width="1.6" stroke-linecap="butt" stroke-dasharray="3,1.5"/>
<line x1="826.40" y1="715.00" x2="826.40" y2="721.60" stroke="#1a1a1a" stroke-width="1.4" stroke-linecap="butt"/>
<line x1="858.40" y1="715.00" x2="858.40" y2="721.60" stroke="#1a1a1a" stroke-width="1.4" stroke-linecap="butt"/>
<line x1="829.50" y1="605.90" x2="859.70" y2="605.90" stroke="#1a1a1a" stroke-width="1.8" stroke-linecap="butt"/>
<text x="846.70" y="602.92" text-anchor="middle" fill="#1a1a1a" style="font-size:9.5px"><tspan font-style="italic">P</tspan> &lt; 0.0001</text>
<text x="756.60" y="735.25" text-anchor="start" fill="#1a1a1a" style="font-size:13.2px">hcGAS</text>
<text x="756.60" y="752.25" text-anchor="start" fill="#1a1a1a" style="font-size:13.2px">hcGAS<tspan dy="-5.02" style="font-size:8.98px">4mut</tspan><tspan dy="5.02"></tspan></text>
<text x="826.40" y="736.04" text-anchor="middle" fill="#1a1a1a" style="font-size:14px">+</text>
<text x="858.40" y="736.04" text-anchor="middle" fill="#1a1a1a" style="font-size:14px">-</text>
<text x="826.40" y="753.54" text-anchor="middle" fill="#1a1a1a" style="font-size:14px">-</text>
<text x="858.40" y="753.54" text-anchor="middle" fill="#1a1a1a" style="font-size:14px">+</text>
<text x="0" y="0" transform="translate(10.93,785.80) scale(0.8,1)" fill="#000" stroke="#000" stroke-width="0.35" style="font-size:18.4px;font-weight:bold">P</text>
<text x="28.60" y="811.32" text-anchor="start" fill="#1a1a1a" style="font-size:12px">Input</text>
<line x1="22.70" y1="816.00" x2="62.00" y2="816.00" stroke="#3a3a3a" stroke-width="1.5" stroke-linecap="butt"/>
<text x="68.20" y="811.32" text-anchor="start" fill="#1a1a1a" style="font-size:12px">IP:Flag</text>
<line x1="67.00" y1="816.00" x2="106.70" y2="816.00" stroke="#3a3a3a" stroke-width="1.5" stroke-linecap="butt"/>
<text x="27.50" y="830.82" text-anchor="middle" fill="#1a1a1a" style="font-size:12px">+</text>
<text x="43.30" y="830.82" text-anchor="middle" fill="#1a1a1a" style="font-size:12px">+</text>
<text x="57.60" y="830.82" text-anchor="middle" fill="#1a1a1a" style="font-size:12px">+</text>
<text x="72.60" y="830.82" text-anchor="middle" fill="#1a1a1a" style="font-size:12px">+</text>
<text x="88.00" y="830.82" text-anchor="middle" fill="#1a1a1a" style="font-size:12px">+</text>
<text x="102.30" y="830.82" text-anchor="middle" fill="#1a1a1a" style="font-size:12px">+</text>
<text x="116.60" y="831.00" text-anchor="start" fill="#1a1a1a" style="font-size:12.5px">hRAD50-HA</text>
<text x="27.50" y="844.02" text-anchor="middle" fill="#1a1a1a" style="font-size:12px">-</text>
<text x="43.30" y="844.02" text-anchor="middle" fill="#1a1a1a" style="font-size:12px">+</text>
<text x="57.60" y="844.02" text-anchor="middle" fill="#1a1a1a" style="font-size:12px">+</text>
<text x="72.60" y="844.02" text-anchor="middle" fill="#1a1a1a" style="font-size:12px">-</text>
<text x="88.00" y="844.02" text-anchor="middle" fill="#1a1a1a" style="font-size:12px">+</text>
<text x="102.30" y="844.02" text-anchor="middle" fill="#1a1a1a" style="font-size:12px">+</text>
<text x="116.60" y="844.20" text-anchor="start" fill="#1a1a1a" style="font-size:12.5px">hFANCI-Flag</text>
<text x="27.50" y="857.72" text-anchor="middle" fill="#1a1a1a" style="font-size:12px">+</text>
<text x="43.30" y="857.72" text-anchor="middle" fill="#1a1a1a" style="font-size:12px">+</text>
<text x="57.60" y="857.72" text-anchor="middle" fill="#1a1a1a" style="font-size:12px">+</text>
<text x="72.60" y="857.72" text-anchor="middle" fill="#1a1a1a" style="font-size:12px">+</text>
<text x="88.00" y="857.72" text-anchor="middle" fill="#1a1a1a" style="font-size:12px">+</text>
<text x="102.30" y="857.72" text-anchor="middle" fill="#1a1a1a" style="font-size:12px">+</text>
<text x="116.60" y="857.90" text-anchor="start" fill="#1a1a1a" style="font-size:12.5px">hcGAS-GFP</text>
<text x="27.50" y="871.52" text-anchor="middle" fill="#1a1a1a" style="font-size:12px">-</text>
<text x="43.30" y="871.52" text-anchor="middle" fill="#1a1a1a" style="font-size:12px">-</text>
<text x="57.60" y="871.52" text-anchor="middle" fill="#1a1a1a" style="font-size:12px">+</text>
<text x="72.60" y="871.52" text-anchor="middle" fill="#1a1a1a" style="font-size:12px">-</text>
<text x="88.00" y="871.52" text-anchor="middle" fill="#1a1a1a" style="font-size:12px">-</text>
<text x="102.30" y="871.52" text-anchor="middle" fill="#1a1a1a" style="font-size:12px">+</text>
<text x="116.60" y="871.70" text-anchor="start" fill="#1a1a1a" style="font-size:12.5px">CB-5083</text>
<clipPath id="c1221"><rect x="19.40" y="874.70" width="45.10" height="15.00"/></clipPath>
<g clip-path="url(#c1221)">
<rect x="19.40" y="874.70" width="45.10" height="15.00" fill="#b2b2b2" />
<rect x="22.75" y="882.80" width="9.30" height="3.00" rx="1.50" fill="rgb(30,30,30)" filter="url(#b1)"/>
<rect x="37.05" y="882.30" width="9.90" height="3.00" rx="1.50" fill="rgb(38,38,38)" filter="url(#b1)"/>
<rect x="51.90" y="881.20" width="8.80" height="3.00" rx="1.50" fill="rgb(45,45,45)" filter="url(#b1)"/>
</g>
<rect x="19.40" y="874.70" width="45.10" height="15.00" fill="none" stroke="#1a1a1a" stroke-width="1.1" />
<clipPath id="c1229"><rect x="66.00" y="874.70" width="44.50" height="15.00"/></clipPath>
<g clip-path="url(#c1229)">
<rect x="66.00" y="874.70" width="44.50" height="15.00" fill="url(#gP)"/>
<rect x="86.00" y="881.60" width="8.80" height="3.20" rx="1.60" fill="rgb(20,20,20)" filter="url(#b1)"/>
<rect x="97.75" y="879.00" width="9.50" height="5.20" rx="2.60" fill="rgb(0,0,0)" filter="url(#b1)"/>
</g>
<rect x="66.00" y="874.70" width="44.50" height="15.00" fill="none" stroke="#1a1a1a" stroke-width="1.1" />
<clipPath id="c1236"><rect x="19.40" y="892.60" width="45.10" height="14.70"/></clipPath>
<g clip-path="url(#c1236)">
<rect x="19.40" y="892.60" width="45.10" height="14.70" fill="#c6c6c6" />
<ellipse cx="42.00" cy="899.20" rx="4.00" ry="1.75" fill="rgb(165,165,165)" filter="url(#b2)"/>
<ellipse cx="55.20" cy="899.20" rx="4.00" ry="1.75" fill="rgb(178,178,178)" filter="url(#b2)"/>
</g>
<rect x="19.40" y="892.60" width="45.10" height="14.70" fill="none" stroke="#1a1a1a" stroke-width="1.1" />
<clipPath id="c1243"><rect x="66.00" y="892.60" width="44.50" height="14.70"/></clipPath>
<g clip-path="url(#c1243)">
<rect x="66.00" y="892.60" width="44.50" height="14.70" fill="#b6b6b6" />
<rect x="84.20" y="897.30" width="9.00" height="4.80" rx="2.40" fill="rgb(0,0,0)" filter="url(#b1)"/>
<rect x="96.90" y="897.30" width="9.00" height="4.80" rx="2.40" fill="rgb(0,0,0)" filter="url(#b1)"/>
</g>
<rect x="66.00" y="892.60" width="44.50" height="14.70" fill="none" stroke="#1a1a1a" stroke-width="1.1" />
<text x="116.60" y="887.50" text-anchor="start" fill="#1a1a1a" style="font-size:12.5px">hRAD50-HA</text>
<text x="116.60" y="905.20" text-anchor="start" fill="#1a1a1a" style="font-size:12.5px">hFANCI-Flag</text>
<rect x="76.60" y="910.00" width="12.90" height="19.30" fill="#ececec" />
<text x="83.05" y="922.60" text-anchor="middle" fill="#444" style="font-size:8.2px">1</text>
<rect x="90.00" y="910.00" width="23.30" height="19.30" fill="#d2d2d2" />
<text x="101.65" y="918.74" text-anchor="middle" fill="#444" style="font-size:8.2px">2.02</text>
<text x="101.65" y="926.85" text-anchor="middle" fill="#444" style="font-size:8.2px">±0.20</text>
<text x="116.20" y="923.76" text-anchor="start" fill="#222" style="font-size:11px">IP/Input</text>
<text x="0" y="0" transform="translate(11.25,973.20) scale(0.8,1)" fill="#000" stroke="#000" stroke-width="0.35" style="font-size:18.4px;font-weight:bold">Q</text>
<text x="46.20" y="991.68" text-anchor="middle" fill="#1a1a1a" style="font-size:13px">-</text>
<text x="110.40" y="991.68" text-anchor="middle" fill="#1a1a1a" style="font-size:13px">+</text>
<line x1="19.00" y1="996.20" x2="77.10" y2="996.20" stroke="#3a3a3a" stroke-width="1.5" stroke-linecap="butt"/>
<line x1="80.00" y1="996.20" x2="142.60" y2="996.20" stroke="#3a3a3a" stroke-width="1.5" stroke-linecap="butt"/>
<text x="150.50" y="991.32" text-anchor="start" fill="#1a1a1a" style="font-size:12px">NM-R FANCI</text>
<text x="27.70" y="1012.64" text-anchor="middle" fill="#1a1a1a" style="font-size:14px">0</text>
<text x="48.00" y="1012.64" text-anchor="middle" fill="#1a1a1a" style="font-size:14px">4</text>
<text x="68.10" y="1012.64" text-anchor="middle" fill="#1a1a1a" style="font-size:14px">6</text>
<text x="89.80" y="1012.64" text-anchor="middle" fill="#1a1a1a" style="font-size:14px">0</text>
<text x="109.60" y="1012.64" text-anchor="middle" fill="#1a1a1a" style="font-size:14px">4</text>
<text x="129.40" y="1012.64" text-anchor="middle" fill="#1a1a1a" style="font-size:14px">6</text>
<text x="150.50" y="1011.36" text-anchor="start" fill="#1a1a1a" style="font-size:12.1px">Time post IR (hours)</text>
<clipPath id="c1271"><rect x="15.80" y="1016.50" width="131.50" height="19.30"/></clipPath>
<g clip-path="url(#c1271)">
<rect x="15.80" y="1016.50" width="131.50" height="19.30" fill="#e6e6e6" />
<ellipse cx="28.40" cy="1025.20" rx="6.45" ry="3.00" fill="rgb(224,224,224)" filter="url(#b2)"/>
<ellipse cx="48.00" cy="1025.20" rx="6.45" ry="3.00" fill="rgb(224,224,224)" filter="url(#b2)"/>
<ellipse cx="67.80" cy="1025.20" rx="6.45" ry="3.00" fill="rgb(224,224,224)" filter="url(#b2)"/>
<ellipse cx="88.60" cy="1025.20" rx="6.45" ry="3.00" fill="rgb(224,224,224)" filter="url(#b2)"/>
<ellipse cx="109.90" cy="1025.20" rx="6.45" ry="3.00" fill="rgb(224,224,224)" filter="url(#b2)"/>
<ellipse cx="130.80" cy="1025.20" rx="6.45" ry="3.00" fill="rgb(224,224,224)" filter="url(#b2)"/>
<rect x="21.95" y="1024.84" width="12.90" height="3.12" rx="1.56" fill="rgb(140,140,140)" filter="url(#b1)"/>
<rect x="41.55" y="1024.60" width="12.90" height="3.60" rx="1.80" fill="rgb(63,63,63)" filter="url(#b1)"/>
<rect x="61.35" y="1024.46" width="12.90" height="3.87" rx="1.94" fill="rgb(20,20,20)" filter="url(#b1)"/>
<rect x="82.15" y="1024.80" width="12.90" height="3.20" rx="1.60" fill="rgb(127,127,127)" filter="url(#b1)"/>
<rect x="103.45" y="1024.60" width="12.90" height="3.60" rx="1.80" fill="rgb(63,63,63)" filter="url(#b1)"/>
<rect x="124.35" y="1024.42" width="12.90" height="3.97" rx="1.98" fill="rgb(5,5,5)" filter="url(#b1)"/>
</g>
<rect x="15.80" y="1016.50" width="131.50" height="19.30" fill="none" stroke="#1a1a1a" stroke-width="1.1" />
<clipPath id="c1288"><rect x="15.80" y="1038.40" width="131.50" height="19.90"/></clipPath>
<g clip-path="url(#c1288)">
<rect x="15.80" y="1038.40" width="131.50" height="19.90" fill="url(#gH3)"/>
<rect x="23.50" y="1048.30" width="15.00" height="3.40" rx="1.70" fill="rgb(12,12,12)" filter="url(#b1)"/>
<rect x="42.10" y="1048.30" width="15.00" height="3.40" rx="1.70" fill="rgb(12,12,12)" filter="url(#b1)"/>
<rect x="62.20" y="1048.30" width="15.00" height="3.40" rx="1.70" fill="rgb(12,12,12)" filter="url(#b1)"/>
<rect x="83.00" y="1048.30" width="15.00" height="3.40" rx="1.70" fill="rgb(12,12,12)" filter="url(#b1)"/>
<rect x="103.50" y="1048.30" width="15.00" height="3.40" rx="1.70" fill="rgb(12,12,12)" filter="url(#b1)"/>
<rect x="124.80" y="1048.30" width="15.00" height="3.40" rx="1.70" fill="rgb(12,12,12)" filter="url(#b1)"/>
</g>
<rect x="15.80" y="1038.40" width="131.50" height="19.90" fill="none" stroke="#1a1a1a" stroke-width="1.1" />
<text x="150.50" y="1030.99" text-anchor="start" fill="#1a1a1a" style="font-size:12.2px">RAD50</text>
<text x="150.50" y="1054.09" text-anchor="start" fill="#1a1a1a" style="font-size:12.2px">H3</text>
<rect x="17.00" y="1062.20" width="14.70" height="21.10" fill="#efefef" />
<text x="24.35" y="1075.34" text-anchor="middle" fill="#444" style="font-size:7.2px">1</text>
<rect x="32.20" y="1062.20" width="21.80" height="21.10" fill="#f4f4f4" />
<text x="43.10" y="1071.12" text-anchor="middle" fill="#444" style="font-size:7.2px">1.22</text>
<text x="43.10" y="1079.98" text-anchor="middle" fill="#444" style="font-size:7.2px">±0.11</text>
<rect x="54.50" y="1062.20" width="23.40" height="21.10" fill="#f4f4f4" />
<text x="66.20" y="1071.12" text-anchor="middle" fill="#444" style="font-size:7.2px">1.79</text>
<text x="66.20" y="1079.98" text-anchor="middle" fill="#444" style="font-size:7.2px">±0.15</text>
<rect x="78.40" y="1062.20" width="22.60" height="21.10" fill="#dedede" />
<text x="89.70" y="1071.12" text-anchor="middle" fill="#444" style="font-size:7.2px">1.04</text>
<text x="89.70" y="1079.98" text-anchor="middle" fill="#444" style="font-size:7.2px">±0.13</text>
<rect x="101.50" y="1062.20" width="22.50" height="21.10" fill="#dedede" />
<text x="112.75" y="1071.12" text-anchor="middle" fill="#444" style="font-size:7.2px">1.26</text>
<text x="112.75" y="1079.98" text-anchor="middle" fill="#444" style="font-size:7.2px">±0.10</text>
<rect x="124.50" y="1062.20" width="22.50" height="21.10" fill="#dedede" />
<text x="135.75" y="1071.12" text-anchor="middle" fill="#444" style="font-size:7.2px">2.36</text>
<text x="135.75" y="1079.98" text-anchor="middle" fill="#444" style="font-size:7.2px">±0.27</text>
<text x="151.00" y="1077.17" text-anchor="start" fill="#333" style="font-size:8.8px">RAD50/H3</text>
<text x="0" y="0" transform="translate(10.83,1120.40) scale(0.8,1)" fill="#000" stroke="#000" stroke-width="0.35" style="font-size:18.4px;font-weight:bold">R</text>
<text x="46.20" y="1131.68" text-anchor="middle" fill="#1a1a1a" style="font-size:13px">-</text>
<text x="115.40" y="1131.68" text-anchor="middle" fill="#1a1a1a" style="font-size:13px">+</text>
<line x1="19.00" y1="1134.40" x2="78.40" y2="1134.40" stroke="#3a3a3a" stroke-width="1.5" stroke-linecap="butt"/>
<line x1="85.80" y1="1134.40" x2="144.70" y2="1134.40" stroke="#3a3a3a" stroke-width="1.5" stroke-linecap="butt"/>
<text x="150.50" y="1131.32" text-anchor="start" fill="#1a1a1a" style="font-size:12px">NM-R cGAS</text>
<text x="26.40" y="1151.84" text-anchor="middle" fill="#1a1a1a" style="font-size:14px">0</text>
<text x="48.80" y="1151.84" text-anchor="middle" fill="#1a1a1a" style="font-size:14px">4</text>
<text x="70.80" y="1151.84" text-anchor="middle" fill="#1a1a1a" style="font-size:14px">6</text>
<text x="92.40" y="1151.84" text-anchor="middle" fill="#1a1a1a" style="font-size:14px">0</text>
<text x="113.50" y="1151.84" text-anchor="middle" fill="#1a1a1a" style="font-size:14px">4</text>
<text x="135.20" y="1151.84" text-anchor="middle" fill="#1a1a1a" style="font-size:14px">6</text>
<text x="150.50" y="1150.96" text-anchor="start" fill="#1a1a1a" style="font-size:12.1px">Time post IR (hours)</text>
<clipPath id="c1332"><rect x="14.50" y="1154.70" width="132.00" height="19.80"/></clipPath>
<g clip-path="url(#c1332)">
<rect x="14.50" y="1154.70" width="132.00" height="19.80" fill="#d6d6d6" />
<ellipse cx="27.50" cy="1165.50" rx="7.00" ry="3.50" fill="rgb(224,224,224)" filter="url(#b2)"/>
<ellipse cx="49.50" cy="1165.00" rx="7.00" ry="3.50" fill="rgb(224,224,224)" filter="url(#b2)"/>
<ellipse cx="71.60" cy="1164.00" rx="7.00" ry="3.50" fill="rgb(224,224,224)" filter="url(#b2)"/>
<ellipse cx="92.80" cy="1163.80" rx="7.00" ry="3.50" fill="rgb(224,224,224)" filter="url(#b2)"/>
<ellipse cx="115.20" cy="1162.90" rx="7.00" ry="3.50" fill="rgb(224,224,224)" filter="url(#b2)"/>
<ellipse cx="135.60" cy="1162.10" rx="7.00" ry="3.50" fill="rgb(224,224,224)" filter="url(#b2)"/>
<rect x="20.25" y="1166.10" width="14.50" height="2.80" rx="1.40" fill="rgb(76,76,76)" filter="url(#b1)"/>
<rect x="42.25" y="1165.70" width="14.50" height="2.60" rx="1.30" fill="rgb(102,102,102)" filter="url(#b1)"/>
<rect x="64.35" y="1164.20" width="14.50" height="3.60" rx="1.80" fill="rgb(20,20,20)" filter="url(#b1)"/>
<rect x="85.55" y="1164.40" width="14.50" height="2.80" rx="1.40" fill="rgb(76,76,76)" filter="url(#b1)"/>
<rect x="107.95" y="1163.20" width="14.50" height="3.40" rx="1.70" fill="rgb(12,12,12)" filter="url(#b1)"/>
<rect x="128.35" y="1161.80" width="14.50" height="4.60" rx="2.30" fill="rgb(0,0,0)" filter="url(#b1)"/>
</g>
<rect x="14.50" y="1154.70" width="132.00" height="19.80" fill="none" stroke="#1a1a1a" stroke-width="1.1" />
<clipPath id="c1349"><rect x="14.50" y="1176.60" width="132.00" height="20.40"/></clipPath>
<g clip-path="url(#c1349)">
<rect x="14.50" y="1176.60" width="132.00" height="20.40" fill="url(#gH3b)"/>
<rect x="18.25" y="1184.60" width="17.50" height="3.60" rx="1.80" fill="rgb(25,25,25)" filter="url(#b1)"/>
<rect x="40.25" y="1185.05" width="17.50" height="3.60" rx="1.80" fill="rgb(25,25,25)" filter="url(#b1)"/>
<rect x="62.25" y="1185.50" width="17.50" height="3.60" rx="1.80" fill="rgb(25,25,25)" filter="url(#b1)"/>
<rect x="84.25" y="1185.95" width="17.50" height="3.60" rx="1.80" fill="rgb(25,25,25)" filter="url(#b1)"/>
<rect x="106.25" y="1186.40" width="17.50" height="3.60" rx="1.80" fill="rgb(25,25,25)" filter="url(#b1)"/>
<rect x="127.25" y="1186.85" width="17.50" height="3.60" rx="1.80" fill="rgb(25,25,25)" filter="url(#b1)"/>
</g>
<rect x="14.50" y="1176.60" width="132.00" height="20.40" fill="none" stroke="#1a1a1a" stroke-width="1.1" />
<text x="150.50" y="1169.19" text-anchor="start" fill="#1a1a1a" style="font-size:12.2px">RAD50</text>
<text x="150.50" y="1191.19" text-anchor="start" fill="#1a1a1a" style="font-size:12.2px">H3</text>
<rect x="16.40" y="1199.60" width="15.30" height="21.10" fill="#efefef" />
<text x="24.05" y="1212.74" text-anchor="middle" fill="#444" style="font-size:7.2px">1</text>
<rect x="32.20" y="1199.60" width="22.50" height="21.10" fill="#f4f4f4" />
<text x="43.45" y="1208.52" text-anchor="middle" fill="#444" style="font-size:7.2px">1.25</text>
<text x="43.45" y="1217.38" text-anchor="middle" fill="#444" style="font-size:7.2px">±0.10</text>
<rect x="55.20" y="1199.60" width="22.70" height="21.10" fill="#f4f4f4" />
<text x="66.55" y="1208.52" text-anchor="middle" fill="#444" style="font-size:7.2px">1.78</text>
<text x="66.55" y="1217.38" text-anchor="middle" fill="#444" style="font-size:7.2px">±0.07</text>
<rect x="78.40" y="1199.60" width="22.60" height="21.10" fill="#dedede" />
<text x="89.70" y="1208.52" text-anchor="middle" fill="#444" style="font-size:7.2px">1.11</text>
<text x="89.70" y="1217.38" text-anchor="middle" fill="#444" style="font-size:7.2px">±0.15</text>
<rect x="101.50" y="1199.60" width="22.50" height="21.10" fill="#dedede" />
<text x="112.75" y="1208.52" text-anchor="middle" fill="#444" style="font-size:7.2px">1.59</text>
<text x="112.75" y="1217.38" text-anchor="middle" fill="#444" style="font-size:7.2px">±0.06</text>
<rect x="124.50" y="1199.60" width="22.00" height="21.10" fill="#dedede" />
<text x="135.50" y="1208.52" text-anchor="middle" fill="#444" style="font-size:7.2px">2.29</text>
<text x="135.50" y="1217.38" text-anchor="middle" fill="#444" style="font-size:7.2px">±0.26</text>
<text x="151.00" y="1214.17" text-anchor="start" fill="#333" style="font-size:8.8px">RAD50/H3</text>
<text x="0" y="0" transform="translate(222.57,785.80) scale(0.8,1)" fill="#000" stroke="#000" stroke-width="0.35" style="font-size:18.4px;font-weight:bold">S</text>
<text x="292.40" y="812.89" text-anchor="middle" fill="#1a1a1a" style="font-size:12.2px">shControl</text>
<text x="426.00" y="812.89" text-anchor="middle" fill="#1a1a1a" style="font-size:12.2px">shFANCI</text>
<line x1="223.10" y1="816.20" x2="353.40" y2="816.20" stroke="#3a3a3a" stroke-width="1.5" stroke-linecap="butt"/>
<line x1="360.60" y1="816.20" x2="490.10" y2="816.20" stroke="#3a3a3a" stroke-width="1.5" stroke-linecap="butt"/>
<text x="252.80" y="829.39" text-anchor="middle" fill="#1a1a1a" style="font-size:12.2px">-</text>
<text x="322.50" y="829.39" text-anchor="middle" fill="#1a1a1a" style="font-size:12.2px">+</text>
<text x="393.30" y="829.39" text-anchor="middle" fill="#1a1a1a" style="font-size:12.2px">-</text>
<text x="458.70" y="829.39" text-anchor="middle" fill="#1a1a1a" style="font-size:12.2px">+</text>
<line x1="223.10" y1="833.40" x2="284.70" y2="833.40" stroke="#1a1a1a" stroke-width="1.2" stroke-linecap="butt"/>
<line x1="292.00" y1="833.40" x2="353.40" y2="833.40" stroke="#1a1a1a" stroke-width="1.2" stroke-linecap="butt"/>
<line x1="360.20" y1="833.40" x2="421.10" y2="833.40" stroke="#1a1a1a" stroke-width="1.2" stroke-linecap="butt"/>
<line x1="428.40" y1="833.40" x2="490.10" y2="833.40" stroke="#1a1a1a" stroke-width="1.2" stroke-linecap="butt"/>
<text x="498.60" y="829.39" text-anchor="start" fill="#1a1a1a" style="font-size:12.2px">NM-R cGAS</text>
<text x="230.10" y="850.76" text-anchor="middle" fill="#1a1a1a" style="font-size:13.5px">0</text>
<text x="253.08" y="850.76" text-anchor="middle" fill="#1a1a1a" style="font-size:13.5px">4</text>
<text x="276.06" y="850.76" text-anchor="middle" fill="#1a1a1a" style="font-size:13.5px">6</text>
<text x="299.04" y="850.76" text-anchor="middle" fill="#1a1a1a" style="font-size:13.5px">0</text>
<text x="322.02" y="850.76" text-anchor="middle" fill="#1a1a1a" style="font-size:13.5px">4</text>
<text x="345.00" y="850.76" text-anchor="middle" fill="#1a1a1a" style="font-size:13.5px">6</text>
<text x="367.98" y="850.76" text-anchor="middle" fill="#1a1a1a" style="font-size:13.5px">0</text>
<text x="390.96" y="850.76" text-anchor="middle" fill="#1a1a1a" style="font-size:13.5px">4</text>
<text x="413.94" y="850.76" text-anchor="middle" fill="#1a1a1a" style="font-size:13.5px">6</text>
<text x="436.92" y="850.76" text-anchor="middle" fill="#1a1a1a" style="font-size:13.5px">0</text>
<text x="459.90" y="850.76" text-anchor="middle" fill="#1a1a1a" style="font-size:13.5px">4</text>
<text x="482.88" y="850.76" text-anchor="middle" fill="#1a1a1a" style="font-size:13.5px">6</text>
<text x="498.60" y="850.06" text-anchor="start" fill="#1a1a1a" style="font-size:12.1px">Time post IR (hours)</text>
<clipPath id="c1407"><rect x="218.30" y="855.40" width="276.70" height="20.20"/></clipPath>
<g clip-path="url(#c1407)">
<rect x="218.30" y="855.40" width="276.70" height="20.20" fill="url(#gS)"/>
<rect x="222.60" y="863.65" width="15.00" height="3.10" rx="1.55" fill="rgb(165,165,165)" filter="url(#b1)"/>
<rect x="245.58" y="863.10" width="15.00" height="3.00" rx="1.50" fill="rgb(178,178,178)" filter="url(#b1)"/>
<rect x="268.56" y="862.45" width="15.00" height="4.30" rx="2.15" fill="rgb(12,12,12)" filter="url(#b1)"/>
<rect x="291.54" y="863.70" width="15.00" height="3.00" rx="1.50" fill="rgb(178,178,178)" filter="url(#b1)"/>
<rect x="314.52" y="862.55" width="15.00" height="4.10" rx="2.05" fill="rgb(38,38,38)" filter="url(#b1)"/>
<rect x="337.50" y="862.40" width="15.00" height="4.40" rx="2.20" fill="rgb(0,0,0)" filter="url(#b1)"/>
<rect x="360.48" y="863.50" width="15.00" height="3.40" rx="1.70" fill="rgb(127,127,127)" filter="url(#b1)"/>
<rect x="383.46" y="862.80" width="15.00" height="3.60" rx="1.80" fill="rgb(102,102,102)" filter="url(#b1)"/>
<rect x="406.44" y="862.55" width="15.00" height="4.10" rx="2.05" fill="rgb(38,38,38)" filter="url(#b1)"/>
<rect x="429.42" y="863.70" width="15.00" height="3.00" rx="1.50" fill="rgb(178,178,178)" filter="url(#b1)"/>
<rect x="452.40" y="862.90" width="15.00" height="3.40" rx="1.70" fill="rgb(127,127,127)" filter="url(#b1)"/>
<rect x="475.38" y="862.45" width="15.00" height="4.30" rx="2.15" fill="rgb(12,12,12)" filter="url(#b1)"/>
</g>
<rect x="218.30" y="855.40" width="276.70" height="20.20" fill="none" stroke="#1a1a1a" stroke-width="1.1" />
<clipPath id="c1424"><rect x="218.30" y="878.30" width="276.70" height="20.40"/></clipPath>
<g clip-path="url(#c1424)">
<rect x="218.30" y="878.30" width="276.70" height="20.40" fill="#e6e6e6" />
<rect x="222.60" y="889.60" width="17.00" height="2.80" rx="1.40" fill="rgb(56,56,56)" filter="url(#b1)"/>
<rect x="245.58" y="889.15" width="17.00" height="2.80" rx="1.40" fill="rgb(56,56,56)" filter="url(#b1)"/>
<rect x="268.56" y="888.70" width="17.00" height="2.80" rx="1.40" fill="rgb(56,56,56)" filter="url(#b1)"/>
<rect x="291.54" y="888.25" width="17.00" height="2.80" rx="1.40" fill="rgb(56,56,56)" filter="url(#b1)"/>
<rect x="314.52" y="887.80" width="17.00" height="2.80" rx="1.40" fill="rgb(56,56,56)" filter="url(#b1)"/>
<rect x="337.50" y="887.35" width="17.00" height="2.80" rx="1.40" fill="rgb(56,56,56)" filter="url(#b1)"/>
<rect x="360.48" y="886.90" width="17.00" height="2.80" rx="1.40" fill="rgb(56,56,56)" filter="url(#b1)"/>
<rect x="383.46" y="886.45" width="17.00" height="2.80" rx="1.40" fill="rgb(56,56,56)" filter="url(#b1)"/>
<rect x="406.44" y="886.00" width="17.00" height="2.80" rx="1.40" fill="rgb(56,56,56)" filter="url(#b1)"/>
<rect x="429.42" y="885.55" width="17.00" height="2.80" rx="1.40" fill="rgb(56,56,56)" filter="url(#b1)"/>
<rect x="452.40" y="885.10" width="17.00" height="2.80" rx="1.40" fill="rgb(56,56,56)" filter="url(#b1)"/>
<rect x="475.38" y="884.65" width="17.00" height="2.80" rx="1.40" fill="rgb(56,56,56)" filter="url(#b1)"/>
</g>
<rect x="218.30" y="878.30" width="276.70" height="20.40" fill="none" stroke="#1a1a1a" stroke-width="1.1" />
<text x="498.60" y="869.99" text-anchor="start" fill="#1a1a1a" style="font-size:12.2px">RAD50</text>
<text x="498.60" y="894.69" text-anchor="start" fill="#1a1a1a" style="font-size:12.2px">H3</text>
<rect x="218.30" y="900.90" width="15.30" height="23.10" fill="#eeeeee" />
<text x="225.95" y="915.04" text-anchor="middle" fill="#444" style="font-size:7.2px">1</text>
<rect x="234.20" y="900.90" width="21.80" height="23.10" fill="#f4f4f4" />
<text x="245.10" y="910.42" text-anchor="middle" fill="#444" style="font-size:7.2px">1.25</text>
<text x="245.10" y="920.12" text-anchor="middle" fill="#444" style="font-size:7.2px">±0.06</text>
<rect x="256.60" y="900.90" width="23.70" height="23.10" fill="#f4f4f4" />
<text x="268.45" y="910.42" text-anchor="middle" fill="#444" style="font-size:7.2px">1.65</text>
<text x="268.45" y="920.12" text-anchor="middle" fill="#444" style="font-size:7.2px">±0.12</text>
<rect x="283.20" y="900.90" width="21.80" height="23.10" fill="#dedede" />
<text x="294.10" y="910.42" text-anchor="middle" fill="#444" style="font-size:7.2px">1.04</text>
<text x="294.10" y="920.12" text-anchor="middle" fill="#444" style="font-size:7.2px">±0.07</text>
<rect x="305.60" y="900.90" width="22.90" height="23.10" fill="#dedede" />
<text x="317.05" y="910.42" text-anchor="middle" fill="#444" style="font-size:7.2px">1.44</text>
<text x="317.05" y="920.12" text-anchor="middle" fill="#444" style="font-size:7.2px">±0.07</text>
<rect x="329.00" y="900.90" width="22.80" height="23.10" fill="#dedede" />
<text x="340.40" y="910.42" text-anchor="middle" fill="#444" style="font-size:7.2px">2.08</text>
<text x="340.40" y="920.12" text-anchor="middle" fill="#444" style="font-size:7.2px">±0.17</text>
<rect x="355.10" y="900.90" width="22.50" height="23.10" fill="#f4f4f4" />
<text x="366.35" y="910.42" text-anchor="middle" fill="#444" style="font-size:7.2px">0.87</text>
<text x="366.35" y="920.12" text-anchor="middle" fill="#444" style="font-size:7.2px">±0.04</text>
<rect x="378.20" y="900.90" width="22.80" height="23.10" fill="#f4f4f4" />
<text x="389.60" y="910.42" text-anchor="middle" fill="#444" style="font-size:7.2px">1.13</text>
<text x="389.60" y="920.12" text-anchor="middle" fill="#444" style="font-size:7.2px">±0.05</text>
<rect x="401.50" y="900.90" width="22.50" height="23.10" fill="#f4f4f4" />
<text x="412.75" y="910.42" text-anchor="middle" fill="#444" style="font-size:7.2px">1.38</text>
<text x="412.75" y="920.12" text-anchor="middle" fill="#444" style="font-size:7.2px">±0.03</text>
<rect x="426.00" y="900.90" width="22.60" height="23.10" fill="#dedede" />
<text x="437.30" y="910.42" text-anchor="middle" fill="#444" style="font-size:7.2px">0.95</text>
<text x="437.30" y="920.12" text-anchor="middle" fill="#444" style="font-size:7.2px">±0.03</text>
<rect x="449.20" y="900.90" width="21.40" height="23.10" fill="#dedede" />
<text x="459.90" y="910.42" text-anchor="middle" fill="#444" style="font-size:7.2px">1.20</text>
<text x="459.90" y="920.12" text-anchor="middle" fill="#444" style="font-size:7.2px">±0.08</text>
<rect x="471.20" y="900.90" width="23.00" height="23.10" fill="#dedede" />
<text x="482.70" y="910.42" text-anchor="middle" fill="#444" style="font-size:7.2px">1.49</text>
<text x="482.70" y="920.12" text-anchor="middle" fill="#444" style="font-size:7.2px">±0.07</text>
<text x="497.40" y="915.97" text-anchor="start" fill="#333" style="font-size:8.8px">RAD50/H3</text>
<text x="0" y="0" transform="translate(256.21,970.70) scale(0.8,1)" fill="#000" stroke="#000" stroke-width="0.35" style="font-size:18.4px;font-weight:bold">T</text>
<rect x="293.90" y="968.30" width="248.90" height="18.00" fill="#fff" stroke="#1a1a1a" stroke-width="1.1" />
<text x="418.30" y="981.62" text-anchor="middle" fill="#1a1a1a" style="font-size:12px">NM-R cGAS</text>
<text x="321.00" y="999.32" text-anchor="middle" fill="#1a1a1a" style="font-size:12px">-</text>
<text x="384.40" y="999.32" text-anchor="middle" fill="#1a1a1a" style="font-size:12px">+</text>
<text x="448.40" y="999.32" text-anchor="middle" fill="#1a1a1a" style="font-size:12px">-</text>
<text x="511.10" y="999.32" text-anchor="middle" fill="#1a1a1a" style="font-size:12px">+</text>
<rect x="293.20" y="1002.20" width="249.60" height="182.30" fill="#000" />
<path d="M300.30,1030.50 C300.98,1027.03 303.98,1023.02 308.60,1020.80 C313.22,1018.58 321.98,1017.43 328.00,1017.20 C334.02,1016.97 341.23,1017.88 344.70,1019.40 C348.17,1020.92 349.27,1023.07 348.80,1026.30 C348.33,1029.53 346.28,1035.57 341.90,1038.80 C337.52,1042.03 328.73,1045.23 322.50,1045.70 C316.27,1046.17 308.20,1044.13 304.50,1041.60 C300.80,1039.07 299.62,1033.97 300.30,1030.50 Z" fill="#1a1af8" filter="url(#b15)"/>
<circle cx="324.57" cy="1026.26" r="0.82" fill="#a8e8f0" opacity="0.9" filter="url(#bs)"/>
<circle cx="315.66" cy="1030.50" r="0.99" fill="#a8e8f0" opacity="0.9" filter="url(#bs)"/>
<circle cx="310.17" cy="1027.31" r="0.84" fill="#a8e8f0" opacity="0.9" filter="url(#bs)"/>
<circle cx="318.34" cy="1024.67" r="0.99" fill="#a8e8f0" opacity="0.9" filter="url(#bs)"/>
<circle cx="318.68" cy="1033.18" r="0.80" fill="#a8e8f0" opacity="0.9" filter="url(#bs)"/>
<circle cx="329.65" cy="1029.62" r="0.61" fill="#a8e8f0" opacity="0.9" filter="url(#bs)"/>
<path d="M383.50,1012.50 C388.12,1012.50 395.23,1015.93 398.70,1019.40 C402.17,1022.87 404.30,1028.68 404.30,1033.30 C404.30,1037.92 402.63,1043.63 398.70,1047.10 C394.77,1050.57 385.78,1053.87 380.70,1054.10 C375.62,1054.33 370.73,1051.97 368.20,1048.50 C365.67,1045.03 365.03,1038.15 365.50,1033.30 C365.97,1028.45 368.00,1022.87 371.00,1019.40 C374.00,1015.93 378.88,1012.50 383.50,1012.50 Z" fill="#1a1af8" filter="url(#b15)"/>
<circle cx="377.43" cy="1033.41" r="0.58" fill="#a8e8f0" opacity="0.9" filter="url(#bs)"/>
<circle cx="393.57" cy="1025.30" r="0.78" fill="#a8e8f0" opacity="0.9" filter="url(#bs)"/>
<circle cx="396.51" cy="1030.27" r="0.98" fill="#a8e8f0" opacity="0.9" filter="url(#bs)"/>
<circle cx="391.07" cy="1034.78" r="0.81" fill="#a8e8f0" opacity="0.9" filter="url(#bs)"/>
<circle cx="387.00" cy="1029.16" r="1.00" fill="#a8e8f0" opacity="0.9" filter="url(#bs)"/>
<circle cx="381.91" cy="1047.83" r="0.93" fill="#a8e8f0" opacity="0.9" filter="url(#bs)"/>
<circle cx="383.98" cy="1042.76" r="0.59" fill="#a8e8f0" opacity="0.9" filter="url(#bs)"/>
<circle cx="387.84" cy="1029.36" r="0.89" fill="#a8e8f0" opacity="0.9" filter="url(#bs)"/>
<circle cx="376.03" cy="1041.14" r="0.72" fill="#a8e8f0" opacity="0.9" filter="url(#bs)"/>
<circle cx="394.02" cy="1032.45" r="0.95" fill="#a8e8f0" opacity="0.9" filter="url(#bs)"/>
<circle cx="393.71" cy="1042.90" r="0.80" fill="#a8e8f0" opacity="0.9" filter="url(#bs)"/>
<circle cx="383.60" cy="1018.85" r="0.72" fill="#a8e8f0" opacity="0.9" filter="url(#bs)"/>
<circle cx="382.22" cy="1024.38" r="0.98" fill="#a8e8f0" opacity="0.9" filter="url(#bs)"/>
<circle cx="385.99" cy="1023.72" r="0.68" fill="#a8e8f0" opacity="0.9" filter="url(#bs)"/>
<path d="M466.70,1009.70 C469.93,1011.32 473.60,1013.62 472.20,1019.40 C470.80,1025.18 463.38,1038.62 458.30,1044.40 C453.22,1050.18 446.78,1053.18 441.70,1054.10 C436.62,1055.02 430.67,1052.92 427.80,1049.90 C424.93,1046.88 423.10,1041.08 424.50,1036.00 C425.90,1030.92 431.48,1023.78 436.20,1019.40 C440.92,1015.02 447.72,1011.32 452.80,1009.70 C457.88,1008.08 463.47,1008.08 466.70,1009.70 Z" fill="#1a1af8" filter="url(#b15)"/>
<circle cx="455.87" cy="1030.94" r="0.97" fill="#a8e8f0" opacity="0.9" filter="url(#bs)"/>
<circle cx="444.92" cy="1044.86" r="0.58" fill="#a8e8f0" opacity="0.9" filter="url(#bs)"/>
<circle cx="437.24" cy="1026.54" r="0.82" fill="#a8e8f0" opacity="0.9" filter="url(#bs)"/>
<circle cx="440.37" cy="1040.35" r="0.71" fill="#a8e8f0" opacity="0.9" filter="url(#bs)"/>
<circle cx="450.72" cy="1036.93" r="0.94" fill="#a8e8f0" opacity="0.9" filter="url(#bs)"/>
<circle cx="449.62" cy="1020.02" r="0.76" fill="#a8e8f0" opacity="0.9" filter="url(#bs)"/>
<circle cx="449.15" cy="1021.22" r="0.55" fill="#a8e8f0" opacity="0.9" filter="url(#bs)"/>
<circle cx="437.28" cy="1037.77" r="0.91" fill="#a8e8f0" opacity="0.9" filter="url(#bs)"/>
<circle cx="453.50" cy="1029.11" r="0.51" fill="#a8e8f0" opacity="0.9" filter="url(#bs)"/>
<circle cx="449.14" cy="1030.07" r="0.59" fill="#a8e8f0" opacity="0.9" filter="url(#bs)"/>
<circle cx="435.36" cy="1034.64" r="0.65" fill="#a8e8f0" opacity="0.9" filter="url(#bs)"/>
<circle cx="450.00" cy="1029.20" r="0.77" fill="#a8e8f0" opacity="0.9" filter="url(#bs)"/>
<circle cx="458.85" cy="1023.12" r="0.84" fill="#a8e8f0" opacity="0.9" filter="url(#bs)"/>
<circle cx="454.00" cy="1017.91" r="0.83" fill="#a8e8f0" opacity="0.9" filter="url(#bs)"/>
<path d="M491.60,1008.30 C494.60,1006.68 500.42,1006.92 505.50,1009.70 C510.58,1012.48 517.02,1019.22 522.10,1025.00 C527.18,1030.78 534.15,1038.87 536.00,1044.40 C537.85,1049.93 535.52,1055.67 533.20,1058.20 C530.88,1060.73 528.10,1062.83 522.10,1059.60 C516.10,1056.37 502.97,1045.50 497.20,1038.80 C491.43,1032.10 488.43,1024.48 487.50,1019.40 C486.57,1014.32 488.60,1009.92 491.60,1008.30 Z" fill="#1a1af8" filter="url(#b15)"/>
<circle cx="515.88" cy="1048.07" r="0.73" fill="#a8e8f0" opacity="0.9" filter="url(#bs)"/>
<circle cx="519.17" cy="1049.80" r="0.76" fill="#a8e8f0" opacity="0.9" filter="url(#bs)"/>
<circle cx="519.96" cy="1042.09" r="0.93" fill="#a8e8f0" opacity="0.9" filter="url(#bs)"/>
<circle cx="495.62" cy="1021.45" r="1.00" fill="#a8e8f0" opacity="0.9" filter="url(#bs)"/>
<circle cx="506.91" cy="1031.48" r="0.61" fill="#a8e8f0" opacity="0.9" filter="url(#bs)"/>
<circle cx="516.93" cy="1026.95" r="0.83" fill="#a8e8f0" opacity="0.9" filter="url(#bs)"/>
<circle cx="504.05" cy="1018.54" r="0.84" fill="#a8e8f0" opacity="0.9" filter="url(#bs)"/>
<circle cx="508.74" cy="1031.43" r="0.62" fill="#a8e8f0" opacity="0.9" filter="url(#bs)"/>
<circle cx="521.47" cy="1043.23" r="0.72" fill="#a8e8f0" opacity="0.9" filter="url(#bs)"/>
<circle cx="502.30" cy="1020.51" r="0.52" fill="#a8e8f0" opacity="0.9" filter="url(#bs)"/>
<path d="M312.80,1069.30 C316.48,1069.07 323.62,1069.80 328.00,1073.50 C332.38,1077.20 337.48,1085.27 339.10,1091.50 C340.72,1097.73 339.55,1106.05 337.70,1110.90 C335.85,1115.75 331.92,1120.60 328.00,1120.60 C324.08,1120.60 318.35,1116.22 314.20,1110.90 C310.05,1105.58 304.48,1094.70 303.10,1088.70 C301.72,1082.70 304.28,1078.13 305.90,1074.90 C307.52,1071.67 309.12,1069.53 312.80,1069.30 Z" fill="#1a1af8" filter="url(#b15)"/>
<circle cx="316.12" cy="1097.15" r="0.63" fill="#a8e8f0" opacity="0.9" filter="url(#bs)"/>
<circle cx="329.08" cy="1093.06" r="0.67" fill="#a8e8f0" opacity="0.9" filter="url(#bs)"/>
<circle cx="331.38" cy="1105.08" r="0.93" fill="#a8e8f0" opacity="0.9" filter="url(#bs)"/>
<circle cx="325.40" cy="1082.66" r="0.69" fill="#a8e8f0" opacity="0.9" filter="url(#bs)"/>
<circle cx="312.46" cy="1087.11" r="0.81" fill="#a8e8f0" opacity="0.9" filter="url(#bs)"/>
<path d="M364.60,1094.30 C365.07,1090.15 367.87,1084.82 372.40,1081.80 C376.93,1078.78 385.80,1076.20 391.80,1076.20 C397.80,1076.20 404.93,1079.02 408.40,1081.80 C411.87,1084.58 413.05,1088.75 412.60,1092.90 C412.15,1097.05 410.08,1103.70 405.70,1106.70 C401.32,1109.70 392.32,1110.90 386.30,1110.90 C380.28,1110.90 373.22,1109.47 369.60,1106.70 C365.98,1103.93 364.13,1098.45 364.60,1094.30 Z" fill="#1a1af8" filter="url(#b15)"/>
<circle cx="388.50" cy="1095.07" r="0.90" fill="#a8e8f0" opacity="0.9" filter="url(#bs)"/>
<circle cx="382.49" cy="1089.18" r="0.85" fill="#a8e8f0" opacity="0.9" filter="url(#bs)"/>
<circle cx="388.21" cy="1090.14" r="0.70" fill="#a8e8f0" opacity="0.9" filter="url(#bs)"/>
<circle cx="382.81" cy="1085.35" r="0.82" fill="#a8e8f0" opacity="0.9" filter="url(#bs)"/>
<circle cx="402.30" cy="1098.37" r="0.82" fill="#a8e8f0" opacity="0.9" filter="url(#bs)"/>
<circle cx="383.08" cy="1091.99" r="0.57" fill="#a8e8f0" opacity="0.9" filter="url(#bs)"/>
<path d="M430.60,1073.50 C433.00,1071.32 437.77,1070.35 441.70,1071.50 C445.63,1072.65 450.73,1076.15 454.20,1080.40 C457.67,1084.65 461.35,1091.92 462.50,1097.00 C463.65,1102.08 462.95,1108.12 461.10,1110.90 C459.25,1113.68 455.55,1115.08 451.40,1113.70 C447.25,1112.32 440.22,1107.45 436.20,1102.60 C432.18,1097.75 428.23,1089.45 427.30,1084.60 C426.37,1079.75 428.20,1075.68 430.60,1073.50 Z" fill="#1a1af8" filter="url(#b15)"/>
<circle cx="441.45" cy="1092.61" r="0.58" fill="#a8e8f0" opacity="0.9" filter="url(#bs)"/>
<circle cx="436.78" cy="1080.91" r="0.74" fill="#a8e8f0" opacity="0.9" filter="url(#bs)"/>
<circle cx="445.58" cy="1100.73" r="0.67" fill="#a8e8f0" opacity="0.9" filter="url(#bs)"/>
<circle cx="447.39" cy="1082.05" r="0.61" fill="#a8e8f0" opacity="0.9" filter="url(#bs)"/>
<circle cx="446.69" cy="1095.92" r="0.97" fill="#a8e8f0" opacity="0.9" filter="url(#bs)"/>
<circle cx="440.20" cy="1087.59" r="0.73" fill="#a8e8f0" opacity="0.9" filter="url(#bs)"/>
<circle cx="439.79" cy="1090.14" r="0.84" fill="#a8e8f0" opacity="0.9" filter="url(#bs)"/>
<circle cx="439.52" cy="1082.43" r="0.87" fill="#a8e8f0" opacity="0.9" filter="url(#bs)"/>
<circle cx="447.01" cy="1094.77" r="0.51" fill="#a8e8f0" opacity="0.9" filter="url(#bs)"/>
<path d="M511.00,1067.90 C514.47,1068.58 519.78,1073.20 522.10,1077.60 C524.42,1082.00 525.37,1088.28 524.90,1094.30 C524.43,1100.32 522.08,1109.55 519.30,1113.70 C516.52,1117.85 511.67,1119.67 508.20,1119.20 C504.73,1118.73 500.80,1115.52 498.50,1110.90 C496.20,1106.28 493.93,1097.73 494.40,1091.50 C494.87,1085.27 498.53,1077.43 501.30,1073.50 C504.07,1069.57 507.53,1067.22 511.00,1067.90 Z" fill="#1a1af8" filter="url(#b15)"/>
<circle cx="508.53" cy="1085.95" r="0.95" fill="#a8e8f0" opacity="0.9" filter="url(#bs)"/>
<circle cx="509.39" cy="1078.30" r="0.87" fill="#a8e8f0" opacity="0.9" filter="url(#bs)"/>
<circle cx="500.38" cy="1098.29" r="0.92" fill="#a8e8f0" opacity="0.9" filter="url(#bs)"/>
<circle cx="512.18" cy="1083.31" r="0.92" fill="#a8e8f0" opacity="0.9" filter="url(#bs)"/>
<circle cx="517.90" cy="1087.21" r="0.64" fill="#a8e8f0" opacity="0.9" filter="url(#bs)"/>
<circle cx="514.48" cy="1083.50" r="0.81" fill="#a8e8f0" opacity="0.9" filter="url(#bs)"/>
<circle cx="508.15" cy="1098.68" r="0.74" fill="#a8e8f0" opacity="0.9" filter="url(#bs)"/>
<path d="M322.50,1130.30 C327.35,1130.30 336.12,1131.63 340.50,1135.80 C344.88,1139.97 348.33,1148.82 348.80,1155.30 C349.27,1161.78 347.22,1170.55 343.30,1174.70 C339.38,1178.85 330.85,1180.67 325.30,1180.20 C319.75,1179.73 313.47,1176.52 310.00,1171.90 C306.53,1167.28 304.27,1158.52 304.50,1152.50 C304.73,1146.48 308.40,1139.50 311.40,1135.80 C314.40,1132.10 317.65,1130.30 322.50,1130.30 Z" fill="#1a1af8" filter="url(#b15)"/>
<circle cx="325.11" cy="1141.99" r="1.00" fill="#a8e8f0" opacity="0.9" filter="url(#bs)"/>
<circle cx="315.39" cy="1161.31" r="0.80" fill="#a8e8f0" opacity="0.9" filter="url(#bs)"/>
<circle cx="333.25" cy="1151.84" r="0.69" fill="#a8e8f0" opacity="0.9" filter="url(#bs)"/>
<circle cx="323.22" cy="1139.70" r="0.66" fill="#a8e8f0" opacity="0.9" filter="url(#bs)"/>
<circle cx="319.26" cy="1165.15" r="0.72" fill="#a8e8f0" opacity="0.9" filter="url(#bs)"/>
<path d="M361.30,1152.50 C362.22,1148.57 366.38,1142.87 371.00,1140.00 C375.62,1137.13 383.22,1135.53 389.00,1135.30 C394.78,1135.07 401.77,1135.97 405.70,1138.60 C409.63,1141.23 413.07,1146.93 412.60,1151.10 C412.13,1155.27 408.22,1160.60 402.90,1163.60 C397.58,1166.60 386.93,1169.10 380.70,1169.10 C374.47,1169.10 368.73,1166.37 365.50,1163.60 C362.27,1160.83 360.38,1156.43 361.30,1152.50 Z" fill="#1a1af8" filter="url(#b15)"/>
<circle cx="380.20" cy="1154.99" r="0.50" fill="#a8e8f0" opacity="0.9" filter="url(#bs)"/>
<circle cx="393.79" cy="1148.80" r="0.91" fill="#a8e8f0" opacity="0.9" filter="url(#bs)"/>
<circle cx="396.34" cy="1148.40" r="0.58" fill="#a8e8f0" opacity="0.9" filter="url(#bs)"/>
<circle cx="392.19" cy="1144.52" r="0.57" fill="#a8e8f0" opacity="0.9" filter="url(#bs)"/>
<circle cx="401.05" cy="1150.53" r="0.97" fill="#a8e8f0" opacity="0.9" filter="url(#bs)"/>
<circle cx="377.46" cy="1143.49" r="0.62" fill="#a8e8f0" opacity="0.9" filter="url(#bs)"/>
<circle cx="395.45" cy="1152.35" r="0.65" fill="#a8e8f0" opacity="0.9" filter="url(#bs)"/>
<path d="M430.60,1135.80 C434.77,1132.80 442.22,1132.40 447.30,1133.10 C452.38,1133.80 457.42,1135.85 461.10,1140.00 C464.78,1144.15 468.93,1152.45 469.40,1158.00 C469.87,1163.55 467.13,1170.07 463.90,1173.30 C460.67,1176.53 455.55,1178.10 450.00,1177.40 C444.45,1176.70 435.22,1173.48 430.60,1169.10 C425.98,1164.72 422.30,1156.65 422.30,1151.10 C422.30,1145.55 426.43,1138.80 430.60,1135.80 Z" fill="#1a1af8" filter="url(#b15)"/>
<circle cx="447.64" cy="1151.09" r="0.87" fill="#a8e8f0" opacity="0.9" filter="url(#bs)"/>
<circle cx="452.43" cy="1158.25" r="0.99" fill="#a8e8f0" opacity="0.9" filter="url(#bs)"/>
<circle cx="453.03" cy="1150.09" r="0.69" fill="#a8e8f0" opacity="0.9" filter="url(#bs)"/>
<circle cx="450.68" cy="1161.23" r="0.61" fill="#a8e8f0" opacity="0.9" filter="url(#bs)"/>
<circle cx="456.62" cy="1153.41" r="0.89" fill="#a8e8f0" opacity="0.9" filter="url(#bs)"/>
<circle cx="432.28" cy="1149.29" r="0.51" fill="#a8e8f0" opacity="0.9" filter="url(#bs)"/>
<circle cx="443.33" cy="1147.26" r="0.67" fill="#a8e8f0" opacity="0.9" filter="url(#bs)"/>
<circle cx="450.73" cy="1150.31" r="0.75" fill="#a8e8f0" opacity="0.9" filter="url(#bs)"/>
<path d="M522.10,1133.10 C525.57,1134.95 530.87,1139.12 531.80,1144.20 C532.73,1149.28 531.85,1158.07 527.70,1163.60 C523.55,1169.13 512.68,1175.55 506.90,1177.40 C501.12,1179.25 495.92,1177.47 493.00,1174.70 C490.08,1171.93 488.48,1165.88 489.40,1160.80 C490.32,1155.72 494.90,1148.82 498.50,1144.20 C502.10,1139.58 507.07,1134.95 511.00,1133.10 C514.93,1131.25 518.63,1131.25 522.10,1133.10 Z" fill="#1a1af8" filter="url(#b15)"/>
<circle cx="503.72" cy="1154.94" r="0.78" fill="#a8e8f0" opacity="0.9" filter="url(#bs)"/>
<circle cx="509.25" cy="1157.64" r="0.74" fill="#a8e8f0" opacity="0.9" filter="url(#bs)"/>
<circle cx="510.99" cy="1145.37" r="0.56" fill="#a8e8f0" opacity="0.9" filter="url(#bs)"/>
<circle cx="502.97" cy="1163.79" r="0.51" fill="#a8e8f0" opacity="0.9" filter="url(#bs)"/>
<circle cx="505.93" cy="1152.39" r="0.78" fill="#a8e8f0" opacity="0.9" filter="url(#bs)"/>
<circle cx="508.42" cy="1166.20" r="0.97" fill="#a8e8f0" opacity="0.9" filter="url(#bs)"/>
<circle cx="512.54" cy="1145.38" r="0.94" fill="#a8e8f0" opacity="0.9" filter="url(#bs)"/>
<circle cx="521.30" cy="1153.73" r="0.90" fill="#a8e8f0" opacity="0.9" filter="url(#bs)"/>
<line x1="355.55" y1="1002.20" x2="355.55" y2="1184.50" stroke="#fff" stroke-width="1.5" stroke-linecap="butt"/>
<line x1="417.60" y1="1002.20" x2="417.60" y2="1184.50" stroke="#fff" stroke-width="1.5" stroke-linecap="butt"/>
<line x1="480.70" y1="1002.20" x2="480.70" y2="1184.50" stroke="#fff" stroke-width="1.5" stroke-linecap="butt"/>
<line x1="293.20" y1="1062.65" x2="542.80" y2="1062.65" stroke="#fff" stroke-width="2.1" stroke-linecap="butt"/>
<line x1="293.20" y1="1123.80" x2="542.80" y2="1123.80" stroke="#fff" stroke-width="2.1" stroke-linecap="butt"/>
<line x1="527.40" y1="1180.20" x2="538.90" y2="1180.20" stroke="#fff" stroke-width="1.2" stroke-linecap="butt"/>
<rect x="271.70" y="1003.00" width="18.30" height="58.10" fill="#fff" stroke="#1a1a1a" stroke-width="1.1" />
<text x="0" y="0" transform="translate(285.12,1031.90) rotate(-90)" text-anchor="middle" fill="#1a1a1a" style="font-size:12px">shControl</text>
<rect x="271.70" y="1064.50" width="18.30" height="57.70" fill="#fff" stroke="#1a1a1a" stroke-width="1.1" />
<text x="0" y="0" transform="translate(285.12,1093.20) rotate(-90)" text-anchor="middle" fill="#1a1a1a" style="font-size:12px">shFANCI</text>
<rect x="271.70" y="1125.70" width="18.30" height="58.30" fill="#fff" stroke="#1a1a1a" stroke-width="1.1" />
<text x="0" y="0" transform="translate(285.12,1154.70) rotate(-90)" text-anchor="middle" fill="#1a1a1a" style="font-size:12px">shRAD50</text>
<rect x="293.90" y="1187.00" width="122.10" height="17.20" fill="#fff" stroke="#1a1a1a" stroke-width="1.1" />
<rect x="419.60" y="1187.00" width="123.20" height="17.20" fill="#fff" stroke="#1a1a1a" stroke-width="1.1" />
<text x="355.00" y="1199.92" text-anchor="middle" fill="#1a1a1a" style="font-size:12px">8 hours post IR</text>
<text x="481.20" y="1199.92" text-anchor="middle" fill="#1a1a1a" style="font-size:12px">12 hours post IR</text>
<rect x="293.90" y="1207.70" width="248.90" height="17.70" fill="#fff" stroke="#1a1a1a" stroke-width="1.1" />
<text x="418.3" y="1220.82" text-anchor="middle" style="font-size:12px"><tspan fill="#3fbf8a">RAD51</tspan><tspan fill="#1a1a1a"> / </tspan><tspan fill="#2f4fc4">DAPI</tspan></text>
<text x="0" y="0" transform="translate(600.83,785.70) scale(0.8,1)" fill="#000" stroke="#000" stroke-width="0.35" style="font-size:18.4px;font-weight:bold">U</text>
<rect x="730.7" y="816.5" width="16.3" height="53.3" fill="none" stroke="#9a9a9a" stroke-width="1" stroke-dasharray="3,2"/>
<rect x="755.8" y="817" width="15.9" height="43.5" fill="none" stroke="#9a9a9a" stroke-width="1" stroke-dasharray="3,2"/>
<line x1="730.70" y1="869.80" x2="596.00" y2="949.50" stroke="#9a9a9a" stroke-width="1" stroke-linecap="butt" stroke-dasharray="3,2"/>
<line x1="747.00" y1="869.80" x2="740.80" y2="949.50" stroke="#9a9a9a" stroke-width="1" stroke-linecap="butt" stroke-dasharray="3,2"/>
<line x1="755.80" y1="860.50" x2="742.50" y2="949.50" stroke="#9a9a9a" stroke-width="1" stroke-linecap="butt" stroke-dasharray="3,2"/>
<line x1="771.70" y1="860.50" x2="889.50" y2="949.50" stroke="#9a9a9a" stroke-width="1" stroke-linecap="butt" stroke-dasharray="3,2"/>
<polyline points="688.00,878.48 713.30,874.56 738.00,865.41 762.90,845.16 787.70,847.77 812.80,873.91" fill="none" stroke="#d4d4d4" stroke-width="1.4"/>
<line x1="688.00" y1="874.78" x2="688.00" y2="882.18" stroke="#d4d4d4" stroke-width="1" stroke-linecap="butt"/>
<line x1="685.50" y1="874.78" x2="690.50" y2="874.78" stroke="#d4d4d4" stroke-width="1" stroke-linecap="butt"/>
<line x1="685.50" y1="882.18" x2="690.50" y2="882.18" stroke="#d4d4d4" stroke-width="1" stroke-linecap="butt"/>
<polygon points="688.00,881.58 691.10,876.00 684.90,876.00" fill="#d4d4d4"/>
<line x1="713.30" y1="870.63" x2="713.30" y2="878.49" stroke="#d4d4d4" stroke-width="1" stroke-linecap="butt"/>
<line x1="710.80" y1="870.63" x2="715.80" y2="870.63" stroke="#d4d4d4" stroke-width="1" stroke-linecap="butt"/>
<line x1="710.80" y1="878.49" x2="715.80" y2="878.49" stroke="#d4d4d4" stroke-width="1" stroke-linecap="butt"/>
<polygon points="713.30,877.66 716.40,872.08 710.20,872.08" fill="#d4d4d4"/>
<line x1="738.00" y1="860.93" x2="738.00" y2="869.90" stroke="#d4d4d4" stroke-width="1" stroke-linecap="butt"/>
<line x1="735.50" y1="860.93" x2="740.50" y2="860.93" stroke="#d4d4d4" stroke-width="1" stroke-linecap="butt"/>
<line x1="735.50" y1="869.90" x2="740.50" y2="869.90" stroke="#d4d4d4" stroke-width="1" stroke-linecap="butt"/>
<polygon points="738.00,868.51 741.10,862.93 734.90,862.93" fill="#d4d4d4"/>
<line x1="762.90" y1="839.46" x2="762.90" y2="850.86" stroke="#d4d4d4" stroke-width="1" stroke-linecap="butt"/>
<line x1="760.40" y1="839.46" x2="765.40" y2="839.46" stroke="#d4d4d4" stroke-width="1" stroke-linecap="butt"/>
<line x1="760.40" y1="850.86" x2="765.40" y2="850.86" stroke="#d4d4d4" stroke-width="1" stroke-linecap="butt"/>
<polygon points="762.90,848.26 766.00,842.68 759.80,842.68" fill="#d4d4d4"/>
<line x1="787.70" y1="842.23" x2="787.70" y2="853.31" stroke="#d4d4d4" stroke-width="1" stroke-linecap="butt"/>
<line x1="785.20" y1="842.23" x2="790.20" y2="842.23" stroke="#d4d4d4" stroke-width="1" stroke-linecap="butt"/>
<line x1="785.20" y1="853.31" x2="790.20" y2="853.31" stroke="#d4d4d4" stroke-width="1" stroke-linecap="butt"/>
<polygon points="787.70,850.87 790.80,845.29 784.60,845.29" fill="#d4d4d4"/>
<line x1="812.80" y1="869.93" x2="812.80" y2="877.88" stroke="#d4d4d4" stroke-width="1" stroke-linecap="butt"/>
<line x1="810.30" y1="869.93" x2="815.30" y2="869.93" stroke="#d4d4d4" stroke-width="1" stroke-linecap="butt"/>
<line x1="810.30" y1="877.88" x2="815.30" y2="877.88" stroke="#d4d4d4" stroke-width="1" stroke-linecap="butt"/>
<polygon points="812.80,877.01 815.90,871.43 809.70,871.43" fill="#d4d4d4"/>
<polyline points="688.00,879.79 713.30,876.52 738.00,862.80 762.90,847.77 787.70,849.73 812.80,878.48" fill="none" stroke="#b8b8b8" stroke-width="1.4"/>
<line x1="688.00" y1="876.17" x2="688.00" y2="883.41" stroke="#b8b8b8" stroke-width="1" stroke-linecap="butt"/>
<line x1="685.50" y1="876.17" x2="690.50" y2="876.17" stroke="#b8b8b8" stroke-width="1" stroke-linecap="butt"/>
<line x1="685.50" y1="883.41" x2="690.50" y2="883.41" stroke="#b8b8b8" stroke-width="1" stroke-linecap="butt"/>
<polygon points="688.00,876.69 691.10,882.27 684.90,882.27" fill="#b8b8b8"/>
<line x1="713.30" y1="872.70" x2="713.30" y2="880.34" stroke="#b8b8b8" stroke-width="1" stroke-linecap="butt"/>
<line x1="710.80" y1="872.70" x2="715.80" y2="872.70" stroke="#b8b8b8" stroke-width="1" stroke-linecap="butt"/>
<line x1="710.80" y1="880.34" x2="715.80" y2="880.34" stroke="#b8b8b8" stroke-width="1" stroke-linecap="butt"/>
<polygon points="713.30,873.42 716.40,879.00 710.20,879.00" fill="#b8b8b8"/>
<line x1="738.00" y1="858.16" x2="738.00" y2="867.44" stroke="#b8b8b8" stroke-width="1" stroke-linecap="butt"/>
<line x1="735.50" y1="858.16" x2="740.50" y2="858.16" stroke="#b8b8b8" stroke-width="1" stroke-linecap="butt"/>
<line x1="735.50" y1="867.44" x2="740.50" y2="867.44" stroke="#b8b8b8" stroke-width="1" stroke-linecap="butt"/>
<polygon points="738.00,859.70 741.10,865.28 734.90,865.28" fill="#b8b8b8"/>
<line x1="762.90" y1="842.23" x2="762.90" y2="853.31" stroke="#b8b8b8" stroke-width="1" stroke-linecap="butt"/>
<line x1="760.40" y1="842.23" x2="765.40" y2="842.23" stroke="#b8b8b8" stroke-width="1" stroke-linecap="butt"/>
<line x1="760.40" y1="853.31" x2="765.40" y2="853.31" stroke="#b8b8b8" stroke-width="1" stroke-linecap="butt"/>
<polygon points="762.90,844.67 766.00,850.25 759.80,850.25" fill="#b8b8b8"/>
<line x1="787.70" y1="844.31" x2="787.70" y2="855.16" stroke="#b8b8b8" stroke-width="1" stroke-linecap="butt"/>
<line x1="785.20" y1="844.31" x2="790.20" y2="844.31" stroke="#b8b8b8" stroke-width="1" stroke-linecap="butt"/>
<line x1="785.20" y1="855.16" x2="790.20" y2="855.16" stroke="#b8b8b8" stroke-width="1" stroke-linecap="butt"/>
<polygon points="787.70,846.63 790.80,852.21 784.60,852.21" fill="#b8b8b8"/>
<line x1="812.80" y1="874.78" x2="812.80" y2="882.18" stroke="#b8b8b8" stroke-width="1" stroke-linecap="butt"/>
<line x1="810.30" y1="874.78" x2="815.30" y2="874.78" stroke="#b8b8b8" stroke-width="1" stroke-linecap="butt"/>
<line x1="810.30" y1="882.18" x2="815.30" y2="882.18" stroke="#b8b8b8" stroke-width="1" stroke-linecap="butt"/>
<polygon points="812.80,875.38 815.90,880.96 809.70,880.96" fill="#b8b8b8"/>
<polyline points="688.00,876.52 713.30,867.37 738.00,856.27 762.90,847.12 787.70,851.04 812.80,876.52" fill="none" stroke="#f3cbc4" stroke-width="1.4"/>
<line x1="688.00" y1="872.70" x2="688.00" y2="880.34" stroke="#f3cbc4" stroke-width="1" stroke-linecap="butt"/>
<line x1="685.50" y1="872.70" x2="690.50" y2="872.70" stroke="#f3cbc4" stroke-width="1" stroke-linecap="butt"/>
<line x1="685.50" y1="880.34" x2="690.50" y2="880.34" stroke="#f3cbc4" stroke-width="1" stroke-linecap="butt"/>
<polygon points="688.00,873.42 691.10,876.52 688.00,879.62 684.90,876.52" fill="#f3cbc4"/>
<line x1="713.30" y1="863.01" x2="713.30" y2="871.74" stroke="#f3cbc4" stroke-width="1" stroke-linecap="butt"/>
<line x1="710.80" y1="863.01" x2="715.80" y2="863.01" stroke="#f3cbc4" stroke-width="1" stroke-linecap="butt"/>
<line x1="710.80" y1="871.74" x2="715.80" y2="871.74" stroke="#f3cbc4" stroke-width="1" stroke-linecap="butt"/>
<polygon points="713.30,864.27 716.40,867.37 713.30,870.47 710.20,867.37" fill="#f3cbc4"/>
<line x1="738.00" y1="851.24" x2="738.00" y2="861.30" stroke="#f3cbc4" stroke-width="1" stroke-linecap="butt"/>
<line x1="735.50" y1="851.24" x2="740.50" y2="851.24" stroke="#f3cbc4" stroke-width="1" stroke-linecap="butt"/>
<line x1="735.50" y1="861.30" x2="740.50" y2="861.30" stroke="#f3cbc4" stroke-width="1" stroke-linecap="butt"/>
<polygon points="738.00,853.17 741.10,856.27 738.00,859.37 734.90,856.27" fill="#f3cbc4"/>
<line x1="762.90" y1="841.54" x2="762.90" y2="852.70" stroke="#f3cbc4" stroke-width="1" stroke-linecap="butt"/>
<line x1="760.40" y1="841.54" x2="765.40" y2="841.54" stroke="#f3cbc4" stroke-width="1" stroke-linecap="butt"/>
<line x1="760.40" y1="852.70" x2="765.40" y2="852.70" stroke="#f3cbc4" stroke-width="1" stroke-linecap="butt"/>
<polygon points="762.90,844.02 766.00,847.12 762.90,850.22 759.80,847.12" fill="#f3cbc4"/>
<line x1="787.70" y1="845.70" x2="787.70" y2="856.38" stroke="#f3cbc4" stroke-width="1" stroke-linecap="butt"/>
<line x1="785.20" y1="845.70" x2="790.20" y2="845.70" stroke="#f3cbc4" stroke-width="1" stroke-linecap="butt"/>
<line x1="785.20" y1="856.38" x2="790.20" y2="856.38" stroke="#f3cbc4" stroke-width="1" stroke-linecap="butt"/>
<polygon points="787.70,847.94 790.80,851.04 787.70,854.14 784.60,851.04" fill="#f3cbc4"/>
<line x1="812.80" y1="872.70" x2="812.80" y2="880.34" stroke="#f3cbc4" stroke-width="1" stroke-linecap="butt"/>
<line x1="810.30" y1="872.70" x2="815.30" y2="872.70" stroke="#f3cbc4" stroke-width="1" stroke-linecap="butt"/>
<line x1="810.30" y1="880.34" x2="815.30" y2="880.34" stroke="#f3cbc4" stroke-width="1" stroke-linecap="butt"/>
<polygon points="812.80,873.42 815.90,876.52 812.80,879.62 809.70,876.52" fill="#f3cbc4"/>
<polyline points="688.00,879.13 713.30,869.33 738.00,858.88 762.90,849.73 787.70,854.31 812.80,881.75" fill="none" stroke="#e2958a" stroke-width="1.4"/>
<line x1="688.00" y1="875.47" x2="688.00" y2="882.79" stroke="#e2958a" stroke-width="1" stroke-linecap="butt"/>
<line x1="685.50" y1="875.47" x2="690.50" y2="875.47" stroke="#e2958a" stroke-width="1" stroke-linecap="butt"/>
<line x1="685.50" y1="882.79" x2="690.50" y2="882.79" stroke="#e2958a" stroke-width="1" stroke-linecap="butt"/>
<polygon points="688.00,876.03 691.10,879.13 688.00,882.23 684.90,879.13" fill="#e2958a"/>
<line x1="713.30" y1="865.09" x2="713.30" y2="873.58" stroke="#e2958a" stroke-width="1" stroke-linecap="butt"/>
<line x1="710.80" y1="865.09" x2="715.80" y2="865.09" stroke="#e2958a" stroke-width="1" stroke-linecap="butt"/>
<line x1="710.80" y1="873.58" x2="715.80" y2="873.58" stroke="#e2958a" stroke-width="1" stroke-linecap="butt"/>
<polygon points="713.30,866.23 716.40,869.33 713.30,872.43 710.20,869.33" fill="#e2958a"/>
<line x1="738.00" y1="854.01" x2="738.00" y2="863.75" stroke="#e2958a" stroke-width="1" stroke-linecap="butt"/>
<line x1="735.50" y1="854.01" x2="740.50" y2="854.01" stroke="#e2958a" stroke-width="1" stroke-linecap="butt"/>
<line x1="735.50" y1="863.75" x2="740.50" y2="863.75" stroke="#e2958a" stroke-width="1" stroke-linecap="butt"/>
<polygon points="738.00,855.78 741.10,858.88 738.00,861.98 734.90,858.88" fill="#e2958a"/>
<line x1="762.90" y1="844.31" x2="762.90" y2="855.16" stroke="#e2958a" stroke-width="1" stroke-linecap="butt"/>
<line x1="760.40" y1="844.31" x2="765.40" y2="844.31" stroke="#e2958a" stroke-width="1" stroke-linecap="butt"/>
<line x1="760.40" y1="855.16" x2="765.40" y2="855.16" stroke="#e2958a" stroke-width="1" stroke-linecap="butt"/>
<polygon points="762.90,846.63 766.00,849.73 762.90,852.83 759.80,849.73" fill="#e2958a"/>
<line x1="787.70" y1="849.16" x2="787.70" y2="859.45" stroke="#e2958a" stroke-width="1" stroke-linecap="butt"/>
<line x1="785.20" y1="849.16" x2="790.20" y2="849.16" stroke="#e2958a" stroke-width="1" stroke-linecap="butt"/>
<line x1="785.20" y1="859.45" x2="790.20" y2="859.45" stroke="#e2958a" stroke-width="1" stroke-linecap="butt"/>
<polygon points="787.70,851.21 790.80,854.31 787.70,857.41 784.60,854.31" fill="#e2958a"/>
<line x1="812.80" y1="878.24" x2="812.80" y2="885.25" stroke="#e2958a" stroke-width="1" stroke-linecap="butt"/>
<line x1="810.30" y1="878.24" x2="815.30" y2="878.24" stroke="#e2958a" stroke-width="1" stroke-linecap="butt"/>
<line x1="810.30" y1="885.25" x2="815.30" y2="885.25" stroke="#e2958a" stroke-width="1" stroke-linecap="butt"/>
<polygon points="812.80,878.65 815.90,881.75 812.80,884.85 809.70,881.75" fill="#e2958a"/>
<polyline points="688.00,883.71 713.30,873.25 738.00,847.77 762.90,828.83 787.70,853.00 812.80,883.05" fill="none" stroke="#8e8e8e" stroke-width="1.4"/>
<line x1="688.00" y1="880.32" x2="688.00" y2="887.09" stroke="#8e8e8e" stroke-width="1" stroke-linecap="butt"/>
<line x1="685.50" y1="880.32" x2="690.50" y2="880.32" stroke="#8e8e8e" stroke-width="1" stroke-linecap="butt"/>
<line x1="685.50" y1="887.09" x2="690.50" y2="887.09" stroke="#8e8e8e" stroke-width="1" stroke-linecap="butt"/>
<circle cx="688.00" cy="883.71" r="3.10" fill="#8e8e8e"/>
<line x1="713.30" y1="869.24" x2="713.30" y2="877.26" stroke="#8e8e8e" stroke-width="1" stroke-linecap="butt"/>
<line x1="710.80" y1="869.24" x2="715.80" y2="869.24" stroke="#8e8e8e" stroke-width="1" stroke-linecap="butt"/>
<line x1="710.80" y1="877.26" x2="715.80" y2="877.26" stroke="#8e8e8e" stroke-width="1" stroke-linecap="butt"/>
<circle cx="713.30" cy="873.25" r="3.10" fill="#8e8e8e"/>
<line x1="738.00" y1="842.23" x2="738.00" y2="853.31" stroke="#8e8e8e" stroke-width="1" stroke-linecap="butt"/>
<line x1="735.50" y1="842.23" x2="740.50" y2="842.23" stroke="#8e8e8e" stroke-width="1" stroke-linecap="butt"/>
<line x1="735.50" y1="853.31" x2="740.50" y2="853.31" stroke="#8e8e8e" stroke-width="1" stroke-linecap="butt"/>
<circle cx="738.00" cy="847.77" r="3.10" fill="#8e8e8e"/>
<line x1="762.90" y1="822.15" x2="762.90" y2="835.50" stroke="#8e8e8e" stroke-width="1" stroke-linecap="butt"/>
<line x1="760.40" y1="822.15" x2="765.40" y2="822.15" stroke="#8e8e8e" stroke-width="1" stroke-linecap="butt"/>
<line x1="760.40" y1="835.50" x2="765.40" y2="835.50" stroke="#8e8e8e" stroke-width="1" stroke-linecap="butt"/>
<circle cx="762.90" cy="828.83" r="3.10" fill="#8e8e8e"/>
<line x1="787.70" y1="847.77" x2="787.70" y2="858.23" stroke="#8e8e8e" stroke-width="1" stroke-linecap="butt"/>
<line x1="785.20" y1="847.77" x2="790.20" y2="847.77" stroke="#8e8e8e" stroke-width="1" stroke-linecap="butt"/>
<line x1="785.20" y1="858.23" x2="790.20" y2="858.23" stroke="#8e8e8e" stroke-width="1" stroke-linecap="butt"/>
<circle cx="787.70" cy="853.00" r="3.10" fill="#8e8e8e"/>
<line x1="812.80" y1="879.63" x2="812.80" y2="886.48" stroke="#8e8e8e" stroke-width="1" stroke-linecap="butt"/>
<line x1="810.30" y1="879.63" x2="815.30" y2="879.63" stroke="#8e8e8e" stroke-width="1" stroke-linecap="butt"/>
<line x1="810.30" y1="886.48" x2="815.30" y2="886.48" stroke="#8e8e8e" stroke-width="1" stroke-linecap="butt"/>
<circle cx="812.80" cy="883.05" r="3.10" fill="#8e8e8e"/>
<polyline points="688.00,885.01 713.30,862.80 738.00,826.21 762.90,850.39 787.70,858.88 812.80,886.32" fill="none" stroke="#c8462e" stroke-width="1.4"/>
<line x1="688.00" y1="881.71" x2="688.00" y2="888.32" stroke="#c8462e" stroke-width="1" stroke-linecap="butt"/>
<line x1="685.50" y1="881.71" x2="690.50" y2="881.71" stroke="#c8462e" stroke-width="1" stroke-linecap="butt"/>
<line x1="685.50" y1="888.32" x2="690.50" y2="888.32" stroke="#c8462e" stroke-width="1" stroke-linecap="butt"/>
<rect x="684.90" y="881.91" width="6.20" height="6.20" fill="#c8462e"/>
<line x1="713.30" y1="858.16" x2="713.30" y2="867.44" stroke="#c8462e" stroke-width="1" stroke-linecap="butt"/>
<line x1="710.80" y1="858.16" x2="715.80" y2="858.16" stroke="#c8462e" stroke-width="1" stroke-linecap="butt"/>
<line x1="710.80" y1="867.44" x2="715.80" y2="867.44" stroke="#c8462e" stroke-width="1" stroke-linecap="butt"/>
<rect x="710.20" y="859.70" width="6.20" height="6.20" fill="#c8462e"/>
<line x1="738.00" y1="819.38" x2="738.00" y2="833.05" stroke="#c8462e" stroke-width="1" stroke-linecap="butt"/>
<line x1="735.50" y1="819.38" x2="740.50" y2="819.38" stroke="#c8462e" stroke-width="1" stroke-linecap="butt"/>
<line x1="735.50" y1="833.05" x2="740.50" y2="833.05" stroke="#c8462e" stroke-width="1" stroke-linecap="butt"/>
<rect x="734.90" y="823.11" width="6.20" height="6.20" fill="#c8462e"/>
<line x1="762.90" y1="845.00" x2="762.90" y2="855.77" stroke="#c8462e" stroke-width="1" stroke-linecap="butt"/>
<line x1="760.40" y1="845.00" x2="765.40" y2="845.00" stroke="#c8462e" stroke-width="1" stroke-linecap="butt"/>
<line x1="760.40" y1="855.77" x2="765.40" y2="855.77" stroke="#c8462e" stroke-width="1" stroke-linecap="butt"/>
<rect x="759.80" y="847.29" width="6.20" height="6.20" fill="#c8462e"/>
<line x1="787.70" y1="854.01" x2="787.70" y2="863.75" stroke="#c8462e" stroke-width="1" stroke-linecap="butt"/>
<line x1="785.20" y1="854.01" x2="790.20" y2="854.01" stroke="#c8462e" stroke-width="1" stroke-linecap="butt"/>
<line x1="785.20" y1="863.75" x2="790.20" y2="863.75" stroke="#c8462e" stroke-width="1" stroke-linecap="butt"/>
<rect x="784.60" y="855.78" width="6.20" height="6.20" fill="#c8462e"/>
<line x1="812.80" y1="883.09" x2="812.80" y2="889.55" stroke="#c8462e" stroke-width="1" stroke-linecap="butt"/>
<line x1="810.30" y1="883.09" x2="815.30" y2="883.09" stroke="#c8462e" stroke-width="1" stroke-linecap="butt"/>
<line x1="810.30" y1="889.55" x2="815.30" y2="889.55" stroke="#c8462e" stroke-width="1" stroke-linecap="butt"/>
<rect x="809.70" y="883.22" width="6.20" height="6.20" fill="#c8462e"/>
<line x1="672.20" y1="803.30" x2="672.20" y2="902.70" stroke="#1a1a1a" stroke-width="1.5" stroke-linecap="butt"/>
<line x1="672.20" y1="902.00" x2="828.60" y2="902.00" stroke="#1a1a1a" stroke-width="1.5" stroke-linecap="butt"/>
<line x1="666.20" y1="902.00" x2="672.20" y2="902.00" stroke="#1a1a1a" stroke-width="1.5" stroke-linecap="butt"/>
<text x="662.30" y="907.04" text-anchor="end" fill="#1a1a1a" style="font-size:14px">0</text>
<line x1="668.70" y1="885.67" x2="672.20" y2="885.67" stroke="#1a1a1a" stroke-width="1.3" stroke-linecap="butt"/>
<line x1="666.20" y1="869.33" x2="672.20" y2="869.33" stroke="#1a1a1a" stroke-width="1.5" stroke-linecap="butt"/>
<text x="662.30" y="874.37" text-anchor="end" fill="#1a1a1a" style="font-size:14px">5</text>
<line x1="668.70" y1="853.00" x2="672.20" y2="853.00" stroke="#1a1a1a" stroke-width="1.3" stroke-linecap="butt"/>
<line x1="666.20" y1="836.67" x2="672.20" y2="836.67" stroke="#1a1a1a" stroke-width="1.5" stroke-linecap="butt"/>
<text x="662.30" y="841.71" text-anchor="end" fill="#1a1a1a" style="font-size:14px">10</text>
<line x1="668.70" y1="820.33" x2="672.20" y2="820.33" stroke="#1a1a1a" stroke-width="1.3" stroke-linecap="butt"/>
<line x1="666.20" y1="804.00" x2="672.20" y2="804.00" stroke="#1a1a1a" stroke-width="1.5" stroke-linecap="butt"/>
<text x="662.30" y="809.04" text-anchor="end" fill="#1a1a1a" style="font-size:14px">15</text>
<line x1="688.00" y1="902.00" x2="688.00" y2="907.50" stroke="#1a1a1a" stroke-width="1.4" stroke-linecap="butt"/>
<text x="688.00" y="921.74" text-anchor="middle" fill="#1a1a1a" style="font-size:14px">0</text>
<line x1="713.30" y1="902.00" x2="713.30" y2="907.50" stroke="#1a1a1a" stroke-width="1.4" stroke-linecap="butt"/>
<text x="713.30" y="921.74" text-anchor="middle" fill="#1a1a1a" style="font-size:14px">4</text>
<line x1="738.00" y1="902.00" x2="738.00" y2="907.50" stroke="#1a1a1a" stroke-width="1.4" stroke-linecap="butt"/>
<text x="738.00" y="921.74" text-anchor="middle" fill="#1a1a1a" style="font-size:14px">8</text>
<line x1="762.90" y1="902.00" x2="762.90" y2="907.50" stroke="#1a1a1a" stroke-width="1.4" stroke-linecap="butt"/>
<text x="762.90" y="921.74" text-anchor="middle" fill="#1a1a1a" style="font-size:14px">12</text>
<line x1="787.70" y1="902.00" x2="787.70" y2="907.50" stroke="#1a1a1a" stroke-width="1.4" stroke-linecap="butt"/>
<text x="787.70" y="921.74" text-anchor="middle" fill="#1a1a1a" style="font-size:14px">16</text>
<line x1="812.80" y1="902.00" x2="812.80" y2="907.50" stroke="#1a1a1a" stroke-width="1.4" stroke-linecap="butt"/>
<text x="812.80" y="921.74" text-anchor="middle" fill="#1a1a1a" style="font-size:14px">24</text>
<text x="753.20" y="936.96" text-anchor="middle" fill="#1a1a1a" style="font-size:13.5px">Time post IR (hours)</text>
<text x="0" y="0" transform="translate(627.98,857.00) rotate(-90)" text-anchor="middle" fill="#1a1a1a" style="font-size:13px">Average RAD51</text>
<text x="0" y="0" transform="translate(640.98,857.00) rotate(-90)" text-anchor="middle" fill="#1a1a1a" style="font-size:13px">foci per nucleus</text>
<rect x="595.5" y="949.5" width="294" height="169" fill="#f3f3f3" stroke="#a8a8a8" stroke-width="1" stroke-dasharray="3,2"/>
<line x1="740.80" y1="949.50" x2="740.80" y2="1118.50" stroke="#a8a8a8" stroke-width="1" stroke-linecap="butt" stroke-dasharray="3,2"/>
<line x1="617.50" y1="973.20" x2="617.50" y2="1099.30" stroke="#2a2a2a" stroke-width="1.6" stroke-linecap="butt"/>
<line x1="613.90" y1="1099.30" x2="617.50" y2="1099.30" stroke="#2a2a2a" stroke-width="1.5" stroke-linecap="butt"/>
<text x="613.60" y="1103.91" text-anchor="end" fill="#222" style="font-size:12.8px">0</text>
<line x1="615.30" y1="1083.62" x2="617.50" y2="1083.62" stroke="#2a2a2a" stroke-width="1.2" stroke-linecap="butt"/>
<line x1="613.90" y1="1067.95" x2="617.50" y2="1067.95" stroke="#2a2a2a" stroke-width="1.5" stroke-linecap="butt"/>
<text x="613.60" y="1072.56" text-anchor="end" fill="#222" style="font-size:12.8px">10</text>
<line x1="615.30" y1="1052.27" x2="617.50" y2="1052.27" stroke="#2a2a2a" stroke-width="1.2" stroke-linecap="butt"/>
<line x1="613.90" y1="1036.60" x2="617.50" y2="1036.60" stroke="#2a2a2a" stroke-width="1.5" stroke-linecap="butt"/>
<text x="613.60" y="1041.21" text-anchor="end" fill="#222" style="font-size:12.8px">20</text>
<line x1="615.30" y1="1020.92" x2="617.50" y2="1020.92" stroke="#2a2a2a" stroke-width="1.2" stroke-linecap="butt"/>
<line x1="613.90" y1="1005.25" x2="617.50" y2="1005.25" stroke="#2a2a2a" stroke-width="1.5" stroke-linecap="butt"/>
<text x="613.60" y="1009.86" text-anchor="end" fill="#222" style="font-size:12.8px">30</text>
<line x1="615.30" y1="989.57" x2="617.50" y2="989.57" stroke="#2a2a2a" stroke-width="1.2" stroke-linecap="butt"/>
<line x1="613.90" y1="973.90" x2="617.50" y2="973.90" stroke="#2a2a2a" stroke-width="1.5" stroke-linecap="butt"/>
<text x="613.60" y="978.51" text-anchor="end" fill="#222" style="font-size:12.8px">40</text>
<circle cx="625.34" cy="1099.11" r="1.25" fill="#7a7a7a" opacity="0.8"/>
<circle cx="631.49" cy="1091.79" r="1.25" fill="#7a7a7a" opacity="0.8"/>
<circle cx="625.42" cy="1097.05" r="1.25" fill="#7a7a7a" opacity="0.8"/>
<circle cx="632.33" cy="1095.33" r="1.25" fill="#7a7a7a" opacity="0.8"/>
<circle cx="632.19" cy="1096.90" r="1.25" fill="#7a7a7a" opacity="0.8"/>
<circle cx="626.18" cy="1082.97" r="1.25" fill="#7a7a7a" opacity="0.8"/>
<circle cx="629.08" cy="1087.76" r="1.25" fill="#7a7a7a" opacity="0.8"/>
<circle cx="634.67" cy="1091.29" r="1.25" fill="#7a7a7a" opacity="0.8"/>
<circle cx="624.39" cy="1097.83" r="1.25" fill="#7a7a7a" opacity="0.8"/>
<circle cx="628.93" cy="1057.01" r="1.25" fill="#7a7a7a" opacity="0.8"/>
<circle cx="627.79" cy="1095.97" r="1.25" fill="#7a7a7a" opacity="0.8"/>
<circle cx="634.30" cy="1092.47" r="1.25" fill="#7a7a7a" opacity="0.8"/>
<circle cx="626.58" cy="1095.75" r="1.25" fill="#7a7a7a" opacity="0.8"/>
<circle cx="630.06" cy="1086.07" r="1.25" fill="#7a7a7a" opacity="0.8"/>
<circle cx="631.80" cy="1053.05" r="1.25" fill="#7a7a7a" opacity="0.8"/>
<circle cx="626.53" cy="1092.69" r="1.25" fill="#7a7a7a" opacity="0.8"/>
<circle cx="633.68" cy="1072.06" r="1.25" fill="#7a7a7a" opacity="0.8"/>
<circle cx="632.17" cy="1098.84" r="1.25" fill="#7a7a7a" opacity="0.8"/>
<circle cx="630.81" cy="1068.79" r="1.25" fill="#7a7a7a" opacity="0.8"/>
<circle cx="632.76" cy="1095.59" r="1.25" fill="#7a7a7a" opacity="0.8"/>
<circle cx="626.82" cy="1079.61" r="1.25" fill="#7a7a7a" opacity="0.8"/>
<circle cx="626.93" cy="1083.89" r="1.25" fill="#7a7a7a" opacity="0.8"/>
<circle cx="627.81" cy="1098.66" r="1.25" fill="#7a7a7a" opacity="0.8"/>
<circle cx="628.52" cy="1093.18" r="1.25" fill="#7a7a7a" opacity="0.8"/>
<circle cx="632.78" cy="1083.64" r="1.25" fill="#7a7a7a" opacity="0.8"/>
<circle cx="632.57" cy="1050.36" r="1.25" fill="#7a7a7a" opacity="0.8"/>
<circle cx="630.65" cy="1023.50" r="1.25" fill="#7a7a7a" opacity="0.8"/>
<circle cx="626.21" cy="1093.80" r="1.25" fill="#7a7a7a" opacity="0.8"/>
<circle cx="630.04" cy="1084.59" r="1.25" fill="#7a7a7a" opacity="0.8"/>
<circle cx="625.80" cy="1082.41" r="1.25" fill="#7a7a7a" opacity="0.8"/>
<circle cx="634.10" cy="1096.08" r="1.25" fill="#7a7a7a" opacity="0.8"/>
<circle cx="631.49" cy="1085.46" r="1.25" fill="#7a7a7a" opacity="0.8"/>
<circle cx="628.51" cy="1097.79" r="1.25" fill="#7a7a7a" opacity="0.8"/>
<circle cx="630.72" cy="1063.05" r="1.25" fill="#7a7a7a" opacity="0.8"/>
<circle cx="628.39" cy="1027.28" r="1.25" fill="#7a7a7a" opacity="0.8"/>
<circle cx="632.64" cy="1090.17" r="1.25" fill="#7a7a7a" opacity="0.8"/>
<circle cx="632.53" cy="1090.45" r="1.25" fill="#7a7a7a" opacity="0.8"/>
<circle cx="625.86" cy="1086.89" r="1.25" fill="#7a7a7a" opacity="0.8"/>
<circle cx="634.84" cy="1097.73" r="1.25" fill="#7a7a7a" opacity="0.8"/>
<circle cx="626.29" cy="1097.39" r="1.25" fill="#7a7a7a" opacity="0.8"/>
<circle cx="631.82" cy="1093.16" r="1.25" fill="#7a7a7a" opacity="0.8"/>
<circle cx="629.40" cy="1070.34" r="1.25" fill="#7a7a7a" opacity="0.8"/>
<circle cx="632.48" cy="1088.93" r="1.25" fill="#7a7a7a" opacity="0.8"/>
<circle cx="628.26" cy="1094.40" r="1.25" fill="#7a7a7a" opacity="0.8"/>
<circle cx="630.91" cy="1085.03" r="1.25" fill="#7a7a7a" opacity="0.8"/>
<circle cx="625.35" cy="1098.72" r="1.25" fill="#7a7a7a" opacity="0.8"/>
<circle cx="632.03" cy="1097.07" r="1.25" fill="#7a7a7a" opacity="0.8"/>
<circle cx="633.99" cy="1081.53" r="1.25" fill="#7a7a7a" opacity="0.8"/>
<circle cx="627.43" cy="1077.34" r="1.25" fill="#7a7a7a" opacity="0.8"/>
<circle cx="633.90" cy="1077.48" r="1.25" fill="#7a7a7a" opacity="0.8"/>
<circle cx="624.53" cy="1092.85" r="1.25" fill="#7a7a7a" opacity="0.8"/>
<circle cx="627.36" cy="1092.22" r="1.25" fill="#7a7a7a" opacity="0.8"/>
<circle cx="624.73" cy="1096.38" r="1.25" fill="#7a7a7a" opacity="0.8"/>
<circle cx="633.55" cy="1097.29" r="1.25" fill="#7a7a7a" opacity="0.8"/>
<circle cx="630.84" cy="1098.53" r="1.25" fill="#7a7a7a" opacity="0.8"/>
<circle cx="626.33" cy="1095.82" r="1.25" fill="#7a7a7a" opacity="0.8"/>
<circle cx="627.89" cy="1073.43" r="1.25" fill="#7a7a7a" opacity="0.8"/>
<circle cx="629.12" cy="1096.24" r="1.25" fill="#7a7a7a" opacity="0.8"/>
<circle cx="629.83" cy="1081.43" r="1.25" fill="#7a7a7a" opacity="0.8"/>
<circle cx="628.80" cy="1069.74" r="1.25" fill="#7a7a7a" opacity="0.8"/>
<circle cx="631.75" cy="1088.13" r="1.25" fill="#7a7a7a" opacity="0.8"/>
<circle cx="631.79" cy="1089.98" r="1.25" fill="#7a7a7a" opacity="0.8"/>
<circle cx="625.91" cy="1089.83" r="1.25" fill="#7a7a7a" opacity="0.8"/>
<circle cx="632.66" cy="1097.32" r="1.25" fill="#7a7a7a" opacity="0.8"/>
<circle cx="633.58" cy="1078.75" r="1.25" fill="#7a7a7a" opacity="0.8"/>
<circle cx="630.34" cy="1081.67" r="1.25" fill="#7a7a7a" opacity="0.8"/>
<circle cx="633.39" cy="1096.57" r="1.25" fill="#7a7a7a" opacity="0.8"/>
<circle cx="628.79" cy="1097.40" r="1.25" fill="#7a7a7a" opacity="0.8"/>
<circle cx="628.31" cy="1097.02" r="1.25" fill="#7a7a7a" opacity="0.8"/>
<circle cx="628.82" cy="1093.78" r="1.25" fill="#7a7a7a" opacity="0.8"/>
<circle cx="629.98" cy="1080.62" r="1.25" fill="#7a7a7a" opacity="0.8"/>
<circle cx="632.55" cy="1095.12" r="1.25" fill="#7a7a7a" opacity="0.8"/>
<circle cx="632.56" cy="1079.31" r="1.25" fill="#7a7a7a" opacity="0.8"/>
<circle cx="630.86" cy="1098.80" r="1.25" fill="#7a7a7a" opacity="0.8"/>
<circle cx="627.75" cy="1065.33" r="1.25" fill="#7a7a7a" opacity="0.8"/>
<circle cx="632.95" cy="1095.90" r="1.25" fill="#7a7a7a" opacity="0.8"/>
<circle cx="628.58" cy="1092.49" r="1.25" fill="#7a7a7a" opacity="0.8"/>
<circle cx="628.61" cy="1073.69" r="1.25" fill="#7a7a7a" opacity="0.8"/>
<circle cx="626.55" cy="1095.97" r="1.25" fill="#7a7a7a" opacity="0.8"/>
<circle cx="631.65" cy="1092.92" r="1.25" fill="#7a7a7a" opacity="0.8"/>
<circle cx="632.40" cy="1092.39" r="1.25" fill="#7a7a7a" opacity="0.8"/>
<circle cx="626.86" cy="1098.27" r="1.25" fill="#7a7a7a" opacity="0.8"/>
<circle cx="629.40" cy="1084.54" r="1.25" fill="#7a7a7a" opacity="0.8"/>
<circle cx="633.95" cy="1088.87" r="1.25" fill="#7a7a7a" opacity="0.8"/>
<circle cx="626.25" cy="1094.41" r="1.25" fill="#7a7a7a" opacity="0.8"/>
<circle cx="629.41" cy="1098.78" r="1.25" fill="#7a7a7a" opacity="0.8"/>
<circle cx="629.33" cy="1093.99" r="1.25" fill="#7a7a7a" opacity="0.8"/>
<circle cx="624.11" cy="1099.22" r="1.25" fill="#7a7a7a" opacity="0.8"/>
<circle cx="632.25" cy="1092.11" r="1.25" fill="#7a7a7a" opacity="0.8"/>
<circle cx="633.92" cy="1093.92" r="1.25" fill="#7a7a7a" opacity="0.8"/>
<circle cx="628.66" cy="1086.27" r="1.25" fill="#7a7a7a" opacity="0.8"/>
<circle cx="627.25" cy="1076.71" r="1.25" fill="#7a7a7a" opacity="0.8"/>
<circle cx="632.94" cy="1085.31" r="1.25" fill="#7a7a7a" opacity="0.8"/>
<circle cx="627.82" cy="1087.58" r="1.25" fill="#7a7a7a" opacity="0.8"/>
<circle cx="630.40" cy="1097.78" r="1.25" fill="#7a7a7a" opacity="0.8"/>
<circle cx="628.24" cy="1096.17" r="1.25" fill="#7a7a7a" opacity="0.8"/>
<circle cx="633.95" cy="1087.53" r="1.25" fill="#7a7a7a" opacity="0.8"/>
<circle cx="629.78" cy="1082.46" r="1.25" fill="#7a7a7a" opacity="0.8"/>
<circle cx="628.04" cy="1069.89" r="1.25" fill="#7a7a7a" opacity="0.8"/>
<circle cx="631.42" cy="1091.92" r="1.25" fill="#7a7a7a" opacity="0.8"/>
<circle cx="626.87" cy="1087.14" r="1.25" fill="#7a7a7a" opacity="0.8"/>
<circle cx="632.91" cy="1091.34" r="1.25" fill="#7a7a7a" opacity="0.8"/>
<circle cx="631.78" cy="1095.12" r="1.25" fill="#7a7a7a" opacity="0.8"/>
<circle cx="634.57" cy="1098.56" r="1.25" fill="#7a7a7a" opacity="0.8"/>
<circle cx="627.96" cy="1081.96" r="1.25" fill="#7a7a7a" opacity="0.8"/>
<circle cx="631.08" cy="1037.80" r="1.25" fill="#7a7a7a" opacity="0.8"/>
<circle cx="626.85" cy="1098.34" r="1.25" fill="#7a7a7a" opacity="0.8"/>
<circle cx="634.59" cy="1089.12" r="1.25" fill="#7a7a7a" opacity="0.8"/>
<circle cx="624.72" cy="1097.02" r="1.25" fill="#7a7a7a" opacity="0.8"/>
<circle cx="624.84" cy="1093.66" r="1.25" fill="#7a7a7a" opacity="0.8"/>
<circle cx="629.99" cy="1091.39" r="1.25" fill="#7a7a7a" opacity="0.8"/>
<circle cx="625.96" cy="1090.56" r="1.25" fill="#7a7a7a" opacity="0.8"/>
<circle cx="632.92" cy="1098.95" r="1.25" fill="#7a7a7a" opacity="0.8"/>
<circle cx="629.40" cy="1090.57" r="1.25" fill="#7a7a7a" opacity="0.8"/>
<circle cx="631.47" cy="1089.52" r="1.25" fill="#7a7a7a" opacity="0.8"/>
<circle cx="632.09" cy="1064.54" r="1.25" fill="#7a7a7a" opacity="0.8"/>
<circle cx="628.13" cy="1079.75" r="1.25" fill="#7a7a7a" opacity="0.8"/>
<circle cx="625.20" cy="1096.52" r="1.25" fill="#7a7a7a" opacity="0.8"/>
<circle cx="626.00" cy="1069.82" r="1.25" fill="#7a7a7a" opacity="0.8"/>
<circle cx="633.60" cy="1086.63" r="1.25" fill="#7a7a7a" opacity="0.8"/>
<line x1="629.60" y1="986.44" x2="629.60" y2="1053.53" stroke="#555555" stroke-width="1" stroke-linecap="butt"/>
<line x1="626.80" y1="986.44" x2="632.40" y2="986.44" stroke="#555555" stroke-width="1.1" stroke-linecap="butt"/>
<rect x="623.10" y="1053.53" width="13.00" height="41.07" fill="none" stroke="#555555" stroke-width="1" />
<line x1="623.10" y1="1086.76" x2="636.10" y2="1086.76" stroke="#555555" stroke-width="1" stroke-linecap="butt"/>
<line x1="629.60" y1="1099.30" x2="629.60" y2="1103.80" stroke="#1a1a1a" stroke-width="1.6" stroke-linecap="butt"/>
<text x="629.60" y="1116.50" text-anchor="middle" fill="#1a1a1a" style="font-size:12.5px">-</text>
<circle cx="647.74" cy="1084.67" r="1.25" fill="#e8401c" opacity="0.8"/>
<circle cx="652.81" cy="1078.94" r="1.25" fill="#e8401c" opacity="0.8"/>
<circle cx="651.10" cy="1055.94" r="1.25" fill="#e8401c" opacity="0.8"/>
<circle cx="651.30" cy="1097.81" r="1.25" fill="#e8401c" opacity="0.8"/>
<circle cx="647.93" cy="1076.74" r="1.25" fill="#e8401c" opacity="0.8"/>
<circle cx="649.93" cy="1035.49" r="1.25" fill="#e8401c" opacity="0.8"/>
<circle cx="649.46" cy="1008.52" r="1.25" fill="#e8401c" opacity="0.8"/>
<circle cx="648.60" cy="1008.71" r="1.25" fill="#e8401c" opacity="0.8"/>
<circle cx="651.08" cy="1068.75" r="1.25" fill="#e8401c" opacity="0.8"/>
<circle cx="645.61" cy="1076.56" r="1.25" fill="#e8401c" opacity="0.8"/>
<circle cx="651.68" cy="1066.17" r="1.25" fill="#e8401c" opacity="0.8"/>
<circle cx="647.49" cy="1022.39" r="1.25" fill="#e8401c" opacity="0.8"/>
<circle cx="646.29" cy="1081.25" r="1.25" fill="#e8401c" opacity="0.8"/>
<circle cx="653.15" cy="1083.61" r="1.25" fill="#e8401c" opacity="0.8"/>
<circle cx="647.12" cy="1078.74" r="1.25" fill="#e8401c" opacity="0.8"/>
<circle cx="648.21" cy="1087.33" r="1.25" fill="#e8401c" opacity="0.8"/>
<circle cx="647.71" cy="1057.63" r="1.25" fill="#e8401c" opacity="0.8"/>
<circle cx="645.99" cy="1091.55" r="1.25" fill="#e8401c" opacity="0.8"/>
<circle cx="652.82" cy="1087.98" r="1.25" fill="#e8401c" opacity="0.8"/>
<circle cx="651.42" cy="1092.32" r="1.25" fill="#e8401c" opacity="0.8"/>
<circle cx="651.83" cy="1094.99" r="1.25" fill="#e8401c" opacity="0.8"/>
<circle cx="651.56" cy="1087.67" r="1.25" fill="#e8401c" opacity="0.8"/>
<circle cx="645.04" cy="1078.01" r="1.25" fill="#e8401c" opacity="0.8"/>
<circle cx="651.99" cy="1095.57" r="1.25" fill="#e8401c" opacity="0.8"/>
<circle cx="648.69" cy="1069.93" r="1.25" fill="#e8401c" opacity="0.8"/>
<circle cx="650.60" cy="1082.97" r="1.25" fill="#e8401c" opacity="0.8"/>
<circle cx="645.04" cy="1074.53" r="1.25" fill="#e8401c" opacity="0.8"/>
<circle cx="647.38" cy="1064.74" r="1.25" fill="#e8401c" opacity="0.8"/>
<circle cx="649.00" cy="1028.76" r="1.25" fill="#e8401c" opacity="0.8"/>
<circle cx="646.69" cy="1043.38" r="1.25" fill="#e8401c" opacity="0.8"/>
<circle cx="649.52" cy="1053.11" r="1.25" fill="#e8401c" opacity="0.8"/>
<circle cx="650.34" cy="1027.70" r="1.25" fill="#e8401c" opacity="0.8"/>
<circle cx="649.54" cy="1069.14" r="1.25" fill="#e8401c" opacity="0.8"/>
<circle cx="647.46" cy="1044.49" r="1.25" fill="#e8401c" opacity="0.8"/>
<circle cx="651.13" cy="1069.68" r="1.25" fill="#e8401c" opacity="0.8"/>
<circle cx="649.13" cy="1065.35" r="1.25" fill="#e8401c" opacity="0.8"/>
<circle cx="650.65" cy="1026.44" r="1.25" fill="#e8401c" opacity="0.8"/>
<circle cx="644.59" cy="1088.02" r="1.25" fill="#e8401c" opacity="0.8"/>
<circle cx="646.16" cy="1063.54" r="1.25" fill="#e8401c" opacity="0.8"/>
<circle cx="648.73" cy="986.44" r="1.25" fill="#e8401c" opacity="0.8"/>
<circle cx="651.40" cy="1070.56" r="1.25" fill="#e8401c" opacity="0.8"/>
<circle cx="647.54" cy="1022.61" r="1.25" fill="#e8401c" opacity="0.8"/>
<circle cx="645.99" cy="1076.58" r="1.25" fill="#e8401c" opacity="0.8"/>
<circle cx="645.60" cy="1076.09" r="1.25" fill="#e8401c" opacity="0.8"/>
<circle cx="648.32" cy="1020.46" r="1.25" fill="#e8401c" opacity="0.8"/>
<circle cx="652.45" cy="1080.75" r="1.25" fill="#e8401c" opacity="0.8"/>
<circle cx="648.04" cy="1034.08" r="1.25" fill="#e8401c" opacity="0.8"/>
<circle cx="650.18" cy="1073.22" r="1.25" fill="#e8401c" opacity="0.8"/>
<circle cx="645.08" cy="1091.47" r="1.25" fill="#e8401c" opacity="0.8"/>
<circle cx="647.50" cy="1026.01" r="1.25" fill="#e8401c" opacity="0.8"/>
<circle cx="650.34" cy="1053.01" r="1.25" fill="#e8401c" opacity="0.8"/>
<circle cx="647.61" cy="1065.61" r="1.25" fill="#e8401c" opacity="0.8"/>
<circle cx="649.90" cy="1025.95" r="1.25" fill="#e8401c" opacity="0.8"/>
<circle cx="653.06" cy="1096.53" r="1.25" fill="#e8401c" opacity="0.8"/>
<circle cx="647.26" cy="1061.21" r="1.25" fill="#e8401c" opacity="0.8"/>
<circle cx="644.65" cy="1092.35" r="1.25" fill="#e8401c" opacity="0.8"/>
<circle cx="650.50" cy="1036.55" r="1.25" fill="#e8401c" opacity="0.8"/>
<circle cx="645.78" cy="1083.22" r="1.25" fill="#e8401c" opacity="0.8"/>
<circle cx="647.88" cy="1096.44" r="1.25" fill="#e8401c" opacity="0.8"/>
<circle cx="644.45" cy="1086.00" r="1.25" fill="#e8401c" opacity="0.8"/>
<circle cx="651.92" cy="1086.01" r="1.25" fill="#e8401c" opacity="0.8"/>
<circle cx="647.77" cy="1096.77" r="1.25" fill="#e8401c" opacity="0.8"/>
<circle cx="645.98" cy="1072.14" r="1.25" fill="#e8401c" opacity="0.8"/>
<circle cx="644.17" cy="1097.90" r="1.25" fill="#e8401c" opacity="0.8"/>
<circle cx="653.75" cy="1093.46" r="1.25" fill="#e8401c" opacity="0.8"/>
<circle cx="649.57" cy="1024.84" r="1.25" fill="#e8401c" opacity="0.8"/>
<circle cx="648.32" cy="1012.85" r="1.25" fill="#e8401c" opacity="0.8"/>
<circle cx="652.48" cy="1088.51" r="1.25" fill="#e8401c" opacity="0.8"/>
<circle cx="652.01" cy="1064.23" r="1.25" fill="#e8401c" opacity="0.8"/>
<circle cx="647.99" cy="1082.57" r="1.25" fill="#e8401c" opacity="0.8"/>
<circle cx="651.23" cy="1051.70" r="1.25" fill="#e8401c" opacity="0.8"/>
<circle cx="646.35" cy="1092.49" r="1.25" fill="#e8401c" opacity="0.8"/>
<circle cx="649.45" cy="1098.78" r="1.25" fill="#e8401c" opacity="0.8"/>
<circle cx="648.99" cy="1002.53" r="1.25" fill="#e8401c" opacity="0.8"/>
<circle cx="650.79" cy="1093.25" r="1.25" fill="#e8401c" opacity="0.8"/>
<circle cx="645.98" cy="1059.82" r="1.25" fill="#e8401c" opacity="0.8"/>
<circle cx="649.24" cy="1006.90" r="1.25" fill="#e8401c" opacity="0.8"/>
<circle cx="647.47" cy="1073.92" r="1.25" fill="#e8401c" opacity="0.8"/>
<circle cx="648.47" cy="1092.72" r="1.25" fill="#e8401c" opacity="0.8"/>
<circle cx="646.31" cy="1082.17" r="1.25" fill="#e8401c" opacity="0.8"/>
<circle cx="649.96" cy="1060.19" r="1.25" fill="#e8401c" opacity="0.8"/>
<circle cx="650.09" cy="986.44" r="1.25" fill="#e8401c" opacity="0.8"/>
<circle cx="650.68" cy="1075.70" r="1.25" fill="#e8401c" opacity="0.8"/>
<circle cx="648.18" cy="1081.61" r="1.25" fill="#e8401c" opacity="0.8"/>
<circle cx="652.62" cy="1067.81" r="1.25" fill="#e8401c" opacity="0.8"/>
<circle cx="648.40" cy="1097.69" r="1.25" fill="#e8401c" opacity="0.8"/>
<circle cx="651.69" cy="1083.87" r="1.25" fill="#e8401c" opacity="0.8"/>
<circle cx="648.72" cy="986.44" r="1.25" fill="#e8401c" opacity="0.8"/>
<circle cx="649.81" cy="1096.17" r="1.25" fill="#e8401c" opacity="0.8"/>
<circle cx="650.20" cy="1065.98" r="1.25" fill="#e8401c" opacity="0.8"/>
<circle cx="648.60" cy="1042.92" r="1.25" fill="#e8401c" opacity="0.8"/>
<circle cx="650.96" cy="1069.32" r="1.25" fill="#e8401c" opacity="0.8"/>
<circle cx="645.97" cy="1098.25" r="1.25" fill="#e8401c" opacity="0.8"/>
<circle cx="652.02" cy="1055.53" r="1.25" fill="#e8401c" opacity="0.8"/>
<circle cx="648.20" cy="991.35" r="1.25" fill="#e8401c" opacity="0.8"/>
<circle cx="648.19" cy="986.44" r="1.25" fill="#e8401c" opacity="0.8"/>
<circle cx="645.80" cy="1076.62" r="1.25" fill="#e8401c" opacity="0.8"/>
<circle cx="647.98" cy="1064.58" r="1.25" fill="#e8401c" opacity="0.8"/>
<circle cx="651.89" cy="1055.83" r="1.25" fill="#e8401c" opacity="0.8"/>
<circle cx="650.45" cy="1094.16" r="1.25" fill="#e8401c" opacity="0.8"/>
<circle cx="647.08" cy="1064.68" r="1.25" fill="#e8401c" opacity="0.8"/>
<circle cx="653.57" cy="1097.95" r="1.25" fill="#e8401c" opacity="0.8"/>
<circle cx="649.63" cy="1054.61" r="1.25" fill="#e8401c" opacity="0.8"/>
<circle cx="653.04" cy="1095.24" r="1.25" fill="#e8401c" opacity="0.8"/>
<circle cx="648.48" cy="1080.14" r="1.25" fill="#e8401c" opacity="0.8"/>
<circle cx="648.37" cy="1068.73" r="1.25" fill="#e8401c" opacity="0.8"/>
<circle cx="648.71" cy="986.44" r="1.25" fill="#e8401c" opacity="0.8"/>
<circle cx="650.67" cy="1056.72" r="1.25" fill="#e8401c" opacity="0.8"/>
<circle cx="647.89" cy="997.68" r="1.25" fill="#e8401c" opacity="0.8"/>
<circle cx="653.06" cy="1083.69" r="1.25" fill="#e8401c" opacity="0.8"/>
<circle cx="647.83" cy="1064.25" r="1.25" fill="#e8401c" opacity="0.8"/>
<circle cx="647.59" cy="1019.10" r="1.25" fill="#e8401c" opacity="0.8"/>
<circle cx="644.52" cy="1088.31" r="1.25" fill="#e8401c" opacity="0.8"/>
<circle cx="648.71" cy="1057.53" r="1.25" fill="#e8401c" opacity="0.8"/>
<circle cx="648.22" cy="1085.64" r="1.25" fill="#e8401c" opacity="0.8"/>
<circle cx="650.88" cy="1088.31" r="1.25" fill="#e8401c" opacity="0.8"/>
<circle cx="648.12" cy="1045.66" r="1.25" fill="#e8401c" opacity="0.8"/>
<circle cx="647.18" cy="1022.92" r="1.25" fill="#e8401c" opacity="0.8"/>
<circle cx="646.05" cy="1067.93" r="1.25" fill="#e8401c" opacity="0.8"/>
<circle cx="649.41" cy="1094.60" r="1.25" fill="#e8401c" opacity="0.8"/>
<circle cx="644.26" cy="1095.88" r="1.25" fill="#e8401c" opacity="0.8"/>
<circle cx="647.51" cy="1093.88" r="1.25" fill="#e8401c" opacity="0.8"/>
<circle cx="647.85" cy="1032.57" r="1.25" fill="#e8401c" opacity="0.8"/>
<circle cx="651.62" cy="1094.39" r="1.25" fill="#e8401c" opacity="0.8"/>
<circle cx="651.17" cy="1035.38" r="1.25" fill="#e8401c" opacity="0.8"/>
<circle cx="645.18" cy="1097.40" r="1.25" fill="#e8401c" opacity="0.8"/>
<circle cx="653.18" cy="1077.92" r="1.25" fill="#e8401c" opacity="0.8"/>
<circle cx="651.93" cy="1070.11" r="1.25" fill="#e8401c" opacity="0.8"/>
<circle cx="648.50" cy="1089.75" r="1.25" fill="#e8401c" opacity="0.8"/>
<circle cx="646.96" cy="1055.62" r="1.25" fill="#e8401c" opacity="0.8"/>
<circle cx="651.49" cy="1071.50" r="1.25" fill="#e8401c" opacity="0.8"/>
<circle cx="649.74" cy="1035.69" r="1.25" fill="#e8401c" opacity="0.8"/>
<circle cx="651.05" cy="1032.89" r="1.25" fill="#e8401c" opacity="0.8"/>
<circle cx="646.90" cy="1064.35" r="1.25" fill="#e8401c" opacity="0.8"/>
<circle cx="644.33" cy="1089.86" r="1.25" fill="#e8401c" opacity="0.8"/>
<circle cx="649.00" cy="1004.84" r="1.25" fill="#e8401c" opacity="0.8"/>
<circle cx="651.64" cy="1064.56" r="1.25" fill="#e8401c" opacity="0.8"/>
<circle cx="648.08" cy="1055.14" r="1.25" fill="#e8401c" opacity="0.8"/>
<circle cx="645.55" cy="1066.15" r="1.25" fill="#e8401c" opacity="0.8"/>
<circle cx="647.25" cy="1088.31" r="1.25" fill="#e8401c" opacity="0.8"/>
<circle cx="649.64" cy="1039.75" r="1.25" fill="#e8401c" opacity="0.8"/>
<circle cx="648.00" cy="1064.46" r="1.25" fill="#e8401c" opacity="0.8"/>
<circle cx="647.71" cy="1082.99" r="1.25" fill="#e8401c" opacity="0.8"/>
<circle cx="647.29" cy="1097.37" r="1.25" fill="#e8401c" opacity="0.8"/>
<circle cx="649.67" cy="1008.99" r="1.25" fill="#e8401c" opacity="0.8"/>
<circle cx="648.79" cy="1088.52" r="1.25" fill="#e8401c" opacity="0.8"/>
<circle cx="647.00" cy="1047.95" r="1.25" fill="#e8401c" opacity="0.8"/>
<circle cx="649.61" cy="1082.73" r="1.25" fill="#e8401c" opacity="0.8"/>
<circle cx="652.99" cy="1091.48" r="1.25" fill="#e8401c" opacity="0.8"/>
<circle cx="652.96" cy="1098.58" r="1.25" fill="#e8401c" opacity="0.8"/>
<circle cx="648.09" cy="1057.69" r="1.25" fill="#e8401c" opacity="0.8"/>
<circle cx="652.39" cy="1086.50" r="1.25" fill="#e8401c" opacity="0.8"/>
<circle cx="646.94" cy="1052.53" r="1.25" fill="#e8401c" opacity="0.8"/>
<circle cx="644.89" cy="1084.94" r="1.25" fill="#e8401c" opacity="0.8"/>
<circle cx="648.24" cy="1062.03" r="1.25" fill="#e8401c" opacity="0.8"/>
<circle cx="650.76" cy="1084.92" r="1.25" fill="#e8401c" opacity="0.8"/>
<circle cx="645.25" cy="1088.27" r="1.25" fill="#e8401c" opacity="0.8"/>
<circle cx="650.80" cy="1039.50" r="1.25" fill="#e8401c" opacity="0.8"/>
<circle cx="649.09" cy="1037.36" r="1.25" fill="#e8401c" opacity="0.8"/>
<circle cx="651.11" cy="1051.78" r="1.25" fill="#e8401c" opacity="0.8"/>
<circle cx="646.62" cy="1097.81" r="1.25" fill="#e8401c" opacity="0.8"/>
<circle cx="650.99" cy="1082.77" r="1.25" fill="#e8401c" opacity="0.8"/>
<circle cx="651.31" cy="1083.89" r="1.25" fill="#e8401c" opacity="0.8"/>
<circle cx="653.22" cy="1088.10" r="1.25" fill="#e8401c" opacity="0.8"/>
<circle cx="649.61" cy="1077.80" r="1.25" fill="#e8401c" opacity="0.8"/>
<circle cx="651.17" cy="1062.06" r="1.25" fill="#e8401c" opacity="0.8"/>
<circle cx="646.50" cy="1068.11" r="1.25" fill="#e8401c" opacity="0.8"/>
<circle cx="649.36" cy="1077.44" r="1.25" fill="#e8401c" opacity="0.8"/>
<circle cx="652.33" cy="1096.47" r="1.25" fill="#e8401c" opacity="0.8"/>
<circle cx="652.86" cy="1085.48" r="1.25" fill="#e8401c" opacity="0.8"/>
<circle cx="652.99" cy="1081.80" r="1.25" fill="#e8401c" opacity="0.8"/>
<circle cx="648.13" cy="1051.15" r="1.25" fill="#e8401c" opacity="0.8"/>
<circle cx="645.52" cy="1053.84" r="1.25" fill="#e8401c" opacity="0.8"/>
<circle cx="649.69" cy="1095.97" r="1.25" fill="#e8401c" opacity="0.8"/>
<circle cx="647.90" cy="1085.47" r="1.25" fill="#e8401c" opacity="0.8"/>
<circle cx="648.63" cy="1053.36" r="1.25" fill="#e8401c" opacity="0.8"/>
<circle cx="650.62" cy="1063.65" r="1.25" fill="#e8401c" opacity="0.8"/>
<circle cx="647.07" cy="1031.40" r="1.25" fill="#e8401c" opacity="0.8"/>
<circle cx="649.90" cy="1032.94" r="1.25" fill="#e8401c" opacity="0.8"/>
<circle cx="644.62" cy="1089.61" r="1.25" fill="#e8401c" opacity="0.8"/>
<circle cx="644.61" cy="1091.23" r="1.25" fill="#e8401c" opacity="0.8"/>
<circle cx="652.71" cy="1067.52" r="1.25" fill="#e8401c" opacity="0.8"/>
<circle cx="646.88" cy="1074.27" r="1.25" fill="#e8401c" opacity="0.8"/>
<circle cx="653.68" cy="1092.27" r="1.25" fill="#e8401c" opacity="0.8"/>
<circle cx="646.68" cy="1069.55" r="1.25" fill="#e8401c" opacity="0.8"/>
<circle cx="648.58" cy="1008.33" r="1.25" fill="#e8401c" opacity="0.8"/>
<circle cx="648.83" cy="986.44" r="1.25" fill="#e8401c" opacity="0.8"/>
<circle cx="645.69" cy="1088.29" r="1.25" fill="#e8401c" opacity="0.8"/>
<circle cx="652.24" cy="1098.67" r="1.25" fill="#e8401c" opacity="0.8"/>
<circle cx="650.98" cy="1084.36" r="1.25" fill="#e8401c" opacity="0.8"/>
<circle cx="648.39" cy="1029.99" r="1.25" fill="#e8401c" opacity="0.8"/>
<circle cx="650.66" cy="1072.42" r="1.25" fill="#e8401c" opacity="0.8"/>
<circle cx="647.81" cy="1060.60" r="1.25" fill="#e8401c" opacity="0.8"/>
<circle cx="646.61" cy="1090.99" r="1.25" fill="#e8401c" opacity="0.8"/>
<circle cx="650.28" cy="1098.51" r="1.25" fill="#e8401c" opacity="0.8"/>
<circle cx="650.78" cy="1060.78" r="1.25" fill="#e8401c" opacity="0.8"/>
<circle cx="650.86" cy="1077.52" r="1.25" fill="#e8401c" opacity="0.8"/>
<circle cx="651.61" cy="1068.49" r="1.25" fill="#e8401c" opacity="0.8"/>
<circle cx="650.19" cy="1069.23" r="1.25" fill="#e8401c" opacity="0.8"/>
<circle cx="646.53" cy="1064.85" r="1.25" fill="#e8401c" opacity="0.8"/>
<circle cx="652.22" cy="1096.28" r="1.25" fill="#e8401c" opacity="0.8"/>
<circle cx="648.87" cy="1054.96" r="1.25" fill="#e8401c" opacity="0.8"/>
<circle cx="647.93" cy="1007.12" r="1.25" fill="#e8401c" opacity="0.8"/>
<circle cx="648.82" cy="1049.67" r="1.25" fill="#e8401c" opacity="0.8"/>
<circle cx="644.87" cy="1095.11" r="1.25" fill="#e8401c" opacity="0.8"/>
<circle cx="645.41" cy="1098.32" r="1.25" fill="#e8401c" opacity="0.8"/>
<circle cx="648.68" cy="1042.85" r="1.25" fill="#e8401c" opacity="0.8"/>
<circle cx="648.73" cy="1097.48" r="1.25" fill="#e8401c" opacity="0.8"/>
<circle cx="649.59" cy="986.44" r="1.25" fill="#e8401c" opacity="0.8"/>
<circle cx="648.64" cy="1085.83" r="1.25" fill="#e8401c" opacity="0.8"/>
<circle cx="646.29" cy="1082.10" r="1.25" fill="#e8401c" opacity="0.8"/>
<circle cx="645.43" cy="1058.92" r="1.25" fill="#e8401c" opacity="0.8"/>
<circle cx="652.50" cy="1075.19" r="1.25" fill="#e8401c" opacity="0.8"/>
<circle cx="649.71" cy="1046.16" r="1.25" fill="#e8401c" opacity="0.8"/>
<circle cx="650.82" cy="1032.23" r="1.25" fill="#e8401c" opacity="0.8"/>
<circle cx="653.19" cy="1087.44" r="1.25" fill="#e8401c" opacity="0.8"/>
<circle cx="648.78" cy="1014.97" r="1.25" fill="#e8401c" opacity="0.8"/>
<circle cx="649.14" cy="1093.82" r="1.25" fill="#e8401c" opacity="0.8"/>
<circle cx="653.01" cy="1073.47" r="1.25" fill="#e8401c" opacity="0.8"/>
<circle cx="650.97" cy="1088.69" r="1.25" fill="#e8401c" opacity="0.8"/>
<circle cx="649.38" cy="1045.77" r="1.25" fill="#e8401c" opacity="0.8"/>
<circle cx="652.77" cy="1086.72" r="1.25" fill="#e8401c" opacity="0.8"/>
<circle cx="652.35" cy="1088.22" r="1.25" fill="#e8401c" opacity="0.8"/>
<circle cx="648.89" cy="1016.71" r="1.25" fill="#e8401c" opacity="0.8"/>
<circle cx="646.34" cy="1097.29" r="1.25" fill="#e8401c" opacity="0.8"/>
<circle cx="645.42" cy="1096.71" r="1.25" fill="#e8401c" opacity="0.8"/>
<circle cx="649.49" cy="1082.75" r="1.25" fill="#e8401c" opacity="0.8"/>
<circle cx="646.53" cy="1037.87" r="1.25" fill="#e8401c" opacity="0.8"/>
<circle cx="646.46" cy="1047.98" r="1.25" fill="#e8401c" opacity="0.8"/>
<circle cx="645.66" cy="1052.33" r="1.25" fill="#e8401c" opacity="0.8"/>
<circle cx="652.81" cy="1082.72" r="1.25" fill="#e8401c" opacity="0.8"/>
<circle cx="647.29" cy="1021.19" r="1.25" fill="#e8401c" opacity="0.8"/>
<circle cx="652.61" cy="1080.82" r="1.25" fill="#e8401c" opacity="0.8"/>
<circle cx="648.37" cy="1091.97" r="1.25" fill="#e8401c" opacity="0.8"/>
<circle cx="646.78" cy="1087.90" r="1.25" fill="#e8401c" opacity="0.8"/>
<circle cx="645.72" cy="1073.99" r="1.25" fill="#e8401c" opacity="0.8"/>
<circle cx="653.73" cy="1093.00" r="1.25" fill="#e8401c" opacity="0.8"/>
<circle cx="649.36" cy="1045.23" r="1.25" fill="#e8401c" opacity="0.8"/>
<circle cx="644.96" cy="1093.80" r="1.25" fill="#e8401c" opacity="0.8"/>
<circle cx="649.65" cy="1062.76" r="1.25" fill="#e8401c" opacity="0.8"/>
<circle cx="653.88" cy="1098.91" r="1.25" fill="#e8401c" opacity="0.8"/>
<circle cx="646.66" cy="1081.58" r="1.25" fill="#e8401c" opacity="0.8"/>
<circle cx="651.82" cy="1061.34" r="1.25" fill="#e8401c" opacity="0.8"/>
<circle cx="648.90" cy="1083.11" r="1.25" fill="#e8401c" opacity="0.8"/>
<circle cx="648.44" cy="1097.41" r="1.25" fill="#e8401c" opacity="0.8"/>
<circle cx="650.01" cy="1013.63" r="1.25" fill="#e8401c" opacity="0.8"/>
<circle cx="652.20" cy="1083.10" r="1.25" fill="#e8401c" opacity="0.8"/>
<circle cx="648.26" cy="986.44" r="1.25" fill="#e8401c" opacity="0.8"/>
<circle cx="647.94" cy="1026.55" r="1.25" fill="#e8401c" opacity="0.8"/>
<circle cx="649.90" cy="986.44" r="1.25" fill="#e8401c" opacity="0.8"/>
<circle cx="648.55" cy="986.44" r="1.25" fill="#e8401c" opacity="0.8"/>
<circle cx="650.18" cy="1055.71" r="1.25" fill="#e8401c" opacity="0.8"/>
<circle cx="645.30" cy="1066.45" r="1.25" fill="#e8401c" opacity="0.8"/>
<circle cx="650.91" cy="1058.00" r="1.25" fill="#e8401c" opacity="0.8"/>
<circle cx="651.71" cy="1060.61" r="1.25" fill="#e8401c" opacity="0.8"/>
<circle cx="649.19" cy="986.44" r="1.25" fill="#e8401c" opacity="0.8"/>
<circle cx="648.87" cy="1082.72" r="1.25" fill="#e8401c" opacity="0.8"/>
<circle cx="645.96" cy="1091.75" r="1.25" fill="#e8401c" opacity="0.8"/>
<circle cx="648.64" cy="986.44" r="1.25" fill="#e8401c" opacity="0.8"/>
<circle cx="652.17" cy="1075.60" r="1.25" fill="#e8401c" opacity="0.8"/>
<line x1="648.80" y1="986.44" x2="648.80" y2="1042.87" stroke="#e8401c" stroke-width="1" stroke-linecap="butt"/>
<line x1="646.00" y1="986.44" x2="651.60" y2="986.44" stroke="#e8401c" stroke-width="1.1" stroke-linecap="butt"/>
<rect x="642.30" y="1042.87" width="13.00" height="47.03" fill="none" stroke="#e8401c" stroke-width="1" />
<line x1="642.30" y1="1067.95" x2="655.30" y2="1067.95" stroke="#e8401c" stroke-width="1" stroke-linecap="butt"/>
<line x1="648.80" y1="1099.30" x2="648.80" y2="1103.80" stroke="#1a1a1a" stroke-width="1.6" stroke-linecap="butt"/>
<text x="648.80" y="1116.50" text-anchor="middle" fill="#1a1a1a" style="font-size:12.5px">+</text>
<circle cx="662.84" cy="1081.29" r="1.25" fill="#bdbdbd" opacity="0.8"/>
<circle cx="667.33" cy="1093.30" r="1.25" fill="#bdbdbd" opacity="0.8"/>
<circle cx="669.83" cy="1096.24" r="1.25" fill="#bdbdbd" opacity="0.8"/>
<circle cx="670.45" cy="1088.39" r="1.25" fill="#bdbdbd" opacity="0.8"/>
<circle cx="663.61" cy="1097.67" r="1.25" fill="#bdbdbd" opacity="0.8"/>
<circle cx="667.18" cy="1095.19" r="1.25" fill="#bdbdbd" opacity="0.8"/>
<circle cx="667.15" cy="1095.99" r="1.25" fill="#bdbdbd" opacity="0.8"/>
<circle cx="662.40" cy="1094.50" r="1.25" fill="#bdbdbd" opacity="0.8"/>
<circle cx="667.37" cy="1079.56" r="1.25" fill="#bdbdbd" opacity="0.8"/>
<circle cx="667.17" cy="1073.25" r="1.25" fill="#bdbdbd" opacity="0.8"/>
<circle cx="667.95" cy="1077.12" r="1.25" fill="#bdbdbd" opacity="0.8"/>
<circle cx="671.48" cy="1091.57" r="1.25" fill="#bdbdbd" opacity="0.8"/>
<circle cx="672.00" cy="1094.24" r="1.25" fill="#bdbdbd" opacity="0.8"/>
<circle cx="671.48" cy="1089.28" r="1.25" fill="#bdbdbd" opacity="0.8"/>
<circle cx="667.43" cy="1098.19" r="1.25" fill="#bdbdbd" opacity="0.8"/>
<circle cx="670.36" cy="1095.02" r="1.25" fill="#bdbdbd" opacity="0.8"/>
<circle cx="669.94" cy="1072.01" r="1.25" fill="#bdbdbd" opacity="0.8"/>
<circle cx="662.55" cy="1093.76" r="1.25" fill="#bdbdbd" opacity="0.8"/>
<circle cx="665.02" cy="1058.01" r="1.25" fill="#bdbdbd" opacity="0.8"/>
<circle cx="667.83" cy="1079.56" r="1.25" fill="#bdbdbd" opacity="0.8"/>
<circle cx="668.96" cy="1084.47" r="1.25" fill="#bdbdbd" opacity="0.8"/>
<circle cx="665.78" cy="1096.25" r="1.25" fill="#bdbdbd" opacity="0.8"/>
<circle cx="669.12" cy="1093.82" r="1.25" fill="#bdbdbd" opacity="0.8"/>
<circle cx="671.74" cy="1086.44" r="1.25" fill="#bdbdbd" opacity="0.8"/>
<circle cx="665.48" cy="1090.59" r="1.25" fill="#bdbdbd" opacity="0.8"/>
<circle cx="666.37" cy="1097.86" r="1.25" fill="#bdbdbd" opacity="0.8"/>
<circle cx="668.87" cy="1089.09" r="1.25" fill="#bdbdbd" opacity="0.8"/>
<circle cx="663.68" cy="1098.98" r="1.25" fill="#bdbdbd" opacity="0.8"/>
<circle cx="669.80" cy="1087.88" r="1.25" fill="#bdbdbd" opacity="0.8"/>
<circle cx="664.22" cy="1067.13" r="1.25" fill="#bdbdbd" opacity="0.8"/>
<circle cx="666.51" cy="1084.60" r="1.25" fill="#bdbdbd" opacity="0.8"/>
<circle cx="668.83" cy="1089.22" r="1.25" fill="#bdbdbd" opacity="0.8"/>
<circle cx="668.11" cy="1093.41" r="1.25" fill="#bdbdbd" opacity="0.8"/>
<circle cx="663.62" cy="1061.14" r="1.25" fill="#bdbdbd" opacity="0.8"/>
<circle cx="672.03" cy="1090.27" r="1.25" fill="#bdbdbd" opacity="0.8"/>
<circle cx="664.86" cy="1075.77" r="1.25" fill="#bdbdbd" opacity="0.8"/>
<circle cx="670.82" cy="1082.08" r="1.25" fill="#bdbdbd" opacity="0.8"/>
<circle cx="667.52" cy="1093.36" r="1.25" fill="#bdbdbd" opacity="0.8"/>
<circle cx="672.27" cy="1095.36" r="1.25" fill="#bdbdbd" opacity="0.8"/>
<circle cx="669.16" cy="1097.00" r="1.25" fill="#bdbdbd" opacity="0.8"/>
<circle cx="669.68" cy="1047.36" r="1.25" fill="#bdbdbd" opacity="0.8"/>
<circle cx="666.42" cy="1077.77" r="1.25" fill="#bdbdbd" opacity="0.8"/>
<circle cx="669.77" cy="1067.86" r="1.25" fill="#bdbdbd" opacity="0.8"/>
<circle cx="665.70" cy="1093.14" r="1.25" fill="#bdbdbd" opacity="0.8"/>
<circle cx="665.15" cy="1094.80" r="1.25" fill="#bdbdbd" opacity="0.8"/>
<circle cx="666.16" cy="1089.76" r="1.25" fill="#bdbdbd" opacity="0.8"/>
<circle cx="663.36" cy="1063.35" r="1.25" fill="#bdbdbd" opacity="0.8"/>
<circle cx="666.31" cy="1088.83" r="1.25" fill="#bdbdbd" opacity="0.8"/>
<circle cx="668.89" cy="1029.61" r="1.25" fill="#bdbdbd" opacity="0.8"/>
<circle cx="669.19" cy="1085.18" r="1.25" fill="#bdbdbd" opacity="0.8"/>
<circle cx="669.07" cy="1093.91" r="1.25" fill="#bdbdbd" opacity="0.8"/>
<circle cx="670.37" cy="1096.15" r="1.25" fill="#bdbdbd" opacity="0.8"/>
<circle cx="664.31" cy="1089.65" r="1.25" fill="#bdbdbd" opacity="0.8"/>
<circle cx="665.81" cy="1096.63" r="1.25" fill="#bdbdbd" opacity="0.8"/>
<circle cx="668.73" cy="1094.52" r="1.25" fill="#bdbdbd" opacity="0.8"/>
<circle cx="662.21" cy="1092.26" r="1.25" fill="#bdbdbd" opacity="0.8"/>
<circle cx="666.51" cy="1094.85" r="1.25" fill="#bdbdbd" opacity="0.8"/>
<circle cx="669.41" cy="1047.64" r="1.25" fill="#bdbdbd" opacity="0.8"/>
<circle cx="671.59" cy="1088.50" r="1.25" fill="#bdbdbd" opacity="0.8"/>
<circle cx="663.82" cy="1097.45" r="1.25" fill="#bdbdbd" opacity="0.8"/>
<circle cx="664.37" cy="1097.45" r="1.25" fill="#bdbdbd" opacity="0.8"/>
<circle cx="667.43" cy="1095.59" r="1.25" fill="#bdbdbd" opacity="0.8"/>
<circle cx="665.76" cy="1074.68" r="1.25" fill="#bdbdbd" opacity="0.8"/>
<circle cx="666.70" cy="1094.90" r="1.25" fill="#bdbdbd" opacity="0.8"/>
<circle cx="667.05" cy="1065.79" r="1.25" fill="#bdbdbd" opacity="0.8"/>
<circle cx="665.79" cy="1053.92" r="1.25" fill="#bdbdbd" opacity="0.8"/>
<circle cx="668.30" cy="1090.23" r="1.25" fill="#bdbdbd" opacity="0.8"/>
<circle cx="670.21" cy="1084.95" r="1.25" fill="#bdbdbd" opacity="0.8"/>
<circle cx="663.81" cy="1097.87" r="1.25" fill="#bdbdbd" opacity="0.8"/>
<circle cx="669.98" cy="1098.04" r="1.25" fill="#bdbdbd" opacity="0.8"/>
<circle cx="666.93" cy="1091.61" r="1.25" fill="#bdbdbd" opacity="0.8"/>
<circle cx="670.29" cy="1098.89" r="1.25" fill="#bdbdbd" opacity="0.8"/>
<circle cx="663.65" cy="1059.43" r="1.25" fill="#bdbdbd" opacity="0.8"/>
<circle cx="666.91" cy="1049.39" r="1.25" fill="#bdbdbd" opacity="0.8"/>
<circle cx="661.89" cy="1097.89" r="1.25" fill="#bdbdbd" opacity="0.8"/>
<circle cx="669.89" cy="1085.67" r="1.25" fill="#bdbdbd" opacity="0.8"/>
<circle cx="670.83" cy="1093.34" r="1.25" fill="#bdbdbd" opacity="0.8"/>
<circle cx="671.06" cy="1099.27" r="1.25" fill="#bdbdbd" opacity="0.8"/>
<circle cx="663.61" cy="1097.35" r="1.25" fill="#bdbdbd" opacity="0.8"/>
<circle cx="665.21" cy="1094.69" r="1.25" fill="#bdbdbd" opacity="0.8"/>
<circle cx="667.04" cy="1073.48" r="1.25" fill="#bdbdbd" opacity="0.8"/>
<circle cx="670.23" cy="1092.98" r="1.25" fill="#bdbdbd" opacity="0.8"/>
<circle cx="665.05" cy="1092.92" r="1.25" fill="#bdbdbd" opacity="0.8"/>
<circle cx="667.87" cy="1094.50" r="1.25" fill="#bdbdbd" opacity="0.8"/>
<circle cx="670.49" cy="1072.16" r="1.25" fill="#bdbdbd" opacity="0.8"/>
<circle cx="665.54" cy="1099.04" r="1.25" fill="#bdbdbd" opacity="0.8"/>
<circle cx="666.96" cy="1085.80" r="1.25" fill="#bdbdbd" opacity="0.8"/>
<circle cx="671.14" cy="1084.29" r="1.25" fill="#bdbdbd" opacity="0.8"/>
<circle cx="669.15" cy="1098.77" r="1.25" fill="#bdbdbd" opacity="0.8"/>
<circle cx="668.63" cy="1096.20" r="1.25" fill="#bdbdbd" opacity="0.8"/>
<circle cx="663.13" cy="1096.92" r="1.25" fill="#bdbdbd" opacity="0.8"/>
<circle cx="668.37" cy="1078.04" r="1.25" fill="#bdbdbd" opacity="0.8"/>
<circle cx="666.31" cy="1087.80" r="1.25" fill="#bdbdbd" opacity="0.8"/>
<circle cx="662.34" cy="1095.98" r="1.25" fill="#bdbdbd" opacity="0.8"/>
<circle cx="669.21" cy="1065.73" r="1.25" fill="#bdbdbd" opacity="0.8"/>
<circle cx="663.05" cy="1083.52" r="1.25" fill="#bdbdbd" opacity="0.8"/>
<circle cx="666.64" cy="1099.16" r="1.25" fill="#bdbdbd" opacity="0.8"/>
<circle cx="668.23" cy="1098.10" r="1.25" fill="#bdbdbd" opacity="0.8"/>
<circle cx="669.94" cy="1095.15" r="1.25" fill="#bdbdbd" opacity="0.8"/>
<circle cx="666.99" cy="1097.27" r="1.25" fill="#bdbdbd" opacity="0.8"/>
<circle cx="664.23" cy="1093.31" r="1.25" fill="#bdbdbd" opacity="0.8"/>
<circle cx="663.74" cy="1094.76" r="1.25" fill="#bdbdbd" opacity="0.8"/>
<circle cx="666.39" cy="1095.23" r="1.25" fill="#bdbdbd" opacity="0.8"/>
<circle cx="668.66" cy="1093.68" r="1.25" fill="#bdbdbd" opacity="0.8"/>
<circle cx="667.04" cy="1075.45" r="1.25" fill="#bdbdbd" opacity="0.8"/>
<circle cx="667.11" cy="1096.79" r="1.25" fill="#bdbdbd" opacity="0.8"/>
<circle cx="670.69" cy="1097.46" r="1.25" fill="#bdbdbd" opacity="0.8"/>
<circle cx="664.61" cy="1099.13" r="1.25" fill="#bdbdbd" opacity="0.8"/>
<circle cx="667.65" cy="1069.75" r="1.25" fill="#bdbdbd" opacity="0.8"/>
<circle cx="662.11" cy="1094.57" r="1.25" fill="#bdbdbd" opacity="0.8"/>
<line x1="667.00" y1="992.71" x2="667.00" y2="1067.95" stroke="#b8b8b8" stroke-width="1" stroke-linecap="butt"/>
<line x1="664.20" y1="992.71" x2="669.80" y2="992.71" stroke="#b8b8b8" stroke-width="1.1" stroke-linecap="butt"/>
<rect x="660.50" y="1067.95" width="13.00" height="26.65" fill="none" stroke="#b8b8b8" stroke-width="1" />
<line x1="660.50" y1="1089.89" x2="673.50" y2="1089.89" stroke="#b8b8b8" stroke-width="1" stroke-linecap="butt"/>
<line x1="667.00" y1="1099.30" x2="667.00" y2="1103.80" stroke="#1a1a1a" stroke-width="1.6" stroke-linecap="butt"/>
<text x="667.00" y="1116.50" text-anchor="middle" fill="#1a1a1a" style="font-size:12.5px">-</text>
<circle cx="689.04" cy="1097.07" r="1.25" fill="#f2a090" opacity="0.8"/>
<circle cx="687.53" cy="1098.40" r="1.25" fill="#f2a090" opacity="0.8"/>
<circle cx="688.18" cy="1097.29" r="1.25" fill="#f2a090" opacity="0.8"/>
<circle cx="681.38" cy="1097.94" r="1.25" fill="#f2a090" opacity="0.8"/>
<circle cx="690.26" cy="1096.84" r="1.25" fill="#f2a090" opacity="0.8"/>
<circle cx="685.15" cy="1099.10" r="1.25" fill="#f2a090" opacity="0.8"/>
<circle cx="686.88" cy="1072.33" r="1.25" fill="#f2a090" opacity="0.8"/>
<circle cx="687.19" cy="1099.12" r="1.25" fill="#f2a090" opacity="0.8"/>
<circle cx="682.45" cy="1095.12" r="1.25" fill="#f2a090" opacity="0.8"/>
<circle cx="681.21" cy="1097.68" r="1.25" fill="#f2a090" opacity="0.8"/>
<circle cx="687.99" cy="1089.97" r="1.25" fill="#f2a090" opacity="0.8"/>
<circle cx="686.58" cy="1073.36" r="1.25" fill="#f2a090" opacity="0.8"/>
<circle cx="689.69" cy="1092.81" r="1.25" fill="#f2a090" opacity="0.8"/>
<circle cx="689.97" cy="1097.20" r="1.25" fill="#f2a090" opacity="0.8"/>
<circle cx="685.67" cy="1053.90" r="1.25" fill="#f2a090" opacity="0.8"/>
<circle cx="686.52" cy="1083.87" r="1.25" fill="#f2a090" opacity="0.8"/>
<circle cx="687.15" cy="1085.79" r="1.25" fill="#f2a090" opacity="0.8"/>
<circle cx="687.13" cy="1086.07" r="1.25" fill="#f2a090" opacity="0.8"/>
<circle cx="682.19" cy="1091.83" r="1.25" fill="#f2a090" opacity="0.8"/>
<circle cx="683.57" cy="1094.72" r="1.25" fill="#f2a090" opacity="0.8"/>
<circle cx="681.83" cy="1086.19" r="1.25" fill="#f2a090" opacity="0.8"/>
<circle cx="685.13" cy="1086.00" r="1.25" fill="#f2a090" opacity="0.8"/>
<circle cx="684.76" cy="1070.41" r="1.25" fill="#f2a090" opacity="0.8"/>
<circle cx="682.02" cy="1083.77" r="1.25" fill="#f2a090" opacity="0.8"/>
<circle cx="689.21" cy="1097.56" r="1.25" fill="#f2a090" opacity="0.8"/>
<circle cx="683.06" cy="1079.88" r="1.25" fill="#f2a090" opacity="0.8"/>
<circle cx="688.14" cy="1093.13" r="1.25" fill="#f2a090" opacity="0.8"/>
<circle cx="687.39" cy="1098.32" r="1.25" fill="#f2a090" opacity="0.8"/>
<circle cx="689.78" cy="1085.89" r="1.25" fill="#f2a090" opacity="0.8"/>
<circle cx="686.70" cy="1032.93" r="1.25" fill="#f2a090" opacity="0.8"/>
<circle cx="688.85" cy="1097.89" r="1.25" fill="#f2a090" opacity="0.8"/>
<circle cx="683.01" cy="1097.33" r="1.25" fill="#f2a090" opacity="0.8"/>
<circle cx="685.35" cy="1080.22" r="1.25" fill="#f2a090" opacity="0.8"/>
<circle cx="689.41" cy="1093.08" r="1.25" fill="#f2a090" opacity="0.8"/>
<circle cx="683.59" cy="1078.06" r="1.25" fill="#f2a090" opacity="0.8"/>
<circle cx="689.85" cy="1078.81" r="1.25" fill="#f2a090" opacity="0.8"/>
<circle cx="682.67" cy="1086.32" r="1.25" fill="#f2a090" opacity="0.8"/>
<circle cx="686.01" cy="1090.70" r="1.25" fill="#f2a090" opacity="0.8"/>
<circle cx="687.99" cy="1095.52" r="1.25" fill="#f2a090" opacity="0.8"/>
<circle cx="681.81" cy="1097.88" r="1.25" fill="#f2a090" opacity="0.8"/>
<circle cx="684.14" cy="1065.43" r="1.25" fill="#f2a090" opacity="0.8"/>
<circle cx="688.45" cy="1097.49" r="1.25" fill="#f2a090" opacity="0.8"/>
<circle cx="684.85" cy="1081.05" r="1.25" fill="#f2a090" opacity="0.8"/>
<circle cx="680.35" cy="1091.74" r="1.25" fill="#f2a090" opacity="0.8"/>
<circle cx="689.83" cy="1099.13" r="1.25" fill="#f2a090" opacity="0.8"/>
<circle cx="687.09" cy="1065.24" r="1.25" fill="#f2a090" opacity="0.8"/>
<circle cx="684.46" cy="1086.18" r="1.25" fill="#f2a090" opacity="0.8"/>
<circle cx="687.83" cy="1095.22" r="1.25" fill="#f2a090" opacity="0.8"/>
<circle cx="681.51" cy="1081.67" r="1.25" fill="#f2a090" opacity="0.8"/>
<circle cx="680.72" cy="1097.90" r="1.25" fill="#f2a090" opacity="0.8"/>
<circle cx="685.23" cy="1085.52" r="1.25" fill="#f2a090" opacity="0.8"/>
<circle cx="685.42" cy="1098.41" r="1.25" fill="#f2a090" opacity="0.8"/>
<circle cx="687.56" cy="1068.05" r="1.25" fill="#f2a090" opacity="0.8"/>
<circle cx="686.74" cy="1084.47" r="1.25" fill="#f2a090" opacity="0.8"/>
<circle cx="685.88" cy="1096.82" r="1.25" fill="#f2a090" opacity="0.8"/>
<circle cx="689.94" cy="1092.65" r="1.25" fill="#f2a090" opacity="0.8"/>
<circle cx="680.18" cy="1099.02" r="1.25" fill="#f2a090" opacity="0.8"/>
<circle cx="680.73" cy="1098.93" r="1.25" fill="#f2a090" opacity="0.8"/>
<circle cx="686.88" cy="1095.01" r="1.25" fill="#f2a090" opacity="0.8"/>
<circle cx="688.32" cy="1083.50" r="1.25" fill="#f2a090" opacity="0.8"/>
<circle cx="684.48" cy="1098.34" r="1.25" fill="#f2a090" opacity="0.8"/>
<circle cx="683.76" cy="1089.33" r="1.25" fill="#f2a090" opacity="0.8"/>
<circle cx="681.91" cy="1095.72" r="1.25" fill="#f2a090" opacity="0.8"/>
<circle cx="681.16" cy="1094.51" r="1.25" fill="#f2a090" opacity="0.8"/>
<circle cx="686.28" cy="1024.78" r="1.25" fill="#f2a090" opacity="0.8"/>
<circle cx="681.97" cy="1065.73" r="1.25" fill="#f2a090" opacity="0.8"/>
<circle cx="687.06" cy="1097.94" r="1.25" fill="#f2a090" opacity="0.8"/>
<circle cx="684.72" cy="1057.05" r="1.25" fill="#f2a090" opacity="0.8"/>
<circle cx="684.31" cy="1095.06" r="1.25" fill="#f2a090" opacity="0.8"/>
<circle cx="682.13" cy="1099.26" r="1.25" fill="#f2a090" opacity="0.8"/>
<circle cx="681.55" cy="1097.49" r="1.25" fill="#f2a090" opacity="0.8"/>
<circle cx="686.48" cy="1058.43" r="1.25" fill="#f2a090" opacity="0.8"/>
<circle cx="684.71" cy="1079.19" r="1.25" fill="#f2a090" opacity="0.8"/>
<circle cx="684.04" cy="1090.67" r="1.25" fill="#f2a090" opacity="0.8"/>
<circle cx="688.40" cy="1092.26" r="1.25" fill="#f2a090" opacity="0.8"/>
<circle cx="682.02" cy="1086.46" r="1.25" fill="#f2a090" opacity="0.8"/>
<circle cx="687.04" cy="1095.82" r="1.25" fill="#f2a090" opacity="0.8"/>
<circle cx="685.79" cy="1091.29" r="1.25" fill="#f2a090" opacity="0.8"/>
<circle cx="683.06" cy="1098.77" r="1.25" fill="#f2a090" opacity="0.8"/>
<circle cx="689.56" cy="1092.75" r="1.25" fill="#f2a090" opacity="0.8"/>
<circle cx="682.46" cy="1058.34" r="1.25" fill="#f2a090" opacity="0.8"/>
<circle cx="682.15" cy="1093.02" r="1.25" fill="#f2a090" opacity="0.8"/>
<circle cx="686.43" cy="1093.27" r="1.25" fill="#f2a090" opacity="0.8"/>
<circle cx="686.23" cy="1084.27" r="1.25" fill="#f2a090" opacity="0.8"/>
<circle cx="686.31" cy="1088.33" r="1.25" fill="#f2a090" opacity="0.8"/>
<circle cx="682.05" cy="1097.02" r="1.25" fill="#f2a090" opacity="0.8"/>
<circle cx="681.01" cy="1091.61" r="1.25" fill="#f2a090" opacity="0.8"/>
<circle cx="686.71" cy="1093.92" r="1.25" fill="#f2a090" opacity="0.8"/>
<circle cx="689.57" cy="1075.92" r="1.25" fill="#f2a090" opacity="0.8"/>
<circle cx="681.79" cy="1089.61" r="1.25" fill="#f2a090" opacity="0.8"/>
<circle cx="687.22" cy="1089.75" r="1.25" fill="#f2a090" opacity="0.8"/>
<circle cx="688.93" cy="1096.52" r="1.25" fill="#f2a090" opacity="0.8"/>
<circle cx="686.98" cy="1096.89" r="1.25" fill="#f2a090" opacity="0.8"/>
<circle cx="688.14" cy="1065.80" r="1.25" fill="#f2a090" opacity="0.8"/>
<circle cx="683.43" cy="1083.41" r="1.25" fill="#f2a090" opacity="0.8"/>
<circle cx="689.48" cy="1093.24" r="1.25" fill="#f2a090" opacity="0.8"/>
<circle cx="682.35" cy="1091.69" r="1.25" fill="#f2a090" opacity="0.8"/>
<circle cx="680.88" cy="1094.63" r="1.25" fill="#f2a090" opacity="0.8"/>
<circle cx="684.47" cy="1063.73" r="1.25" fill="#f2a090" opacity="0.8"/>
<circle cx="680.87" cy="1091.89" r="1.25" fill="#f2a090" opacity="0.8"/>
<circle cx="681.98" cy="1088.25" r="1.25" fill="#f2a090" opacity="0.8"/>
<circle cx="688.33" cy="1096.75" r="1.25" fill="#f2a090" opacity="0.8"/>
<circle cx="686.00" cy="1091.85" r="1.25" fill="#f2a090" opacity="0.8"/>
<circle cx="680.87" cy="1095.73" r="1.25" fill="#f2a090" opacity="0.8"/>
<circle cx="684.17" cy="1094.73" r="1.25" fill="#f2a090" opacity="0.8"/>
<circle cx="687.26" cy="1074.06" r="1.25" fill="#f2a090" opacity="0.8"/>
<circle cx="685.93" cy="1092.37" r="1.25" fill="#f2a090" opacity="0.8"/>
<circle cx="687.78" cy="1085.54" r="1.25" fill="#f2a090" opacity="0.8"/>
<circle cx="683.37" cy="1083.27" r="1.25" fill="#f2a090" opacity="0.8"/>
<circle cx="683.16" cy="1093.64" r="1.25" fill="#f2a090" opacity="0.8"/>
<line x1="685.40" y1="983.30" x2="685.40" y2="1067.95" stroke="#f0a08e" stroke-width="1" stroke-linecap="butt"/>
<line x1="682.60" y1="983.30" x2="688.20" y2="983.30" stroke="#f0a08e" stroke-width="1.1" stroke-linecap="butt"/>
<rect x="678.90" y="1067.95" width="13.00" height="28.21" fill="none" stroke="#f0a08e" stroke-width="1" />
<line x1="678.90" y1="1089.89" x2="691.90" y2="1089.89" stroke="#f0a08e" stroke-width="1" stroke-linecap="butt"/>
<line x1="685.40" y1="1099.30" x2="685.40" y2="1103.80" stroke="#1a1a1a" stroke-width="1.6" stroke-linecap="butt"/>
<text x="685.40" y="1116.50" text-anchor="middle" fill="#1a1a1a" style="font-size:12.5px">+</text>
<circle cx="707.20" cy="1093.96" r="1.25" fill="#cfcfcf" opacity="0.8"/>
<circle cx="699.13" cy="1092.56" r="1.25" fill="#cfcfcf" opacity="0.8"/>
<circle cx="702.29" cy="1084.21" r="1.25" fill="#cfcfcf" opacity="0.8"/>
<circle cx="707.76" cy="1085.24" r="1.25" fill="#cfcfcf" opacity="0.8"/>
<circle cx="704.32" cy="1072.97" r="1.25" fill="#cfcfcf" opacity="0.8"/>
<circle cx="708.28" cy="1099.11" r="1.25" fill="#cfcfcf" opacity="0.8"/>
<circle cx="704.04" cy="1098.73" r="1.25" fill="#cfcfcf" opacity="0.8"/>
<circle cx="699.08" cy="1098.89" r="1.25" fill="#cfcfcf" opacity="0.8"/>
<circle cx="705.37" cy="1077.22" r="1.25" fill="#cfcfcf" opacity="0.8"/>
<circle cx="700.68" cy="1088.50" r="1.25" fill="#cfcfcf" opacity="0.8"/>
<circle cx="701.68" cy="1096.10" r="1.25" fill="#cfcfcf" opacity="0.8"/>
<circle cx="701.37" cy="1080.78" r="1.25" fill="#cfcfcf" opacity="0.8"/>
<circle cx="707.32" cy="1089.40" r="1.25" fill="#cfcfcf" opacity="0.8"/>
<circle cx="702.76" cy="1098.17" r="1.25" fill="#cfcfcf" opacity="0.8"/>
<circle cx="704.71" cy="1096.07" r="1.25" fill="#cfcfcf" opacity="0.8"/>
<circle cx="708.66" cy="1094.80" r="1.25" fill="#cfcfcf" opacity="0.8"/>
<circle cx="707.61" cy="1094.78" r="1.25" fill="#cfcfcf" opacity="0.8"/>
<circle cx="703.77" cy="1093.47" r="1.25" fill="#cfcfcf" opacity="0.8"/>
<circle cx="705.95" cy="1083.77" r="1.25" fill="#cfcfcf" opacity="0.8"/>
<circle cx="701.19" cy="1087.18" r="1.25" fill="#cfcfcf" opacity="0.8"/>
<circle cx="699.43" cy="1092.49" r="1.25" fill="#cfcfcf" opacity="0.8"/>
<circle cx="703.41" cy="1096.48" r="1.25" fill="#cfcfcf" opacity="0.8"/>
<circle cx="706.89" cy="1074.40" r="1.25" fill="#cfcfcf" opacity="0.8"/>
<circle cx="706.13" cy="1095.82" r="1.25" fill="#cfcfcf" opacity="0.8"/>
<circle cx="704.94" cy="1051.82" r="1.25" fill="#cfcfcf" opacity="0.8"/>
<circle cx="703.37" cy="1076.58" r="1.25" fill="#cfcfcf" opacity="0.8"/>
<circle cx="704.82" cy="1080.92" r="1.25" fill="#cfcfcf" opacity="0.8"/>
<circle cx="703.39" cy="1090.45" r="1.25" fill="#cfcfcf" opacity="0.8"/>
<circle cx="703.88" cy="1089.31" r="1.25" fill="#cfcfcf" opacity="0.8"/>
<circle cx="699.21" cy="1090.10" r="1.25" fill="#cfcfcf" opacity="0.8"/>
<circle cx="700.79" cy="1085.05" r="1.25" fill="#cfcfcf" opacity="0.8"/>
<circle cx="708.13" cy="1097.98" r="1.25" fill="#cfcfcf" opacity="0.8"/>
<circle cx="706.49" cy="1079.37" r="1.25" fill="#cfcfcf" opacity="0.8"/>
<circle cx="700.20" cy="1093.04" r="1.25" fill="#cfcfcf" opacity="0.8"/>
<circle cx="699.89" cy="1093.98" r="1.25" fill="#cfcfcf" opacity="0.8"/>
<circle cx="701.24" cy="1092.65" r="1.25" fill="#cfcfcf" opacity="0.8"/>
<circle cx="707.93" cy="1092.95" r="1.25" fill="#cfcfcf" opacity="0.8"/>
<circle cx="701.16" cy="1066.96" r="1.25" fill="#cfcfcf" opacity="0.8"/>
<circle cx="707.39" cy="1089.04" r="1.25" fill="#cfcfcf" opacity="0.8"/>
<circle cx="704.06" cy="1055.05" r="1.25" fill="#cfcfcf" opacity="0.8"/>
<circle cx="700.19" cy="1083.55" r="1.25" fill="#cfcfcf" opacity="0.8"/>
<circle cx="706.24" cy="1095.26" r="1.25" fill="#cfcfcf" opacity="0.8"/>
<circle cx="700.67" cy="1075.48" r="1.25" fill="#cfcfcf" opacity="0.8"/>
<circle cx="706.80" cy="1077.15" r="1.25" fill="#cfcfcf" opacity="0.8"/>
<circle cx="705.18" cy="1098.23" r="1.25" fill="#cfcfcf" opacity="0.8"/>
<circle cx="707.22" cy="1095.33" r="1.25" fill="#cfcfcf" opacity="0.8"/>
<circle cx="707.95" cy="1093.85" r="1.25" fill="#cfcfcf" opacity="0.8"/>
<circle cx="701.51" cy="1085.24" r="1.25" fill="#cfcfcf" opacity="0.8"/>
<circle cx="704.44" cy="1091.66" r="1.25" fill="#cfcfcf" opacity="0.8"/>
<circle cx="707.31" cy="1093.26" r="1.25" fill="#cfcfcf" opacity="0.8"/>
<circle cx="707.99" cy="1097.71" r="1.25" fill="#cfcfcf" opacity="0.8"/>
<circle cx="702.29" cy="1069.39" r="1.25" fill="#cfcfcf" opacity="0.8"/>
<circle cx="705.07" cy="1086.49" r="1.25" fill="#cfcfcf" opacity="0.8"/>
<circle cx="701.10" cy="1072.19" r="1.25" fill="#cfcfcf" opacity="0.8"/>
<circle cx="705.98" cy="1077.48" r="1.25" fill="#cfcfcf" opacity="0.8"/>
<circle cx="703.66" cy="1083.71" r="1.25" fill="#cfcfcf" opacity="0.8"/>
<circle cx="698.91" cy="1090.50" r="1.25" fill="#cfcfcf" opacity="0.8"/>
<circle cx="705.75" cy="1097.77" r="1.25" fill="#cfcfcf" opacity="0.8"/>
<circle cx="706.06" cy="1073.52" r="1.25" fill="#cfcfcf" opacity="0.8"/>
<circle cx="701.83" cy="1097.65" r="1.25" fill="#cfcfcf" opacity="0.8"/>
<circle cx="703.55" cy="1089.79" r="1.25" fill="#cfcfcf" opacity="0.8"/>
<circle cx="705.38" cy="1079.15" r="1.25" fill="#cfcfcf" opacity="0.8"/>
<circle cx="706.90" cy="1074.04" r="1.25" fill="#cfcfcf" opacity="0.8"/>
<circle cx="706.52" cy="1082.77" r="1.25" fill="#cfcfcf" opacity="0.8"/>
<circle cx="701.58" cy="1065.56" r="1.25" fill="#cfcfcf" opacity="0.8"/>
<circle cx="708.03" cy="1093.04" r="1.25" fill="#cfcfcf" opacity="0.8"/>
<circle cx="702.20" cy="1094.74" r="1.25" fill="#cfcfcf" opacity="0.8"/>
<circle cx="705.65" cy="1098.23" r="1.25" fill="#cfcfcf" opacity="0.8"/>
<circle cx="701.07" cy="1076.43" r="1.25" fill="#cfcfcf" opacity="0.8"/>
<circle cx="700.13" cy="1096.21" r="1.25" fill="#cfcfcf" opacity="0.8"/>
<circle cx="701.22" cy="1078.86" r="1.25" fill="#cfcfcf" opacity="0.8"/>
<circle cx="707.60" cy="1074.91" r="1.25" fill="#cfcfcf" opacity="0.8"/>
<circle cx="708.08" cy="1087.41" r="1.25" fill="#cfcfcf" opacity="0.8"/>
<circle cx="703.79" cy="1075.71" r="1.25" fill="#cfcfcf" opacity="0.8"/>
<circle cx="700.20" cy="1089.34" r="1.25" fill="#cfcfcf" opacity="0.8"/>
<circle cx="707.40" cy="1073.76" r="1.25" fill="#cfcfcf" opacity="0.8"/>
<circle cx="700.66" cy="1098.07" r="1.25" fill="#cfcfcf" opacity="0.8"/>
<circle cx="705.97" cy="1098.17" r="1.25" fill="#cfcfcf" opacity="0.8"/>
<circle cx="698.47" cy="1096.16" r="1.25" fill="#cfcfcf" opacity="0.8"/>
<circle cx="702.30" cy="1049.79" r="1.25" fill="#cfcfcf" opacity="0.8"/>
<circle cx="706.00" cy="1090.24" r="1.25" fill="#cfcfcf" opacity="0.8"/>
<circle cx="699.86" cy="1070.61" r="1.25" fill="#cfcfcf" opacity="0.8"/>
<circle cx="702.17" cy="1097.98" r="1.25" fill="#cfcfcf" opacity="0.8"/>
<circle cx="706.93" cy="1088.77" r="1.25" fill="#cfcfcf" opacity="0.8"/>
<circle cx="707.18" cy="1074.67" r="1.25" fill="#cfcfcf" opacity="0.8"/>
<circle cx="701.27" cy="1086.05" r="1.25" fill="#cfcfcf" opacity="0.8"/>
<circle cx="705.28" cy="1075.58" r="1.25" fill="#cfcfcf" opacity="0.8"/>
<circle cx="701.54" cy="1088.73" r="1.25" fill="#cfcfcf" opacity="0.8"/>
<circle cx="708.53" cy="1095.75" r="1.25" fill="#cfcfcf" opacity="0.8"/>
<circle cx="703.73" cy="1090.59" r="1.25" fill="#cfcfcf" opacity="0.8"/>
<circle cx="701.17" cy="1096.14" r="1.25" fill="#cfcfcf" opacity="0.8"/>
<circle cx="706.44" cy="1097.44" r="1.25" fill="#cfcfcf" opacity="0.8"/>
<circle cx="702.28" cy="1088.76" r="1.25" fill="#cfcfcf" opacity="0.8"/>
<circle cx="704.53" cy="1095.22" r="1.25" fill="#cfcfcf" opacity="0.8"/>
<circle cx="707.38" cy="1094.67" r="1.25" fill="#cfcfcf" opacity="0.8"/>
<circle cx="703.11" cy="1057.54" r="1.25" fill="#cfcfcf" opacity="0.8"/>
<circle cx="702.86" cy="1081.41" r="1.25" fill="#cfcfcf" opacity="0.8"/>
<circle cx="703.25" cy="1019.53" r="1.25" fill="#cfcfcf" opacity="0.8"/>
<circle cx="704.99" cy="1084.51" r="1.25" fill="#cfcfcf" opacity="0.8"/>
<circle cx="701.50" cy="1058.30" r="1.25" fill="#cfcfcf" opacity="0.8"/>
<line x1="703.80" y1="992.71" x2="703.80" y2="1071.09" stroke="#c4c4c4" stroke-width="1" stroke-linecap="butt"/>
<line x1="701.00" y1="992.71" x2="706.60" y2="992.71" stroke="#c4c4c4" stroke-width="1.1" stroke-linecap="butt"/>
<rect x="697.30" y="1071.09" width="13.00" height="23.51" fill="none" stroke="#c4c4c4" stroke-width="1" />
<line x1="697.30" y1="1089.89" x2="710.30" y2="1089.89" stroke="#c4c4c4" stroke-width="1" stroke-linecap="butt"/>
<line x1="703.80" y1="1099.30" x2="703.80" y2="1103.80" stroke="#1a1a1a" stroke-width="1.6" stroke-linecap="butt"/>
<text x="703.80" y="1116.50" text-anchor="middle" fill="#1a1a1a" style="font-size:12.5px">-</text>
<circle cx="723.05" cy="1097.45" r="1.25" fill="#f7cfc8" opacity="0.8"/>
<circle cx="724.31" cy="1088.55" r="1.25" fill="#f7cfc8" opacity="0.8"/>
<circle cx="722.94" cy="1097.71" r="1.25" fill="#f7cfc8" opacity="0.8"/>
<circle cx="726.48" cy="1088.97" r="1.25" fill="#f7cfc8" opacity="0.8"/>
<circle cx="722.62" cy="1093.57" r="1.25" fill="#f7cfc8" opacity="0.8"/>
<circle cx="723.21" cy="1097.32" r="1.25" fill="#f7cfc8" opacity="0.8"/>
<circle cx="725.54" cy="1096.57" r="1.25" fill="#f7cfc8" opacity="0.8"/>
<circle cx="725.54" cy="1084.94" r="1.25" fill="#f7cfc8" opacity="0.8"/>
<circle cx="726.95" cy="1098.41" r="1.25" fill="#f7cfc8" opacity="0.8"/>
<circle cx="726.52" cy="1099.12" r="1.25" fill="#f7cfc8" opacity="0.8"/>
<circle cx="718.82" cy="1097.46" r="1.25" fill="#f7cfc8" opacity="0.8"/>
<circle cx="721.64" cy="1098.17" r="1.25" fill="#f7cfc8" opacity="0.8"/>
<circle cx="718.48" cy="1092.81" r="1.25" fill="#f7cfc8" opacity="0.8"/>
<circle cx="720.69" cy="1099.04" r="1.25" fill="#f7cfc8" opacity="0.8"/>
<circle cx="720.21" cy="1093.91" r="1.25" fill="#f7cfc8" opacity="0.8"/>
<circle cx="718.70" cy="1097.97" r="1.25" fill="#f7cfc8" opacity="0.8"/>
<circle cx="727.70" cy="1098.07" r="1.25" fill="#f7cfc8" opacity="0.8"/>
<circle cx="717.99" cy="1093.64" r="1.25" fill="#f7cfc8" opacity="0.8"/>
<circle cx="721.47" cy="1088.69" r="1.25" fill="#f7cfc8" opacity="0.8"/>
<circle cx="722.69" cy="1093.06" r="1.25" fill="#f7cfc8" opacity="0.8"/>
<circle cx="722.98" cy="1098.41" r="1.25" fill="#f7cfc8" opacity="0.8"/>
<circle cx="727.13" cy="1096.60" r="1.25" fill="#f7cfc8" opacity="0.8"/>
<circle cx="719.77" cy="1096.18" r="1.25" fill="#f7cfc8" opacity="0.8"/>
<circle cx="718.54" cy="1096.60" r="1.25" fill="#f7cfc8" opacity="0.8"/>
<circle cx="723.57" cy="1099.04" r="1.25" fill="#f7cfc8" opacity="0.8"/>
<circle cx="724.48" cy="1083.26" r="1.25" fill="#f7cfc8" opacity="0.8"/>
<circle cx="717.92" cy="1096.68" r="1.25" fill="#f7cfc8" opacity="0.8"/>
<circle cx="725.74" cy="1097.97" r="1.25" fill="#f7cfc8" opacity="0.8"/>
<circle cx="723.17" cy="1092.47" r="1.25" fill="#f7cfc8" opacity="0.8"/>
<circle cx="720.96" cy="1093.32" r="1.25" fill="#f7cfc8" opacity="0.8"/>
<circle cx="718.49" cy="1095.58" r="1.25" fill="#f7cfc8" opacity="0.8"/>
<circle cx="723.71" cy="1096.86" r="1.25" fill="#f7cfc8" opacity="0.8"/>
<circle cx="719.70" cy="1086.11" r="1.25" fill="#f7cfc8" opacity="0.8"/>
<circle cx="722.52" cy="1094.68" r="1.25" fill="#f7cfc8" opacity="0.8"/>
<circle cx="724.23" cy="1087.19" r="1.25" fill="#f7cfc8" opacity="0.8"/>
<circle cx="717.81" cy="1096.15" r="1.25" fill="#f7cfc8" opacity="0.8"/>
<circle cx="719.92" cy="1084.06" r="1.25" fill="#f7cfc8" opacity="0.8"/>
<circle cx="725.95" cy="1092.77" r="1.25" fill="#f7cfc8" opacity="0.8"/>
<circle cx="724.35" cy="1077.86" r="1.25" fill="#f7cfc8" opacity="0.8"/>
<circle cx="722.31" cy="1094.50" r="1.25" fill="#f7cfc8" opacity="0.8"/>
<circle cx="718.73" cy="1093.38" r="1.25" fill="#f7cfc8" opacity="0.8"/>
<circle cx="718.79" cy="1082.54" r="1.25" fill="#f7cfc8" opacity="0.8"/>
<circle cx="726.95" cy="1083.30" r="1.25" fill="#f7cfc8" opacity="0.8"/>
<circle cx="719.63" cy="1098.44" r="1.25" fill="#f7cfc8" opacity="0.8"/>
<circle cx="717.98" cy="1088.20" r="1.25" fill="#f7cfc8" opacity="0.8"/>
<circle cx="722.31" cy="1088.37" r="1.25" fill="#f7cfc8" opacity="0.8"/>
<circle cx="723.62" cy="1088.71" r="1.25" fill="#f7cfc8" opacity="0.8"/>
<circle cx="720.05" cy="1090.07" r="1.25" fill="#f7cfc8" opacity="0.8"/>
<circle cx="719.74" cy="1092.96" r="1.25" fill="#f7cfc8" opacity="0.8"/>
<circle cx="717.91" cy="1093.97" r="1.25" fill="#f7cfc8" opacity="0.8"/>
<circle cx="725.72" cy="1085.41" r="1.25" fill="#f7cfc8" opacity="0.8"/>
<circle cx="717.37" cy="1097.00" r="1.25" fill="#f7cfc8" opacity="0.8"/>
<circle cx="718.77" cy="1091.80" r="1.25" fill="#f7cfc8" opacity="0.8"/>
<circle cx="719.99" cy="1090.87" r="1.25" fill="#f7cfc8" opacity="0.8"/>
<circle cx="727.09" cy="1090.13" r="1.25" fill="#f7cfc8" opacity="0.8"/>
<circle cx="724.64" cy="1077.19" r="1.25" fill="#f7cfc8" opacity="0.8"/>
<circle cx="723.23" cy="1095.84" r="1.25" fill="#f7cfc8" opacity="0.8"/>
<circle cx="720.52" cy="1098.39" r="1.25" fill="#f7cfc8" opacity="0.8"/>
<circle cx="720.87" cy="1094.71" r="1.25" fill="#f7cfc8" opacity="0.8"/>
<circle cx="720.76" cy="1082.73" r="1.25" fill="#f7cfc8" opacity="0.8"/>
<circle cx="726.70" cy="1091.38" r="1.25" fill="#f7cfc8" opacity="0.8"/>
<circle cx="726.19" cy="1089.85" r="1.25" fill="#f7cfc8" opacity="0.8"/>
<circle cx="724.42" cy="1088.88" r="1.25" fill="#f7cfc8" opacity="0.8"/>
<circle cx="717.55" cy="1099.26" r="1.25" fill="#f7cfc8" opacity="0.8"/>
<circle cx="723.41" cy="1098.07" r="1.25" fill="#f7cfc8" opacity="0.8"/>
<circle cx="723.54" cy="1080.66" r="1.25" fill="#f7cfc8" opacity="0.8"/>
<circle cx="725.43" cy="1096.74" r="1.25" fill="#f7cfc8" opacity="0.8"/>
<circle cx="722.55" cy="1099.29" r="1.25" fill="#f7cfc8" opacity="0.8"/>
<circle cx="720.66" cy="1097.68" r="1.25" fill="#f7cfc8" opacity="0.8"/>
<circle cx="720.63" cy="1095.91" r="1.25" fill="#f7cfc8" opacity="0.8"/>
<circle cx="726.83" cy="1098.19" r="1.25" fill="#f7cfc8" opacity="0.8"/>
<circle cx="720.50" cy="1095.91" r="1.25" fill="#f7cfc8" opacity="0.8"/>
<circle cx="726.74" cy="1093.46" r="1.25" fill="#f7cfc8" opacity="0.8"/>
<circle cx="721.70" cy="1094.34" r="1.25" fill="#f7cfc8" opacity="0.8"/>
<circle cx="721.01" cy="1079.04" r="1.25" fill="#f7cfc8" opacity="0.8"/>
<circle cx="719.86" cy="1096.58" r="1.25" fill="#f7cfc8" opacity="0.8"/>
<circle cx="720.18" cy="1098.62" r="1.25" fill="#f7cfc8" opacity="0.8"/>
<circle cx="723.19" cy="1090.57" r="1.25" fill="#f7cfc8" opacity="0.8"/>
<circle cx="719.26" cy="1085.12" r="1.25" fill="#f7cfc8" opacity="0.8"/>
<circle cx="724.47" cy="1098.45" r="1.25" fill="#f7cfc8" opacity="0.8"/>
<circle cx="727.37" cy="1097.91" r="1.25" fill="#f7cfc8" opacity="0.8"/>
<circle cx="718.34" cy="1079.36" r="1.25" fill="#f7cfc8" opacity="0.8"/>
<circle cx="725.16" cy="1095.79" r="1.25" fill="#f7cfc8" opacity="0.8"/>
<circle cx="718.43" cy="1092.07" r="1.25" fill="#f7cfc8" opacity="0.8"/>
<circle cx="724.48" cy="1096.61" r="1.25" fill="#f7cfc8" opacity="0.8"/>
<circle cx="724.57" cy="1079.81" r="1.25" fill="#f7cfc8" opacity="0.8"/>
<circle cx="725.60" cy="1094.59" r="1.25" fill="#f7cfc8" opacity="0.8"/>
<circle cx="721.23" cy="1098.08" r="1.25" fill="#f7cfc8" opacity="0.8"/>
<circle cx="720.80" cy="1098.93" r="1.25" fill="#f7cfc8" opacity="0.8"/>
<circle cx="724.66" cy="1093.63" r="1.25" fill="#f7cfc8" opacity="0.8"/>
<line x1="722.60" y1="989.57" x2="722.60" y2="1061.68" stroke="#f4c4bc" stroke-width="1" stroke-linecap="butt"/>
<line x1="719.80" y1="989.57" x2="725.40" y2="989.57" stroke="#f4c4bc" stroke-width="1.1" stroke-linecap="butt"/>
<rect x="716.10" y="1061.68" width="13.00" height="34.48" fill="none" stroke="#f4c4bc" stroke-width="1" />
<line x1="716.10" y1="1094.60" x2="729.10" y2="1094.60" stroke="#f4c4bc" stroke-width="1" stroke-linecap="butt"/>
<line x1="722.60" y1="1099.30" x2="722.60" y2="1103.80" stroke="#1a1a1a" stroke-width="1.6" stroke-linecap="butt"/>
<text x="722.60" y="1116.50" text-anchor="middle" fill="#1a1a1a" style="font-size:12.5px">+</text>
<line x1="617.50" y1="1099.30" x2="735.60" y2="1099.30" stroke="#111" stroke-width="2.6" stroke-linecap="butt"/>
<line x1="765.00" y1="973.80" x2="765.00" y2="1098.50" stroke="#2a2a2a" stroke-width="1.6" stroke-linecap="butt"/>
<line x1="761.40" y1="1098.50" x2="765.00" y2="1098.50" stroke="#2a2a2a" stroke-width="1.5" stroke-linecap="butt"/>
<text x="761.50" y="1103.11" text-anchor="end" fill="#222" style="font-size:12.8px">0</text>
<line x1="762.80" y1="1086.10" x2="765.00" y2="1086.10" stroke="#2a2a2a" stroke-width="1.2" stroke-linecap="butt"/>
<line x1="761.40" y1="1073.70" x2="765.00" y2="1073.70" stroke="#2a2a2a" stroke-width="1.5" stroke-linecap="butt"/>
<text x="761.50" y="1078.31" text-anchor="end" fill="#222" style="font-size:12.8px">10</text>
<line x1="762.80" y1="1061.30" x2="765.00" y2="1061.30" stroke="#2a2a2a" stroke-width="1.2" stroke-linecap="butt"/>
<line x1="761.40" y1="1048.90" x2="765.00" y2="1048.90" stroke="#2a2a2a" stroke-width="1.5" stroke-linecap="butt"/>
<text x="761.50" y="1053.51" text-anchor="end" fill="#222" style="font-size:12.8px">20</text>
<line x1="762.80" y1="1036.50" x2="765.00" y2="1036.50" stroke="#2a2a2a" stroke-width="1.2" stroke-linecap="butt"/>
<line x1="761.40" y1="1024.10" x2="765.00" y2="1024.10" stroke="#2a2a2a" stroke-width="1.5" stroke-linecap="butt"/>
<text x="761.50" y="1028.71" text-anchor="end" fill="#222" style="font-size:12.8px">30</text>
<line x1="762.80" y1="1011.70" x2="765.00" y2="1011.70" stroke="#2a2a2a" stroke-width="1.2" stroke-linecap="butt"/>
<line x1="761.40" y1="999.30" x2="765.00" y2="999.30" stroke="#2a2a2a" stroke-width="1.5" stroke-linecap="butt"/>
<text x="761.50" y="1003.91" text-anchor="end" fill="#222" style="font-size:12.8px">40</text>
<line x1="762.80" y1="986.90" x2="765.00" y2="986.90" stroke="#2a2a2a" stroke-width="1.2" stroke-linecap="butt"/>
<line x1="761.40" y1="974.50" x2="765.00" y2="974.50" stroke="#2a2a2a" stroke-width="1.5" stroke-linecap="butt"/>
<text x="761.50" y="979.11" text-anchor="end" fill="#222" style="font-size:12.8px">50</text>
<circle cx="773.99" cy="1064.40" r="1.25" fill="#7a7a7a" opacity="0.8"/>
<circle cx="779.55" cy="1069.88" r="1.25" fill="#7a7a7a" opacity="0.8"/>
<circle cx="776.97" cy="1044.96" r="1.25" fill="#7a7a7a" opacity="0.8"/>
<circle cx="775.90" cy="1068.83" r="1.25" fill="#7a7a7a" opacity="0.8"/>
<circle cx="773.58" cy="1076.16" r="1.25" fill="#7a7a7a" opacity="0.8"/>
<circle cx="777.62" cy="1064.31" r="1.25" fill="#7a7a7a" opacity="0.8"/>
<circle cx="775.70" cy="1088.64" r="1.25" fill="#7a7a7a" opacity="0.8"/>
<circle cx="776.54" cy="1058.85" r="1.25" fill="#7a7a7a" opacity="0.8"/>
<circle cx="778.20" cy="1002.99" r="1.25" fill="#7a7a7a" opacity="0.8"/>
<circle cx="774.92" cy="1044.27" r="1.25" fill="#7a7a7a" opacity="0.8"/>
<circle cx="774.63" cy="1096.17" r="1.25" fill="#7a7a7a" opacity="0.8"/>
<circle cx="778.84" cy="1085.17" r="1.25" fill="#7a7a7a" opacity="0.8"/>
<circle cx="777.22" cy="1046.31" r="1.25" fill="#7a7a7a" opacity="0.8"/>
<circle cx="777.45" cy="1068.16" r="1.25" fill="#7a7a7a" opacity="0.8"/>
<circle cx="777.19" cy="1097.47" r="1.25" fill="#7a7a7a" opacity="0.8"/>
<circle cx="776.05" cy="1091.36" r="1.25" fill="#7a7a7a" opacity="0.8"/>
<circle cx="778.61" cy="1098.24" r="1.25" fill="#7a7a7a" opacity="0.8"/>
<circle cx="775.67" cy="1026.77" r="1.25" fill="#7a7a7a" opacity="0.8"/>
<circle cx="773.06" cy="1072.68" r="1.25" fill="#7a7a7a" opacity="0.8"/>
<circle cx="773.65" cy="1085.59" r="1.25" fill="#7a7a7a" opacity="0.8"/>
<circle cx="777.89" cy="1039.86" r="1.25" fill="#7a7a7a" opacity="0.8"/>
<circle cx="775.96" cy="1030.99" r="1.25" fill="#7a7a7a" opacity="0.8"/>
<circle cx="778.24" cy="1060.73" r="1.25" fill="#7a7a7a" opacity="0.8"/>
<circle cx="780.47" cy="1077.23" r="1.25" fill="#7a7a7a" opacity="0.8"/>
<circle cx="775.23" cy="1069.32" r="1.25" fill="#7a7a7a" opacity="0.8"/>
<circle cx="776.77" cy="1060.92" r="1.25" fill="#7a7a7a" opacity="0.8"/>
<circle cx="778.10" cy="1091.37" r="1.25" fill="#7a7a7a" opacity="0.8"/>
<circle cx="776.35" cy="1097.03" r="1.25" fill="#7a7a7a" opacity="0.8"/>
<circle cx="772.80" cy="1074.29" r="1.25" fill="#7a7a7a" opacity="0.8"/>
<circle cx="773.83" cy="1067.38" r="1.25" fill="#7a7a7a" opacity="0.8"/>
<circle cx="775.72" cy="1067.28" r="1.25" fill="#7a7a7a" opacity="0.8"/>
<circle cx="782.34" cy="1097.61" r="1.25" fill="#7a7a7a" opacity="0.8"/>
<circle cx="773.20" cy="1096.53" r="1.25" fill="#7a7a7a" opacity="0.8"/>
<circle cx="774.70" cy="1077.53" r="1.25" fill="#7a7a7a" opacity="0.8"/>
<circle cx="776.68" cy="1076.00" r="1.25" fill="#7a7a7a" opacity="0.8"/>
<circle cx="777.25" cy="1072.93" r="1.25" fill="#7a7a7a" opacity="0.8"/>
<circle cx="774.07" cy="1088.13" r="1.25" fill="#7a7a7a" opacity="0.8"/>
<circle cx="776.40" cy="1063.21" r="1.25" fill="#7a7a7a" opacity="0.8"/>
<circle cx="780.44" cy="1076.62" r="1.25" fill="#7a7a7a" opacity="0.8"/>
<circle cx="774.46" cy="1098.25" r="1.25" fill="#7a7a7a" opacity="0.8"/>
<circle cx="773.24" cy="1073.84" r="1.25" fill="#7a7a7a" opacity="0.8"/>
<circle cx="776.28" cy="1056.77" r="1.25" fill="#7a7a7a" opacity="0.8"/>
<circle cx="773.93" cy="1087.18" r="1.25" fill="#7a7a7a" opacity="0.8"/>
<circle cx="775.65" cy="1001.78" r="1.25" fill="#7a7a7a" opacity="0.8"/>
<circle cx="777.96" cy="1047.23" r="1.25" fill="#7a7a7a" opacity="0.8"/>
<circle cx="777.56" cy="1030.71" r="1.25" fill="#7a7a7a" opacity="0.8"/>
<circle cx="777.38" cy="1085.82" r="1.25" fill="#7a7a7a" opacity="0.8"/>
<circle cx="775.64" cy="1022.73" r="1.25" fill="#7a7a7a" opacity="0.8"/>
<circle cx="777.69" cy="1042.05" r="1.25" fill="#7a7a7a" opacity="0.8"/>
<circle cx="781.69" cy="1091.98" r="1.25" fill="#7a7a7a" opacity="0.8"/>
<circle cx="772.05" cy="1087.90" r="1.25" fill="#7a7a7a" opacity="0.8"/>
<circle cx="777.05" cy="1089.24" r="1.25" fill="#7a7a7a" opacity="0.8"/>
<circle cx="777.90" cy="1097.66" r="1.25" fill="#7a7a7a" opacity="0.8"/>
<circle cx="775.39" cy="1081.00" r="1.25" fill="#7a7a7a" opacity="0.8"/>
<circle cx="777.64" cy="1056.56" r="1.25" fill="#7a7a7a" opacity="0.8"/>
<circle cx="777.92" cy="1001.78" r="1.25" fill="#7a7a7a" opacity="0.8"/>
<circle cx="778.78" cy="1039.96" r="1.25" fill="#7a7a7a" opacity="0.8"/>
<circle cx="776.84" cy="1042.05" r="1.25" fill="#7a7a7a" opacity="0.8"/>
<circle cx="776.33" cy="1096.39" r="1.25" fill="#7a7a7a" opacity="0.8"/>
<circle cx="780.53" cy="1069.74" r="1.25" fill="#7a7a7a" opacity="0.8"/>
<circle cx="777.45" cy="1066.92" r="1.25" fill="#7a7a7a" opacity="0.8"/>
<circle cx="778.51" cy="1095.81" r="1.25" fill="#7a7a7a" opacity="0.8"/>
<circle cx="773.02" cy="1097.38" r="1.25" fill="#7a7a7a" opacity="0.8"/>
<circle cx="779.43" cy="1097.19" r="1.25" fill="#7a7a7a" opacity="0.8"/>
<circle cx="777.16" cy="1014.10" r="1.25" fill="#7a7a7a" opacity="0.8"/>
<circle cx="779.46" cy="1095.78" r="1.25" fill="#7a7a7a" opacity="0.8"/>
<circle cx="779.07" cy="1092.80" r="1.25" fill="#7a7a7a" opacity="0.8"/>
<circle cx="780.09" cy="1064.92" r="1.25" fill="#7a7a7a" opacity="0.8"/>
<circle cx="774.13" cy="1093.12" r="1.25" fill="#7a7a7a" opacity="0.8"/>
<circle cx="772.79" cy="1087.06" r="1.25" fill="#7a7a7a" opacity="0.8"/>
<circle cx="777.24" cy="1011.97" r="1.25" fill="#7a7a7a" opacity="0.8"/>
<circle cx="776.67" cy="1095.16" r="1.25" fill="#7a7a7a" opacity="0.8"/>
<circle cx="781.84" cy="1095.41" r="1.25" fill="#7a7a7a" opacity="0.8"/>
<circle cx="772.18" cy="1085.24" r="1.25" fill="#7a7a7a" opacity="0.8"/>
<circle cx="775.81" cy="1058.38" r="1.25" fill="#7a7a7a" opacity="0.8"/>
<circle cx="779.00" cy="1067.30" r="1.25" fill="#7a7a7a" opacity="0.8"/>
<circle cx="777.40" cy="1096.19" r="1.25" fill="#7a7a7a" opacity="0.8"/>
<circle cx="776.15" cy="1009.24" r="1.25" fill="#7a7a7a" opacity="0.8"/>
<circle cx="778.64" cy="1089.96" r="1.25" fill="#7a7a7a" opacity="0.8"/>
<circle cx="780.35" cy="1096.73" r="1.25" fill="#7a7a7a" opacity="0.8"/>
<circle cx="779.36" cy="1050.30" r="1.25" fill="#7a7a7a" opacity="0.8"/>
<circle cx="777.30" cy="1045.19" r="1.25" fill="#7a7a7a" opacity="0.8"/>
<circle cx="777.22" cy="1080.16" r="1.25" fill="#7a7a7a" opacity="0.8"/>
<circle cx="780.51" cy="1068.42" r="1.25" fill="#7a7a7a" opacity="0.8"/>
<circle cx="776.84" cy="1093.58" r="1.25" fill="#7a7a7a" opacity="0.8"/>
<circle cx="774.62" cy="1080.71" r="1.25" fill="#7a7a7a" opacity="0.8"/>
<circle cx="779.85" cy="1093.17" r="1.25" fill="#7a7a7a" opacity="0.8"/>
<circle cx="778.42" cy="1072.33" r="1.25" fill="#7a7a7a" opacity="0.8"/>
<circle cx="776.70" cy="1089.65" r="1.25" fill="#7a7a7a" opacity="0.8"/>
<circle cx="773.27" cy="1093.34" r="1.25" fill="#7a7a7a" opacity="0.8"/>
<circle cx="778.46" cy="1094.19" r="1.25" fill="#7a7a7a" opacity="0.8"/>
<circle cx="777.23" cy="1042.52" r="1.25" fill="#7a7a7a" opacity="0.8"/>
<circle cx="774.43" cy="1053.43" r="1.25" fill="#7a7a7a" opacity="0.8"/>
<circle cx="773.83" cy="1076.76" r="1.25" fill="#7a7a7a" opacity="0.8"/>
<circle cx="774.77" cy="1076.36" r="1.25" fill="#7a7a7a" opacity="0.8"/>
<circle cx="781.09" cy="1089.79" r="1.25" fill="#7a7a7a" opacity="0.8"/>
<circle cx="774.77" cy="1074.84" r="1.25" fill="#7a7a7a" opacity="0.8"/>
<circle cx="775.02" cy="1078.45" r="1.25" fill="#7a7a7a" opacity="0.8"/>
<circle cx="776.32" cy="1051.35" r="1.25" fill="#7a7a7a" opacity="0.8"/>
<circle cx="777.35" cy="1043.53" r="1.25" fill="#7a7a7a" opacity="0.8"/>
<circle cx="777.71" cy="1067.13" r="1.25" fill="#7a7a7a" opacity="0.8"/>
<circle cx="773.40" cy="1072.23" r="1.25" fill="#7a7a7a" opacity="0.8"/>
<circle cx="777.55" cy="1052.00" r="1.25" fill="#7a7a7a" opacity="0.8"/>
<circle cx="776.87" cy="1090.95" r="1.25" fill="#7a7a7a" opacity="0.8"/>
<circle cx="777.32" cy="1008.69" r="1.25" fill="#7a7a7a" opacity="0.8"/>
<circle cx="777.15" cy="1074.59" r="1.25" fill="#7a7a7a" opacity="0.8"/>
<circle cx="776.86" cy="1096.36" r="1.25" fill="#7a7a7a" opacity="0.8"/>
<circle cx="778.20" cy="1081.62" r="1.25" fill="#7a7a7a" opacity="0.8"/>
<circle cx="773.53" cy="1085.12" r="1.25" fill="#7a7a7a" opacity="0.8"/>
<circle cx="775.74" cy="1042.22" r="1.25" fill="#7a7a7a" opacity="0.8"/>
<circle cx="776.25" cy="1090.90" r="1.25" fill="#7a7a7a" opacity="0.8"/>
<circle cx="777.45" cy="1012.79" r="1.25" fill="#7a7a7a" opacity="0.8"/>
<circle cx="772.66" cy="1093.96" r="1.25" fill="#7a7a7a" opacity="0.8"/>
<circle cx="773.11" cy="1077.85" r="1.25" fill="#7a7a7a" opacity="0.8"/>
<circle cx="772.98" cy="1090.82" r="1.25" fill="#7a7a7a" opacity="0.8"/>
<circle cx="778.54" cy="1039.10" r="1.25" fill="#7a7a7a" opacity="0.8"/>
<circle cx="777.53" cy="1038.02" r="1.25" fill="#7a7a7a" opacity="0.8"/>
<circle cx="774.46" cy="1097.30" r="1.25" fill="#7a7a7a" opacity="0.8"/>
<circle cx="774.59" cy="1046.10" r="1.25" fill="#7a7a7a" opacity="0.8"/>
<circle cx="779.47" cy="1077.97" r="1.25" fill="#7a7a7a" opacity="0.8"/>
<line x1="776.90" y1="1001.78" x2="776.90" y2="1058.08" stroke="#555555" stroke-width="1" stroke-linecap="butt"/>
<line x1="774.10" y1="1001.78" x2="779.70" y2="1001.78" stroke="#555555" stroke-width="1.1" stroke-linecap="butt"/>
<rect x="770.40" y="1058.08" width="13.00" height="29.76" fill="none" stroke="#555555" stroke-width="1" />
<line x1="770.40" y1="1073.70" x2="783.40" y2="1073.70" stroke="#555555" stroke-width="1" stroke-linecap="butt"/>
<line x1="776.90" y1="1098.50" x2="776.90" y2="1103.00" stroke="#1a1a1a" stroke-width="1.6" stroke-linecap="butt"/>
<text x="776.90" y="1116.50" text-anchor="middle" fill="#1a1a1a" style="font-size:12.5px">-</text>
<circle cx="793.84" cy="1093.21" r="1.25" fill="#e8401c" opacity="0.8"/>
<circle cx="796.68" cy="1080.47" r="1.25" fill="#e8401c" opacity="0.8"/>
<circle cx="798.46" cy="1095.53" r="1.25" fill="#e8401c" opacity="0.8"/>
<circle cx="791.75" cy="1096.95" r="1.25" fill="#e8401c" opacity="0.8"/>
<circle cx="792.42" cy="1091.75" r="1.25" fill="#e8401c" opacity="0.8"/>
<circle cx="794.01" cy="1087.64" r="1.25" fill="#e8401c" opacity="0.8"/>
<circle cx="797.76" cy="1075.38" r="1.25" fill="#e8401c" opacity="0.8"/>
<circle cx="797.89" cy="1072.12" r="1.25" fill="#e8401c" opacity="0.8"/>
<circle cx="797.00" cy="1093.30" r="1.25" fill="#e8401c" opacity="0.8"/>
<circle cx="797.68" cy="1070.75" r="1.25" fill="#e8401c" opacity="0.8"/>
<circle cx="799.17" cy="1088.75" r="1.25" fill="#e8401c" opacity="0.8"/>
<circle cx="799.21" cy="1090.55" r="1.25" fill="#e8401c" opacity="0.8"/>
<circle cx="791.93" cy="1078.64" r="1.25" fill="#e8401c" opacity="0.8"/>
<circle cx="796.55" cy="1054.08" r="1.25" fill="#e8401c" opacity="0.8"/>
<circle cx="799.45" cy="1084.42" r="1.25" fill="#e8401c" opacity="0.8"/>
<circle cx="796.93" cy="1059.77" r="1.25" fill="#e8401c" opacity="0.8"/>
<circle cx="796.94" cy="1072.73" r="1.25" fill="#e8401c" opacity="0.8"/>
<circle cx="796.32" cy="1096.29" r="1.25" fill="#e8401c" opacity="0.8"/>
<circle cx="795.47" cy="1098.39" r="1.25" fill="#e8401c" opacity="0.8"/>
<circle cx="797.53" cy="1095.11" r="1.25" fill="#e8401c" opacity="0.8"/>
<circle cx="794.14" cy="1054.49" r="1.25" fill="#e8401c" opacity="0.8"/>
<circle cx="793.53" cy="1083.79" r="1.25" fill="#e8401c" opacity="0.8"/>
<circle cx="795.39" cy="1031.55" r="1.25" fill="#e8401c" opacity="0.8"/>
<circle cx="796.88" cy="1095.10" r="1.25" fill="#e8401c" opacity="0.8"/>
<circle cx="795.56" cy="1087.29" r="1.25" fill="#e8401c" opacity="0.8"/>
<circle cx="792.19" cy="1087.84" r="1.25" fill="#e8401c" opacity="0.8"/>
<circle cx="796.48" cy="1096.24" r="1.25" fill="#e8401c" opacity="0.8"/>
<circle cx="794.21" cy="1096.04" r="1.25" fill="#e8401c" opacity="0.8"/>
<circle cx="797.93" cy="1083.64" r="1.25" fill="#e8401c" opacity="0.8"/>
<circle cx="794.12" cy="1095.47" r="1.25" fill="#e8401c" opacity="0.8"/>
<circle cx="792.61" cy="1096.35" r="1.25" fill="#e8401c" opacity="0.8"/>
<circle cx="796.04" cy="1037.44" r="1.25" fill="#e8401c" opacity="0.8"/>
<circle cx="800.61" cy="1097.24" r="1.25" fill="#e8401c" opacity="0.8"/>
<circle cx="796.09" cy="1091.19" r="1.25" fill="#e8401c" opacity="0.8"/>
<circle cx="793.52" cy="1070.63" r="1.25" fill="#e8401c" opacity="0.8"/>
<circle cx="793.55" cy="1092.46" r="1.25" fill="#e8401c" opacity="0.8"/>
<circle cx="799.40" cy="1082.18" r="1.25" fill="#e8401c" opacity="0.8"/>
<circle cx="800.35" cy="1095.46" r="1.25" fill="#e8401c" opacity="0.8"/>
<circle cx="795.13" cy="1083.24" r="1.25" fill="#e8401c" opacity="0.8"/>
<circle cx="797.71" cy="1097.16" r="1.25" fill="#e8401c" opacity="0.8"/>
<circle cx="799.10" cy="1097.06" r="1.25" fill="#e8401c" opacity="0.8"/>
<circle cx="798.62" cy="1092.86" r="1.25" fill="#e8401c" opacity="0.8"/>
<circle cx="794.46" cy="1073.55" r="1.25" fill="#e8401c" opacity="0.8"/>
<circle cx="796.09" cy="1092.42" r="1.25" fill="#e8401c" opacity="0.8"/>
<circle cx="794.54" cy="1087.35" r="1.25" fill="#e8401c" opacity="0.8"/>
<circle cx="794.96" cy="1026.58" r="1.25" fill="#e8401c" opacity="0.8"/>
<circle cx="797.79" cy="1090.81" r="1.25" fill="#e8401c" opacity="0.8"/>
<circle cx="793.13" cy="1087.96" r="1.25" fill="#e8401c" opacity="0.8"/>
<circle cx="791.75" cy="1088.82" r="1.25" fill="#e8401c" opacity="0.8"/>
<circle cx="798.73" cy="1095.26" r="1.25" fill="#e8401c" opacity="0.8"/>
<circle cx="794.96" cy="1087.26" r="1.25" fill="#e8401c" opacity="0.8"/>
<circle cx="792.43" cy="1087.71" r="1.25" fill="#e8401c" opacity="0.8"/>
<circle cx="790.20" cy="1096.21" r="1.25" fill="#e8401c" opacity="0.8"/>
<circle cx="793.75" cy="1082.47" r="1.25" fill="#e8401c" opacity="0.8"/>
<circle cx="793.97" cy="1078.59" r="1.25" fill="#e8401c" opacity="0.8"/>
<circle cx="798.34" cy="1071.45" r="1.25" fill="#e8401c" opacity="0.8"/>
<circle cx="796.57" cy="1090.19" r="1.25" fill="#e8401c" opacity="0.8"/>
<circle cx="796.44" cy="1095.24" r="1.25" fill="#e8401c" opacity="0.8"/>
<circle cx="794.88" cy="1092.55" r="1.25" fill="#e8401c" opacity="0.8"/>
<circle cx="797.72" cy="1067.50" r="1.25" fill="#e8401c" opacity="0.8"/>
<circle cx="797.10" cy="1088.90" r="1.25" fill="#e8401c" opacity="0.8"/>
<circle cx="794.38" cy="1084.17" r="1.25" fill="#e8401c" opacity="0.8"/>
<circle cx="790.57" cy="1096.93" r="1.25" fill="#e8401c" opacity="0.8"/>
<circle cx="794.55" cy="1095.69" r="1.25" fill="#e8401c" opacity="0.8"/>
<circle cx="792.26" cy="1092.33" r="1.25" fill="#e8401c" opacity="0.8"/>
<circle cx="793.80" cy="1092.27" r="1.25" fill="#e8401c" opacity="0.8"/>
<circle cx="797.56" cy="1072.96" r="1.25" fill="#e8401c" opacity="0.8"/>
<circle cx="795.83" cy="1070.25" r="1.25" fill="#e8401c" opacity="0.8"/>
<circle cx="798.96" cy="1097.71" r="1.25" fill="#e8401c" opacity="0.8"/>
<circle cx="792.78" cy="1070.98" r="1.25" fill="#e8401c" opacity="0.8"/>
<circle cx="794.93" cy="1093.58" r="1.25" fill="#e8401c" opacity="0.8"/>
<circle cx="800.51" cy="1094.27" r="1.25" fill="#e8401c" opacity="0.8"/>
<circle cx="795.99" cy="1080.76" r="1.25" fill="#e8401c" opacity="0.8"/>
<circle cx="794.33" cy="1093.42" r="1.25" fill="#e8401c" opacity="0.8"/>
<circle cx="797.82" cy="1084.33" r="1.25" fill="#e8401c" opacity="0.8"/>
<circle cx="794.64" cy="1091.09" r="1.25" fill="#e8401c" opacity="0.8"/>
<circle cx="795.27" cy="1091.24" r="1.25" fill="#e8401c" opacity="0.8"/>
<circle cx="792.85" cy="1091.61" r="1.25" fill="#e8401c" opacity="0.8"/>
<circle cx="798.94" cy="1083.79" r="1.25" fill="#e8401c" opacity="0.8"/>
<circle cx="796.62" cy="1044.11" r="1.25" fill="#e8401c" opacity="0.8"/>
<circle cx="799.84" cy="1090.71" r="1.25" fill="#e8401c" opacity="0.8"/>
<circle cx="792.88" cy="1095.97" r="1.25" fill="#e8401c" opacity="0.8"/>
<circle cx="796.68" cy="1094.26" r="1.25" fill="#e8401c" opacity="0.8"/>
<circle cx="793.30" cy="1093.23" r="1.25" fill="#e8401c" opacity="0.8"/>
<circle cx="797.48" cy="1096.22" r="1.25" fill="#e8401c" opacity="0.8"/>
<circle cx="795.07" cy="1080.69" r="1.25" fill="#e8401c" opacity="0.8"/>
<circle cx="798.50" cy="1081.25" r="1.25" fill="#e8401c" opacity="0.8"/>
<circle cx="794.63" cy="1042.19" r="1.25" fill="#e8401c" opacity="0.8"/>
<circle cx="796.09" cy="1064.20" r="1.25" fill="#e8401c" opacity="0.8"/>
<circle cx="792.71" cy="1076.19" r="1.25" fill="#e8401c" opacity="0.8"/>
<circle cx="795.05" cy="1037.97" r="1.25" fill="#e8401c" opacity="0.8"/>
<circle cx="795.58" cy="1096.70" r="1.25" fill="#e8401c" opacity="0.8"/>
<circle cx="797.65" cy="1091.45" r="1.25" fill="#e8401c" opacity="0.8"/>
<circle cx="798.05" cy="1080.59" r="1.25" fill="#e8401c" opacity="0.8"/>
<circle cx="796.94" cy="1061.84" r="1.25" fill="#e8401c" opacity="0.8"/>
<circle cx="795.50" cy="1090.29" r="1.25" fill="#e8401c" opacity="0.8"/>
<circle cx="797.27" cy="1086.18" r="1.25" fill="#e8401c" opacity="0.8"/>
<circle cx="796.14" cy="1081.66" r="1.25" fill="#e8401c" opacity="0.8"/>
<circle cx="795.31" cy="1091.20" r="1.25" fill="#e8401c" opacity="0.8"/>
<circle cx="798.20" cy="1089.78" r="1.25" fill="#e8401c" opacity="0.8"/>
<circle cx="795.89" cy="1042.56" r="1.25" fill="#e8401c" opacity="0.8"/>
<circle cx="793.07" cy="1090.65" r="1.25" fill="#e8401c" opacity="0.8"/>
<circle cx="796.63" cy="1031.69" r="1.25" fill="#e8401c" opacity="0.8"/>
<circle cx="797.73" cy="1066.03" r="1.25" fill="#e8401c" opacity="0.8"/>
<circle cx="797.54" cy="1084.35" r="1.25" fill="#e8401c" opacity="0.8"/>
<circle cx="791.21" cy="1086.09" r="1.25" fill="#e8401c" opacity="0.8"/>
<circle cx="799.70" cy="1084.68" r="1.25" fill="#e8401c" opacity="0.8"/>
<circle cx="797.09" cy="1090.05" r="1.25" fill="#e8401c" opacity="0.8"/>
<circle cx="797.13" cy="1096.05" r="1.25" fill="#e8401c" opacity="0.8"/>
<circle cx="799.99" cy="1090.08" r="1.25" fill="#e8401c" opacity="0.8"/>
<circle cx="797.11" cy="1085.25" r="1.25" fill="#e8401c" opacity="0.8"/>
<circle cx="793.80" cy="1091.39" r="1.25" fill="#e8401c" opacity="0.8"/>
<circle cx="795.44" cy="1070.78" r="1.25" fill="#e8401c" opacity="0.8"/>
<circle cx="798.58" cy="1081.00" r="1.25" fill="#e8401c" opacity="0.8"/>
<circle cx="793.86" cy="1096.48" r="1.25" fill="#e8401c" opacity="0.8"/>
<circle cx="796.18" cy="1058.86" r="1.25" fill="#e8401c" opacity="0.8"/>
<circle cx="796.23" cy="1069.53" r="1.25" fill="#e8401c" opacity="0.8"/>
<circle cx="792.25" cy="1075.16" r="1.25" fill="#e8401c" opacity="0.8"/>
<circle cx="798.23" cy="1096.49" r="1.25" fill="#e8401c" opacity="0.8"/>
<circle cx="793.99" cy="1075.15" r="1.25" fill="#e8401c" opacity="0.8"/>
<circle cx="798.90" cy="1087.79" r="1.25" fill="#e8401c" opacity="0.8"/>
<circle cx="794.19" cy="1057.68" r="1.25" fill="#e8401c" opacity="0.8"/>
<circle cx="796.75" cy="1026.58" r="1.25" fill="#e8401c" opacity="0.8"/>
<circle cx="795.58" cy="1090.69" r="1.25" fill="#e8401c" opacity="0.8"/>
<circle cx="794.65" cy="1095.19" r="1.25" fill="#e8401c" opacity="0.8"/>
<circle cx="793.10" cy="1094.51" r="1.25" fill="#e8401c" opacity="0.8"/>
<circle cx="798.10" cy="1080.16" r="1.25" fill="#e8401c" opacity="0.8"/>
<circle cx="799.96" cy="1088.80" r="1.25" fill="#e8401c" opacity="0.8"/>
<circle cx="797.32" cy="1096.73" r="1.25" fill="#e8401c" opacity="0.8"/>
<circle cx="794.35" cy="1026.58" r="1.25" fill="#e8401c" opacity="0.8"/>
<circle cx="794.91" cy="1094.08" r="1.25" fill="#e8401c" opacity="0.8"/>
<circle cx="799.14" cy="1093.53" r="1.25" fill="#e8401c" opacity="0.8"/>
<circle cx="790.94" cy="1085.39" r="1.25" fill="#e8401c" opacity="0.8"/>
<circle cx="794.52" cy="1091.46" r="1.25" fill="#e8401c" opacity="0.8"/>
<circle cx="792.96" cy="1080.94" r="1.25" fill="#e8401c" opacity="0.8"/>
<circle cx="794.83" cy="1071.66" r="1.25" fill="#e8401c" opacity="0.8"/>
<circle cx="794.92" cy="1082.68" r="1.25" fill="#e8401c" opacity="0.8"/>
<circle cx="793.77" cy="1051.59" r="1.25" fill="#e8401c" opacity="0.8"/>
<circle cx="797.85" cy="1074.46" r="1.25" fill="#e8401c" opacity="0.8"/>
<circle cx="794.11" cy="1040.70" r="1.25" fill="#e8401c" opacity="0.8"/>
<circle cx="793.88" cy="1094.39" r="1.25" fill="#e8401c" opacity="0.8"/>
<circle cx="796.40" cy="1062.62" r="1.25" fill="#e8401c" opacity="0.8"/>
<circle cx="796.76" cy="1086.89" r="1.25" fill="#e8401c" opacity="0.8"/>
<circle cx="798.83" cy="1085.62" r="1.25" fill="#e8401c" opacity="0.8"/>
<circle cx="794.60" cy="1087.09" r="1.25" fill="#e8401c" opacity="0.8"/>
<circle cx="797.59" cy="1095.05" r="1.25" fill="#e8401c" opacity="0.8"/>
<circle cx="795.07" cy="1096.48" r="1.25" fill="#e8401c" opacity="0.8"/>
<circle cx="795.38" cy="1096.60" r="1.25" fill="#e8401c" opacity="0.8"/>
<circle cx="798.21" cy="1079.72" r="1.25" fill="#e8401c" opacity="0.8"/>
<circle cx="797.14" cy="1082.63" r="1.25" fill="#e8401c" opacity="0.8"/>
<circle cx="794.15" cy="1095.52" r="1.25" fill="#e8401c" opacity="0.8"/>
<circle cx="795.81" cy="1097.98" r="1.25" fill="#e8401c" opacity="0.8"/>
<circle cx="795.61" cy="1090.38" r="1.25" fill="#e8401c" opacity="0.8"/>
<circle cx="800.46" cy="1097.72" r="1.25" fill="#e8401c" opacity="0.8"/>
<circle cx="793.55" cy="1065.38" r="1.25" fill="#e8401c" opacity="0.8"/>
<circle cx="795.86" cy="1064.94" r="1.25" fill="#e8401c" opacity="0.8"/>
<circle cx="795.82" cy="1077.04" r="1.25" fill="#e8401c" opacity="0.8"/>
<circle cx="794.34" cy="1044.91" r="1.25" fill="#e8401c" opacity="0.8"/>
<circle cx="796.79" cy="1063.47" r="1.25" fill="#e8401c" opacity="0.8"/>
<circle cx="799.20" cy="1076.90" r="1.25" fill="#e8401c" opacity="0.8"/>
<circle cx="794.04" cy="1044.22" r="1.25" fill="#e8401c" opacity="0.8"/>
<circle cx="797.32" cy="1093.48" r="1.25" fill="#e8401c" opacity="0.8"/>
<circle cx="796.00" cy="1082.61" r="1.25" fill="#e8401c" opacity="0.8"/>
<circle cx="797.38" cy="1084.64" r="1.25" fill="#e8401c" opacity="0.8"/>
<circle cx="792.18" cy="1096.37" r="1.25" fill="#e8401c" opacity="0.8"/>
<circle cx="795.33" cy="1092.69" r="1.25" fill="#e8401c" opacity="0.8"/>
<circle cx="794.77" cy="1084.28" r="1.25" fill="#e8401c" opacity="0.8"/>
<circle cx="796.63" cy="1090.98" r="1.25" fill="#e8401c" opacity="0.8"/>
<circle cx="792.32" cy="1096.32" r="1.25" fill="#e8401c" opacity="0.8"/>
<circle cx="795.96" cy="1027.20" r="1.25" fill="#e8401c" opacity="0.8"/>
<circle cx="794.42" cy="1094.80" r="1.25" fill="#e8401c" opacity="0.8"/>
<circle cx="795.14" cy="1092.17" r="1.25" fill="#e8401c" opacity="0.8"/>
<circle cx="797.06" cy="1064.05" r="1.25" fill="#e8401c" opacity="0.8"/>
<circle cx="797.05" cy="1098.11" r="1.25" fill="#e8401c" opacity="0.8"/>
<circle cx="795.16" cy="1044.00" r="1.25" fill="#e8401c" opacity="0.8"/>
<circle cx="792.18" cy="1091.44" r="1.25" fill="#e8401c" opacity="0.8"/>
<circle cx="799.63" cy="1091.94" r="1.25" fill="#e8401c" opacity="0.8"/>
<circle cx="792.89" cy="1091.34" r="1.25" fill="#e8401c" opacity="0.8"/>
<circle cx="799.24" cy="1089.40" r="1.25" fill="#e8401c" opacity="0.8"/>
<circle cx="789.92" cy="1098.31" r="1.25" fill="#e8401c" opacity="0.8"/>
<circle cx="791.79" cy="1077.47" r="1.25" fill="#e8401c" opacity="0.8"/>
<circle cx="794.54" cy="1093.14" r="1.25" fill="#e8401c" opacity="0.8"/>
<circle cx="793.65" cy="1087.93" r="1.25" fill="#e8401c" opacity="0.8"/>
<circle cx="793.72" cy="1079.14" r="1.25" fill="#e8401c" opacity="0.8"/>
<circle cx="798.67" cy="1082.92" r="1.25" fill="#e8401c" opacity="0.8"/>
<circle cx="798.12" cy="1073.24" r="1.25" fill="#e8401c" opacity="0.8"/>
<circle cx="794.37" cy="1096.10" r="1.25" fill="#e8401c" opacity="0.8"/>
<circle cx="794.03" cy="1080.93" r="1.25" fill="#e8401c" opacity="0.8"/>
<circle cx="791.42" cy="1091.74" r="1.25" fill="#e8401c" opacity="0.8"/>
<circle cx="799.81" cy="1090.55" r="1.25" fill="#e8401c" opacity="0.8"/>
<circle cx="791.21" cy="1089.27" r="1.25" fill="#e8401c" opacity="0.8"/>
<circle cx="790.62" cy="1090.93" r="1.25" fill="#e8401c" opacity="0.8"/>
<circle cx="793.26" cy="1072.69" r="1.25" fill="#e8401c" opacity="0.8"/>
<circle cx="799.17" cy="1082.63" r="1.25" fill="#e8401c" opacity="0.8"/>
<circle cx="799.31" cy="1086.55" r="1.25" fill="#e8401c" opacity="0.8"/>
<circle cx="792.41" cy="1085.49" r="1.25" fill="#e8401c" opacity="0.8"/>
<circle cx="791.24" cy="1088.26" r="1.25" fill="#e8401c" opacity="0.8"/>
<circle cx="794.49" cy="1082.10" r="1.25" fill="#e8401c" opacity="0.8"/>
<circle cx="792.56" cy="1083.55" r="1.25" fill="#e8401c" opacity="0.8"/>
<circle cx="798.96" cy="1091.90" r="1.25" fill="#e8401c" opacity="0.8"/>
<circle cx="796.84" cy="1080.00" r="1.25" fill="#e8401c" opacity="0.8"/>
<circle cx="793.25" cy="1092.21" r="1.25" fill="#e8401c" opacity="0.8"/>
<circle cx="791.67" cy="1088.19" r="1.25" fill="#e8401c" opacity="0.8"/>
<circle cx="793.62" cy="1068.91" r="1.25" fill="#e8401c" opacity="0.8"/>
<circle cx="791.61" cy="1096.26" r="1.25" fill="#e8401c" opacity="0.8"/>
<circle cx="793.11" cy="1091.08" r="1.25" fill="#e8401c" opacity="0.8"/>
<circle cx="796.08" cy="1066.70" r="1.25" fill="#e8401c" opacity="0.8"/>
<circle cx="798.76" cy="1083.60" r="1.25" fill="#e8401c" opacity="0.8"/>
<circle cx="793.13" cy="1091.61" r="1.25" fill="#e8401c" opacity="0.8"/>
<circle cx="795.74" cy="1076.04" r="1.25" fill="#e8401c" opacity="0.8"/>
<circle cx="791.51" cy="1087.57" r="1.25" fill="#e8401c" opacity="0.8"/>
<circle cx="796.50" cy="1068.48" r="1.25" fill="#e8401c" opacity="0.8"/>
<circle cx="799.01" cy="1092.45" r="1.25" fill="#e8401c" opacity="0.8"/>
<circle cx="792.48" cy="1091.78" r="1.25" fill="#e8401c" opacity="0.8"/>
<circle cx="792.60" cy="1071.59" r="1.25" fill="#e8401c" opacity="0.8"/>
<circle cx="792.27" cy="1096.89" r="1.25" fill="#e8401c" opacity="0.8"/>
<circle cx="795.21" cy="1086.12" r="1.25" fill="#e8401c" opacity="0.8"/>
<circle cx="797.67" cy="1065.79" r="1.25" fill="#e8401c" opacity="0.8"/>
<circle cx="794.71" cy="1056.05" r="1.25" fill="#e8401c" opacity="0.8"/>
<circle cx="792.31" cy="1087.60" r="1.25" fill="#e8401c" opacity="0.8"/>
<line x1="795.40" y1="1026.58" x2="795.40" y2="1071.22" stroke="#e8401c" stroke-width="1" stroke-linecap="butt"/>
<line x1="792.60" y1="1026.58" x2="798.20" y2="1026.58" stroke="#e8401c" stroke-width="1.1" stroke-linecap="butt"/>
<rect x="788.90" y="1071.22" width="13.00" height="17.36" fill="none" stroke="#e8401c" stroke-width="1" />
<line x1="788.90" y1="1083.62" x2="801.90" y2="1083.62" stroke="#e8401c" stroke-width="1" stroke-linecap="butt"/>
<line x1="795.40" y1="1098.50" x2="795.40" y2="1103.00" stroke="#1a1a1a" stroke-width="1.6" stroke-linecap="butt"/>
<text x="795.40" y="1116.50" text-anchor="middle" fill="#1a1a1a" style="font-size:12.5px">+</text>
<circle cx="812.83" cy="1094.96" r="1.25" fill="#bdbdbd" opacity="0.8"/>
<circle cx="809.66" cy="1090.57" r="1.25" fill="#bdbdbd" opacity="0.8"/>
<circle cx="814.58" cy="1085.06" r="1.25" fill="#bdbdbd" opacity="0.8"/>
<circle cx="811.97" cy="1053.58" r="1.25" fill="#bdbdbd" opacity="0.8"/>
<circle cx="811.71" cy="1048.70" r="1.25" fill="#bdbdbd" opacity="0.8"/>
<circle cx="810.53" cy="1086.15" r="1.25" fill="#bdbdbd" opacity="0.8"/>
<circle cx="811.63" cy="1058.62" r="1.25" fill="#bdbdbd" opacity="0.8"/>
<circle cx="809.50" cy="1090.02" r="1.25" fill="#bdbdbd" opacity="0.8"/>
<circle cx="816.21" cy="1056.73" r="1.25" fill="#bdbdbd" opacity="0.8"/>
<circle cx="815.58" cy="1094.20" r="1.25" fill="#bdbdbd" opacity="0.8"/>
<circle cx="818.33" cy="1095.30" r="1.25" fill="#bdbdbd" opacity="0.8"/>
<circle cx="810.22" cy="1080.00" r="1.25" fill="#bdbdbd" opacity="0.8"/>
<circle cx="817.20" cy="1094.07" r="1.25" fill="#bdbdbd" opacity="0.8"/>
<circle cx="814.73" cy="1080.34" r="1.25" fill="#bdbdbd" opacity="0.8"/>
<circle cx="818.23" cy="1094.22" r="1.25" fill="#bdbdbd" opacity="0.8"/>
<circle cx="815.19" cy="1036.12" r="1.25" fill="#bdbdbd" opacity="0.8"/>
<circle cx="812.01" cy="1039.52" r="1.25" fill="#bdbdbd" opacity="0.8"/>
<circle cx="816.43" cy="1088.80" r="1.25" fill="#bdbdbd" opacity="0.8"/>
<circle cx="814.86" cy="1058.30" r="1.25" fill="#bdbdbd" opacity="0.8"/>
<circle cx="812.75" cy="996.45" r="1.25" fill="#bdbdbd" opacity="0.8"/>
<circle cx="815.30" cy="1088.42" r="1.25" fill="#bdbdbd" opacity="0.8"/>
<circle cx="816.27" cy="1065.86" r="1.25" fill="#bdbdbd" opacity="0.8"/>
<circle cx="812.72" cy="1054.11" r="1.25" fill="#bdbdbd" opacity="0.8"/>
<circle cx="815.37" cy="1048.15" r="1.25" fill="#bdbdbd" opacity="0.8"/>
<circle cx="814.22" cy="1050.00" r="1.25" fill="#bdbdbd" opacity="0.8"/>
<circle cx="817.64" cy="1096.24" r="1.25" fill="#bdbdbd" opacity="0.8"/>
<circle cx="814.10" cy="1096.84" r="1.25" fill="#bdbdbd" opacity="0.8"/>
<circle cx="816.59" cy="1084.32" r="1.25" fill="#bdbdbd" opacity="0.8"/>
<circle cx="817.08" cy="1071.65" r="1.25" fill="#bdbdbd" opacity="0.8"/>
<circle cx="818.75" cy="1098.13" r="1.25" fill="#bdbdbd" opacity="0.8"/>
<circle cx="813.29" cy="1052.46" r="1.25" fill="#bdbdbd" opacity="0.8"/>
<circle cx="814.92" cy="1094.53" r="1.25" fill="#bdbdbd" opacity="0.8"/>
<circle cx="813.85" cy="1084.49" r="1.25" fill="#bdbdbd" opacity="0.8"/>
<circle cx="814.82" cy="1026.74" r="1.25" fill="#bdbdbd" opacity="0.8"/>
<circle cx="809.93" cy="1085.03" r="1.25" fill="#bdbdbd" opacity="0.8"/>
<circle cx="814.99" cy="1071.99" r="1.25" fill="#bdbdbd" opacity="0.8"/>
<circle cx="814.29" cy="991.86" r="1.25" fill="#bdbdbd" opacity="0.8"/>
<circle cx="816.01" cy="1087.78" r="1.25" fill="#bdbdbd" opacity="0.8"/>
<circle cx="815.52" cy="1037.51" r="1.25" fill="#bdbdbd" opacity="0.8"/>
<circle cx="810.83" cy="1083.11" r="1.25" fill="#bdbdbd" opacity="0.8"/>
<circle cx="810.20" cy="1093.70" r="1.25" fill="#bdbdbd" opacity="0.8"/>
<circle cx="818.22" cy="1091.58" r="1.25" fill="#bdbdbd" opacity="0.8"/>
<circle cx="809.79" cy="1080.74" r="1.25" fill="#bdbdbd" opacity="0.8"/>
<circle cx="814.64" cy="1094.98" r="1.25" fill="#bdbdbd" opacity="0.8"/>
<circle cx="815.69" cy="1040.28" r="1.25" fill="#bdbdbd" opacity="0.8"/>
<circle cx="814.26" cy="1063.84" r="1.25" fill="#bdbdbd" opacity="0.8"/>
<circle cx="813.44" cy="1093.71" r="1.25" fill="#bdbdbd" opacity="0.8"/>
<circle cx="811.90" cy="1064.86" r="1.25" fill="#bdbdbd" opacity="0.8"/>
<circle cx="814.59" cy="1095.79" r="1.25" fill="#bdbdbd" opacity="0.8"/>
<circle cx="811.57" cy="1093.77" r="1.25" fill="#bdbdbd" opacity="0.8"/>
<circle cx="810.65" cy="1094.95" r="1.25" fill="#bdbdbd" opacity="0.8"/>
<circle cx="816.03" cy="1079.40" r="1.25" fill="#bdbdbd" opacity="0.8"/>
<circle cx="810.58" cy="1056.24" r="1.25" fill="#bdbdbd" opacity="0.8"/>
<circle cx="812.76" cy="1043.20" r="1.25" fill="#bdbdbd" opacity="0.8"/>
<circle cx="810.65" cy="1097.09" r="1.25" fill="#bdbdbd" opacity="0.8"/>
<circle cx="814.54" cy="1085.66" r="1.25" fill="#bdbdbd" opacity="0.8"/>
<circle cx="810.99" cy="1094.45" r="1.25" fill="#bdbdbd" opacity="0.8"/>
<circle cx="816.94" cy="1084.61" r="1.25" fill="#bdbdbd" opacity="0.8"/>
<circle cx="810.22" cy="1063.36" r="1.25" fill="#bdbdbd" opacity="0.8"/>
<circle cx="812.57" cy="1056.78" r="1.25" fill="#bdbdbd" opacity="0.8"/>
<circle cx="812.72" cy="1061.48" r="1.25" fill="#bdbdbd" opacity="0.8"/>
<circle cx="817.38" cy="1094.38" r="1.25" fill="#bdbdbd" opacity="0.8"/>
<circle cx="817.30" cy="1087.05" r="1.25" fill="#bdbdbd" opacity="0.8"/>
<circle cx="814.66" cy="1086.17" r="1.25" fill="#bdbdbd" opacity="0.8"/>
<circle cx="812.71" cy="1078.12" r="1.25" fill="#bdbdbd" opacity="0.8"/>
<circle cx="816.39" cy="1091.43" r="1.25" fill="#bdbdbd" opacity="0.8"/>
<circle cx="811.79" cy="1078.95" r="1.25" fill="#bdbdbd" opacity="0.8"/>
<circle cx="811.29" cy="1096.47" r="1.25" fill="#bdbdbd" opacity="0.8"/>
<circle cx="813.74" cy="1095.68" r="1.25" fill="#bdbdbd" opacity="0.8"/>
<circle cx="811.87" cy="1077.91" r="1.25" fill="#bdbdbd" opacity="0.8"/>
<circle cx="816.88" cy="1094.92" r="1.25" fill="#bdbdbd" opacity="0.8"/>
<circle cx="814.86" cy="1077.20" r="1.25" fill="#bdbdbd" opacity="0.8"/>
<circle cx="809.41" cy="1079.19" r="1.25" fill="#bdbdbd" opacity="0.8"/>
<circle cx="817.31" cy="1092.24" r="1.25" fill="#bdbdbd" opacity="0.8"/>
<circle cx="809.87" cy="1088.74" r="1.25" fill="#bdbdbd" opacity="0.8"/>
<circle cx="813.36" cy="1092.62" r="1.25" fill="#bdbdbd" opacity="0.8"/>
<circle cx="814.14" cy="1076.47" r="1.25" fill="#bdbdbd" opacity="0.8"/>
<circle cx="809.26" cy="1092.50" r="1.25" fill="#bdbdbd" opacity="0.8"/>
<circle cx="815.85" cy="1095.74" r="1.25" fill="#bdbdbd" opacity="0.8"/>
<circle cx="816.80" cy="1087.49" r="1.25" fill="#bdbdbd" opacity="0.8"/>
<circle cx="816.48" cy="1062.54" r="1.25" fill="#bdbdbd" opacity="0.8"/>
<circle cx="812.33" cy="1075.47" r="1.25" fill="#bdbdbd" opacity="0.8"/>
<circle cx="815.60" cy="1086.25" r="1.25" fill="#bdbdbd" opacity="0.8"/>
<circle cx="813.14" cy="1092.00" r="1.25" fill="#bdbdbd" opacity="0.8"/>
<circle cx="811.75" cy="1086.52" r="1.25" fill="#bdbdbd" opacity="0.8"/>
<circle cx="813.47" cy="1081.22" r="1.25" fill="#bdbdbd" opacity="0.8"/>
<circle cx="814.95" cy="1029.82" r="1.25" fill="#bdbdbd" opacity="0.8"/>
<circle cx="817.26" cy="1093.87" r="1.25" fill="#bdbdbd" opacity="0.8"/>
<circle cx="810.06" cy="1094.54" r="1.25" fill="#bdbdbd" opacity="0.8"/>
<circle cx="815.21" cy="1093.05" r="1.25" fill="#bdbdbd" opacity="0.8"/>
<circle cx="813.21" cy="1055.30" r="1.25" fill="#bdbdbd" opacity="0.8"/>
<circle cx="817.68" cy="1069.19" r="1.25" fill="#bdbdbd" opacity="0.8"/>
<circle cx="817.78" cy="1082.13" r="1.25" fill="#bdbdbd" opacity="0.8"/>
<circle cx="815.45" cy="1082.00" r="1.25" fill="#bdbdbd" opacity="0.8"/>
<circle cx="810.20" cy="1097.38" r="1.25" fill="#bdbdbd" opacity="0.8"/>
<circle cx="818.74" cy="1092.09" r="1.25" fill="#bdbdbd" opacity="0.8"/>
<circle cx="815.69" cy="1077.52" r="1.25" fill="#bdbdbd" opacity="0.8"/>
<circle cx="816.28" cy="1076.82" r="1.25" fill="#bdbdbd" opacity="0.8"/>
<circle cx="811.49" cy="1082.85" r="1.25" fill="#bdbdbd" opacity="0.8"/>
<circle cx="810.25" cy="1096.63" r="1.25" fill="#bdbdbd" opacity="0.8"/>
<line x1="813.70" y1="991.86" x2="813.70" y2="1069.48" stroke="#b8b8b8" stroke-width="1" stroke-linecap="butt"/>
<line x1="810.90" y1="991.86" x2="816.50" y2="991.86" stroke="#b8b8b8" stroke-width="1.1" stroke-linecap="butt"/>
<rect x="807.20" y="1069.48" width="13.00" height="23.56" fill="none" stroke="#b8b8b8" stroke-width="1" />
<line x1="807.20" y1="1081.88" x2="820.20" y2="1081.88" stroke="#b8b8b8" stroke-width="1" stroke-linecap="butt"/>
<line x1="813.70" y1="1098.50" x2="813.70" y2="1103.00" stroke="#1a1a1a" stroke-width="1.6" stroke-linecap="butt"/>
<text x="813.70" y="1116.50" text-anchor="middle" fill="#1a1a1a" style="font-size:12.5px">-</text>
<circle cx="836.19" cy="1083.37" r="1.25" fill="#f2a090" opacity="0.8"/>
<circle cx="829.03" cy="1077.12" r="1.25" fill="#f2a090" opacity="0.8"/>
<circle cx="831.95" cy="1065.82" r="1.25" fill="#f2a090" opacity="0.8"/>
<circle cx="836.79" cy="1096.59" r="1.25" fill="#f2a090" opacity="0.8"/>
<circle cx="832.58" cy="1088.87" r="1.25" fill="#f2a090" opacity="0.8"/>
<circle cx="830.57" cy="1094.86" r="1.25" fill="#f2a090" opacity="0.8"/>
<circle cx="833.69" cy="1061.74" r="1.25" fill="#f2a090" opacity="0.8"/>
<circle cx="834.80" cy="1074.44" r="1.25" fill="#f2a090" opacity="0.8"/>
<circle cx="833.55" cy="1058.03" r="1.25" fill="#f2a090" opacity="0.8"/>
<circle cx="826.76" cy="1096.69" r="1.25" fill="#f2a090" opacity="0.8"/>
<circle cx="829.56" cy="1089.05" r="1.25" fill="#f2a090" opacity="0.8"/>
<circle cx="833.08" cy="1085.66" r="1.25" fill="#f2a090" opacity="0.8"/>
<circle cx="834.45" cy="1094.42" r="1.25" fill="#f2a090" opacity="0.8"/>
<circle cx="828.27" cy="1078.05" r="1.25" fill="#f2a090" opacity="0.8"/>
<circle cx="831.34" cy="1077.96" r="1.25" fill="#f2a090" opacity="0.8"/>
<circle cx="833.98" cy="1076.79" r="1.25" fill="#f2a090" opacity="0.8"/>
<circle cx="830.15" cy="1079.29" r="1.25" fill="#f2a090" opacity="0.8"/>
<circle cx="828.00" cy="1087.36" r="1.25" fill="#f2a090" opacity="0.8"/>
<circle cx="832.14" cy="1034.02" r="1.25" fill="#f2a090" opacity="0.8"/>
<circle cx="831.17" cy="1053.76" r="1.25" fill="#f2a090" opacity="0.8"/>
<circle cx="829.62" cy="1091.74" r="1.25" fill="#f2a090" opacity="0.8"/>
<circle cx="830.64" cy="1070.99" r="1.25" fill="#f2a090" opacity="0.8"/>
<circle cx="829.62" cy="1074.58" r="1.25" fill="#f2a090" opacity="0.8"/>
<circle cx="833.14" cy="1044.11" r="1.25" fill="#f2a090" opacity="0.8"/>
<circle cx="834.37" cy="1088.77" r="1.25" fill="#f2a090" opacity="0.8"/>
<circle cx="828.53" cy="1088.58" r="1.25" fill="#f2a090" opacity="0.8"/>
<circle cx="831.62" cy="1078.76" r="1.25" fill="#f2a090" opacity="0.8"/>
<circle cx="833.09" cy="1087.34" r="1.25" fill="#f2a090" opacity="0.8"/>
<circle cx="831.51" cy="1080.01" r="1.25" fill="#f2a090" opacity="0.8"/>
<circle cx="835.07" cy="1093.05" r="1.25" fill="#f2a090" opacity="0.8"/>
<circle cx="836.36" cy="1097.82" r="1.25" fill="#f2a090" opacity="0.8"/>
<circle cx="834.30" cy="1090.71" r="1.25" fill="#f2a090" opacity="0.8"/>
<circle cx="830.31" cy="1063.00" r="1.25" fill="#f2a090" opacity="0.8"/>
<circle cx="827.53" cy="1097.09" r="1.25" fill="#f2a090" opacity="0.8"/>
<circle cx="831.16" cy="1085.80" r="1.25" fill="#f2a090" opacity="0.8"/>
<circle cx="832.12" cy="1034.02" r="1.25" fill="#f2a090" opacity="0.8"/>
<circle cx="833.97" cy="1073.73" r="1.25" fill="#f2a090" opacity="0.8"/>
<circle cx="836.66" cy="1096.27" r="1.25" fill="#f2a090" opacity="0.8"/>
<circle cx="832.92" cy="1034.32" r="1.25" fill="#f2a090" opacity="0.8"/>
<circle cx="832.75" cy="1082.31" r="1.25" fill="#f2a090" opacity="0.8"/>
<circle cx="831.28" cy="1076.04" r="1.25" fill="#f2a090" opacity="0.8"/>
<circle cx="834.42" cy="1078.78" r="1.25" fill="#f2a090" opacity="0.8"/>
<circle cx="833.97" cy="1098.15" r="1.25" fill="#f2a090" opacity="0.8"/>
<circle cx="828.29" cy="1092.75" r="1.25" fill="#f2a090" opacity="0.8"/>
<circle cx="831.88" cy="1034.02" r="1.25" fill="#f2a090" opacity="0.8"/>
<circle cx="833.22" cy="1093.82" r="1.25" fill="#f2a090" opacity="0.8"/>
<circle cx="833.22" cy="1083.77" r="1.25" fill="#f2a090" opacity="0.8"/>
<circle cx="830.46" cy="1096.91" r="1.25" fill="#f2a090" opacity="0.8"/>
<circle cx="831.38" cy="1036.63" r="1.25" fill="#f2a090" opacity="0.8"/>
<circle cx="834.96" cy="1079.65" r="1.25" fill="#f2a090" opacity="0.8"/>
<circle cx="829.31" cy="1091.77" r="1.25" fill="#f2a090" opacity="0.8"/>
<circle cx="836.18" cy="1087.64" r="1.25" fill="#f2a090" opacity="0.8"/>
<circle cx="832.78" cy="1087.86" r="1.25" fill="#f2a090" opacity="0.8"/>
<circle cx="828.84" cy="1085.34" r="1.25" fill="#f2a090" opacity="0.8"/>
<circle cx="829.67" cy="1088.78" r="1.25" fill="#f2a090" opacity="0.8"/>
<circle cx="833.35" cy="1058.44" r="1.25" fill="#f2a090" opacity="0.8"/>
<circle cx="827.22" cy="1092.91" r="1.25" fill="#f2a090" opacity="0.8"/>
<circle cx="835.19" cy="1096.17" r="1.25" fill="#f2a090" opacity="0.8"/>
<circle cx="833.35" cy="1079.22" r="1.25" fill="#f2a090" opacity="0.8"/>
<circle cx="830.80" cy="1084.12" r="1.25" fill="#f2a090" opacity="0.8"/>
<circle cx="827.82" cy="1095.19" r="1.25" fill="#f2a090" opacity="0.8"/>
<circle cx="830.70" cy="1078.76" r="1.25" fill="#f2a090" opacity="0.8"/>
<circle cx="828.77" cy="1080.19" r="1.25" fill="#f2a090" opacity="0.8"/>
<circle cx="833.12" cy="1083.92" r="1.25" fill="#f2a090" opacity="0.8"/>
<circle cx="833.10" cy="1092.15" r="1.25" fill="#f2a090" opacity="0.8"/>
<circle cx="830.89" cy="1092.49" r="1.25" fill="#f2a090" opacity="0.8"/>
<circle cx="836.08" cy="1082.71" r="1.25" fill="#f2a090" opacity="0.8"/>
<circle cx="832.40" cy="1090.01" r="1.25" fill="#f2a090" opacity="0.8"/>
<circle cx="834.84" cy="1085.91" r="1.25" fill="#f2a090" opacity="0.8"/>
<circle cx="831.54" cy="1094.50" r="1.25" fill="#f2a090" opacity="0.8"/>
<circle cx="828.95" cy="1090.41" r="1.25" fill="#f2a090" opacity="0.8"/>
<circle cx="833.70" cy="1070.89" r="1.25" fill="#f2a090" opacity="0.8"/>
<circle cx="832.86" cy="1076.92" r="1.25" fill="#f2a090" opacity="0.8"/>
<circle cx="833.64" cy="1087.90" r="1.25" fill="#f2a090" opacity="0.8"/>
<circle cx="830.42" cy="1073.90" r="1.25" fill="#f2a090" opacity="0.8"/>
<circle cx="834.72" cy="1070.51" r="1.25" fill="#f2a090" opacity="0.8"/>
<circle cx="830.57" cy="1092.55" r="1.25" fill="#f2a090" opacity="0.8"/>
<circle cx="829.92" cy="1090.09" r="1.25" fill="#f2a090" opacity="0.8"/>
<circle cx="835.56" cy="1079.28" r="1.25" fill="#f2a090" opacity="0.8"/>
<circle cx="836.86" cy="1091.42" r="1.25" fill="#f2a090" opacity="0.8"/>
<circle cx="832.37" cy="1097.86" r="1.25" fill="#f2a090" opacity="0.8"/>
<circle cx="830.19" cy="1069.68" r="1.25" fill="#f2a090" opacity="0.8"/>
<circle cx="831.00" cy="1097.91" r="1.25" fill="#f2a090" opacity="0.8"/>
<circle cx="835.12" cy="1095.15" r="1.25" fill="#f2a090" opacity="0.8"/>
<circle cx="833.00" cy="1092.28" r="1.25" fill="#f2a090" opacity="0.8"/>
<circle cx="831.18" cy="1050.69" r="1.25" fill="#f2a090" opacity="0.8"/>
<circle cx="829.73" cy="1068.75" r="1.25" fill="#f2a090" opacity="0.8"/>
<circle cx="833.90" cy="1058.79" r="1.25" fill="#f2a090" opacity="0.8"/>
<circle cx="834.23" cy="1095.97" r="1.25" fill="#f2a090" opacity="0.8"/>
<circle cx="830.80" cy="1084.39" r="1.25" fill="#f2a090" opacity="0.8"/>
<circle cx="834.66" cy="1091.96" r="1.25" fill="#f2a090" opacity="0.8"/>
<circle cx="829.87" cy="1090.36" r="1.25" fill="#f2a090" opacity="0.8"/>
<circle cx="835.22" cy="1083.49" r="1.25" fill="#f2a090" opacity="0.8"/>
<circle cx="834.12" cy="1088.33" r="1.25" fill="#f2a090" opacity="0.8"/>
<circle cx="830.98" cy="1066.81" r="1.25" fill="#f2a090" opacity="0.8"/>
<circle cx="828.78" cy="1089.79" r="1.25" fill="#f2a090" opacity="0.8"/>
<circle cx="833.52" cy="1054.63" r="1.25" fill="#f2a090" opacity="0.8"/>
<circle cx="835.21" cy="1098.19" r="1.25" fill="#f2a090" opacity="0.8"/>
<circle cx="827.59" cy="1097.53" r="1.25" fill="#f2a090" opacity="0.8"/>
<circle cx="827.47" cy="1095.44" r="1.25" fill="#f2a090" opacity="0.8"/>
<circle cx="831.23" cy="1034.02" r="1.25" fill="#f2a090" opacity="0.8"/>
<circle cx="832.91" cy="1092.61" r="1.25" fill="#f2a090" opacity="0.8"/>
<circle cx="826.86" cy="1097.81" r="1.25" fill="#f2a090" opacity="0.8"/>
<circle cx="831.13" cy="1092.50" r="1.25" fill="#f2a090" opacity="0.8"/>
<circle cx="831.80" cy="1050.28" r="1.25" fill="#f2a090" opacity="0.8"/>
<circle cx="832.38" cy="1097.25" r="1.25" fill="#f2a090" opacity="0.8"/>
<circle cx="831.36" cy="1081.94" r="1.25" fill="#f2a090" opacity="0.8"/>
<circle cx="833.06" cy="1070.52" r="1.25" fill="#f2a090" opacity="0.8"/>
<circle cx="834.70" cy="1069.07" r="1.25" fill="#f2a090" opacity="0.8"/>
<circle cx="836.65" cy="1094.92" r="1.25" fill="#f2a090" opacity="0.8"/>
<line x1="832.00" y1="1034.02" x2="832.00" y2="1066.26" stroke="#f0a08e" stroke-width="1" stroke-linecap="butt"/>
<line x1="829.20" y1="1034.02" x2="834.80" y2="1034.02" stroke="#f0a08e" stroke-width="1.1" stroke-linecap="butt"/>
<rect x="825.50" y="1066.26" width="13.00" height="27.28" fill="none" stroke="#f0a08e" stroke-width="1" />
<line x1="825.50" y1="1083.62" x2="838.50" y2="1083.62" stroke="#f0a08e" stroke-width="1" stroke-linecap="butt"/>
<line x1="832.00" y1="1098.50" x2="832.00" y2="1103.00" stroke="#1a1a1a" stroke-width="1.6" stroke-linecap="butt"/>
<text x="832.00" y="1116.50" text-anchor="middle" fill="#1a1a1a" style="font-size:12.5px">+</text>
<circle cx="851.84" cy="1073.04" r="1.25" fill="#cfcfcf" opacity="0.8"/>
<circle cx="847.45" cy="1076.85" r="1.25" fill="#cfcfcf" opacity="0.8"/>
<circle cx="847.31" cy="1093.51" r="1.25" fill="#cfcfcf" opacity="0.8"/>
<circle cx="850.97" cy="1098.50" r="1.25" fill="#cfcfcf" opacity="0.8"/>
<circle cx="846.22" cy="1096.67" r="1.25" fill="#cfcfcf" opacity="0.8"/>
<circle cx="853.11" cy="1073.93" r="1.25" fill="#cfcfcf" opacity="0.8"/>
<circle cx="849.73" cy="1056.70" r="1.25" fill="#cfcfcf" opacity="0.8"/>
<circle cx="852.90" cy="1095.06" r="1.25" fill="#cfcfcf" opacity="0.8"/>
<circle cx="847.85" cy="1096.77" r="1.25" fill="#cfcfcf" opacity="0.8"/>
<circle cx="846.60" cy="1077.09" r="1.25" fill="#cfcfcf" opacity="0.8"/>
<circle cx="845.05" cy="1098.05" r="1.25" fill="#cfcfcf" opacity="0.8"/>
<circle cx="845.46" cy="1093.56" r="1.25" fill="#cfcfcf" opacity="0.8"/>
<circle cx="848.65" cy="1091.57" r="1.25" fill="#cfcfcf" opacity="0.8"/>
<circle cx="849.83" cy="1017.05" r="1.25" fill="#cfcfcf" opacity="0.8"/>
<circle cx="850.43" cy="1030.96" r="1.25" fill="#cfcfcf" opacity="0.8"/>
<circle cx="851.80" cy="1086.56" r="1.25" fill="#cfcfcf" opacity="0.8"/>
<circle cx="855.31" cy="1097.54" r="1.25" fill="#cfcfcf" opacity="0.8"/>
<circle cx="852.91" cy="1070.41" r="1.25" fill="#cfcfcf" opacity="0.8"/>
<circle cx="847.42" cy="1084.93" r="1.25" fill="#cfcfcf" opacity="0.8"/>
<circle cx="846.59" cy="1078.97" r="1.25" fill="#cfcfcf" opacity="0.8"/>
<circle cx="855.13" cy="1087.39" r="1.25" fill="#cfcfcf" opacity="0.8"/>
<circle cx="845.50" cy="1094.23" r="1.25" fill="#cfcfcf" opacity="0.8"/>
<circle cx="851.47" cy="1075.38" r="1.25" fill="#cfcfcf" opacity="0.8"/>
<circle cx="854.84" cy="1094.63" r="1.25" fill="#cfcfcf" opacity="0.8"/>
<circle cx="849.27" cy="1032.57" r="1.25" fill="#cfcfcf" opacity="0.8"/>
<circle cx="847.99" cy="1074.85" r="1.25" fill="#cfcfcf" opacity="0.8"/>
<circle cx="848.36" cy="1069.95" r="1.25" fill="#cfcfcf" opacity="0.8"/>
<circle cx="855.02" cy="1091.03" r="1.25" fill="#cfcfcf" opacity="0.8"/>
<circle cx="851.89" cy="1061.73" r="1.25" fill="#cfcfcf" opacity="0.8"/>
<circle cx="846.95" cy="1085.53" r="1.25" fill="#cfcfcf" opacity="0.8"/>
<circle cx="847.26" cy="1080.98" r="1.25" fill="#cfcfcf" opacity="0.8"/>
<circle cx="847.79" cy="1082.84" r="1.25" fill="#cfcfcf" opacity="0.8"/>
<circle cx="846.33" cy="1097.18" r="1.25" fill="#cfcfcf" opacity="0.8"/>
<circle cx="850.26" cy="1096.68" r="1.25" fill="#cfcfcf" opacity="0.8"/>
<circle cx="847.48" cy="1097.62" r="1.25" fill="#cfcfcf" opacity="0.8"/>
<circle cx="846.67" cy="1095.36" r="1.25" fill="#cfcfcf" opacity="0.8"/>
<circle cx="855.63" cy="1097.69" r="1.25" fill="#cfcfcf" opacity="0.8"/>
<circle cx="847.27" cy="1095.29" r="1.25" fill="#cfcfcf" opacity="0.8"/>
<circle cx="848.08" cy="1060.54" r="1.25" fill="#cfcfcf" opacity="0.8"/>
<circle cx="847.10" cy="1083.06" r="1.25" fill="#cfcfcf" opacity="0.8"/>
<circle cx="852.64" cy="1095.45" r="1.25" fill="#cfcfcf" opacity="0.8"/>
<circle cx="852.44" cy="1086.31" r="1.25" fill="#cfcfcf" opacity="0.8"/>
<circle cx="847.81" cy="1058.84" r="1.25" fill="#cfcfcf" opacity="0.8"/>
<circle cx="848.52" cy="1081.62" r="1.25" fill="#cfcfcf" opacity="0.8"/>
<circle cx="849.13" cy="1081.13" r="1.25" fill="#cfcfcf" opacity="0.8"/>
<circle cx="849.22" cy="1093.35" r="1.25" fill="#cfcfcf" opacity="0.8"/>
<circle cx="849.36" cy="1011.73" r="1.25" fill="#cfcfcf" opacity="0.8"/>
<circle cx="850.55" cy="1071.01" r="1.25" fill="#cfcfcf" opacity="0.8"/>
<circle cx="845.54" cy="1091.26" r="1.25" fill="#cfcfcf" opacity="0.8"/>
<circle cx="851.49" cy="1097.29" r="1.25" fill="#cfcfcf" opacity="0.8"/>
<circle cx="848.98" cy="1077.39" r="1.25" fill="#cfcfcf" opacity="0.8"/>
<circle cx="849.76" cy="1060.04" r="1.25" fill="#cfcfcf" opacity="0.8"/>
<circle cx="848.15" cy="1062.80" r="1.25" fill="#cfcfcf" opacity="0.8"/>
<circle cx="850.71" cy="1006.74" r="1.25" fill="#cfcfcf" opacity="0.8"/>
<circle cx="845.81" cy="1094.19" r="1.25" fill="#cfcfcf" opacity="0.8"/>
<circle cx="847.62" cy="1081.32" r="1.25" fill="#cfcfcf" opacity="0.8"/>
<circle cx="854.39" cy="1092.87" r="1.25" fill="#cfcfcf" opacity="0.8"/>
<circle cx="851.73" cy="1096.77" r="1.25" fill="#cfcfcf" opacity="0.8"/>
<circle cx="849.27" cy="1096.44" r="1.25" fill="#cfcfcf" opacity="0.8"/>
<circle cx="850.66" cy="1079.51" r="1.25" fill="#cfcfcf" opacity="0.8"/>
<circle cx="848.50" cy="1071.83" r="1.25" fill="#cfcfcf" opacity="0.8"/>
<circle cx="854.50" cy="1084.46" r="1.25" fill="#cfcfcf" opacity="0.8"/>
<circle cx="853.26" cy="1066.54" r="1.25" fill="#cfcfcf" opacity="0.8"/>
<circle cx="852.18" cy="1073.43" r="1.25" fill="#cfcfcf" opacity="0.8"/>
<circle cx="851.84" cy="1091.31" r="1.25" fill="#cfcfcf" opacity="0.8"/>
<circle cx="851.88" cy="1094.37" r="1.25" fill="#cfcfcf" opacity="0.8"/>
<circle cx="852.97" cy="1084.18" r="1.25" fill="#cfcfcf" opacity="0.8"/>
<circle cx="853.17" cy="1072.64" r="1.25" fill="#cfcfcf" opacity="0.8"/>
<circle cx="851.84" cy="1016.26" r="1.25" fill="#cfcfcf" opacity="0.8"/>
<circle cx="846.19" cy="1084.39" r="1.25" fill="#cfcfcf" opacity="0.8"/>
<circle cx="850.05" cy="1098.26" r="1.25" fill="#cfcfcf" opacity="0.8"/>
<circle cx="852.78" cy="1085.26" r="1.25" fill="#cfcfcf" opacity="0.8"/>
<circle cx="851.14" cy="1094.54" r="1.25" fill="#cfcfcf" opacity="0.8"/>
<circle cx="847.83" cy="1063.52" r="1.25" fill="#cfcfcf" opacity="0.8"/>
<circle cx="852.41" cy="1085.89" r="1.25" fill="#cfcfcf" opacity="0.8"/>
<circle cx="853.91" cy="1096.56" r="1.25" fill="#cfcfcf" opacity="0.8"/>
<circle cx="846.24" cy="1085.81" r="1.25" fill="#cfcfcf" opacity="0.8"/>
<circle cx="846.77" cy="1091.27" r="1.25" fill="#cfcfcf" opacity="0.8"/>
<circle cx="851.72" cy="1097.61" r="1.25" fill="#cfcfcf" opacity="0.8"/>
<circle cx="850.00" cy="1075.21" r="1.25" fill="#cfcfcf" opacity="0.8"/>
<circle cx="847.36" cy="1088.79" r="1.25" fill="#cfcfcf" opacity="0.8"/>
<circle cx="854.76" cy="1089.14" r="1.25" fill="#cfcfcf" opacity="0.8"/>
<circle cx="848.67" cy="1081.46" r="1.25" fill="#cfcfcf" opacity="0.8"/>
<circle cx="850.52" cy="1088.21" r="1.25" fill="#cfcfcf" opacity="0.8"/>
<circle cx="851.53" cy="1071.87" r="1.25" fill="#cfcfcf" opacity="0.8"/>
<circle cx="852.84" cy="1057.40" r="1.25" fill="#cfcfcf" opacity="0.8"/>
<circle cx="850.78" cy="1066.04" r="1.25" fill="#cfcfcf" opacity="0.8"/>
<circle cx="848.07" cy="1073.54" r="1.25" fill="#cfcfcf" opacity="0.8"/>
<circle cx="848.12" cy="1066.81" r="1.25" fill="#cfcfcf" opacity="0.8"/>
<circle cx="847.82" cy="1078.45" r="1.25" fill="#cfcfcf" opacity="0.8"/>
<line x1="850.50" y1="1006.74" x2="850.50" y2="1066.26" stroke="#c4c4c4" stroke-width="1" stroke-linecap="butt"/>
<line x1="847.70" y1="1006.74" x2="853.30" y2="1006.74" stroke="#c4c4c4" stroke-width="1.1" stroke-linecap="butt"/>
<rect x="844.00" y="1066.26" width="13.00" height="21.58" fill="none" stroke="#c4c4c4" stroke-width="1" />
<line x1="844.00" y1="1081.14" x2="857.00" y2="1081.14" stroke="#c4c4c4" stroke-width="1" stroke-linecap="butt"/>
<line x1="850.50" y1="1098.50" x2="850.50" y2="1103.00" stroke="#1a1a1a" stroke-width="1.6" stroke-linecap="butt"/>
<text x="850.50" y="1116.50" text-anchor="middle" fill="#1a1a1a" style="font-size:12.5px">-</text>
<circle cx="866.86" cy="1085.43" r="1.25" fill="#f7cfc8" opacity="0.8"/>
<circle cx="870.84" cy="1095.11" r="1.25" fill="#f7cfc8" opacity="0.8"/>
<circle cx="870.61" cy="1064.65" r="1.25" fill="#f7cfc8" opacity="0.8"/>
<circle cx="867.94" cy="1097.53" r="1.25" fill="#f7cfc8" opacity="0.8"/>
<circle cx="871.41" cy="1080.37" r="1.25" fill="#f7cfc8" opacity="0.8"/>
<circle cx="868.27" cy="1092.27" r="1.25" fill="#f7cfc8" opacity="0.8"/>
<circle cx="871.54" cy="1093.38" r="1.25" fill="#f7cfc8" opacity="0.8"/>
<circle cx="867.61" cy="1089.01" r="1.25" fill="#f7cfc8" opacity="0.8"/>
<circle cx="869.80" cy="1070.13" r="1.25" fill="#f7cfc8" opacity="0.8"/>
<circle cx="865.13" cy="1085.93" r="1.25" fill="#f7cfc8" opacity="0.8"/>
<circle cx="863.91" cy="1095.26" r="1.25" fill="#f7cfc8" opacity="0.8"/>
<circle cx="868.08" cy="1094.43" r="1.25" fill="#f7cfc8" opacity="0.8"/>
<circle cx="869.75" cy="1089.16" r="1.25" fill="#f7cfc8" opacity="0.8"/>
<circle cx="866.33" cy="1090.58" r="1.25" fill="#f7cfc8" opacity="0.8"/>
<circle cx="869.45" cy="1090.65" r="1.25" fill="#f7cfc8" opacity="0.8"/>
<circle cx="866.43" cy="1094.28" r="1.25" fill="#f7cfc8" opacity="0.8"/>
<circle cx="871.94" cy="1094.42" r="1.25" fill="#f7cfc8" opacity="0.8"/>
<circle cx="866.34" cy="1087.03" r="1.25" fill="#f7cfc8" opacity="0.8"/>
<circle cx="867.35" cy="1095.34" r="1.25" fill="#f7cfc8" opacity="0.8"/>
<circle cx="867.57" cy="1078.83" r="1.25" fill="#f7cfc8" opacity="0.8"/>
<circle cx="873.05" cy="1096.78" r="1.25" fill="#f7cfc8" opacity="0.8"/>
<circle cx="870.68" cy="1084.02" r="1.25" fill="#f7cfc8" opacity="0.8"/>
<circle cx="864.65" cy="1092.41" r="1.25" fill="#f7cfc8" opacity="0.8"/>
<circle cx="868.85" cy="1085.98" r="1.25" fill="#f7cfc8" opacity="0.8"/>
<circle cx="866.32" cy="1054.54" r="1.25" fill="#f7cfc8" opacity="0.8"/>
<circle cx="870.94" cy="1063.05" r="1.25" fill="#f7cfc8" opacity="0.8"/>
<circle cx="870.57" cy="1084.97" r="1.25" fill="#f7cfc8" opacity="0.8"/>
<circle cx="869.43" cy="1068.82" r="1.25" fill="#f7cfc8" opacity="0.8"/>
<circle cx="865.63" cy="1083.58" r="1.25" fill="#f7cfc8" opacity="0.8"/>
<circle cx="866.08" cy="1089.98" r="1.25" fill="#f7cfc8" opacity="0.8"/>
<circle cx="868.94" cy="1079.57" r="1.25" fill="#f7cfc8" opacity="0.8"/>
<circle cx="872.48" cy="1096.54" r="1.25" fill="#f7cfc8" opacity="0.8"/>
<circle cx="872.66" cy="1077.59" r="1.25" fill="#f7cfc8" opacity="0.8"/>
<circle cx="863.78" cy="1090.66" r="1.25" fill="#f7cfc8" opacity="0.8"/>
<circle cx="871.05" cy="1096.52" r="1.25" fill="#f7cfc8" opacity="0.8"/>
<circle cx="870.44" cy="1083.48" r="1.25" fill="#f7cfc8" opacity="0.8"/>
<circle cx="869.82" cy="1097.06" r="1.25" fill="#f7cfc8" opacity="0.8"/>
<circle cx="869.68" cy="1036.62" r="1.25" fill="#f7cfc8" opacity="0.8"/>
<circle cx="866.23" cy="1055.09" r="1.25" fill="#f7cfc8" opacity="0.8"/>
<circle cx="869.49" cy="1089.69" r="1.25" fill="#f7cfc8" opacity="0.8"/>
<circle cx="867.86" cy="1089.50" r="1.25" fill="#f7cfc8" opacity="0.8"/>
<circle cx="869.09" cy="1078.07" r="1.25" fill="#f7cfc8" opacity="0.8"/>
<circle cx="870.48" cy="1094.06" r="1.25" fill="#f7cfc8" opacity="0.8"/>
<circle cx="867.45" cy="1097.09" r="1.25" fill="#f7cfc8" opacity="0.8"/>
<circle cx="864.27" cy="1083.78" r="1.25" fill="#f7cfc8" opacity="0.8"/>
<circle cx="868.23" cy="1070.21" r="1.25" fill="#f7cfc8" opacity="0.8"/>
<circle cx="870.48" cy="1098.32" r="1.25" fill="#f7cfc8" opacity="0.8"/>
<circle cx="868.87" cy="1092.13" r="1.25" fill="#f7cfc8" opacity="0.8"/>
<circle cx="870.51" cy="1097.70" r="1.25" fill="#f7cfc8" opacity="0.8"/>
<circle cx="866.13" cy="1077.75" r="1.25" fill="#f7cfc8" opacity="0.8"/>
<circle cx="872.76" cy="1095.09" r="1.25" fill="#f7cfc8" opacity="0.8"/>
<circle cx="870.89" cy="1068.17" r="1.25" fill="#f7cfc8" opacity="0.8"/>
<circle cx="868.61" cy="1067.04" r="1.25" fill="#f7cfc8" opacity="0.8"/>
<circle cx="866.12" cy="1091.55" r="1.25" fill="#f7cfc8" opacity="0.8"/>
<circle cx="863.98" cy="1093.19" r="1.25" fill="#f7cfc8" opacity="0.8"/>
<circle cx="868.52" cy="1095.46" r="1.25" fill="#f7cfc8" opacity="0.8"/>
<circle cx="872.76" cy="1094.01" r="1.25" fill="#f7cfc8" opacity="0.8"/>
<circle cx="864.97" cy="1095.41" r="1.25" fill="#f7cfc8" opacity="0.8"/>
<circle cx="872.13" cy="1091.70" r="1.25" fill="#f7cfc8" opacity="0.8"/>
<circle cx="870.12" cy="1082.93" r="1.25" fill="#f7cfc8" opacity="0.8"/>
<circle cx="871.32" cy="1094.62" r="1.25" fill="#f7cfc8" opacity="0.8"/>
<circle cx="871.84" cy="1082.43" r="1.25" fill="#f7cfc8" opacity="0.8"/>
<circle cx="867.68" cy="1078.43" r="1.25" fill="#f7cfc8" opacity="0.8"/>
<circle cx="871.03" cy="1096.18" r="1.25" fill="#f7cfc8" opacity="0.8"/>
<circle cx="866.52" cy="1095.05" r="1.25" fill="#f7cfc8" opacity="0.8"/>
<circle cx="867.54" cy="1096.43" r="1.25" fill="#f7cfc8" opacity="0.8"/>
<circle cx="865.14" cy="1078.92" r="1.25" fill="#f7cfc8" opacity="0.8"/>
<circle cx="864.91" cy="1094.55" r="1.25" fill="#f7cfc8" opacity="0.8"/>
<circle cx="868.83" cy="1097.97" r="1.25" fill="#f7cfc8" opacity="0.8"/>
<circle cx="871.05" cy="1095.43" r="1.25" fill="#f7cfc8" opacity="0.8"/>
<circle cx="867.78" cy="1093.90" r="1.25" fill="#f7cfc8" opacity="0.8"/>
<circle cx="869.51" cy="1097.68" r="1.25" fill="#f7cfc8" opacity="0.8"/>
<circle cx="873.35" cy="1097.22" r="1.25" fill="#f7cfc8" opacity="0.8"/>
<circle cx="868.50" cy="1081.60" r="1.25" fill="#f7cfc8" opacity="0.8"/>
<circle cx="872.78" cy="1084.07" r="1.25" fill="#f7cfc8" opacity="0.8"/>
<circle cx="867.69" cy="1096.58" r="1.25" fill="#f7cfc8" opacity="0.8"/>
<circle cx="873.17" cy="1093.63" r="1.25" fill="#f7cfc8" opacity="0.8"/>
<circle cx="869.25" cy="1069.99" r="1.25" fill="#f7cfc8" opacity="0.8"/>
<circle cx="873.18" cy="1091.49" r="1.25" fill="#f7cfc8" opacity="0.8"/>
<circle cx="863.86" cy="1094.68" r="1.25" fill="#f7cfc8" opacity="0.8"/>
<circle cx="870.11" cy="1043.88" r="1.25" fill="#f7cfc8" opacity="0.8"/>
<circle cx="866.25" cy="1095.58" r="1.25" fill="#f7cfc8" opacity="0.8"/>
<circle cx="866.96" cy="1089.62" r="1.25" fill="#f7cfc8" opacity="0.8"/>
<circle cx="870.47" cy="1093.79" r="1.25" fill="#f7cfc8" opacity="0.8"/>
<circle cx="865.06" cy="1093.53" r="1.25" fill="#f7cfc8" opacity="0.8"/>
<circle cx="871.55" cy="1092.92" r="1.25" fill="#f7cfc8" opacity="0.8"/>
<circle cx="866.52" cy="1095.00" r="1.25" fill="#f7cfc8" opacity="0.8"/>
<circle cx="870.33" cy="1093.81" r="1.25" fill="#f7cfc8" opacity="0.8"/>
<circle cx="864.40" cy="1094.00" r="1.25" fill="#f7cfc8" opacity="0.8"/>
<circle cx="866.41" cy="1089.61" r="1.25" fill="#f7cfc8" opacity="0.8"/>
<line x1="868.80" y1="991.86" x2="868.80" y2="1068.74" stroke="#f4c4bc" stroke-width="1" stroke-linecap="butt"/>
<line x1="866.00" y1="991.86" x2="871.60" y2="991.86" stroke="#f4c4bc" stroke-width="1.1" stroke-linecap="butt"/>
<rect x="862.30" y="1068.74" width="13.00" height="27.28" fill="none" stroke="#f4c4bc" stroke-width="1" />
<line x1="862.30" y1="1088.58" x2="875.30" y2="1088.58" stroke="#f4c4bc" stroke-width="1" stroke-linecap="butt"/>
<line x1="868.80" y1="1098.50" x2="868.80" y2="1103.00" stroke="#1a1a1a" stroke-width="1.6" stroke-linecap="butt"/>
<text x="868.80" y="1116.50" text-anchor="middle" fill="#1a1a1a" style="font-size:12.5px">+</text>
<line x1="765.00" y1="1098.50" x2="881.60" y2="1098.50" stroke="#111" stroke-width="2.6" stroke-linecap="butt"/>
<line x1="628.10" y1="968.90" x2="647.20" y2="968.90" stroke="#1a1a1a" stroke-width="1.9" stroke-linecap="butt"/>
<text x="636.30" y="964.65" text-anchor="middle" fill="#1a1a1a" style="font-size:9.3px"><tspan font-style="italic">P</tspan> &lt; 0.0001</text>
<line x1="667.00" y1="976.00" x2="686.50" y2="976.00" stroke="#1a1a1a" stroke-width="1.9" stroke-linecap="butt"/>
<text x="679.10" y="973.65" text-anchor="middle" fill="#1a1a1a" style="font-size:9.3px"><tspan font-style="italic">P</tspan> = 0.4826</text>
<line x1="703.20" y1="987.00" x2="722.00" y2="987.00" stroke="#1a1a1a" stroke-width="1.9" stroke-linecap="butt"/>
<text x="712.00" y="985.75" text-anchor="middle" fill="#1a1a1a" style="font-size:9.3px"><tspan font-style="italic">P</tspan> = 0.5320</text>
<line x1="776.70" y1="998.50" x2="795.60" y2="998.50" stroke="#1a1a1a" stroke-width="1.9" stroke-linecap="butt"/>
<text x="788.80" y="996.15" text-anchor="middle" fill="#1a1a1a" style="font-size:9.3px"><tspan font-style="italic">P</tspan> = 0.0034</text>
<line x1="812.10" y1="986.30" x2="831.40" y2="986.30" stroke="#1a1a1a" stroke-width="1.9" stroke-linecap="butt"/>
<text x="818.40" y="983.15" text-anchor="middle" fill="#1a1a1a" style="font-size:9.3px"><tspan font-style="italic">P</tspan> = 0.7196</text>
<line x1="849.70" y1="986.30" x2="868.80" y2="986.30" stroke="#1a1a1a" stroke-width="1.9" stroke-linecap="butt"/>
<text x="865.90" y="983.15" text-anchor="middle" fill="#1a1a1a" style="font-size:9.3px"><tspan font-style="italic">P</tspan> = 0.1038</text>
<text x="0" y="0" transform="translate(576.11,1040.00) rotate(-90)" text-anchor="middle" fill="#1a1a1a" style="font-size:12.8px">RAD51 foci number</text>
<text x="0" y="0" transform="translate(593.98,1040.00) rotate(-90)" text-anchor="middle" fill="#1a1a1a" style="font-size:13px">per nucleus</text>
<line x1="620.60" y1="1122.00" x2="874.70" y2="1122.00" stroke="#1a1a1a" stroke-width="1.3" stroke-linecap="butt"/>
<text x="741.20" y="1139.86" text-anchor="middle" fill="#1a1a1a" style="font-size:13.5px">NM-R cGAS</text>
<line x1="618.70" y1="1178.00" x2="645.20" y2="1178.00" stroke="#8e8e8e" stroke-width="1.4" stroke-linecap="butt"/>
<circle cx="631.95" cy="1178.00" r="2.40" fill="#8e8e8e"/>
<text x="660.50" y="1181.53" text-anchor="start" fill="#2a2a2a" style="font-size:9.8px">shControl+EV</text>
<line x1="618.70" y1="1193.40" x2="645.20" y2="1193.40" stroke="#b8b8b8" stroke-width="1.4" stroke-linecap="butt"/>
<polygon points="631.95,1191.00 634.35,1195.32 629.55,1195.32" fill="#b8b8b8"/>
<text x="660.50" y="1196.93" text-anchor="start" fill="#2a2a2a" style="font-size:9.8px">shFANCI+EV</text>
<line x1="618.70" y1="1207.00" x2="645.20" y2="1207.00" stroke="#d4d4d4" stroke-width="1.4" stroke-linecap="butt"/>
<polygon points="631.95,1209.40 634.35,1205.08 629.55,1205.08" fill="#d4d4d4"/>
<text x="660.50" y="1210.53" text-anchor="start" fill="#2a2a2a" style="font-size:9.8px">shRAD50+EV</text>
<line x1="736.00" y1="1178.00" x2="764.20" y2="1178.00" stroke="#c8462e" stroke-width="1.4" stroke-linecap="butt"/>
<rect x="747.70" y="1175.60" width="4.80" height="4.80" fill="#c8462e"/>
<text x="778.50" y="1181.53" text-anchor="start" fill="#2a2a2a" style="font-size:9.8px">shControl+NM-R cGAS</text>
<line x1="736.00" y1="1193.40" x2="764.20" y2="1193.40" stroke="#e2958a" stroke-width="1.4" stroke-linecap="butt"/>
<polygon points="750.10,1191.00 752.50,1193.40 750.10,1195.80 747.70,1193.40" fill="#e2958a"/>
<text x="778.50" y="1196.93" text-anchor="start" fill="#2a2a2a" style="font-size:9.8px">shFANCI+NM-R cGAS</text>
<line x1="736.00" y1="1207.00" x2="764.20" y2="1207.00" stroke="#f3cbc4" stroke-width="1.4" stroke-linecap="butt"/>
<polygon points="750.10,1204.60 752.50,1207.00 750.10,1209.40 747.70,1207.00" fill="#f3cbc4"/>
<text x="778.50" y="1210.53" text-anchor="start" fill="#2a2a2a" style="font-size:9.8px">shRAD50+NM-R cGAS</text>
</svg>
</body></html>
